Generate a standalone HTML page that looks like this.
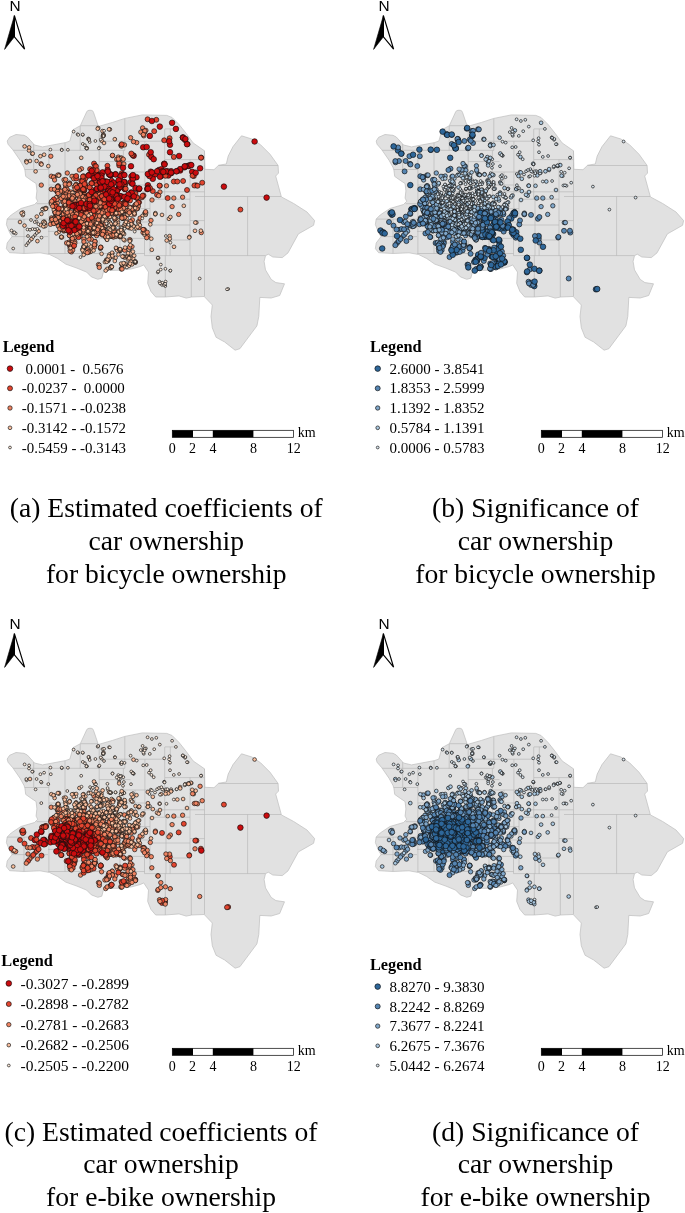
<!DOCTYPE html>
<html lang="en"><head><meta charset="utf-8"><title>Estimated coefficients and significance of car ownership</title>
<style>
html,body{margin:0;padding:0;background:#fff}
svg{display:block}
text{font-family:"Liberation Serif","Times New Roman",serif;fill:#000}
.lt{font-weight:bold}
.nn{font-family:"Liberation Sans",Arial,sans-serif}
.cap{font-size:27.6px;text-anchor:middle}
.pt circle,circle{stroke:#0c0c0c;stroke-width:.65px}
.r1{fill:#cb0b0e;r:2.8px}.b1{fill:#2e679a;r:2.8px}.r2{fill:#e2452f;r:2.5px}.b2{fill:#5585b2;r:2.5px}.r3{fill:#ee8462;r:2.2px}.b3{fill:#80a7ca;r:2.2px}.r4{fill:#f9bf9e;r:1.85px}.b4{fill:#a9c7df;r:1.85px}.r5{fill:#fdebdd;r:1.4px}.b5{fill:#dbe7f0;r:1.4px}
</style></head><body>
<svg width="685" height="1213" viewBox="0 0 685 1213">
<rect width="685" height="1213" fill="#fff"/>
<defs>
<clipPath id="clip"><path d="M86.6,112 87.6,110.7 89,110.3 91.2,110.3 92.6,110.8 93.5,112.3 98.3,126.5 112.5,122.4 124.8,118.4 142.3,114.9 166.8,115.4 172.1,117.5 179.1,124.5 186.1,133.3 193.1,142.9 204.5,150.8 204.9,169.3 214,169.7 218.7,165.2 226.3,164 228.2,156.1 233,146.6 241.5,135.8 251.9,139 260.5,144.7 270,154.2 278.1,165.5 278.5,173.1 275.7,176 281.4,196.9 293.7,203.5 307,212 314.6,220.6 313.6,225.3 298.4,233.9 288,252.9 282.3,257.6 272.8,257 268.3,254.2 265.5,255.7 264.1,261.4 265.5,269.9 271.2,279.4 275.9,282.6 284.5,283.8 279.7,295.5 271.2,298 259.8,297.4 258.8,316.4 256.9,325.9 239.9,348.7 235.1,350.2 224.7,342 216.1,337.3 212.3,327.8 211,316.4 212.3,305 204.2,296.5 191.8,297 186.2,298.1 179,295.9 165.3,297 155.7,297 150.9,291.4 147.7,283.4 148.5,272.1 143.7,264.9 140.4,266.5 131.5,268.9 120.3,270.2 107.4,270.5 103.4,272.1 101.8,278.2 97.8,279.3 91.4,276.9 86.6,272.1 76.9,268.1 65.7,264.1 57.7,258.5 49.6,254.5 40,252.8 24.1,253.5 9.6,252.7 6.4,248.7 7.2,243 12,236.6 9.6,232.6 6.4,224.6 7.2,219 11.2,215 20.9,208.5 34.5,204.5 37.7,201.3 36.1,198.1 36.9,190.9 36.1,183.6 31.3,180.4 25.7,176.4 24.9,170 24,167.4 20,160.2 12.8,149.8 8,144.2 7.2,141 9.6,137.3 16,134.5 24,135.3 27.3,137 34.5,145 42.5,146.9 65.8,142.5 69.9,141 73,129.7 80.3,125.7Z"/></clipPath>
<g id="base">
<path d="M86.6,112 87.6,110.7 89,110.3 91.2,110.3 92.6,110.8 93.5,112.3 98.3,126.5 112.5,122.4 124.8,118.4 142.3,114.9 166.8,115.4 172.1,117.5 179.1,124.5 186.1,133.3 193.1,142.9 204.5,150.8 204.9,169.3 214,169.7 218.7,165.2 226.3,164 228.2,156.1 233,146.6 241.5,135.8 251.9,139 260.5,144.7 270,154.2 278.1,165.5 278.5,173.1 275.7,176 281.4,196.9 293.7,203.5 307,212 314.6,220.6 313.6,225.3 298.4,233.9 288,252.9 282.3,257.6 272.8,257 268.3,254.2 265.5,255.7 264.1,261.4 265.5,269.9 271.2,279.4 275.9,282.6 284.5,283.8 279.7,295.5 271.2,298 259.8,297.4 258.8,316.4 256.9,325.9 239.9,348.7 235.1,350.2 224.7,342 216.1,337.3 212.3,327.8 211,316.4 212.3,305 204.2,296.5 191.8,297 186.2,298.1 179,295.9 165.3,297 155.7,297 150.9,291.4 147.7,283.4 148.5,272.1 143.7,264.9 140.4,266.5 131.5,268.9 120.3,270.2 107.4,270.5 103.4,272.1 101.8,278.2 97.8,279.3 91.4,276.9 86.6,272.1 76.9,268.1 65.7,264.1 57.7,258.5 49.6,254.5 40,252.8 24.1,253.5 9.6,252.7 6.4,248.7 7.2,243 12,236.6 9.6,232.6 6.4,224.6 7.2,219 11.2,215 20.9,208.5 34.5,204.5 37.7,201.3 36.1,198.1 36.9,190.9 36.1,183.6 31.3,180.4 25.7,176.4 24.9,170 24,167.4 20,160.2 12.8,149.8 8,144.2 7.2,141 9.6,137.3 16,134.5 24,135.3 27.3,137 34.5,145 42.5,146.9 65.8,142.5 69.9,141 73,129.7 80.3,125.7Z" fill="#e1e1e1" stroke="#bdbdbd" stroke-width="0.7" stroke-linejoin="round"/>
<path d="M12.8,150.3L125,150.3M23.5,169.5L48.9,169.5M36.6,203.7L65,203.7M65,180L99.2,180M99.2,161.6L130.5,161.6M99.2,141.2L165,141.2M165,128.9L177.3,128.9M165,159.6L204.5,159.6M204.5,165.5L278.1,165.5M195,196.5L281.4,196.5M135,191.8L204.5,191.8M190,220.6L204.5,220.6M144.5,255.6L265.5,255.6M48.2,253.5L144.5,253.5M4,219.1L48,219.1M10,236.6L48,236.6M48,231.4L100,231.4M100,238.4L150,238.4M65,191.8L99,191.8M99,208.6L150,208.6M150,199.2L190,199.2M150,225L190,225M166,240L190,240M123.4,172L166,172M123.4,185L144.9,185M80.3,125.7L99.2,125.7M48.9,185L65,185M65,215L99,215M120,222L150,222M65,243L100,243M33.7,143.9L33.7,169.5M48.9,150.3L48.9,253.5M65,142.5L65,253.5M80.2,125.7L80.2,150.3M99.2,125.7L99.2,253.5M124.8,118.4L124.8,150.3M123.4,150.3L123.4,208.6M144.9,141.2L144.9,208.6M164.7,128.9L164.7,199.2M170.3,128.9L170.3,141.2M190,159.6L190,255.6M204.5,150.8L204.5,296.5M247.6,196.5L247.6,255.6M165.3,255.6L165.3,297M170.1,240L170.1,255.6M191.3,255.6L191.3,297M144.5,238.4L144.5,255.6M150,199.2L150,253.5M120,208.6L120,253.5M82,180L82,231.4M24,219.1L24,253.5M166,199.2L166,255.6M135,172L135,191.8M110,208.6L110,238.4M82,231.4L82,253.5" fill="none" stroke="#b2b2b2" stroke-width="0.6" clip-path="url(#clip)"/>
</g>
<g id="north">
<text x="15.1" y="11.4" class="nn" font-size="15.4" text-anchor="middle">N</text>
<path d="M14.4,15.6 L4.6,49.4 L14.4,36.8Z" fill="#000" stroke="#000" stroke-width="0.6" stroke-linejoin="miter"/>
<path d="M14.4,15.6 L24.6,49.2 L14.4,36.8Z" fill="#fff" stroke="#000" stroke-width="1.2" stroke-linejoin="miter"/>
</g>
<g id="scale">
<rect x="172.3" y="430.3" width="121.3" height="7" fill="#fff" stroke="#000" stroke-width="0.7"/>
<rect x="172.3" y="430.3" width="20.7" height="7" fill="#000"/>
<rect x="212.8" y="430.3" width="40.6" height="7" fill="#000"/>
<g font-size="14" text-anchor="middle"><text x="172.3" y="452.8">0</text><text x="192.6" y="452.8">2</text><text x="213" y="452.8">4</text><text x="253.6" y="452.8">8</text><text x="293.8" y="452.8">12</text></g>
<text x="297.8" y="437.4" font-size="14">km</text>
</g>
</defs>
<g transform="translate(0 0)">
<use href="#north"/>
<use href="#base"/>
<g class="pt"><circle class=r3 r=2.2 cx=89.8 cy=212.6 /><circle class=r3 r=2.2 cx=58.8 cy=187.4 /><circle class=r3 r=2.2 cx=78.3 cy=213.8 /><circle class=r3 r=2.2 cx=69.5 cy=205.9 /><circle class=r3 r=2.2 cx=99.6 cy=206 /><circle class=r3 r=2.2 cx=103.7 cy=213.4 /><circle class=r3 r=2.2 cx=104 cy=228.2 /><circle class=r3 r=2.2 cx=50.5 cy=224.3 /><circle class=r3 r=2.2 cx=112.5 cy=155.7 /><circle class=r3 r=2.2 cx=96.6 cy=209.2 /><circle class=r3 r=2.2 cx=132 cy=246.6 /><circle class=r3 r=2.2 cx=54.1 cy=199.6 /><circle class=r3 r=2.2 cx=79.6 cy=215.8 /><circle class=r3 r=2.2 cx=96.6 cy=225.4 /><circle class=r3 r=2.2 cx=65.5 cy=207 /><circle class=r3 r=2.2 cx=101 cy=225.6 /><circle class=r3 r=2.2 cx=65.7 cy=186.3 /><circle class=r3 r=2.2 cx=101.1 cy=226.3 /><circle class=r3 r=2.2 cx=76.3 cy=189.5 /><circle class=r3 r=2.2 cx=97.6 cy=210.2 /><circle class=r3 r=2.2 cx=58.1 cy=186 /><circle class=r3 r=2.2 cx=144.6 cy=132.6 /><circle class=r3 r=2.2 cx=99.2 cy=225.4 /><circle class=r3 r=2.2 cx=81.1 cy=223.2 /><circle class=r3 r=2.2 cx=90.9 cy=217.3 /><circle class=r3 r=2.2 cx=65.9 cy=212.3 /><circle class=r3 r=2.2 cx=88.6 cy=216.2 /><circle class=r3 r=2.2 cx=83.5 cy=197.5 /><circle class=r3 r=2.2 cx=99.8 cy=220 /><circle class=r3 r=2.2 cx=93.9 cy=200.7 /><circle class=r3 r=2.2 cx=83.8 cy=197.9 /><circle class=r3 r=2.2 cx=94.9 cy=228.3 /><circle class=r3 r=2.2 cx=77.4 cy=227 /><circle class=r3 r=2.2 cx=78.7 cy=213.6 /><circle class=r3 r=2.2 cx=69.7 cy=183.1 /><circle class=r3 r=2.2 cx=84.7 cy=219.1 /><circle class=r3 r=2.2 cx=67.4 cy=208.3 /><circle class=r3 r=2.2 cx=118.4 cy=209.1 /><circle class=r3 r=2.2 cx=122.5 cy=233.4 /><circle class=r3 r=2.2 cx=70.6 cy=201.4 /><circle class=r3 r=2.2 cx=85.9 cy=219.3 /><circle class=r3 r=2.2 cx=71.8 cy=238.9 /><circle class=r3 r=2.2 cx=69.8 cy=192.7 /><circle class=r3 r=2.2 cx=69.2 cy=205.5 /><circle class=r3 r=2.2 cx=84.8 cy=218.7 /><circle class=r3 r=2.2 cx=95.2 cy=232.5 /><circle class=r3 r=2.2 cx=51.3 cy=176.2 /><circle class=r3 r=2.2 cx=106.4 cy=213.9 /><circle class=r3 r=2.2 cx=92.3 cy=209.5 /><circle class=r3 r=2.2 cx=71.9 cy=194.9 /><circle class=r3 r=2.2 cx=63.2 cy=217.6 /><circle class=r3 r=2.2 cx=93.6 cy=230.2 /><circle class=r3 r=2.2 cx=70.3 cy=197.1 /><circle class=r3 r=2.2 cx=112.3 cy=211.8 /><circle class=r3 r=2.2 cx=71.5 cy=215.3 /><circle class=r3 r=2.2 cx=73.5 cy=214.3 /><circle class=r3 r=2.2 cx=81.7 cy=218.7 /><circle class=r3 r=2.2 cx=55.7 cy=203.5 /><circle class=r3 r=2.2 cx=69.5 cy=245.4 /><circle class=r3 r=2.2 cx=98.9 cy=226.1 /><circle class=r3 r=2.2 cx=107.4 cy=215 /><circle class=r3 r=2.2 cx=68.7 cy=242.3 /><circle class=r3 r=2.2 cx=89.5 cy=235.5 /><circle class=r3 r=2.2 cx=92 cy=215.3 /><circle class=r3 r=2.2 cx=57.4 cy=203.1 /><circle class=r3 r=2.2 cx=63.2 cy=190.7 /><circle class=r3 r=2.2 cx=106.4 cy=214.1 /><circle class=r3 r=2.2 cx=69.1 cy=206.3 /><circle class=r3 r=2.2 cx=90.7 cy=227.6 /><circle class=r3 r=2.2 cx=90.1 cy=219.3 /><circle class=r3 r=2.2 cx=65.3 cy=189.3 /><circle class=r3 r=2.2 cx=64.2 cy=193.1 /><circle class=r3 r=2.2 cx=95.6 cy=208.1 /><circle class=r3 r=2.2 cx=91 cy=223 /><circle class=r3 r=2.2 cx=70.6 cy=213.2 /><circle class=r3 r=2.2 cx=116.6 cy=248.7 /><circle class=r3 r=2.2 cx=131 cy=213.5 /><circle class=r3 r=2.2 cx=84.6 cy=201.8 /><circle class=r3 r=2.2 cx=77.7 cy=213.5 /><circle class=r3 r=2.2 cx=111 cy=236.4 /><circle class=r3 r=2.2 cx=152 cy=200 /><circle class=r3 r=2.2 cx=113 cy=236.6 /><circle class=r3 r=2.2 cx=87.7 cy=198.5 /><circle class=r3 r=2.2 cx=97.8 cy=217.5 /><circle class=r3 r=2.2 cx=105.8 cy=236.5 /><circle class=r3 r=2.2 cx=131.4 cy=222.4 /><circle class=r3 r=2.2 cx=55.1 cy=207.6 /><circle class=r3 r=2.2 cx=92.4 cy=203.3 /><circle class=r3 r=2.2 cx=79.5 cy=193.8 /><circle class=r3 r=2.2 cx=79 cy=204.2 /><circle class=r3 r=2.2 cx=82.9 cy=222.9 /><circle class=r3 r=2.2 cx=81.4 cy=233.2 /><circle class=r3 r=2.2 cx=79.1 cy=208.2 /><circle class=r3 r=2.2 cx=56.9 cy=191.7 /><circle class=r3 r=2.2 cx=78.8 cy=214.8 /><circle class=r3 r=2.2 cx=89.7 cy=202.8 /><circle class=r3 r=2.2 cx=71.5 cy=193.3 /><circle class=r3 r=2.2 cx=60.1 cy=209.8 /><circle class=r3 r=2.2 cx=66.6 cy=206.6 /><circle class=r3 r=2.2 cx=86.1 cy=220 /><circle class=r3 r=2.2 cx=61.5 cy=227.4 /><circle class=r3 r=2.2 cx=87.6 cy=202.5 /><circle class=r3 r=2.2 cx=75.6 cy=211.4 /><circle class=r3 r=2.2 cx=84.3 cy=218.2 /><circle class=r3 r=2.2 cx=83.2 cy=198.4 /><circle class=r3 r=2.2 cx=119 cy=209.5 /><circle class=r3 r=2.2 cx=75.8 cy=211.8 /><circle class=r3 r=2.2 cx=96.9 cy=217.4 /><circle class=r3 r=2.2 cx=118.3 cy=157.1 /><circle class=r3 r=2.2 cx=63 cy=208.6 /><circle class=r3 r=2.2 cx=93.3 cy=210.7 /><circle class=r3 r=2.2 cx=67.7 cy=209.2 /><circle class=r3 r=2.2 cx=72.4 cy=237.7 /><circle class=r3 r=2.2 cx=129.8 cy=239.6 /><circle class=r3 r=2.2 cx=160 cy=192 /><circle class=r3 r=2.2 cx=82.2 cy=212 /><circle class=r3 r=2.2 cx=64.2 cy=192.7 /><circle class=r3 r=2.2 cx=61.3 cy=226.4 /><circle class=r3 r=2.2 cx=100.1 cy=233.2 /><circle class=r3 r=2.2 cx=62.1 cy=227.2 /><circle class=r3 r=2.2 cx=129.2 cy=212.6 /><circle class=r3 r=2.2 cx=50.8 cy=156.2 /><circle class=r3 r=2.2 cx=93.7 cy=202.7 /><circle class=r3 r=2.2 cx=84 cy=201.8 /><circle class=r3 r=2.2 cx=87.4 cy=198.9 /><circle class=r3 r=2.2 cx=129.7 cy=208.9 /><circle class=r3 r=2.2 cx=77.8 cy=201.2 /><circle class=r3 r=2.2 cx=121 cy=145.4 /><circle class=r3 r=2.2 cx=73.6 cy=246.5 /><circle class=r3 r=2.2 cx=64 cy=192.9 /><circle class=r3 r=2.2 cx=83.1 cy=189.9 /><circle class=r3 r=2.2 cx=56.8 cy=221.6 /><circle class=r3 r=2.2 cx=85.8 cy=245.6 /><circle class=r3 r=2.2 cx=65.7 cy=220.7 /><circle class=r3 r=2.2 cx=78.2 cy=234.2 /><circle class=r3 r=2.2 cx=121.3 cy=145.2 /><circle class=r3 r=2.2 cx=114.1 cy=228.7 /><circle class=r3 r=2.2 cx=65.5 cy=209.3 /><circle class=r3 r=2.2 cx=82.2 cy=210.6 /><circle class=r3 r=2.2 cx=96.3 cy=209.2 /><circle class=r3 r=2.2 cx=53.8 cy=218.8 /><circle class=r3 r=2.2 cx=143.8 cy=135.8 /><circle class=r3 r=2.2 cx=107.2 cy=216.9 /><circle class=r3 r=2.2 cx=71.9 cy=216.9 /><circle class=r3 r=2.2 cx=81.1 cy=204.1 /><circle class=r3 r=2.2 cx=65.7 cy=204.7 /><circle class=r3 r=2.2 cx=90.3 cy=216.9 /><circle class=r3 r=2.2 cx=111.6 cy=212.3 /><circle class=r3 r=2.2 cx=59.5 cy=212.5 /><circle class=r3 r=2.2 cx=127.7 cy=226.7 /><circle class=r3 r=2.2 cx=77.5 cy=234.2 /><circle class=r4 r=1.85 cx=44.3 cy=226.3 /><circle class=r4 r=1.85 cx=109.4 cy=217.6 /><circle class=r4 r=1.85 cx=158.1 cy=258 /><circle class=r4 r=1.85 cx=44.1 cy=154.7 /><circle class=r3 r=2.2 cx=62.5 cy=212.1 /><circle class=r4 r=1.85 cx=113.3 cy=236.8 /><circle class=r3 r=2.2 cx=68.2 cy=202.9 /><circle class=r3 r=2.2 cx=119.9 cy=161.1 /><circle class=r4 r=1.85 cx=85.2 cy=251.7 /><circle class=r3 r=2.2 cx=60.6 cy=225.7 /><circle class=r3 r=2.2 cx=77.9 cy=209.6 /><circle class=r2 r=2.5 cx=142 cy=197.3 /><circle class=r3 r=2.2 cx=130.6 cy=137.7 /><circle class=r3 r=2.2 cx=91.9 cy=209.1 /><circle class=r2 r=2.5 cx=157 cy=194.8 /><circle class=r2 r=2.5 cx=202.2 cy=182.7 /><circle class=r4 r=1.85 cx=130.9 cy=253.3 /><circle class=r3 r=2.2 cx=123.1 cy=218.4 /><circle class=r3 r=2.2 cx=82.6 cy=213.5 /><circle class=r3 r=2.2 cx=122 cy=264.6 /><circle class=r4 r=1.85 cx=94.6 cy=245.1 /><circle class=r4 r=1.85 cx=45.5 cy=209 /><circle class=r3 r=2.2 cx=96.6 cy=204.7 /><circle class=r3 r=2.2 cx=59.6 cy=210.1 /><circle class=r3 r=2.2 cx=103.3 cy=232.2 /><circle class=r3 r=2.2 cx=84.1 cy=218 /><circle class=r3 r=2.2 cx=89.8 cy=224.6 /><circle class=r4 r=1.85 cx=131.6 cy=212.8 /><circle class=r2 r=2.5 cx=77.3 cy=234.5 /><circle class=r3 r=2.2 cx=139 cy=227.6 /><circle class=r3 r=2.2 cx=114.1 cy=231.5 /><circle class=r3 r=2.2 cx=88.6 cy=231.4 /><circle class=r3 r=2.2 cx=72.1 cy=195.8 /><circle class=r3 r=2.2 cx=143 cy=232.5 /><circle class=r2 r=2.5 cx=97.3 cy=199.1 /><circle class=r3 r=2.2 cx=132.4 cy=219.9 /><circle class=r3 r=2.2 cx=103.7 cy=228.7 /><circle class=r2 r=2.5 cx=121.7 cy=173.2 /><circle class=r3 r=2.2 cx=104 cy=228.9 /><circle class=r4 r=1.85 cx=35.6 cy=171.4 /><circle class=r4 r=1.85 cx=122.2 cy=265 /><circle class=r3 r=2.2 cx=51.4 cy=202 /><circle class=r3 r=2.2 cx=69.6 cy=201.7 /><circle class=r3 r=2.2 cx=72.6 cy=213.9 /><circle class=r4 r=1.85 cx=162 cy=214.9 /><circle class=r2 r=2.5 cx=115.4 cy=207.8 /><circle class=r2 r=2.5 cx=123.3 cy=203.1 /><circle class=r3 r=2.2 cx=83.8 cy=239.1 /><circle class=r3 r=2.2 cx=98 cy=203.2 /><circle class=r3 r=2.2 cx=72.4 cy=216.2 /><circle class=r4 r=1.85 cx=119 cy=212.5 /><circle class=r2 r=2.5 cx=56.5 cy=222.1 /><circle class=r4 r=1.85 cx=121.8 cy=218 /><circle class=r3 r=2.2 cx=85.8 cy=208.6 /><circle class=r4 r=1.85 cx=95.5 cy=244.7 /><circle class=r3 r=2.2 cx=95.2 cy=217.7 /><circle class=r3 r=2.2 cx=101.3 cy=232.6 /><circle class=r3 r=2.2 cx=102.1 cy=215.5 /><circle class=r3 r=2.2 cx=85.4 cy=216.2 /><circle class=r3 r=2.2 cx=98.8 cy=203.8 /><circle class=r2 r=2.5 cx=104.1 cy=199 /><circle class=r3 r=2.2 cx=60.8 cy=226.5 /><circle class=r3 r=2.2 cx=67 cy=189.4 /><circle class=r4 r=1.85 cx=88.4 cy=139 /><circle class=r3 r=2.2 cx=64.7 cy=211.3 /><circle class=r4 r=1.85 cx=107 cy=239.7 /><circle class=r3 r=2.2 cx=55.9 cy=220 /><circle class=r4 r=1.85 cx=189.4 cy=236.9 /><circle class=r3 r=2.2 cx=63.7 cy=195.9 /><circle class=r3 r=2.2 cx=88.1 cy=229.1 /><circle class=r2 r=2.5 cx=121.7 cy=175.7 /><circle class=r4 r=1.85 cx=76 cy=211.7 /><circle class=r3 r=2.2 cx=117.7 cy=211.6 /><circle class=r3 r=2.2 cx=123.9 cy=164 /><circle class=r2 r=2.5 cx=104 cy=207.4 /><circle class=r4 r=1.85 cx=86.8 cy=148.2 /><circle class=r3 r=2.2 cx=96 cy=208.2 /><circle class=r3 r=2.2 cx=82.9 cy=198.8 /><circle class=r2 r=2.5 cx=98.9 cy=196.7 /><circle class=r3 r=2.2 cx=87.2 cy=217.9 /><circle class=r4 r=1.85 cx=136.6 cy=209.2 /><circle class=r3 r=2.2 cx=69 cy=201.8 /><circle class=r4 r=1.85 cx=129.7 cy=248.7 /><circle class=r3 r=2.2 cx=58.7 cy=190.9 /><circle class=r3 r=2.2 cx=99.9 cy=232 /><circle class=r3 r=2.2 cx=89.3 cy=199.1 /><circle class=r3 r=2.2 cx=133 cy=155 /><circle class=r3 r=2.2 cx=89.6 cy=204.1 /><circle class=r3 r=2.2 cx=64 cy=179.8 /><circle class=r3 r=2.2 cx=118 cy=208.9 /><circle class=r3 r=2.2 cx=98.3 cy=202.4 /><circle class=r3 r=2.2 cx=134.4 cy=214.3 /><circle class=r3 r=2.2 cx=57.3 cy=215.9 /><circle class=r4 r=1.85 cx=30 cy=161 /><circle class=r2 r=2.5 cx=173.8 cy=156.9 /><circle class=r3 r=2.2 cx=66.3 cy=204.5 /><circle class=r2 r=2.5 cx=106.8 cy=209.6 /><circle class=r4 r=1.85 cx=129.3 cy=228.1 /><circle class=r3 r=2.2 cx=88 cy=207.1 /><circle class=r4 r=1.85 cx=144.5 cy=213.1 /><circle class=r2 r=2.5 cx=125.1 cy=203.4 /><circle class=r4 r=1.85 cx=106.4 cy=236.7 /><circle class=r3 r=2.2 cx=66.7 cy=217.7 /><circle class=r4 r=1.85 cx=135.5 cy=262.4 /><circle class=r2 r=2.5 cx=90 cy=199.5 /><circle class=r4 r=1.85 cx=106.1 cy=223.6 /><circle class=r4 r=1.85 cx=130.5 cy=259.3 /><circle class=r4 r=1.85 cx=114.7 cy=220 /><circle class=r3 r=2.2 cx=89 cy=218.2 /><circle class=r3 r=2.2 cx=77.1 cy=230.5 /><circle class=r4 r=1.85 cx=100.9 cy=247.9 /><circle class=r2 r=2.5 cx=103.6 cy=199.7 /><circle class=r4 r=1.85 cx=31.5 cy=239 /><circle class=r2 r=2.5 cx=92.7 cy=212.7 /><circle class=r2 r=2.5 cx=108.8 cy=208.6 /><circle class=r3 r=2.2 cx=142.6 cy=127.9 /><circle class=r3 r=2.2 cx=73.5 cy=223.7 /><circle class=r4 r=1.85 cx=84.1 cy=247 /><circle class=r3 r=2.2 cx=89.6 cy=204 /><circle class=r3 r=2.2 cx=68.4 cy=211.8 /><circle class=r4 r=1.85 cx=117.2 cy=250.5 /><circle class=r3 r=2.2 cx=123.9 cy=256.9 /><circle class=r3 r=2.2 cx=96.2 cy=200.7 /><circle class=r3 r=2.2 cx=89.3 cy=224.6 /><circle class=r2 r=2.5 cx=139.3 cy=188.9 /><circle class=r3 r=2.2 cx=106.6 cy=259.9 /><circle class=r2 r=2.5 cx=196 cy=185.3 /><circle class=r4 r=1.85 cx=118.4 cy=254.5 /><circle class=r2 r=2.5 cx=136.1 cy=197.3 /><circle class=r3 r=2.2 cx=59.2 cy=212.8 /><circle class=r3 r=2.2 cx=73.8 cy=196.8 /><circle class=r2 r=2.5 cx=173.8 cy=181.5 /><circle class=r2 r=2.5 cx=96.1 cy=200.6 /><circle class=r2 r=2.5 cx=124.4 cy=188.8 /><circle class=r2 r=2.5 cx=83.4 cy=207.3 /><circle class=r4 r=1.85 cx=24.6 cy=146.4 /><circle class=r3 r=2.2 cx=80 cy=236.3 /><circle class=r4 r=1.85 cx=129.3 cy=212.8 /><circle class=r3 r=2.2 cx=85 cy=228.2 /><circle class=r4 r=1.85 cx=103.3 cy=134.9 /><circle class=r2 r=2.5 cx=94 cy=198.1 /><circle class=r3 r=2.2 cx=76.5 cy=184.8 /><circle class=r4 r=1.85 cx=115.7 cy=214.2 /><circle class=r2 r=2.5 cx=143.5 cy=195.5 /><circle class=r3 r=2.2 cx=124.5 cy=144.9 /><circle class=r2 r=2.5 cx=135.5 cy=193.9 /><circle class=r4 r=1.85 cx=113.4 cy=227.8 /><circle class=r3 r=2.2 cx=93.6 cy=206.8 /><circle class=r4 r=1.85 cx=151.8 cy=249.8 /><circle class=r4 r=1.85 cx=122.8 cy=232.4 /><circle class=r3 r=2.2 cx=68.7 cy=194.2 /><circle class=r2 r=2.5 cx=104.5 cy=199.7 /><circle class=r2 r=2.5 cx=107.4 cy=165.8 /><circle class=r3 r=2.2 cx=99 cy=203.8 /><circle class=r3 r=2.2 cx=57 cy=197.5 /><circle class=r2 r=2.5 cx=109.2 cy=187.4 /><circle class=r2 r=2.5 cx=83.4 cy=189.6 /><circle class=r3 r=2.2 cx=74.1 cy=216 /><circle class=r3 r=2.2 cx=138.5 cy=221.6 /><circle class=r4 r=1.85 cx=124.9 cy=265.8 /><circle class=r3 r=2.2 cx=63.7 cy=208.3 /><circle class=r3 r=2.2 cx=77.5 cy=211.5 /><circle class=r4 r=1.85 cx=105 cy=219.5 /><circle class=r4 r=1.85 cx=111.4 cy=256.8 /><circle class=r4 r=1.85 cx=168.9 cy=218.8 /><circle class=r3 r=2.2 cx=74 cy=235.6 /><circle class=r4 r=1.85 cx=126 cy=223 /><circle class=r4 r=1.85 cx=103.1 cy=221.5 /><circle class=r2 r=2.5 cx=96.7 cy=180.9 /><circle class=r2 r=2.5 cx=85.1 cy=186.9 /><circle class=r2 r=2.5 cx=99.1 cy=195.3 /><circle class=r3 r=2.2 cx=84.9 cy=233.3 /><circle class=r3 r=2.2 cx=85.2 cy=218.3 /><circle class=r4 r=1.85 cx=96.8 cy=228.3 /><circle class=r3 r=2.2 cx=100.9 cy=206.6 /><circle class=r2 r=2.5 cx=109 cy=209.2 /><circle class=r2 r=2.5 cx=96 cy=202.3 /><circle class=r3 r=2.2 cx=75.8 cy=189.8 /><circle class=r4 r=1.85 cx=93 cy=233.2 /><circle class=r3 r=2.2 cx=98.6 cy=233 /><circle class=r3 r=2.2 cx=70.8 cy=192 /><circle class=r2 r=2.5 cx=136.9 cy=198 /><circle class=r4 r=1.85 cx=107.9 cy=260.8 /><circle class=r3 r=2.2 cx=88 cy=198.3 /><circle class=r3 r=2.2 cx=119.4 cy=208.6 /><circle class=r4 r=1.85 cx=129.2 cy=213 /><circle class=r3 r=2.2 cx=121.3 cy=157.9 /><circle class=r2 r=2.5 cx=93 cy=201.5 /><circle class=r3 r=2.2 cx=55.5 cy=211.8 /><circle class=r3 r=2.2 cx=173.8 cy=198.1 /><circle class=r4 r=1.85 cx=110.3 cy=254.7 /><circle class=r3 r=2.2 cx=58.2 cy=207.9 /><circle class=r3 r=2.2 cx=86 cy=222.7 /><circle class=r4 r=1.85 cx=126.7 cy=256.3 /><circle class=r3 r=2.2 cx=83.8 cy=193.3 /><circle class=r4 r=1.85 cx=125 cy=257.4 /><circle class=r3 r=2.2 cx=80.6 cy=193.4 /><circle class=r4 r=1.85 cx=26.3 cy=161.1 /><circle class=r2 r=2.5 cx=99.2 cy=195.2 /><circle class=r3 r=2.2 cx=59.3 cy=218 /><circle class=r3 r=2.2 cx=56.3 cy=222.5 /><circle class=r2 r=2.5 cx=83.6 cy=176.2 /><circle class=r4 r=1.85 cx=105.3 cy=216.6 /><circle class=r3 r=2.2 cx=109 cy=209 /><circle class=r4 r=1.85 cx=132.5 cy=211.3 /><circle class=r2 r=2.5 cx=106.5 cy=207.6 /><circle class=r2 r=2.5 cx=90 cy=220.9 /><circle class=r3 r=2.2 cx=76.9 cy=211.6 /><circle class=r2 r=2.5 cx=77.8 cy=192.5 /><circle class=r3 r=2.2 cx=82.7 cy=214.2 /><circle class=r3 r=2.2 cx=136.7 cy=142.6 /><circle class=r3 r=2.2 cx=87.1 cy=214.2 /><circle class=r3 r=2.2 cx=69.2 cy=219.5 /><circle class=r4 r=1.85 cx=83.7 cy=252.4 /><circle class=r3 r=2.2 cx=67 cy=207.2 /><circle class=r4 r=1.85 cx=115.9 cy=213.6 /><circle class=r2 r=2.5 cx=80.3 cy=214.8 /><circle class=r2 r=2.5 cx=125.3 cy=204.3 /><circle class=r3 r=2.2 cx=72.1 cy=216.2 /><circle class=r3 r=2.2 cx=57.1 cy=199.4 /><circle class=r3 r=2.2 cx=67 cy=211.5 /><circle class=r3 r=2.2 cx=120.3 cy=250.2 /><circle class=r3 r=2.2 cx=82.1 cy=198 /><circle class=r3 r=2.2 cx=172.1 cy=206.6 /><circle class=r2 r=2.5 cx=84.2 cy=190.4 /><circle class=r3 r=2.2 cx=91.8 cy=217.1 /><circle class=r4 r=1.85 cx=115.6 cy=257.8 /><circle class=r4 r=1.85 cx=128.8 cy=212.7 /><circle class=r3 r=2.2 cx=98.5 cy=264.6 /><circle class=r3 r=2.2 cx=102.5 cy=212 /><circle class=r4 r=1.85 cx=45.2 cy=223.7 /><circle class=r4 r=1.85 cx=36.6 cy=161 /><circle class=r3 r=2.2 cx=67.5 cy=204.4 /><circle class=r3 r=2.2 cx=143.5 cy=131.6 /><circle class=r3 r=2.2 cx=67.1 cy=219.8 /><circle class=r4 r=1.85 cx=91.7 cy=248.4 /><circle class=r2 r=2.5 cx=90.5 cy=197.6 /><circle class=r3 r=2.2 cx=70.7 cy=218.9 /><circle class=r4 r=1.85 cx=56.8 cy=215.8 /><circle class=r2 r=2.5 cx=92.8 cy=194 /><circle class=r3 r=2.2 cx=87.2 cy=230.1 /><circle class=r2 r=2.5 cx=105.4 cy=206.7 /><circle class=r4 r=1.85 cx=56 cy=197.3 /><circle class=r4 r=1.85 cx=123.1 cy=256.6 /><circle class=r3 r=2.2 cx=92.2 cy=207.7 /><circle class=r3 r=2.2 cx=90.9 cy=197.1 /><circle class=r2 r=2.5 cx=83.4 cy=181.5 /><circle class=r3 r=2.2 cx=130.4 cy=221.6 /><circle class=r3 r=2.2 cx=92.6 cy=209.3 /><circle class=r3 r=2.2 cx=120.7 cy=207.1 /><circle class=r2 r=2.5 cx=90.6 cy=196 /><circle class=r4 r=1.85 cx=133.6 cy=225.8 /><circle class=r3 r=2.2 cx=95.7 cy=230.9 /><circle class=r3 r=2.2 cx=96.6 cy=235.7 /><circle class=r3 r=2.2 cx=103.7 cy=207.7 /><circle class=r3 r=2.2 cx=88.3 cy=224.3 /><circle class=r2 r=2.5 cx=105.2 cy=207 /><circle class=r2 r=2.5 cx=115.9 cy=206.4 /><circle class=r4 r=1.85 cx=56.4 cy=218.8 /><circle class=r2 r=2.5 cx=85.3 cy=185.2 /><circle class=r3 r=2.2 cx=62.7 cy=201.9 /><circle class=r3 r=2.2 cx=67 cy=189.3 /><circle class=r3 r=2.2 cx=103.2 cy=229.2 /><circle class=r2 r=2.5 cx=106.3 cy=181.3 /><circle class=r2 r=2.5 cx=97.9 cy=200.9 /><circle class=r3 r=2.2 cx=89.5 cy=213.7 /><circle class=r3 r=2.2 cx=97.9 cy=216.3 /><circle class=r3 r=2.2 cx=78.3 cy=216.5 /><circle class=r2 r=2.5 cx=95.3 cy=199.3 /><circle class=r4 r=1.85 cx=38.6 cy=231.2 /><circle class=r3 r=2.2 cx=122.3 cy=216.5 /><circle class=r4 r=1.85 cx=117.8 cy=224.5 /><circle class=r3 r=2.2 cx=69.6 cy=183.5 /><circle class=r3 r=2.2 cx=94 cy=216.4 /><circle class=r4 r=1.85 cx=138.6 cy=222.5 /><circle class=r2 r=2.5 cx=78.9 cy=234.2 /><circle class=r2 r=2.5 cx=94.2 cy=197 /><circle class=r2 r=2.5 cx=188.3 cy=165.5 /><circle class=r3 r=2.2 cx=88.9 cy=200.1 /><circle class=r3 r=2.2 cx=75.2 cy=229.1 /><circle class=r2 r=2.5 cx=113.8 cy=205.1 /><circle class=r2 r=2.5 cx=106 cy=208.6 /><circle class=r3 r=2.2 cx=72.5 cy=205.8 /><circle class=r4 r=1.85 cx=58.9 cy=232 /><circle class=r3 r=2.2 cx=71.4 cy=251.9 /><circle class=r4 r=1.85 cx=105.5 cy=236.8 /><circle class=r4 r=1.85 cx=119.1 cy=210.9 /><circle class=r3 r=2.2 cx=79.1 cy=187.6 /><circle class=r4 r=1.85 cx=111.7 cy=256.5 /><circle class=r3 r=2.2 cx=116.7 cy=159.4 /><circle class=r3 r=2.2 cx=54.2 cy=177 /><circle class=r3 r=2.2 cx=70.3 cy=247.1 /><circle class=r3 r=2.2 cx=61.3 cy=226.4 /><circle class=r3 r=2.2 cx=70.2 cy=216.7 /><circle class=r3 r=2.2 cx=81.2 cy=230.3 /><circle class=r3 r=2.2 cx=90 cy=221.7 /><circle class=r3 r=2.2 cx=182.6 cy=197.2 /><circle class=r4 r=1.85 cx=44.3 cy=221.6 /><circle class=r3 r=2.2 cx=66 cy=214.8 /><circle class=r2 r=2.5 cx=94 cy=163.5 /><circle class=r4 r=1.85 cx=99.3 cy=225.5 /><circle class=r3 r=2.2 cx=78.7 cy=196.3 /><circle class=r4 r=1.85 cx=107.2 cy=223.2 /><circle class=r4 r=1.85 cx=104.9 cy=262 /><circle class=r4 r=1.85 cx=129.5 cy=211.4 /><circle class=r3 r=2.2 cx=93.7 cy=225.9 /><circle class=r3 r=2.2 cx=92.5 cy=218.2 /><circle class=r3 r=2.2 cx=55.2 cy=204.6 /><circle class=r3 r=2.2 cx=201.3 cy=232.6 /><circle class=r2 r=2.5 cx=136.9 cy=205 /><circle class=r3 r=2.2 cx=90.9 cy=216.6 /><circle class=r3 r=2.2 cx=147.7 cy=236.1 /><circle class=r3 r=2.2 cx=84.9 cy=218 /><circle class=r3 r=2.2 cx=72.7 cy=250.1 /><circle class=r3 r=2.2 cx=54 cy=223.5 /><circle class=r3 r=2.2 cx=83.1 cy=225 /><circle class=r3 r=2.2 cx=85.8 cy=223.1 /><circle class=r4 r=1.85 cx=110.2 cy=267.7 /><circle class=r2 r=2.5 cx=112.6 cy=182.9 /><circle class=r3 r=2.2 cx=71.7 cy=195.4 /><circle class=r3 r=2.2 cx=76.7 cy=228.2 /><circle class=r3 r=2.2 cx=87.8 cy=216.5 /><circle class=r2 r=2.5 cx=159.8 cy=185.8 /><circle class=r3 r=2.2 cx=61 cy=220.8 /><circle class=r3 r=2.2 cx=108.2 cy=232.9 /><circle class=r3 r=2.2 cx=94.2 cy=203.8 /><circle class=r3 r=2.2 cx=53.5 cy=177.2 /><circle class=r3 r=2.2 cx=66.5 cy=209.4 /><circle class=r3 r=2.2 cx=61.9 cy=210.9 /><circle class=r3 r=2.2 cx=61 cy=191.2 /><circle class=r4 r=1.85 cx=133.9 cy=226.5 /><circle class=r3 r=2.2 cx=66 cy=216 /><circle class=r3 r=2.2 cx=65.4 cy=196.5 /><circle class=r3 r=2.2 cx=95.2 cy=224.4 /><circle class=r4 r=1.85 cx=116 cy=247.8 /><circle class=r3 r=2.2 cx=58.8 cy=210.7 /><circle class=r4 r=1.85 cx=110 cy=216.8 /><circle class=r3 r=2.2 cx=98.8 cy=223.9 /><circle class=r3 r=2.2 cx=96.2 cy=228.3 /><circle class=r4 r=1.85 cx=130.4 cy=257.1 /><circle class=r4 r=1.85 cx=85.2 cy=215.7 /><circle class=r2 r=2.5 cx=121.9 cy=184.8 /><circle class=r4 r=1.85 cx=69.7 cy=235.3 /><circle class=r3 r=2.2 cx=145.5 cy=212.6 /><circle class=r4 r=1.85 cx=127.3 cy=226.7 /><circle class=r3 r=2.2 cx=73.3 cy=198.1 /><circle class=r4 r=1.85 cx=132.1 cy=208.7 /><circle class=r3 r=2.2 cx=64.6 cy=218.4 /><circle class=r4 r=1.85 cx=128.7 cy=249.6 /><circle class=r3 r=2.2 cx=78.2 cy=233.8 /><circle class=r4 r=1.85 cx=102.9 cy=136.3 /><circle class=r3 r=2.2 cx=88.6 cy=231.1 /><circle class=r3 r=2.2 cx=68.5 cy=205 /><circle class=r3 r=2.2 cx=93.5 cy=216.2 /><circle class=r4 r=1.85 cx=123.3 cy=233.1 /><circle class=r3 r=2.2 cx=82.6 cy=185.6 /><circle class=r3 r=2.2 cx=96.4 cy=209 /><circle class=r4 r=1.85 cx=64.7 cy=181.7 /><circle class=r3 r=2.2 cx=121.5 cy=146.1 /><circle class=r3 r=2.2 cx=64.4 cy=218.8 /><circle class=r3 r=2.2 cx=82.9 cy=211.1 /><circle class=r3 r=2.2 cx=64.6 cy=201.6 /><circle class=r2 r=2.5 cx=142.5 cy=195.8 /><circle class=r3 r=2.2 cx=71.2 cy=198.8 /><circle class=r2 r=2.5 cx=129.5 cy=198.7 /><circle class=r3 r=2.2 cx=60.9 cy=210 /><circle class=r3 r=2.2 cx=83 cy=221 /><circle class=r4 r=1.85 cx=122.4 cy=256.5 /><circle class=r4 r=1.85 cx=90.7 cy=227.8 /><circle class=r3 r=2.2 cx=70.1 cy=251 /><circle class=r4 r=1.85 cx=110 cy=223.6 /><circle class=r3 r=2.2 cx=87.6 cy=207.4 /><circle class=r3 r=2.2 cx=94.6 cy=222.5 /><circle class=r3 r=2.2 cx=83.7 cy=226.7 /><circle class=r3 r=2.2 cx=103.4 cy=233 /><circle class=r4 r=1.85 cx=111.7 cy=266.8 /><circle class=r2 r=2.5 cx=88.7 cy=198.5 /><circle class=r3 r=2.2 cx=101.8 cy=216.5 /><circle class=r3 r=2.2 cx=58.2 cy=212.7 /><circle class=r3 r=2.2 cx=91.1 cy=223.3 /><circle class=r4 r=1.85 cx=55.7 cy=211.4 /><circle class=r3 r=2.2 cx=83.6 cy=212.4 /><circle class=r3 r=2.2 cx=81.3 cy=219.7 /><circle class=r3 r=2.2 cx=97.8 cy=214.3 /><circle class=r2 r=2.5 cx=100.1 cy=194 /><circle class=r4 r=1.85 cx=111 cy=267.7 /><circle class=r2 r=2.5 cx=95.5 cy=202.2 /><circle class=r3 r=2.2 cx=92.7 cy=217.3 /><circle class=r3 r=2.2 cx=78.5 cy=236 /><circle class=r3 r=2.2 cx=90.9 cy=217.7 /><circle class=r2 r=2.5 cx=73.3 cy=202.1 /><circle class=r3 r=2.2 cx=72.1 cy=215.1 /><circle class=r3 r=2.2 cx=96.8 cy=223.8 /><circle class=r2 r=2.5 cx=114.9 cy=206.8 /><circle class=r4 r=1.85 cx=86.3 cy=225.3 /><circle class=r2 r=2.5 cx=98 cy=200.2 /><circle class=r3 r=2.2 cx=83.8 cy=223.5 /><circle class=r3 r=2.2 cx=76 cy=184.4 /><circle class=r4 r=1.85 cx=83.7 cy=254.8 /><circle class=r3 r=2.2 cx=66.1 cy=196.5 /><circle class=r3 r=2.2 cx=121.4 cy=144.7 /><circle class=r5 r=1.4 cx=165.6 cy=281.6 /><circle class=r4 r=1.85 cx=102.5 cy=131.1 /><circle class=r4 r=1.85 cx=169.6 cy=236.1 /><circle class=r3 r=2.2 cx=71.6 cy=197.7 /><circle class=r3 r=2.2 cx=69.2 cy=200.7 /><circle class=r3 r=2.2 cx=77.2 cy=213.4 /><circle class=r3 r=2.2 cx=87.8 cy=197.7 /><circle class=r2 r=2.5 cx=105.4 cy=210.2 /><circle class=r4 r=1.85 cx=92.7 cy=233 /><circle class=r4 r=1.85 cx=77.7 cy=234.7 /><circle class=r4 r=1.85 cx=109.3 cy=254.6 /><circle class=r4 r=1.85 cx=99.4 cy=265 /><circle class=r4 r=1.85 cx=105.6 cy=236.8 /><circle class=r4 r=1.85 cx=101.6 cy=253.8 /><circle class=r3 r=2.2 cx=58.1 cy=212.5 /><circle class=r3 r=2.2 cx=86.4 cy=220.1 /><circle class=r3 r=2.2 cx=88.8 cy=215.9 /><circle class=r4 r=1.85 cx=144.5 cy=234.7 /><circle class=r4 r=1.85 cx=108.7 cy=222.4 /><circle class=r4 r=1.85 cx=106.5 cy=260.8 /><circle class=r3 r=2.2 cx=67.9 cy=208.6 /><circle class=r3 r=2.2 cx=84.4 cy=188.9 /><circle class=r3 r=2.2 cx=88.7 cy=210 /><circle class=r2 r=2.5 cx=87.3 cy=197.4 /><circle class=r3 r=2.2 cx=75.2 cy=208.6 /><circle class=r2 r=2.5 cx=105.7 cy=207.5 /><circle class=r3 r=2.2 cx=133.6 cy=155.7 /><circle class=r3 r=2.2 cx=82.1 cy=213.5 /><circle class=r4 r=1.85 cx=130.4 cy=240.5 /><circle class=r3 r=2.2 cx=82.8 cy=232.4 /><circle class=r3 r=2.2 cx=67.3 cy=173 /><circle class=r3 r=2.2 cx=89.4 cy=209.2 /><circle class=r3 r=2.2 cx=111.4 cy=234.3 /><circle class=r3 r=2.2 cx=87.3 cy=221.2 /><circle class=r4 r=1.85 cx=121 cy=268.5 /><circle class=r3 r=2.2 cx=56 cy=218 /><circle class=r3 r=2.2 cx=61.7 cy=225.1 /><circle class=r3 r=2.2 cx=41.3 cy=185.1 /><circle class=r3 r=2.2 cx=89.8 cy=221.4 /><circle class=r4 r=1.85 cx=97.7 cy=214.2 /><circle class=r3 r=2.2 cx=166.5 cy=185.8 /><circle class=r4 r=1.85 cx=83.4 cy=247.6 /><circle class=r5 r=1.4 cx=157.9 cy=257.8 /><circle class=r2 r=2.5 cx=88.4 cy=195.3 /><circle class=r2 r=2.5 cx=85.4 cy=178.4 /><circle class=r3 r=2.2 cx=119.1 cy=208.8 /><circle class=r3 r=2.2 cx=93.3 cy=206.9 /><circle class=r2 r=2.5 cx=100.8 cy=206.3 /><circle class=r4 r=1.85 cx=96 cy=232.1 /><circle class=r3 r=2.2 cx=70.6 cy=217.1 /><circle class=r2 r=2.5 cx=99.9 cy=196.9 /><circle class=r3 r=2.2 cx=64.8 cy=201.7 /><circle class=r3 r=2.2 cx=100.4 cy=248.2 /><circle class=r2 r=2.5 cx=96.7 cy=189.3 /><circle class=r3 r=2.2 cx=70.4 cy=227 /><circle class=r3 r=2.2 cx=123 cy=210.8 /><circle class=r3 r=2.2 cx=69.6 cy=196.7 /><circle class=r3 r=2.2 cx=118.5 cy=231.1 /><circle class=r3 r=2.2 cx=81.7 cy=209.7 /><circle class=r3 r=2.2 cx=151 cy=220.4 /><circle class=r4 r=1.85 cx=113.1 cy=227.7 /><circle class=r3 r=2.2 cx=94.9 cy=233.2 /><circle class=r2 r=2.5 cx=93.4 cy=192.7 /><circle class=r3 r=2.2 cx=51.5 cy=217.9 /><circle class=r3 r=2.2 cx=66.6 cy=243 /><circle class=r4 r=1.85 cx=90.6 cy=246.4 /><circle class=r3 r=2.2 cx=122.1 cy=217.9 /><circle class=r4 r=1.85 cx=100.5 cy=248.3 /><circle class=r3 r=2.2 cx=115.4 cy=213.4 /><circle class=r3 r=2.2 cx=78.2 cy=225.3 /><circle class=r3 r=2.2 cx=117.5 cy=208.1 /><circle class=r3 r=2.2 cx=73 cy=246.2 /><circle class=r3 r=2.2 cx=117.9 cy=211.1 /><circle class=r3 r=2.2 cx=67.2 cy=220.3 /><circle class=r3 r=2.2 cx=83.4 cy=227.8 /><circle class=r4 r=1.85 cx=22.9 cy=212.4 /><circle class=r3 r=2.2 cx=84.6 cy=220.8 /><circle class=r3 r=2.2 cx=62.4 cy=209.1 /><circle class=r3 r=2.2 cx=129.5 cy=247.3 /><circle class=r4 r=1.85 cx=67.9 cy=208.8 /><circle class=r2 r=2.5 cx=84.3 cy=190.1 /><circle class=r4 r=1.85 cx=24.5 cy=225.6 /><circle class=r4 r=1.85 cx=65.6 cy=208 /><circle class=r3 r=2.2 cx=85.3 cy=219.1 /><circle class=r3 r=2.2 cx=56.3 cy=220.4 /><circle class=r3 r=2.2 cx=66.8 cy=201.6 /><circle class=r4 r=1.85 cx=107.2 cy=268.9 /><circle class=r3 r=2.2 cx=125.3 cy=264.9 /><circle class=r2 r=2.5 cx=92.6 cy=209.2 /><circle class=r4 r=1.85 cx=72.4 cy=238.8 /><circle class=r3 r=2.2 cx=89.4 cy=233.3 /><circle class=r4 r=1.85 cx=92.2 cy=225.5 /><circle class=r5 r=1.4 cx=35 cy=235 /><circle class=r4 r=1.85 cx=126.9 cy=214.1 /><circle class=r3 r=2.2 cx=107.3 cy=236.1 /><circle class=r3 r=2.2 cx=62.1 cy=218.1 /><circle class=r3 r=2.2 cx=60.8 cy=226.8 /><circle class=r4 r=1.85 cx=101.8 cy=140.8 /><circle class=r3 r=2.2 cx=84.2 cy=215 /><circle class=r3 r=2.2 cx=72.8 cy=206.3 /><circle class=r4 r=1.85 cx=112.9 cy=228.5 /><circle class=r4 r=1.85 cx=57 cy=205.9 /><circle class=r3 r=2.2 cx=95.3 cy=218.3 /><circle class=r3 r=2.2 cx=133.5 cy=141.7 /><circle class=r3 r=2.2 cx=86.7 cy=209.8 /><circle class=r3 r=2.2 cx=68.2 cy=204.6 /><circle class=r3 r=2.2 cx=99.5 cy=228.1 /><circle class=r3 r=2.2 cx=73.2 cy=216.5 /><circle class=r3 r=2.2 cx=118.2 cy=207.6 /><circle class=r3 r=2.2 cx=71.6 cy=199.6 /><circle class=r4 r=1.85 cx=125.9 cy=222.9 /><circle class=r4 r=1.85 cx=29 cy=150.5 /><circle class=r3 r=2.2 cx=71.9 cy=201.4 /><circle class=r3 r=2.2 cx=61.4 cy=226.3 /><circle class=r3 r=2.2 cx=74.4 cy=237.8 /><circle class=r2 r=2.5 cx=102.4 cy=204.1 /><circle class=r2 r=2.5 cx=104.6 cy=207.5 /><circle class=r3 r=2.2 cx=51.2 cy=189.2 /><circle class=r3 r=2.2 cx=112.5 cy=155.3 /><circle class=r3 r=2.2 cx=70.1 cy=213.7 /><circle class=r3 r=2.2 cx=72.8 cy=215.6 /><circle class=r3 r=2.2 cx=76.8 cy=232.2 /><circle class=r3 r=2.2 cx=77.4 cy=232.2 /><circle class=r3 r=2.2 cx=83.1 cy=186.4 /><circle class=r3 r=2.2 cx=104.4 cy=211.1 /><circle class=r4 r=1.85 cx=129.7 cy=224.2 /><circle class=r2 r=2.5 cx=67 cy=219.9 /><circle class=r3 r=2.2 cx=107.2 cy=232.5 /><circle class=r3 r=2.2 cx=98.8 cy=227 /><circle class=r4 r=1.85 cx=109.9 cy=223.1 /><circle class=r4 r=1.85 cx=117.9 cy=222.2 /><circle class=r4 r=1.85 cx=108 cy=260.8 /><circle class=r3 r=2.2 cx=97.6 cy=233.6 /><circle class=r3 r=2.2 cx=99.2 cy=224.4 /><circle class=r2 r=2.5 cx=96.8 cy=188.8 /><circle class=r2 r=2.5 cx=117.9 cy=202.1 /><circle class=r3 r=2.2 cx=64.1 cy=193.6 /><circle class=r2 r=2.5 cx=108.4 cy=192.4 /><circle class=r3 r=2.2 cx=64.9 cy=208.2 /><circle class=r3 r=2.2 cx=84.7 cy=219.6 /><circle class=r3 r=2.2 cx=91 cy=223.3 /><circle class=r4 r=1.85 cx=169.8 cy=238.7 /><circle class=r4 r=1.85 cx=20 cy=222 /><circle class=r4 r=1.85 cx=69.8 cy=248.4 /><circle class=r3 r=2.2 cx=82.2 cy=196.6 /><circle class=r4 r=1.85 cx=137.8 cy=208.9 /><circle class=r4 r=1.85 cx=48.3 cy=166.1 /><circle class=r3 r=2.2 cx=102.4 cy=202.9 /><circle class=r3 r=2.2 cx=79.6 cy=196.5 /><circle class=r3 r=2.2 cx=69.4 cy=235.2 /><circle class=r3 r=2.2 cx=88.3 cy=199.7 /><circle class=r3 r=2.2 cx=69.2 cy=193.2 /><circle class=r2 r=2.5 cx=102.7 cy=198.9 /><circle class=r2 r=2.5 cx=96.5 cy=184.2 /><circle class=r3 r=2.2 cx=86.4 cy=213 /><circle class=r2 r=2.5 cx=84.6 cy=182.6 /><circle class=r2 r=2.5 cx=87 cy=197.8 /><circle class=r2 r=2.5 cx=119.2 cy=165.4 /><circle class=r3 r=2.2 cx=74.3 cy=186.7 /><circle class=r3 r=2.2 cx=86.5 cy=208 /><circle class=r4 r=1.85 cx=155.3 cy=214.3 /><circle class=r3 r=2.2 cx=72.2 cy=217.1 /><circle class=r4 r=1.85 cx=129.6 cy=214.2 /><circle class=r5 r=1.4 cx=13.5 cy=232.8 /><circle class=r3 r=2.2 cx=133.4 cy=207 /><circle class=r2 r=2.5 cx=136.9 cy=197.6 /><circle class=r3 r=2.2 cx=58.1 cy=186 /><circle class=r4 r=1.85 cx=125.9 cy=263.7 /><circle class=r1 r=2.8 cx=117.2 cy=196.6 /><circle class=r1 r=2.8 cx=115.9 cy=193.7 /><circle class=r3 r=2.2 cx=68.9 cy=216.8 /><circle class=r1 r=2.8 cx=84.6 cy=206.7 /><circle class=r3 r=2.2 cx=101.1 cy=225.1 /><circle class=r5 r=1.4 cx=228.2 cy=289 /><circle class=r3 r=2.2 cx=97.7 cy=231.2 /><circle class=r3 r=2.2 cx=69.7 cy=228.9 /><circle class=r3 r=2.2 cx=113.6 cy=237 /><circle class=r3 r=2.2 cx=72.2 cy=198.3 /><circle class=r1 r=2.8 cx=85.6 cy=203.7 /><circle class=r3 r=2.2 cx=56.2 cy=215.4 /><circle class=r3 r=2.2 cx=101.3 cy=213.4 /><circle class=r1 r=2.8 cx=71.6 cy=228.5 /><circle class=r4 r=1.85 cx=29.1 cy=147.4 /><circle class=r3 r=2.2 cx=102.3 cy=235 /><circle class=r2 r=2.5 cx=115 cy=194.7 /><circle class=r2 r=2.5 cx=95.1 cy=165.8 /><circle class=r3 r=2.2 cx=83.3 cy=198.2 /><circle class=r1 r=2.8 cx=74.9 cy=222.9 /><circle class=r3 r=2.2 cx=56.8 cy=222.4 /><circle class=r3 r=2.2 cx=65.2 cy=207.6 /><circle class=r2 r=2.5 cx=79.1 cy=192.4 /><circle class=r4 r=1.85 cx=125.2 cy=266.5 /><circle class=r2 r=2.5 cx=85.6 cy=186.6 /><circle class=r2 r=2.5 cx=85 cy=219.6 /><circle class=r2 r=2.5 cx=89.2 cy=205.2 /><circle class=r3 r=2.2 cx=56.2 cy=207.9 /><circle class=r2 r=2.5 cx=149 cy=154.7 /><circle class=r2 r=2.5 cx=90.1 cy=195.8 /><circle class=r3 r=2.2 cx=143.3 cy=229.7 /><circle class=r3 r=2.2 cx=69 cy=207.4 /><circle class=r3 r=2.2 cx=88.1 cy=235.2 /><circle class=r2 r=2.5 cx=96 cy=166.3 /><circle class=r3 r=2.2 cx=94.7 cy=219 /><circle class=r3 r=2.2 cx=73.6 cy=232.7 /><circle class=r2 r=2.5 cx=90.1 cy=169.1 /><circle class=r3 r=2.2 cx=82.4 cy=210.9 /><circle class=r3 r=2.2 cx=158.7 cy=195.7 /><circle class=r2 r=2.5 cx=67.5 cy=220.7 /><circle class=r3 r=2.2 cx=138.4 cy=206.2 /><circle class=r4 r=1.85 cx=83.9 cy=228.4 /><circle class=r3 r=2.2 cx=87.6 cy=249.9 /><circle class=r4 r=1.85 cx=110.8 cy=268 /><circle class=r1 r=2.8 cx=192.2 cy=171.8 /><circle class=r1 r=2.8 cx=113.2 cy=199.4 /><circle class=r3 r=2.2 cx=79.9 cy=193.5 /><circle class=r2 r=2.5 cx=182.7 cy=137.6 /><circle class=r1 r=2.8 cx=96.1 cy=173.4 /><circle class=r3 r=2.2 cx=93.3 cy=211.7 /><circle class=r2 r=2.5 cx=156.3 cy=119.8 /><circle class=r5 r=1.4 cx=82.8 cy=134.9 /><circle class=r4 r=1.85 cx=72.5 cy=224.1 /><circle class=r3 r=2.2 cx=63.7 cy=231 /><circle class=r4 r=1.85 cx=112.3 cy=253.3 /><circle class=r3 r=2.2 cx=62.1 cy=226.5 /><circle class=r3 r=2.2 cx=72.2 cy=216 /><circle class=r4 r=1.85 cx=54 cy=217.8 /><circle class=r3 r=2.2 cx=144.3 cy=229.7 /><circle class=r1 r=2.8 cx=103.5 cy=193.2 /><circle class=r3 r=2.2 cx=67.2 cy=209.8 /><circle class=r4 r=1.85 cx=64.2 cy=230.6 /><circle class=r4 r=1.85 cx=90.7 cy=251.9 /><circle class=r4 r=1.85 cx=117.5 cy=211.9 /><circle class=r1 r=2.8 cx=115.8 cy=195.7 /><circle class=r4 r=1.85 cx=22.8 cy=215.1 /><circle class=r4 r=1.85 cx=97.7 cy=214 /><circle class=r4 r=1.85 cx=124.9 cy=225.3 /><circle class=r3 r=2.2 cx=65.4 cy=230.2 /><circle class=r3 r=2.2 cx=95.1 cy=216 /><circle class=r3 r=2.2 cx=66.1 cy=213.8 /><circle class=r1 r=2.8 cx=69.4 cy=226.2 /><circle class=r4 r=1.85 cx=21.6 cy=213.1 /><circle class=r1 r=2.8 cx=71.4 cy=223.4 /><circle class=r4 r=1.85 cx=103.5 cy=134.7 /><circle class=r5 r=1.4 cx=41.1 cy=213.4 /><circle class=r4 r=1.85 cx=65.1 cy=208.8 /><circle class=r3 r=2.2 cx=64.5 cy=206.7 /><circle class=r3 r=2.2 cx=71.6 cy=215.7 /><circle class=r4 r=1.85 cx=116 cy=236.9 /><circle class=r4 r=1.85 cx=200.9 cy=230.7 /><circle class=r5 r=1.4 cx=27.5 cy=229.5 /><circle class=r3 r=2.2 cx=73.5 cy=202.6 /><circle class=r5 r=1.4 cx=32.5 cy=229 /><circle class=r5 r=1.4 cx=41.5 cy=237.6 /><circle class=r3 r=2.2 cx=62.2 cy=226.5 /><circle class=r3 r=2.2 cx=92.5 cy=219.6 /><circle class=r1 r=2.8 cx=62.6 cy=226.5 /><circle class=r2 r=2.5 cx=116 cy=203.4 /><circle class=r3 r=2.2 cx=83 cy=231.8 /><circle class=r3 r=2.2 cx=94 cy=229.4 /><circle class=r4 r=1.85 cx=113.9 cy=224.9 /><circle class=r3 r=2.2 cx=78.8 cy=217.3 /><circle class=r1 r=2.8 cx=75 cy=227.2 /><circle class=r2 r=2.5 cx=171 cy=173.5 /><circle class=r3 r=2.2 cx=83.7 cy=218.6 /><circle class=r2 r=2.5 cx=112.3 cy=213.2 /><circle class=r4 r=1.85 cx=121.2 cy=269.3 /><circle class=r2 r=2.5 cx=108.9 cy=205.8 /><circle class=r3 r=2.2 cx=64.8 cy=191.6 /><circle class=r1 r=2.8 cx=151.4 cy=156.9 /><circle class=r3 r=2.2 cx=76.4 cy=195.5 /><circle class=r2 r=2.5 cx=104.2 cy=206.8 /><circle class=r4 r=1.85 cx=135.4 cy=262.6 /><circle class=r3 r=2.2 cx=96.9 cy=225.5 /><circle class=r4 r=1.85 cx=124.5 cy=240.3 /><circle class=r3 r=2.2 cx=84.7 cy=207.5 /><circle class=r3 r=2.2 cx=124.6 cy=250.2 /><circle class=r3 r=2.2 cx=64.6 cy=198.6 /><circle class=r3 r=2.2 cx=72.1 cy=201.7 /><circle class=r3 r=2.2 cx=88.5 cy=252.2 /><circle class=r4 r=1.85 cx=64.9 cy=206.1 /><circle class=r4 r=1.85 cx=40.4 cy=156.2 /><circle class=r3 r=2.2 cx=66.5 cy=230.6 /><circle class=r3 r=2.2 cx=95.2 cy=222.3 /><circle class=r1 r=2.8 cx=108.7 cy=209 /><circle class=r4 r=1.85 cx=109.6 cy=228 /><circle class=r4 r=1.85 cx=61.8 cy=196 /><circle class=r3 r=2.2 cx=105.8 cy=216.1 /><circle class=r4 r=1.85 cx=133.1 cy=258.6 /><circle class=r2 r=2.5 cx=139.1 cy=202.3 /><circle class=r3 r=2.2 cx=64 cy=217.1 /><circle class=r1 r=2.8 cx=119.5 cy=185.3 /><circle class=r5 r=1.4 cx=50.4 cy=149.6 /><circle class=r3 r=2.2 cx=84.8 cy=216.8 /><circle class=r2 r=2.5 cx=115.3 cy=207.7 /><circle class=r3 r=2.2 cx=102.1 cy=233.2 /><circle class=r4 r=1.85 cx=103.6 cy=227.8 /><circle class=r5 r=1.4 cx=31 cy=220 /><circle class=r4 r=1.85 cx=73.6 cy=176.2 /><circle class=r4 r=1.85 cx=56.4 cy=233.4 /><circle class=r4 r=1.85 cx=36.8 cy=216.6 /><circle class=r2 r=2.5 cx=83.4 cy=217.7 /><circle class=r1 r=2.8 cx=63.6 cy=226.1 /><circle class=r3 r=2.2 cx=64 cy=207.5 /><circle class=r4 r=1.85 cx=110.9 cy=234.1 /><circle class=r4 r=1.85 cx=126.1 cy=211.3 /><circle class=r3 r=2.2 cx=73.2 cy=206.2 /><circle class=r3 r=2.2 cx=89.2 cy=221.7 /><circle class=r3 r=2.2 cx=84.6 cy=202.1 /><circle class=r3 r=2.2 cx=115.6 cy=209.3 /><circle class=r3 r=2.2 cx=68.7 cy=203.7 /><circle class=r4 r=1.85 cx=81.2 cy=157.8 /><circle class=r1 r=2.8 cx=85.3 cy=208.1 /><circle class=r3 r=2.2 cx=75.7 cy=185.2 /><circle class=r3 r=2.2 cx=75.7 cy=210.5 /><circle class=r2 r=2.5 cx=105.9 cy=210.4 /><circle class=r2 r=2.5 cx=121.5 cy=175.7 /><circle class=r1 r=2.8 cx=80.3 cy=203.5 /><circle class=r4 r=1.85 cx=129.2 cy=213.4 /><circle class=r3 r=2.2 cx=53.8 cy=223.5 /><circle class=r3 r=2.2 cx=85.7 cy=218 /><circle class=r1 r=2.8 cx=107.4 cy=188.4 /><circle class=r2 r=2.5 cx=101.8 cy=196 /><circle class=r4 r=1.85 cx=124 cy=225.3 /><circle class=r4 r=1.85 cx=115.8 cy=234 /><circle class=r2 r=2.5 cx=116.7 cy=191.1 /><circle class=r3 r=2.2 cx=99 cy=205.7 /><circle class=r2 r=2.5 cx=104.5 cy=198.7 /><circle class=r5 r=1.4 cx=227 cy=289.3 /><circle class=r3 r=2.2 cx=89.3 cy=197.4 /><circle class=r4 r=1.85 cx=84.8 cy=251.5 /><circle class=r3 r=2.2 cx=140.8 cy=132.1 /><circle class=r3 r=2.2 cx=88.2 cy=218.6 /><circle class=r3 r=2.2 cx=79.4 cy=213.9 /><circle class=r3 r=2.2 cx=80.3 cy=231.4 /><circle class=r3 r=2.2 cx=68.5 cy=202.3 /><circle class=r3 r=2.2 cx=76.2 cy=211 /><circle class=r1 r=2.8 cx=124.6 cy=185 /><circle class=r1 r=2.8 cx=71 cy=223.6 /><circle class=r2 r=2.5 cx=95.6 cy=180.5 /><circle class=r2 r=2.5 cx=71.9 cy=224.9 /><circle class=r2 r=2.5 cx=113 cy=184.2 /><circle class=r3 r=2.2 cx=73.3 cy=218.4 /><circle class=r5 r=1.4 cx=35 cy=229.3 /><circle class=r2 r=2.5 cx=67.7 cy=196.3 /><circle class=r1 r=2.8 cx=147.2 cy=189 /><circle class=r3 r=2.2 cx=82.4 cy=195.9 /><circle class=r3 r=2.2 cx=77.9 cy=234.4 /><circle class=r2 r=2.5 cx=91.6 cy=194.4 /><circle class=r2 r=2.5 cx=201.2 cy=157.6 /><circle class=r1 r=2.8 cx=101.6 cy=181.9 /><circle class=r3 r=2.2 cx=88.8 cy=231 /><circle class=r3 r=2.2 cx=66.3 cy=219 /><circle class=r5 r=1.4 cx=28 cy=243 /><circle class=r4 r=1.85 cx=117.5 cy=219.6 /><circle class=r3 r=2.2 cx=94.5 cy=228.5 /><circle class=r3 r=2.2 cx=51.2 cy=202.8 /><circle class=r3 r=2.2 cx=118.2 cy=211.4 /><circle class=r3 r=2.2 cx=76.9 cy=211.1 /><circle class=r5 r=1.4 cx=170.4 cy=242.6 /><circle class=r3 r=2.2 cx=72.8 cy=214.6 /><circle class=r3 r=2.2 cx=85.9 cy=219.8 /><circle class=r3 r=2.2 cx=66.4 cy=216.3 /><circle class=r1 r=2.8 cx=123 cy=167.8 /><circle class=r3 r=2.2 cx=103.2 cy=211.1 /><circle class=r3 r=2.2 cx=67.4 cy=211.3 /><circle class=r3 r=2.2 cx=88.6 cy=198.1 /><circle class=r3 r=2.2 cx=99.3 cy=267.4 /><circle class=r1 r=2.8 cx=64.3 cy=225.5 /><circle class=r3 r=2.2 cx=85.6 cy=219.3 /><circle class=r1 r=2.8 cx=118.8 cy=181.2 /><circle class=r2 r=2.5 cx=130 cy=200.5 /><circle class=r2 r=2.5 cx=126 cy=203.6 /><circle class=r3 r=2.2 cx=95.1 cy=241.5 /><circle class=r3 r=2.2 cx=99.4 cy=200.9 /><circle class=r4 r=1.85 cx=138.8 cy=224.3 /><circle class=r4 r=1.85 cx=142.4 cy=215.9 /><circle class=r3 r=2.2 cx=125 cy=210.4 /><circle class=r4 r=1.85 cx=37.4 cy=241.1 /><circle class=r1 r=2.8 cx=128.8 cy=194.9 /><circle class=r5 r=1.4 cx=165.9 cy=236 /><circle class=r3 r=2.2 cx=70.4 cy=198.8 /><circle class=r3 r=2.2 cx=98.4 cy=202.1 /><circle class=r3 r=2.2 cx=66.1 cy=191.2 /><circle class=r2 r=2.5 cx=89.3 cy=204.1 /><circle class=r3 r=2.2 cx=75.1 cy=189.1 /><circle class=r2 r=2.5 cx=117.6 cy=208.8 /><circle class=r3 r=2.2 cx=65.9 cy=207.6 /><circle class=r3 r=2.2 cx=62.9 cy=208.8 /><circle class=r1 r=2.8 cx=138.7 cy=188.8 /><circle class=r3 r=2.2 cx=58.4 cy=226.2 /><circle class=r3 r=2.2 cx=80.2 cy=193.9 /><circle class=r1 r=2.8 cx=166.3 cy=173.1 /><circle class=r3 r=2.2 cx=140.1 cy=218.1 /><circle class=r4 r=1.85 cx=46.2 cy=208 /><circle class=r3 r=2.2 cx=134.2 cy=212.7 /><circle class=r1 r=2.8 cx=133.6 cy=155.7 /><circle class=r1 r=2.8 cx=254.6 cy=141.5 /><circle class=r1 r=2.8 cx=110.7 cy=200.1 /><circle class=r3 r=2.2 cx=56.4 cy=221.8 /><circle class=r1 r=2.8 cx=108.1 cy=190.5 /><circle class=r3 r=2.2 cx=97 cy=227.8 /><circle class=r3 r=2.2 cx=61.2 cy=228.5 /><circle class=r3 r=2.2 cx=55.9 cy=216.1 /><circle class=r2 r=2.5 cx=92 cy=183.1 /><circle class=r2 r=2.5 cx=164.2 cy=140.3 /><circle class=r2 r=2.5 cx=169.6 cy=138.2 /><circle class=r3 r=2.2 cx=119.9 cy=249.6 /><circle class=r3 r=2.2 cx=64.1 cy=195.3 /><circle class=r2 r=2.5 cx=85.9 cy=219.5 /><circle class=r4 r=1.85 cx=128.3 cy=223.3 /><circle class=r3 r=2.2 cx=74.8 cy=241.6 /><circle class=r3 r=2.2 cx=98.7 cy=215.1 /><circle class=r4 r=1.85 cx=100.7 cy=247.5 /><circle class=r5 r=1.4 cx=43.5 cy=224 /><circle class=r3 r=2.2 cx=64.7 cy=208.5 /><circle class=r3 r=2.2 cx=95.9 cy=215 /><circle class=r3 r=2.2 cx=74.7 cy=214.8 /><circle class=r2 r=2.5 cx=109.6 cy=197.3 /><circle class=r3 r=2.2 cx=97.5 cy=207.7 /><circle class=r1 r=2.8 cx=73.7 cy=228.2 /><circle class=r3 r=2.2 cx=99 cy=210.9 /><circle class=r3 r=2.2 cx=69 cy=206.9 /><circle class=r4 r=1.85 cx=174 cy=246.8 /><circle class=r1 r=2.8 cx=110.2 cy=194 /><circle class=r1 r=2.8 cx=161.1 cy=176.1 /><circle class=r4 r=1.85 cx=134.4 cy=213.5 /><circle class=r3 r=2.2 cx=63.2 cy=214 /><circle class=r2 r=2.5 cx=70.2 cy=244.2 /><circle class=r3 r=2.2 cx=66.5 cy=209.5 /><circle class=r4 r=1.85 cx=51.8 cy=219.2 /><circle class=r3 r=2.2 cx=69.4 cy=235.6 /><circle class=r1 r=2.8 cx=123.3 cy=174.6 /><circle class=r1 r=2.8 cx=184.6 cy=167.3 /><circle class=r3 r=2.2 cx=57.4 cy=191.9 /><circle class=r3 r=2.2 cx=118.2 cy=214 /><circle class=r5 r=1.4 cx=100.8 cy=139.5 /><circle class=r1 r=2.8 cx=86 cy=205.6 /><circle class=r3 r=2.2 cx=59.2 cy=212.7 /><circle class=r4 r=1.85 cx=112.1 cy=252.7 /><circle class=r4 r=1.85 cx=72.5 cy=192.8 /><circle class=r1 r=2.8 cx=88.5 cy=207.7 /><circle class=r5 r=1.4 cx=88.8 cy=138.8 /><circle class=r1 r=2.8 cx=113.5 cy=190.3 /><circle class=r3 r=2.2 cx=88.8 cy=218.4 /><circle class=r3 r=2.2 cx=59 cy=175 /><circle class=r4 r=1.85 cx=128.9 cy=264.9 /><circle class=r1 r=2.8 cx=101.4 cy=183.3 /><circle class=r4 r=1.85 cx=103.2 cy=135.5 /><circle class=r3 r=2.2 cx=68.6 cy=205.1 /><circle class=r1 r=2.8 cx=72.9 cy=229.8 /><circle class=r2 r=2.5 cx=167.7 cy=198.1 /><circle class=r2 r=2.5 cx=125 cy=184.2 /><circle class=r1 r=2.8 cx=80.6 cy=206 /><circle class=r3 r=2.2 cx=84.9 cy=198 /><circle class=r2 r=2.5 cx=86.4 cy=208.4 /><circle class=r3 r=2.2 cx=41 cy=163.8 /><circle class=r3 r=2.2 cx=97.8 cy=213.2 /><circle class=r4 r=1.85 cx=120.2 cy=250.9 /><circle class=r3 r=2.2 cx=146.7 cy=237.7 /><circle class=r3 r=2.2 cx=54.6 cy=180 /><circle class=r1 r=2.8 cx=170 cy=152.2 /><circle class=r3 r=2.2 cx=83.7 cy=213.5 /><circle class=r2 r=2.5 cx=147.6 cy=119.3 /><circle class=r4 r=1.85 cx=64 cy=227 /><circle class=r4 r=1.85 cx=110.3 cy=227.2 /><circle class=r1 r=2.8 cx=109.9 cy=191.4 /><circle class=r5 r=1.4 cx=73.6 cy=131.6 /><circle class=r3 r=2.2 cx=117.4 cy=211.8 /><circle class=r3 r=2.2 cx=68.3 cy=203.9 /><circle class=r4 r=1.85 cx=144.5 cy=233 /><circle class=r3 r=2.2 cx=55.1 cy=212.2 /><circle class=r2 r=2.5 cx=80.1 cy=185.8 /><circle class=r1 r=2.8 cx=155 cy=174.5 /><circle class=r4 r=1.85 cx=61.1 cy=237 /><circle class=r4 r=1.85 cx=59.7 cy=212.5 /><circle class=r2 r=2.5 cx=187 cy=190 /><circle class=r3 r=2.2 cx=71.8 cy=198.5 /><circle class=r4 r=1.85 cx=130.2 cy=211.4 /><circle class=r1 r=2.8 cx=70.3 cy=227.9 /><circle class=r2 r=2.5 cx=177.3 cy=181.5 /><circle class=r3 r=2.2 cx=90.6 cy=223.1 /><circle class=r3 r=2.2 cx=128.7 cy=213 /><circle class=r1 r=2.8 cx=84.3 cy=207.8 /><circle class=r4 r=1.85 cx=116 cy=218.4 /><circle class=r3 r=2.2 cx=65.8 cy=209 /><circle class=r4 r=1.85 cx=105.1 cy=224.9 /><circle class=r4 r=1.85 cx=95.5 cy=224.6 /><circle class=r4 r=1.85 cx=75.5 cy=211.7 /><circle class=r5 r=1.4 cx=82.8 cy=143.9 /><circle class=r3 r=2.2 cx=82.4 cy=210.2 /><circle class=r3 r=2.2 cx=68.2 cy=206.9 /><circle class=r1 r=2.8 cx=200.1 cy=168.3 /><circle class=r5 r=1.4 cx=142.3 cy=218.4 /><circle class=r4 r=1.85 cx=110.1 cy=256.8 /><circle class=r4 r=1.85 cx=129.8 cy=212.2 /><circle class=r3 r=2.2 cx=67.1 cy=217.2 /><circle class=r3 r=2.2 cx=81.2 cy=219.8 /><circle class=r3 r=2.2 cx=80.1 cy=208.6 /><circle class=r3 r=2.2 cx=80 cy=203.6 /><circle class=r1 r=2.8 cx=120.9 cy=196.2 /><circle class=r3 r=2.2 cx=89.5 cy=224.3 /><circle class=r2 r=2.5 cx=103.4 cy=202.9 /><circle class=r2 r=2.5 cx=106.2 cy=200.9 /><circle class=r1 r=2.8 cx=266.6 cy=197.6 /><circle class=r3 r=2.2 cx=70.6 cy=201.1 /><circle class=r4 r=1.85 cx=94.6 cy=244.6 /><circle class=r1 r=2.8 cx=118.4 cy=188.7 /><circle class=r2 r=2.5 cx=89 cy=196 /><circle class=r5 r=1.4 cx=29.7 cy=241 /><circle class=r5 r=1.4 cx=160.8 cy=264.6 /><circle class=r3 r=2.2 cx=91.4 cy=239.4 /><circle class=r3 r=2.2 cx=83.2 cy=223.2 /><circle class=r3 r=2.2 cx=114.8 cy=218.8 /><circle class=r2 r=2.5 cx=91.6 cy=193 /><circle class=r1 r=2.8 cx=98.7 cy=176.8 /><circle class=r4 r=1.85 cx=127.4 cy=257.4 /><circle class=r2 r=2.5 cx=96.8 cy=170.3 /><circle class=r1 r=2.8 cx=109.5 cy=194 /><circle class=r3 r=2.2 cx=56.8 cy=215.9 /><circle class=r3 r=2.2 cx=107.1 cy=214.8 /><circle class=r5 r=1.4 cx=11.5 cy=230.5 /><circle class=r5 r=1.4 cx=127.3 cy=226.5 /><circle class=r2 r=2.5 cx=82.7 cy=211.7 /><circle class=r3 r=2.2 cx=75.9 cy=211.8 /><circle class=r3 r=2.2 cx=67.2 cy=208.3 /><circle class=r3 r=2.2 cx=79.4 cy=218.7 /><circle class=r3 r=2.2 cx=95.4 cy=226.1 /><circle class=r3 r=2.2 cx=90.2 cy=232.1 /><circle class=r3 r=2.2 cx=92 cy=209.7 /><circle class=r3 r=2.2 cx=84 cy=246.6 /><circle class=r3 r=2.2 cx=91.8 cy=207.3 /><circle class=r4 r=1.85 cx=155.4 cy=213.1 /><circle class=r1 r=2.8 cx=125 cy=189.1 /><circle class=r3 r=2.2 cx=82.1 cy=199.7 /><circle class=r3 r=2.2 cx=84.6 cy=218.7 /><circle class=r4 r=1.85 cx=127.5 cy=256.7 /><circle class=r3 r=2.2 cx=75.5 cy=212.1 /><circle class=r1 r=2.8 cx=119.2 cy=180.6 /><circle class=r1 r=2.8 cx=159 cy=170 /><circle class=r4 r=1.85 cx=106.5 cy=222.9 /><circle class=r2 r=2.5 cx=117.6 cy=207.5 /><circle class=r3 r=2.2 cx=85.2 cy=229.9 /><circle class=r3 r=2.2 cx=63.7 cy=202.5 /><circle class=r3 r=2.2 cx=90.9 cy=229.7 /><circle class=r1 r=2.8 cx=70.9 cy=226.5 /><circle class=r2 r=2.5 cx=84.8 cy=196.9 /><circle class=r1 r=2.8 cx=69.7 cy=228.3 /><circle class=r3 r=2.2 cx=88 cy=224.5 /><circle class=r3 r=2.2 cx=117.6 cy=211.7 /><circle class=r4 r=1.85 cx=118.4 cy=160.7 /><circle class=r1 r=2.8 cx=171.1 cy=171.2 /><circle class=r3 r=2.2 cx=91.4 cy=223.4 /><circle class=r2 r=2.5 cx=120 cy=208.3 /><circle class=r2 r=2.5 cx=124.3 cy=202.7 /><circle class=r3 r=2.2 cx=65.3 cy=212.1 /><circle class=r2 r=2.5 cx=95.6 cy=195.4 /><circle class=r1 r=2.8 cx=160 cy=176.7 /><circle class=r4 r=1.85 cx=41.5 cy=164.5 /><circle class=r3 r=2.2 cx=67.2 cy=213.9 /><circle class=r3 r=2.2 cx=100.3 cy=214.5 /><circle class=r5 r=1.4 cx=115.1 cy=139.4 /><circle class=r4 r=1.85 cx=105.8 cy=238 /><circle class=r4 r=1.85 cx=130.6 cy=261.3 /><circle class=r5 r=1.4 cx=125.1 cy=226.9 /><circle class=r3 r=2.2 cx=126.8 cy=210.8 /><circle class=r4 r=1.85 cx=119.3 cy=235.2 /><circle class=r3 r=2.2 cx=93.2 cy=233.6 /><circle class=r2 r=2.5 cx=125.7 cy=188.7 /><circle class=r4 r=1.85 cx=98.2 cy=128 /><circle class=r3 r=2.2 cx=65.6 cy=194.8 /><circle class=r3 r=2.2 cx=119.8 cy=236.7 /><circle class=r3 r=2.2 cx=57.5 cy=216.1 /><circle class=r1 r=2.8 cx=111.3 cy=201.3 /><circle class=r3 r=2.2 cx=109 cy=232.5 /><circle class=r1 r=2.8 cx=131.5 cy=176.4 /><circle class=r4 r=1.85 cx=40.6 cy=225 /><circle class=r3 r=2.2 cx=57.3 cy=215.7 /><circle class=r3 r=2.2 cx=72 cy=176.3 /><circle class=r2 r=2.5 cx=91.2 cy=183.3 /><circle class=r3 r=2.2 cx=135.2 cy=204.8 /><circle class=r4 r=1.85 cx=119.9 cy=236.9 /><circle class=r3 r=2.2 cx=89.9 cy=215.1 /><circle class=r1 r=2.8 cx=127.1 cy=199.1 /><circle class=r1 r=2.8 cx=73.9 cy=223.7 /><circle class=r3 r=2.2 cx=99 cy=211.1 /><circle class=r1 r=2.8 cx=119.9 cy=185.9 /><circle class=r4 r=1.85 cx=145.8 cy=214.8 /><circle class=r3 r=2.2 cx=73.4 cy=201.9 /><circle class=r3 r=2.2 cx=111.2 cy=212.6 /><circle class=r3 r=2.2 cx=89.6 cy=213.4 /><circle class=r2 r=2.5 cx=84.9 cy=197.8 /><circle class=r3 r=2.2 cx=67.5 cy=220.5 /><circle class=r4 r=1.85 cx=125.8 cy=226.2 /><circle class=r3 r=2.2 cx=72.1 cy=219.3 /><circle class=r3 r=2.2 cx=66.1 cy=207.9 /><circle class=r4 r=1.85 cx=128.9 cy=266 /><circle class=r4 r=1.85 cx=146.1 cy=213.2 /><circle class=r4 r=1.85 cx=102.9 cy=221.1 /><circle class=r4 r=1.85 cx=83.9 cy=246 /><circle class=r3 r=2.2 cx=107.2 cy=234.9 /><circle class=r3 r=2.2 cx=54.5 cy=189.4 /><circle class=r3 r=2.2 cx=95.9 cy=216 /><circle class=r5 r=1.4 cx=159.5 cy=281.7 /><circle class=r3 r=2.2 cx=55.3 cy=213.1 /><circle class=r4 r=1.85 cx=97.9 cy=222 /><circle class=r3 r=2.2 cx=122.9 cy=211.5 /><circle class=r4 r=1.85 cx=109.9 cy=129.4 /><circle class=r3 r=2.2 cx=69.8 cy=217.9 /><circle class=r2 r=2.5 cx=112.7 cy=207 /><circle class=r2 r=2.5 cx=240.4 cy=209.6 /><circle class=r1 r=2.8 cx=98.2 cy=200 /><circle class=r4 r=1.85 cx=128.8 cy=257.5 /><circle class=r3 r=2.2 cx=111.6 cy=213 /><circle class=r4 r=1.85 cx=51 cy=220.2 /><circle class=r2 r=2.5 cx=93.3 cy=215 /><circle class=r3 r=2.2 cx=136.9 cy=208.7 /><circle class=r1 r=2.8 cx=84.5 cy=203.9 /><circle class=r3 r=2.2 cx=84.9 cy=215.3 /><circle class=r1 r=2.8 cx=161.4 cy=169.2 /><circle class=r3 r=2.2 cx=81 cy=216.1 /><circle class=r3 r=2.2 cx=89.9 cy=223.7 /><circle class=r2 r=2.5 cx=76.8 cy=228 /><circle class=r3 r=2.2 cx=61.7 cy=209.5 /><circle class=r3 r=2.2 cx=88.7 cy=236.4 /><circle class=r4 r=1.85 cx=106.8 cy=224.5 /><circle class=r3 r=2.2 cx=131.8 cy=208.2 /><circle class=r1 r=2.8 cx=103.7 cy=196 /><circle class=r2 r=2.5 cx=90 cy=215 /><circle class=r3 r=2.2 cx=129.3 cy=207 /><circle class=r3 r=2.2 cx=103.6 cy=229.1 /><circle class=r3 r=2.2 cx=143.9 cy=230.1 /><circle class=r1 r=2.8 cx=107.4 cy=185.9 /><circle class=r4 r=1.85 cx=115.9 cy=213.6 /><circle class=r4 r=1.85 cx=135.2 cy=262.1 /><circle class=r4 r=1.85 cx=105 cy=226.3 /><circle class=r4 r=1.85 cx=130.3 cy=258.3 /><circle class=r3 r=2.2 cx=79.3 cy=196.2 /><circle class=r4 r=1.85 cx=110.1 cy=222.9 /><circle class=r3 r=2.2 cx=120.3 cy=236.5 /><circle class=r4 r=1.85 cx=109.8 cy=222.3 /><circle class=r3 r=2.2 cx=90.9 cy=222.6 /><circle class=r3 r=2.2 cx=83.7 cy=205.8 /><circle class=r4 r=1.85 cx=82.3 cy=249.4 /><circle class=r3 r=2.2 cx=132.9 cy=155.2 /><circle class=r3 r=2.2 cx=108.4 cy=259.8 /><circle class=r2 r=2.5 cx=78.5 cy=237.2 /><circle class=r1 r=2.8 cx=81 cy=203.8 /><circle class=r2 r=2.5 cx=81.7 cy=217.7 /><circle class=r3 r=2.2 cx=61.2 cy=198.4 /><circle class=r3 r=2.2 cx=100.4 cy=219.5 /><circle class=r4 r=1.85 cx=125.1 cy=223.6 /><circle class=r1 r=2.8 cx=120.2 cy=204.6 /><circle class=r3 r=2.2 cx=63.1 cy=218.6 /><circle class=r3 r=2.2 cx=84.5 cy=215.7 /><circle class=r3 r=2.2 cx=81.5 cy=168.7 /><circle class=r3 r=2.2 cx=120.7 cy=208.6 /><circle class=r3 r=2.2 cx=90.1 cy=214.8 /><circle class=r3 r=2.2 cx=64.9 cy=189.4 /><circle class=r3 r=2.2 cx=57.4 cy=215.1 /><circle class=r2 r=2.5 cx=119.1 cy=163.4 /><circle class=r3 r=2.2 cx=100 cy=199.4 /><circle class=r1 r=2.8 cx=101.4 cy=182.8 /><circle class=r3 r=2.2 cx=69.9 cy=215.2 /><circle class=r3 r=2.2 cx=74.5 cy=230.9 /><circle class=r1 r=2.8 cx=131.7 cy=183.2 /><circle class=r2 r=2.5 cx=81.3 cy=180.8 /><circle class=r3 r=2.2 cx=82.7 cy=213.4 /><circle class=r3 r=2.2 cx=96.3 cy=225.3 /><circle class=r4 r=1.85 cx=120 cy=250.5 /><circle class=r3 r=2.2 cx=90.3 cy=227.9 /><circle class=r4 r=1.85 cx=103.5 cy=135.9 /><circle class=r1 r=2.8 cx=99.7 cy=174.7 /><circle class=r2 r=2.5 cx=201 cy=157.7 /><circle class=r4 r=1.85 cx=43.3 cy=222 /><circle class=r3 r=2.2 cx=57.6 cy=186.6 /><circle class=r2 r=2.5 cx=104.2 cy=205.6 /><circle class=r3 r=2.2 cx=104.5 cy=213.2 /><circle class=r3 r=2.2 cx=72.1 cy=202.7 /><circle class=r4 r=1.85 cx=58.5 cy=213 /><circle class=r3 r=2.2 cx=89.8 cy=221.6 /><circle class=r4 r=1.85 cx=85.5 cy=215.6 /><circle class=r3 r=2.2 cx=99 cy=214.1 /><circle class=r1 r=2.8 cx=101.1 cy=182.3 /><circle class=r3 r=2.2 cx=93.2 cy=209.3 /><circle class=r4 r=1.85 cx=112.4 cy=257 /><circle class=r1 r=2.8 cx=152.8 cy=178.8 /><circle class=r1 r=2.8 cx=92.5 cy=176 /><circle class=r4 r=1.85 cx=120.2 cy=158.3 /><circle class=r3 r=2.2 cx=82.8 cy=196.7 /><circle class=r4 r=1.85 cx=122.2 cy=212.6 /><circle class=r2 r=2.5 cx=91.6 cy=183.4 /><circle class=r2 r=2.5 cx=187.6 cy=144.2 /><circle class=r4 r=1.85 cx=126.8 cy=214.7 /><circle class=r1 r=2.8 cx=111.6 cy=181 /><circle class=r4 r=1.85 cx=196.4 cy=222.6 /><circle class=r3 r=2.2 cx=81.5 cy=218.8 /><circle class=r2 r=2.5 cx=107 cy=206.8 /><circle class=r1 r=2.8 cx=120 cy=181 /><circle class=r2 r=2.5 cx=88.9 cy=195 /><circle class=r3 r=2.2 cx=98.4 cy=220.8 /><circle class=r3 r=2.2 cx=86.2 cy=219.6 /><circle class=r1 r=2.8 cx=159.8 cy=126.6 /><circle class=r2 r=2.5 cx=89.2 cy=216.1 /><circle class=r4 r=1.85 cx=51.1 cy=204.1 /><circle class=r3 r=2.2 cx=99.5 cy=211.6 /><circle class=r3 r=2.2 cx=79.4 cy=232 /><circle class=r3 r=2.2 cx=98.3 cy=219.8 /><circle class=r2 r=2.5 cx=82.9 cy=223.3 /><circle class=r4 r=1.85 cx=88.6 cy=244.4 /><circle class=r3 r=2.2 cx=116.3 cy=235.2 /><circle class=r3 r=2.2 cx=105.6 cy=216.7 /><circle class=r2 r=2.5 cx=88.3 cy=207.2 /><circle class=r3 r=2.2 cx=55.2 cy=212.1 /><circle class=r3 r=2.2 cx=88.6 cy=231 /><circle class=r3 r=2.2 cx=88.5 cy=251.9 /><circle class=r2 r=2.5 cx=104.2 cy=199.4 /><circle class=r2 r=2.5 cx=90.3 cy=199.6 /><circle class=r2 r=2.5 cx=96.9 cy=194.6 /><circle class=r3 r=2.2 cx=145.6 cy=211.8 /><circle class=r3 r=2.2 cx=92.6 cy=221.9 /><circle class=r1 r=2.8 cx=69.9 cy=229.4 /><circle class=r3 r=2.2 cx=63.3 cy=229.6 /><circle class=r3 r=2.2 cx=122.3 cy=216.9 /><circle class=r3 r=2.2 cx=99.4 cy=224.4 /><circle class=r3 r=2.2 cx=132.2 cy=209 /><circle class=r5 r=1.4 cx=160.7 cy=269.6 /><circle class=r1 r=2.8 cx=119.5 cy=187.4 /><circle class=r1 r=2.8 cx=102.6 cy=172.4 /><circle class=r2 r=2.5 cx=92.5 cy=190.8 /><circle class=r1 r=2.8 cx=110.9 cy=191.4 /><circle class=r3 r=2.2 cx=80.4 cy=214 /><circle class=r5 r=1.4 cx=126.9 cy=267.5 /><circle class=r3 r=2.2 cx=69.2 cy=195.8 /><circle class=r5 r=1.4 cx=170.2 cy=270.7 /><circle class=r3 r=2.2 cx=71.5 cy=224.5 /><circle class=r2 r=2.5 cx=81 cy=185.5 /><circle class=r3 r=2.2 cx=91 cy=215.7 /><circle class=r3 r=2.2 cx=89.5 cy=220.2 /><circle class=r3 r=2.2 cx=145.9 cy=130.4 /><circle class=r4 r=1.85 cx=131.3 cy=224.2 /><circle class=r3 r=2.2 cx=84.4 cy=222.1 /><circle class=r3 r=2.2 cx=57.8 cy=175.1 /><circle class=r3 r=2.2 cx=55.3 cy=211.5 /><circle class=r4 r=1.85 cx=155.3 cy=214 /><circle class=r3 r=2.2 cx=105.6 cy=236.7 /><circle class=r4 r=1.85 cx=151.3 cy=238.7 /><circle class=r3 r=2.2 cx=85.7 cy=198 /><circle class=r4 r=1.85 cx=83 cy=229.2 /><circle class=r3 r=2.2 cx=73.7 cy=178.8 /><circle class=r3 r=2.2 cx=118.3 cy=159 /><circle class=r3 r=2.2 cx=95 cy=208.3 /><circle class=r4 r=1.85 cx=127.5 cy=214.9 /><circle class=r1 r=2.8 cx=79.5 cy=208.9 /><circle class=r1 r=2.8 cx=119.8 cy=186 /><circle class=r4 r=1.85 cx=41.4 cy=213.9 /><circle class=r5 r=1.4 cx=121.3 cy=230.3 /><circle class=r2 r=2.5 cx=103.6 cy=203.2 /><circle class=r1 r=2.8 cx=72.9 cy=232.7 /><circle class=r2 r=2.5 cx=95.2 cy=198.7 /><circle class=r1 r=2.8 cx=115.6 cy=195.3 /><circle class=r1 r=2.8 cx=68.5 cy=226.1 /><circle class=r3 r=2.2 cx=65.2 cy=184.2 /><circle class=r2 r=2.5 cx=93.2 cy=192.4 /><circle class=r4 r=1.85 cx=71.9 cy=234.8 /><circle class=r5 r=1.4 cx=33.2 cy=237 /><circle class=r2 r=2.5 cx=123.7 cy=203.8 /><circle class=r2 r=2.5 cx=119.6 cy=203.3 /><circle class=r5 r=1.4 cx=61.7 cy=149.6 /><circle class=r4 r=1.85 cx=131 cy=215.1 /><circle class=r1 r=2.8 cx=104 cy=199.4 /><circle class=r2 r=2.5 cx=88.8 cy=174.8 /><circle class=r3 r=2.2 cx=61 cy=229.5 /><circle class=r3 r=2.2 cx=80.9 cy=218.2 /><circle class=r3 r=2.2 cx=113.4 cy=228.2 /><circle class=r4 r=1.85 cx=53.8 cy=209.9 /><circle class=r4 r=1.85 cx=100.9 cy=225.7 /><circle class=r4 r=1.85 cx=79.8 cy=209.7 /><circle class=r4 r=1.85 cx=124.1 cy=234.1 /><circle class=r1 r=2.8 cx=109.8 cy=191.6 /><circle class=r4 r=1.85 cx=170.4 cy=217 /><circle class=r3 r=2.2 cx=87.8 cy=217.3 /><circle class=r3 r=2.2 cx=103.5 cy=228.6 /><circle class=r4 r=1.85 cx=65.4 cy=204.9 /><circle class=r4 r=1.85 cx=114.8 cy=261 /><circle class=r4 r=1.85 cx=139.9 cy=225.2 /><circle class=r2 r=2.5 cx=131 cy=194.1 /><circle class=r1 r=2.8 cx=116.3 cy=200.9 /><circle class=r4 r=1.85 cx=32.2 cy=153.7 /><circle class=r1 r=2.8 cx=164.4 cy=164.1 /><circle class=r1 r=2.8 cx=111.8 cy=200.9 /><circle class=r4 r=1.85 cx=97 cy=223 /><circle class=r2 r=2.5 cx=132.4 cy=155 /><circle class=r2 r=2.5 cx=152.8 cy=191.1 /><circle class=r1 r=2.8 cx=120.9 cy=184.5 /><circle class=r5 r=1.4 cx=108.5 cy=223.3 /><circle class=r4 r=1.85 cx=70.6 cy=247.9 /><circle class=r3 r=2.2 cx=78.1 cy=218.6 /><circle class=r4 r=1.85 cx=102.8 cy=218.6 /><circle class=r3 r=2.2 cx=85.7 cy=221.5 /><circle class=r3 r=2.2 cx=88.8 cy=224.1 /><circle class=r3 r=2.2 cx=89.7 cy=217 /><circle class=r3 r=2.2 cx=98.6 cy=226.3 /><circle class=r1 r=2.8 cx=83.5 cy=203.8 /><circle class=r5 r=1.4 cx=89.7 cy=142 /><circle class=r3 r=2.2 cx=90.9 cy=224.1 /><circle class=r4 r=1.85 cx=93.3 cy=232.1 /><circle class=r4 r=1.85 cx=109 cy=228.7 /><circle class=r5 r=1.4 cx=89 cy=140 /><circle class=r1 r=2.8 cx=99.7 cy=181.8 /><circle class=r4 r=1.85 cx=134.2 cy=255.7 /><circle class=r3 r=2.2 cx=112.3 cy=236 /><circle class=r3 r=2.2 cx=85.4 cy=215.5 /><circle class=r3 r=2.2 cx=67.4 cy=209.8 /><circle class=r3 r=2.2 cx=106.8 cy=214.5 /><circle class=r2 r=2.5 cx=116.2 cy=202.8 /><circle class=r1 r=2.8 cx=120.2 cy=196.3 /><circle class=r3 r=2.2 cx=94.9 cy=241.4 /><circle class=r3 r=2.2 cx=128.9 cy=210.7 /><circle class=r2 r=2.5 cx=91.2 cy=189 /><circle class=r4 r=1.85 cx=183.8 cy=205.8 /><circle class=r3 r=2.2 cx=84.1 cy=218.9 /><circle class=r2 r=2.5 cx=194.4 cy=185.5 /><circle class=r3 r=2.2 cx=93.6 cy=228.1 /><circle class=r3 r=2.2 cx=52 cy=219.4 /><circle class=r2 r=2.5 cx=106 cy=207.5 /><circle class=r4 r=1.85 cx=132 cy=264.4 /><circle class=r3 r=2.2 cx=88.9 cy=215.8 /><circle class=r1 r=2.8 cx=110.9 cy=174.9 /><circle class=r1 r=2.8 cx=157.1 cy=171.2 /><circle class=r3 r=2.2 cx=62.1 cy=224.5 /><circle class=r3 r=2.2 cx=81.9 cy=210.3 /><circle class=r2 r=2.5 cx=84.9 cy=215.4 /><circle class=r3 r=2.2 cx=94.4 cy=232.7 /><circle class=r4 r=1.85 cx=126.7 cy=218.5 /><circle class=r4 r=1.85 cx=45.4 cy=225.9 /><circle class=r3 r=2.2 cx=58.7 cy=212.6 /><circle class=r3 r=2.2 cx=122 cy=269 /><circle class=r4 r=1.85 cx=72.7 cy=243.5 /><circle class=r5 r=1.4 cx=30 cy=229.8 /><circle class=r3 r=2.2 cx=83.6 cy=227 /><circle class=r1 r=2.8 cx=99.9 cy=188 /><circle class=r3 r=2.2 cx=63.3 cy=218.6 /><circle class=r3 r=2.2 cx=113 cy=235.3 /><circle class=r5 r=1.4 cx=28 cy=236 /><circle class=r2 r=2.5 cx=53.8 cy=199.4 /><circle class=r3 r=2.2 cx=59.2 cy=212.3 /><circle class=r3 r=2.2 cx=72 cy=206.7 /><circle class=r2 r=2.5 cx=109.2 cy=194.7 /><circle class=r3 r=2.2 cx=67 cy=220.4 /><circle class=r4 r=1.85 cx=111.3 cy=266.4 /><circle class=r1 r=2.8 cx=100.8 cy=182.3 /><circle class=r3 r=2.2 cx=72.3 cy=216.5 /><circle class=r2 r=2.5 cx=89.2 cy=218 /><circle class=r3 r=2.2 cx=144.8 cy=130.9 /><circle class=r3 r=2.2 cx=64.1 cy=210.1 /><circle class=r1 r=2.8 cx=172.1 cy=122.8 /><circle class=r2 r=2.5 cx=79.7 cy=186.4 /><circle class=r3 r=2.2 cx=61.6 cy=237.2 /><circle class=r3 r=2.2 cx=89.4 cy=217.6 /><circle class=r3 r=2.2 cx=70.5 cy=243.7 /><circle class=r4 r=1.85 cx=58.8 cy=175.6 /><circle class=r3 r=2.2 cx=64.6 cy=201.3 /><circle class=r4 r=1.85 cx=109.5 cy=258 /><circle class=r1 r=2.8 cx=70.2 cy=229.9 /><circle class=r2 r=2.5 cx=76.2 cy=178.5 /><circle class=r3 r=2.2 cx=79 cy=200 /><circle class=r2 r=2.5 cx=88.5 cy=198.2 /><circle class=r2 r=2.5 cx=80.4 cy=186.4 /><circle class=r2 r=2.5 cx=89.4 cy=210.8 /><circle class=r4 r=1.85 cx=123.7 cy=218.5 /><circle class=r3 r=2.2 cx=58.1 cy=217.4 /><circle class=r4 r=1.85 cx=195 cy=230.8 /><circle class=r3 r=2.2 cx=74.2 cy=200.6 /><circle class=r3 r=2.2 cx=78.1 cy=215.8 /><circle class=r2 r=2.5 cx=193.8 cy=176.1 /><circle class=r3 r=2.2 cx=92.4 cy=209.1 /><circle class=r3 r=2.2 cx=135.6 cy=204.7 /><circle class=r4 r=1.85 cx=107.6 cy=261.1 /><circle class=r1 r=2.8 cx=131 cy=166.2 /><circle class=r4 r=1.85 cx=42.8 cy=209 /><circle class=r2 r=2.5 cx=79.1 cy=208.3 /><circle class=r4 r=1.85 cx=85.8 cy=244.6 /><circle class=r2 r=2.5 cx=124.8 cy=203.7 /><circle class=r3 r=2.2 cx=91.6 cy=223 /><circle class=r3 r=2.2 cx=121.9 cy=217.3 /><circle class=r2 r=2.5 cx=108.8 cy=211.5 /><circle class=r3 r=2.2 cx=85.4 cy=211.6 /><circle class=r3 r=2.2 cx=89.2 cy=221.5 /><circle class=r3 r=2.2 cx=72.3 cy=243.5 /><circle class=r4 r=1.85 cx=106.7 cy=261.8 /><circle class=r1 r=2.8 cx=164.2 cy=163.7 /><circle class=r1 r=2.8 cx=90.4 cy=175 /><circle class=r3 r=2.2 cx=101.8 cy=212.8 /><circle class=r1 r=2.8 cx=74.4 cy=204.9 /><circle class=r3 r=2.2 cx=89.8 cy=214.7 /><circle class=r4 r=1.85 cx=82.5 cy=250.3 /><circle class=r3 r=2.2 cx=83.9 cy=224.6 /><circle class=r1 r=2.8 cx=110.6 cy=175 /><circle class=r2 r=2.5 cx=108.7 cy=208.1 /><circle class=r3 r=2.2 cx=72.1 cy=199.5 /><circle class=r3 r=2.2 cx=79.4 cy=193.2 /><circle class=r3 r=2.2 cx=80 cy=193.8 /><circle class=r3 r=2.2 cx=115.8 cy=213.5 /><circle class=r4 r=1.85 cx=121 cy=227.5 /><circle class=r3 r=2.2 cx=72.6 cy=214.6 /><circle class=r3 r=2.2 cx=143.3 cy=134.6 /><circle class=r3 r=2.2 cx=100 cy=206.3 /><circle class=r2 r=2.5 cx=100.7 cy=193.6 /><circle class=r3 r=2.2 cx=94.7 cy=211.5 /><circle class=r1 r=2.8 cx=82 cy=203.7 /><circle class=r2 r=2.5 cx=190.8 cy=164.8 /><circle class=r5 r=1.4 cx=36.8 cy=233 /><circle class=r4 r=1.85 cx=44.7 cy=222.8 /><circle class=r2 r=2.5 cx=105.6 cy=206.9 /><circle class=r3 r=2.2 cx=87.2 cy=252.7 /><circle class=r3 r=2.2 cx=119.7 cy=212.7 /><circle class=r3 r=2.2 cx=98.5 cy=203.9 /><circle class=r1 r=2.8 cx=120 cy=186.8 /><circle class=r1 r=2.8 cx=65.6 cy=226.4 /><circle class=r1 r=2.8 cx=147.9 cy=185.2 /><circle class=r1 r=2.8 cx=111.3 cy=201 /><circle class=r3 r=2.2 cx=122.6 cy=211.6 /><circle class=r4 r=1.85 cx=135.2 cy=208 /><circle class=r3 r=2.2 cx=123.7 cy=208.1 /><circle class=r3 r=2.2 cx=72 cy=198.9 /><circle class=r1 r=2.8 cx=101 cy=187.1 /><circle class=r3 r=2.2 cx=65.4 cy=211.2 /><circle class=r4 r=1.85 cx=73.5 cy=233.9 /><circle class=r3 r=2.2 cx=81.2 cy=221.5 /><circle class=r3 r=2.2 cx=80 cy=214.8 /><circle class=r3 r=2.2 cx=83.3 cy=182.9 /><circle class=r1 r=2.8 cx=109.5 cy=203.2 /><circle class=r2 r=2.5 cx=80.3 cy=185.6 /><circle class=r1 r=2.8 cx=143.2 cy=147.3 /><circle class=r3 r=2.2 cx=99.3 cy=194.5 /><circle class=r2 r=2.5 cx=138.3 cy=202.6 /><circle class=r3 r=2.2 cx=70.8 cy=212.1 /><circle class=r3 r=2.2 cx=59.8 cy=228.8 /><circle class=r3 r=2.2 cx=55.2 cy=212.5 /><circle class=r4 r=1.85 cx=92.7 cy=226.4 /><circle class=r4 r=1.85 cx=120.4 cy=250.2 /><circle class=r3 r=2.2 cx=105.4 cy=223.3 /><circle class=r4 r=1.85 cx=107.1 cy=239.8 /><circle class=r4 r=1.85 cx=110.5 cy=267.7 /><circle class=r4 r=1.85 cx=123.6 cy=239.6 /><circle class=r5 r=1.4 cx=86.4 cy=148.2 /><circle class=r3 r=2.2 cx=129.3 cy=212.7 /><circle class=r3 r=2.2 cx=83.7 cy=220.4 /><circle class=r3 r=2.2 cx=87.4 cy=215.4 /><circle class=r1 r=2.8 cx=101.5 cy=182.6 /><circle class=r3 r=2.2 cx=55.4 cy=219.5 /><circle class=r3 r=2.2 cx=65.3 cy=196.5 /><circle class=r3 r=2.2 cx=107.1 cy=210.6 /><circle class=r4 r=1.85 cx=113.9 cy=227.2 /><circle class=r3 r=2.2 cx=124.6 cy=217.4 /><circle class=r1 r=2.8 cx=85.8 cy=207.7 /><circle class=r3 r=2.2 cx=75.2 cy=214.3 /><circle class=r4 r=1.85 cx=86.4 cy=216.5 /><circle class=r4 r=1.85 cx=61.8 cy=227.3 /><circle class=r3 r=2.2 cx=143.1 cy=229.5 /><circle class=r4 r=1.85 cx=128.9 cy=226.1 /><circle class=r3 r=2.2 cx=71.6 cy=219.7 /><circle class=r3 r=2.2 cx=72.7 cy=240.7 /><circle class=r3 r=2.2 cx=123.3 cy=159.2 /><circle class=r4 r=1.85 cx=119.9 cy=250 /><circle class=r4 r=1.85 cx=126 cy=221.9 /><circle class=r1 r=2.8 cx=100.4 cy=187.9 /><circle class=r3 r=2.2 cx=67.2 cy=212.5 /><circle class=r3 r=2.2 cx=85.8 cy=208.2 /><circle class=r4 r=1.85 cx=103.9 cy=228.9 /><circle class=r4 r=1.85 cx=110 cy=217 /><circle class=r3 r=2.2 cx=80.5 cy=214.4 /><circle class=r3 r=2.2 cx=100.9 cy=225.8 /><circle class=r3 r=2.2 cx=63.2 cy=196.4 /><circle class=r3 r=2.2 cx=72.6 cy=214.8 /><circle class=r2 r=2.5 cx=96.5 cy=201.4 /><circle class=r1 r=2.8 cx=111.9 cy=191.9 /><circle class=r4 r=1.85 cx=122.9 cy=233.1 /><circle class=r2 r=2.5 cx=84.1 cy=189.6 /><circle class=r3 r=2.2 cx=88 cy=199.2 /><circle class=r3 r=2.2 cx=57.6 cy=191.3 /><circle class=r4 r=1.85 cx=43.6 cy=209.4 /><circle class=r3 r=2.2 cx=102.9 cy=229.1 /><circle class=r4 r=1.85 cx=110.7 cy=223.8 /><circle class=r4 r=1.85 cx=114.8 cy=139.2 /><circle class=r4 r=1.85 cx=122.1 cy=230.3 /><circle class=r3 r=2.2 cx=97.1 cy=208.1 /><circle class=r3 r=2.2 cx=88.9 cy=239.2 /><circle class=r4 r=1.85 cx=130.4 cy=245.1 /><circle class=r1 r=2.8 cx=168.3 cy=175.4 /><circle class=r4 r=1.85 cx=111.3 cy=266.5 /><circle class=r2 r=2.5 cx=116 cy=207.3 /><circle class=r3 r=2.2 cx=72.5 cy=195.7 /><circle class=r4 r=1.85 cx=112.3 cy=255.8 /><circle class=r3 r=2.2 cx=69.1 cy=184.4 /><circle class=r1 r=2.8 cx=88.5 cy=175.5 /><circle class=r3 r=2.2 cx=136.4 cy=203.8 /><circle class=r5 r=1.4 cx=126.9 cy=227.2 /><circle class=r1 r=2.8 cx=98.3 cy=175.8 /><circle class=r1 r=2.8 cx=175.9 cy=128.9 /><circle class=r4 r=1.85 cx=118.6 cy=231.9 /><circle class=r3 r=2.2 cx=85.6 cy=219.1 /><circle class=r5 r=1.4 cx=36.4 cy=221.5 /><circle class=r3 r=2.2 cx=82.4 cy=209.2 /><circle class=r4 r=1.85 cx=102.1 cy=228 /><circle class=r3 r=2.2 cx=93.1 cy=232.9 /><circle class=r2 r=2.5 cx=55.8 cy=206.6 /><circle class=r3 r=2.2 cx=100.2 cy=202.8 /><circle class=r4 r=1.85 cx=45.1 cy=208.1 /><circle class=r4 r=1.85 cx=43.3 cy=226.3 /><circle class=r3 r=2.2 cx=103.5 cy=231.4 /><circle class=r2 r=2.5 cx=165.5 cy=175.8 /><circle class=r1 r=2.8 cx=109.5 cy=191.5 /><circle class=r1 r=2.8 cx=97 cy=188.8 /><circle class=r3 r=2.2 cx=84.8 cy=207.1 /><circle class=r1 r=2.8 cx=82.3 cy=208.8 /><circle class=r3 r=2.2 cx=83.3 cy=200.5 /><circle class=r2 r=2.5 cx=118.9 cy=209.2 /><circle class=r3 r=2.2 cx=77.4 cy=234.8 /><circle class=r1 r=2.8 cx=112.4 cy=189.9 /><circle class=r2 r=2.5 cx=121.7 cy=144.3 /><circle class=r2 r=2.5 cx=63.5 cy=218.5 /><circle class=r4 r=1.85 cx=114 cy=227.9 /><circle class=r2 r=2.5 cx=68.6 cy=205.3 /><circle class=r4 r=1.85 cx=128.2 cy=259.4 /><circle class=r4 r=1.85 cx=121.2 cy=263.5 /><circle class=r5 r=1.4 cx=162 cy=284.9 /><circle class=r1 r=2.8 cx=131.1 cy=192.5 /><circle class=r3 r=2.2 cx=51.7 cy=201.2 /><circle class=r2 r=2.5 cx=98.8 cy=197.8 /><circle class=r3 r=2.2 cx=83.5 cy=229.9 /><circle class=r3 r=2.2 cx=120.7 cy=209.5 /><circle class=r4 r=1.85 cx=106.1 cy=221.6 /><circle class=r3 r=2.2 cx=61.7 cy=225 /><circle class=r3 r=2.2 cx=57.7 cy=186.8 /><circle class=r4 r=1.85 cx=68.8 cy=227.7 /><circle class=r1 r=2.8 cx=100.8 cy=177.6 /><circle class=r3 r=2.2 cx=79.2 cy=218.6 /><circle class=r2 r=2.5 cx=77 cy=187.5 /><circle class=r2 r=2.5 cx=81.1 cy=213.4 /><circle class=r2 r=2.5 cx=95.1 cy=195 /><circle class=r2 r=2.5 cx=103.2 cy=198.8 /><circle class=r3 r=2.2 cx=77.4 cy=194.5 /><circle class=r4 r=1.85 cx=128.1 cy=253.2 /><circle class=r3 r=2.2 cx=100.9 cy=247.2 /><circle class=r3 r=2.2 cx=68.9 cy=207.1 /><circle class=r3 r=2.2 cx=94.5 cy=228 /><circle class=r3 r=2.2 cx=52.6 cy=206.3 /><circle class=r2 r=2.5 cx=89.3 cy=203.5 /><circle class=r4 r=1.85 cx=97.7 cy=128.7 /><circle class=r3 r=2.2 cx=82.1 cy=210.1 /><circle class=r4 r=1.85 cx=131.5 cy=228.6 /><circle class=r1 r=2.8 cx=110 cy=174.9 /><circle class=r3 r=2.2 cx=102.5 cy=234.4 /><circle class=r4 r=1.85 cx=87 cy=223.5 /><circle class=r3 r=2.2 cx=86.8 cy=213.3 /><circle class=r3 r=2.2 cx=178.7 cy=214.4 /><circle class=r3 r=2.2 cx=81.3 cy=221.7 /><circle class=r3 r=2.2 cx=89.5 cy=216.6 /><circle class=r1 r=2.8 cx=188.8 cy=165.8 /><circle class=r3 r=2.2 cx=98.8 cy=227.3 /><circle class=r3 r=2.2 cx=147.2 cy=232.3 /><circle class=r3 r=2.2 cx=110 cy=236 /><circle class=r3 r=2.2 cx=97.5 cy=229.7 /><circle class=r3 r=2.2 cx=99.4 cy=216 /><circle class=r4 r=1.85 cx=129.8 cy=241.1 /><circle class=r2 r=2.5 cx=131.3 cy=153.5 /><circle class=r1 r=2.8 cx=68.3 cy=225.8 /><circle class=r4 r=1.85 cx=111.9 cy=266.8 /><circle class=r1 r=2.8 cx=149.5 cy=176 /><circle class=r1 r=2.8 cx=136.5 cy=177.2 /><circle class=r2 r=2.5 cx=83.2 cy=189.2 /><circle class=r3 r=2.2 cx=58.1 cy=213.1 /><circle class=r3 r=2.2 cx=74.8 cy=243.3 /><circle class=r3 r=2.2 cx=94.4 cy=247.1 /><circle class=r4 r=1.85 cx=114.4 cy=217.8 /><circle class=r3 r=2.2 cx=83.9 cy=241.7 /><circle class=r2 r=2.5 cx=112.8 cy=204.1 /><circle class=r1 r=2.8 cx=69.6 cy=230.7 /><circle class=r5 r=1.4 cx=165.4 cy=268.8 /><circle class=r3 r=2.2 cx=90.6 cy=224.1 /><circle class=r3 r=2.2 cx=79.4 cy=170 /><circle class=r2 r=2.5 cx=81 cy=215 /><circle class=r3 r=2.2 cx=61.5 cy=208.2 /><circle class=r3 r=2.2 cx=83.1 cy=218.5 /><circle class=r2 r=2.5 cx=96.2 cy=200.5 /><circle class=r2 r=2.5 cx=183.1 cy=181 /><circle class=r3 r=2.2 cx=67.7 cy=208.2 /><circle class=r3 r=2.2 cx=98.3 cy=211.5 /><circle class=r3 r=2.2 cx=72.4 cy=238.5 /><circle class=r3 r=2.2 cx=84.3 cy=216.8 /><circle class=r1 r=2.8 cx=131.7 cy=192.8 /><circle class=r2 r=2.5 cx=125.6 cy=204.2 /><circle class=r1 r=2.8 cx=69.1 cy=226.3 /><circle class=r3 r=2.2 cx=73.4 cy=196.6 /><circle class=r3 r=2.2 cx=94.4 cy=244.8 /><circle class=r1 r=2.8 cx=130.9 cy=182 /><circle class=r2 r=2.5 cx=69.9 cy=205.5 /><circle class=r3 r=2.2 cx=72.3 cy=198.2 /><circle class=r2 r=2.5 cx=101.6 cy=196 /><circle class=r1 r=2.8 cx=167.4 cy=171.2 /><circle class=r3 r=2.2 cx=76.8 cy=233.5 /><circle class=r2 r=2.5 cx=95.7 cy=195.5 /><circle class=r3 r=2.2 cx=58 cy=193.5 /><circle class=r2 r=2.5 cx=192.6 cy=175.7 /><circle class=r4 r=1.85 cx=121.4 cy=231.5 /><circle class=r3 r=2.2 cx=121.9 cy=218.1 /><circle class=r3 r=2.2 cx=93.7 cy=228 /><circle class=r3 r=2.2 cx=100.6 cy=247.3 /><circle class=r5 r=1.4 cx=157.8 cy=272.4 /><circle class=r3 r=2.2 cx=65.7 cy=179.6 /><circle class=r3 r=2.2 cx=94.7 cy=232.5 /><circle class=r1 r=2.8 cx=148.4 cy=187.7 /><circle class=r2 r=2.5 cx=101.9 cy=196.2 /><circle class=r2 r=2.5 cx=95.9 cy=209.7 /><circle class=r2 r=2.5 cx=88.5 cy=219.1 /><circle class=r3 r=2.2 cx=76.6 cy=214 /><circle class=r4 r=1.85 cx=136.3 cy=228.2 /><circle class=r3 r=2.2 cx=72.9 cy=217 /><circle class=r3 r=2.2 cx=75 cy=229.2 /><circle class=r2 r=2.5 cx=75 cy=216.7 /><circle class=r1 r=2.8 cx=84.2 cy=208.9 /><circle class=r3 r=2.2 cx=95.9 cy=206.3 /><circle class=r4 r=1.85 cx=61.9 cy=209 /><circle class=r2 r=2.5 cx=171.8 cy=173 /><circle class=r4 r=1.85 cx=32.7 cy=153.5 /><circle class=r1 r=2.8 cx=97.6 cy=177.3 /><circle class=r2 r=2.5 cx=73.8 cy=223.1 /><circle class=r1 r=2.8 cx=74.7 cy=223.4 /><circle class=r5 r=1.4 cx=106.5 cy=223.5 /><circle class=r4 r=1.85 cx=124.4 cy=263.9 /><circle class=r1 r=2.8 cx=132.9 cy=178.8 /><circle class=r5 r=1.4 cx=158.1 cy=271.5 /><circle class=r2 r=2.5 cx=95.4 cy=201.5 /><circle class=r4 r=1.85 cx=65.9 cy=221.2 /><circle class=r4 r=1.85 cx=130.1 cy=207.5 /><circle class=r4 r=1.85 cx=104 cy=143 /><circle class=r2 r=2.5 cx=119.3 cy=206.2 /><circle class=r2 r=2.5 cx=88.4 cy=197.2 /><circle class=r2 r=2.5 cx=83.1 cy=179.5 /><circle class=r2 r=2.5 cx=92.9 cy=169.8 /><circle class=r1 r=2.8 cx=122.3 cy=175.1 /><circle class=r1 r=2.8 cx=70.5 cy=223.6 /><circle class=r1 r=2.8 cx=77.4 cy=228.2 /><circle class=r5 r=1.4 cx=104.1 cy=130.8 /><circle class=r2 r=2.5 cx=82.3 cy=181.2 /><circle class=r4 r=1.85 cx=116.4 cy=234.5 /><circle class=r4 r=1.85 cx=94.1 cy=227.9 /><circle class=r5 r=1.4 cx=165.3 cy=286.1 /><circle class=r1 r=2.8 cx=180.2 cy=170.4 /><circle class=r4 r=1.85 cx=108.5 cy=237 /><circle class=r1 r=2.8 cx=73.6 cy=224.1 /><circle class=r4 r=1.85 cx=110.5 cy=229.7 /><circle class=r2 r=2.5 cx=93.3 cy=198.4 /><circle class=r1 r=2.8 cx=115.5 cy=174.2 /><circle class=r1 r=2.8 cx=182.9 cy=137.4 /><circle class=r1 r=2.8 cx=116.5 cy=192.1 /><circle class=r2 r=2.5 cx=107.8 cy=214.3 /><circle class=r1 r=2.8 cx=180.1 cy=169.1 /><circle class=r2 r=2.5 cx=93.6 cy=210.8 /><circle class=r2 r=2.5 cx=159.6 cy=185.6 /><circle class=r4 r=1.85 cx=195.3 cy=222.6 /><circle class=r1 r=2.8 cx=115.8 cy=194.2 /><circle class=r4 r=1.85 cx=116.2 cy=213.1 /><circle class=r2 r=2.5 cx=89.6 cy=187.4 /><circle class=r4 r=1.85 cx=112.9 cy=228.9 /><circle class=r4 r=1.85 cx=120.3 cy=236.1 /><circle class=r2 r=2.5 cx=197.5 cy=185.8 /><circle class=r4 r=1.85 cx=189.2 cy=237.5 /><circle class=r2 r=2.5 cx=74.1 cy=245.7 /><circle class=r4 r=1.85 cx=129.1 cy=258.2 /><circle class=r1 r=2.8 cx=132.5 cy=183.7 /><circle class=r4 r=1.85 cx=79.1 cy=218 /><circle class=r4 r=1.85 cx=115.9 cy=222.6 /><circle class=r2 r=2.5 cx=119.2 cy=205.2 /><circle class=r1 r=2.8 cx=223.9 cy=186.6 /><circle class=r2 r=2.5 cx=109.5 cy=209.2 /><circle class=r4 r=1.85 cx=150.3 cy=224.4 /><circle class=r4 r=1.85 cx=120.1 cy=249.1 /><circle class=r1 r=2.8 cx=73.5 cy=223.1 /><circle class=r4 r=1.85 cx=137.5 cy=226.9 /><circle class=r4 r=1.85 cx=135.6 cy=261.5 /><circle class=r2 r=2.5 cx=89.6 cy=198.9 /><circle class=r1 r=2.8 cx=79.4 cy=208.5 /><circle class=r4 r=1.85 cx=109 cy=129.3 /><circle class=r1 r=2.8 cx=116.9 cy=190.8 /><circle class=r4 r=1.85 cx=132.9 cy=251.6 /><circle class=r4 r=1.85 cx=125.1 cy=247.6 /><circle class=r4 r=1.85 cx=104.6 cy=216.4 /><circle class=r5 r=1.4 cx=199.7 cy=278.5 /><circle class=r4 r=1.85 cx=88 cy=231.2 /><circle class=r1 r=2.8 cx=86.5 cy=207.9 /><circle class=r4 r=1.85 cx=93.2 cy=232.7 /><circle class=r2 r=2.5 cx=91.6 cy=217.6 /><circle class=r5 r=1.4 cx=164.7 cy=284.3 /><circle class=r1 r=2.8 cx=135.5 cy=188.1 /><circle class=r4 r=1.85 cx=105.7 cy=270.6 /><circle class=r5 r=1.4 cx=99.4 cy=147.7 /><circle class=r1 r=2.8 cx=112.2 cy=205.2 /><circle class=r2 r=2.5 cx=58.7 cy=208.5 /><circle class=r4 r=1.85 cx=123.6 cy=263.1 /><circle class=r1 r=2.8 cx=66.1 cy=225.1 /><circle class=r1 r=2.8 cx=115.9 cy=196.4 /><circle class=r2 r=2.5 cx=82.9 cy=176.6 /><circle class=r1 r=2.8 cx=102.1 cy=183.4 /><circle class=r5 r=1.4 cx=124.7 cy=228.7 /><circle class=r4 r=1.85 cx=121.9 cy=211.9 /><circle class=r1 r=2.8 cx=176.7 cy=171.2 /><circle class=r1 r=2.8 cx=116.2 cy=195.5 /><circle class=r2 r=2.5 cx=68.8 cy=202.6 /><circle class=r4 r=1.85 cx=130.1 cy=263.7 /><circle class=r4 r=1.85 cx=66.2 cy=209.2 /><circle class=r4 r=1.85 cx=90.7 cy=214.1 /><circle class=r1 r=2.8 cx=75 cy=223.8 /><circle class=r2 r=2.5 cx=112.1 cy=210.3 /><circle class=r4 r=1.85 cx=87.1 cy=236.6 /><circle class=r1 r=2.8 cx=119.8 cy=182.9 /><circle class=r1 r=2.8 cx=97.5 cy=176.9 /><circle class=r2 r=2.5 cx=76.2 cy=176 /><circle class=r2 r=2.5 cx=84.5 cy=184.1 /><circle class=r4 r=1.85 cx=107.9 cy=236.9 /><circle class=r4 r=1.85 cx=83.9 cy=246.8 /><circle class=r4 r=1.85 cx=107.6 cy=259.6 /><circle class=r2 r=2.5 cx=88.9 cy=195 /><circle class=r4 r=1.85 cx=45.9 cy=208.8 /><circle class=r4 r=1.85 cx=68.3 cy=243.3 /><circle class=r4 r=1.85 cx=102.9 cy=219.5 /><circle class=r1 r=2.8 cx=109.4 cy=194.5 /><circle class=r2 r=2.5 cx=103.5 cy=180.4 /><circle class=r5 r=1.4 cx=23.5 cy=214.3 /><circle class=r2 r=2.5 cx=104.4 cy=199.3 /><circle class=r2 r=2.5 cx=102.3 cy=188 /><circle class=r4 r=1.85 cx=26.6 cy=162.3 /><circle class=r4 r=1.85 cx=88.6 cy=215.5 /><circle class=r5 r=1.4 cx=84.9 cy=145.2 /><circle class=r1 r=2.8 cx=73.8 cy=224.5 /><circle class=r1 r=2.8 cx=89.7 cy=204.5 /><circle class=r2 r=2.5 cx=77.4 cy=209.4 /><circle class=r4 r=1.85 cx=93.6 cy=250.5 /><circle class=r1 r=2.8 cx=69.2 cy=226.4 /><circle class=r4 r=1.85 cx=83.7 cy=227.5 /><circle class=r2 r=2.5 cx=154.2 cy=131.2 /><circle class=r5 r=1.4 cx=121.5 cy=227.8 /><circle class=r5 r=1.4 cx=15.7 cy=233.5 /><circle class=r1 r=2.8 cx=104 cy=182 /><circle class=r1 r=2.8 cx=81.6 cy=207.5 /><circle class=r4 r=1.85 cx=113 cy=227.7 /><circle class=r5 r=1.4 cx=164.2 cy=284.9 /><circle class=r1 r=2.8 cx=112.5 cy=198 /><circle class=r4 r=1.85 cx=61.4 cy=236.9 /><circle class=r2 r=2.5 cx=114.6 cy=203.8 /><circle class=r4 r=1.85 cx=127.7 cy=227 /><circle class=r4 r=1.85 cx=166.7 cy=240.5 /><circle class=r1 r=2.8 cx=113.5 cy=182.7 /><circle class=r1 r=2.8 cx=108.6 cy=191.9 /><circle class=r2 r=2.5 cx=150 cy=188.1 /><circle class=r4 r=1.85 cx=108.7 cy=256.3 /><circle class=r2 r=2.5 cx=89.7 cy=199.9 /><circle class=r1 r=2.8 cx=62.8 cy=225.8 /><circle class=r1 r=2.8 cx=109.1 cy=191.5 /><circle class=r2 r=2.5 cx=96.1 cy=201.2 /><circle class=r2 r=2.5 cx=84.3 cy=208.1 /><circle class=r1 r=2.8 cx=162.3 cy=171.3 /><circle class=r1 r=2.8 cx=89 cy=207.4 /><circle class=r4 r=1.85 cx=135 cy=261.4 /><circle class=r4 r=1.85 cx=121 cy=230 /><circle class=r4 r=1.85 cx=115.3 cy=223.6 /><circle class=r1 r=2.8 cx=101.5 cy=175.7 /><circle class=r1 r=2.8 cx=109.2 cy=187.6 /><circle class=r5 r=1.4 cx=42 cy=209.4 /><circle class=r5 r=1.4 cx=162.2 cy=282.7 /><circle class=r1 r=2.8 cx=75 cy=205 /><circle class=r1 r=2.8 cx=100.6 cy=188.4 /><circle class=r1 r=2.8 cx=67.1 cy=220.3 /><circle class=r1 r=2.8 cx=108.4 cy=184.1 /><circle class=r5 r=1.4 cx=77.6 cy=134.2 /><circle class=r1 r=2.8 cx=74.7 cy=223.9 /><circle class=r1 r=2.8 cx=74.3 cy=230.2 /><circle class=r5 r=1.4 cx=109.2 cy=225.1 /><circle class=r1 r=2.8 cx=113.3 cy=189.1 /><circle class=r1 r=2.8 cx=108.6 cy=190.9 /><circle class=r1 r=2.8 cx=106.4 cy=194.4 /><circle class=r5 r=1.4 cx=61.8 cy=150.1 /><circle class=r5 r=1.4 cx=160 cy=283.4 /><circle class=r1 r=2.8 cx=147.9 cy=188.8 /><circle class=r1 r=2.8 cx=133.9 cy=196.4 /><circle class=r1 r=2.8 cx=115.6 cy=174.5 /><circle class=r1 r=2.8 cx=110.1 cy=195.1 /><circle class=r5 r=1.4 cx=80.5 cy=257.1 /><circle class=r1 r=2.8 cx=87.4 cy=207.1 /><circle class=r5 r=1.4 cx=78.2 cy=134.9 /><circle class=r1 r=2.8 cx=111 cy=193.7 /><circle class=r1 r=2.8 cx=150.7 cy=152.2 /><circle class=r1 r=2.8 cx=100.8 cy=188.6 /><circle class=r1 r=2.8 cx=109.3 cy=204 /><circle class=r5 r=1.4 cx=67.9 cy=149.8 /><circle class=r1 r=2.8 cx=107.6 cy=170.1 /><circle class=r1 r=2.8 cx=120.6 cy=176.4 /><circle class=r1 r=2.8 cx=109.9 cy=192.1 /><circle class=r1 r=2.8 cx=79.3 cy=226.6 /><circle class=r1 r=2.8 cx=179.1 cy=156 /><circle class=r1 r=2.8 cx=176.4 cy=171.3 /><circle class=r1 r=2.8 cx=116.2 cy=194.9 /><circle class=r1 r=2.8 cx=150.8 cy=171.7 /><circle class=r1 r=2.8 cx=147.8 cy=174 /><circle class=r1 r=2.8 cx=91.7 cy=170.9 /><circle class=r5 r=1.4 cx=134.7 cy=231.6 /><circle class=r5 r=1.4 cx=44 cy=224.1 /><circle class=r1 r=2.8 cx=110.7 cy=174.5 /><circle class=r1 r=2.8 cx=99.2 cy=178.3 /><circle class=r1 r=2.8 cx=153.7 cy=159.2 /><circle class=r1 r=2.8 cx=124.4 cy=175.1 /><circle class=r1 r=2.8 cx=165.9 cy=171.3 /><circle class=r1 r=2.8 cx=195.7 cy=172.7 /><circle class=r1 r=2.8 cx=107.1 cy=181.8 /><circle class=r1 r=2.8 cx=151.8 cy=172.4 /><circle class=r1 r=2.8 cx=78.9 cy=204.7 /><circle class=r1 r=2.8 cx=124.7 cy=182.1 /><circle class=r1 r=2.8 cx=72.3 cy=221.8 /><circle class=r1 r=2.8 cx=73.7 cy=223.9 /><circle class=r5 r=1.4 cx=103.5 cy=136 /><circle class=r1 r=2.8 cx=171 cy=172.6 /><circle class=r1 r=2.8 cx=101.3 cy=177.7 /><circle class=r1 r=2.8 cx=68.3 cy=220.7 /><circle class=r5 r=1.4 cx=34.8 cy=222.1 /><circle class=r5 r=1.4 cx=38.4 cy=224.1 /><circle class=r1 r=2.8 cx=128.3 cy=194.6 /><circle class=r1 r=2.8 cx=101.1 cy=182.1 /><circle class=r1 r=2.8 cx=138.8 cy=189.1 /><circle class=r1 r=2.8 cx=188.7 cy=165.9 /><circle class=r5 r=1.4 cx=37.4 cy=228.9 /><circle class=r5 r=1.4 cx=128.4 cy=224.8 /><circle class=r1 r=2.8 cx=86.5 cy=203.9 /><circle class=r1 r=2.8 cx=118.8 cy=198 /><circle class=r1 r=2.8 cx=89.6 cy=204 /><circle class=r1 r=2.8 cx=79.3 cy=208 /><circle class=r5 r=1.4 cx=13.2 cy=248.5 /><circle class=r1 r=2.8 cx=115.3 cy=195.6 /><circle class=r1 r=2.8 cx=91.5 cy=192 /><circle class=r1 r=2.8 cx=94.4 cy=200.7 /><circle class=r1 r=2.8 cx=75 cy=221.4 /><circle class=r1 r=2.8 cx=109 cy=174.2 /><circle class=r1 r=2.8 cx=94 cy=178.1 /><circle class=r5 r=1.4 cx=14.3 cy=232.3 /><circle class=r1 r=2.8 cx=116.1 cy=195.7 /><circle class=r1 r=2.8 cx=170 cy=144.7 /><circle class=r1 r=2.8 cx=151.9 cy=121 /><circle class=r1 r=2.8 cx=124.4 cy=196.9 /><circle class=r5 r=1.4 cx=170.4 cy=270.6 /><circle class=r1 r=2.8 cx=104.4 cy=186.6 /><circle class=r1 r=2.8 cx=191.3 cy=165.1 /><circle class=r1 r=2.8 cx=89.7 cy=207.5 /><circle class=r1 r=2.8 cx=139.3 cy=188.5 /><circle class=r1 r=2.8 cx=97.5 cy=176.1 /><circle class=r5 r=1.4 cx=135.2 cy=261.8 /><circle class=r5 r=1.4 cx=82.7 cy=134.5 /><circle class=r5 r=1.4 cx=95.4 cy=141 /><circle class=r1 r=2.8 cx=81 cy=203 /><circle class=r1 r=2.8 cx=69.9 cy=231.7 /><circle class=r1 r=2.8 cx=146.7 cy=147 /><circle class=r1 r=2.8 cx=110.1 cy=174.4 /><circle class=r5 r=1.4 cx=165.1 cy=283.8 /><circle class=r1 r=2.8 cx=63.6 cy=223.1 /><circle class=r1 r=2.8 cx=185 cy=139.8 /><circle class=r5 r=1.4 cx=98.8 cy=148.3 /><circle class=r1 r=2.8 cx=74.1 cy=206.4 /><circle class=r1 r=2.8 cx=100.4 cy=182.3 /><circle class=r1 r=2.8 cx=132.9 cy=175.1 /><circle class=r1 r=2.8 cx=163.3 cy=171.9 /><circle class=r1 r=2.8 cx=164.5 cy=164.4 /><circle class=r5 r=1.4 cx=86.7 cy=148.4 /><circle class=r1 r=2.8 cx=187 cy=144.2 /><circle class=r5 r=1.4 cx=26.3 cy=245.2 /><circle class=r1 r=2.8 cx=183.1 cy=137.8 /><circle class=r1 r=2.8 cx=106.2 cy=194.5 /><circle class=r1 r=2.8 cx=127.5 cy=198.5 /><circle class=r1 r=2.8 cx=185.3 cy=166.3 /><circle class=r1 r=2.8 cx=111.9 cy=194.3 /><circle class=r1 r=2.8 cx=67.4 cy=220.2 /><circle class=r1 r=2.8 cx=75.7 cy=221.7 /><circle class=r1 r=2.8 cx=124.1 cy=182.1 /><circle class=r1 r=2.8 cx=185.4 cy=139 /><circle class=r1 r=2.8 cx=110.5 cy=191.6 /><circle class=r1 r=2.8 cx=111.1 cy=184.3 /><circle class=r1 r=2.8 cx=111.2 cy=200.8 /><circle class=r1 r=2.8 cx=120.2 cy=186.7 /><circle class=r1 r=2.8 cx=117.7 cy=198.7 /><circle class=r1 r=2.8 cx=90 cy=205.7 /><circle class=r1 r=2.8 cx=184.7 cy=166.4 /><circle class=r1 r=2.8 cx=107.8 cy=171.6 /><circle class=r1 r=2.8 cx=68.5 cy=230.3 /><circle class=r1 r=2.8 cx=100.8 cy=187.7 /><circle class=r1 r=2.8 cx=102.5 cy=181.3 /><circle class=r1 r=2.8 cx=121.4 cy=184.3 /><circle class=r1 r=2.8 cx=118.6 cy=180.3 /><circle class=r1 r=2.8 cx=119.5 cy=184.4 /><circle class=r1 r=2.8 cx=72.5 cy=206.3 /><circle class=r1 r=2.8 cx=110.5 cy=199 /><circle class=r1 r=2.8 cx=169.1 cy=141.3 /><circle class=r1 r=2.8 cx=109.1 cy=198.4 /><circle class=r1 r=2.8 cx=71.4 cy=225.7 /><circle class=r1 r=2.8 cx=149.8 cy=135.9 /><circle class=r1 r=2.8 cx=112.6 cy=192.4 /></g>
<use href="#scale"/>
</g>
<text x="2.7" y="352.3" class="lt" font-size="16.3">Legend</text><circle class="r1" r="2.8" cx="10" cy="368.6"/><text x="21.8" y="373.7" font-size="14.9" xml:space="preserve"> 0.0001 -  0.5676</text><circle class="r2" r="2.5" cx="10" cy="388.3"/><text x="21.8" y="393.4" font-size="14.9" xml:space="preserve">-0.0237 -  0.0000</text><circle class="r3" r="2.2" cx="10" cy="408"/><text x="21.8" y="413.1" font-size="14.9" xml:space="preserve">-0.1571 - -0.0238</text><circle class="r4" r="1.85" cx="10" cy="427.8"/><text x="21.8" y="432.9" font-size="14.9" xml:space="preserve">-0.3142 - -0.1572</text><circle class="r5" r="1.4" cx="10" cy="447.5"/><text x="21.8" y="452.6" font-size="14.9" xml:space="preserve">-0.5459 - -0.3143</text>
<text x="166.2" y="517.1" class="cap">(a) Estimated coefficients of</text><text x="166.2" y="550.3" class="cap">car ownership</text><text x="166.2" y="583.4" class="cap">for bicycle ownership</text>
<g transform="translate(369 0)">
<use href="#north"/>
<use href="#base"/>
<g class="pt"><circle class=b3 r=2.2 cx=115.3 cy=207.7 /><circle class=b3 r=2.2 cx=66.1 cy=225.1 /><circle class=b3 r=2.2 cx=84.1 cy=218 /><circle class=b3 r=2.2 cx=65.8 cy=209 /><circle class=b3 r=2.2 cx=81.3 cy=221.7 /><circle class=b3 r=2.2 cx=62.7 cy=201.9 /><circle class=b3 r=2.2 cx=65.7 cy=204.7 /><circle class=b3 r=2.2 cx=101.1 cy=225.1 /><circle class=b3 r=2.2 cx=77.4 cy=232.2 /><circle class=b3 r=2.2 cx=83.2 cy=223.2 /><circle class=b3 r=2.2 cx=100.9 cy=225.8 /><circle class=b3 r=2.2 cx=77.4 cy=234.8 /><circle class=b3 r=2.2 cx=69.1 cy=206.3 /><circle class=b3 r=2.2 cx=98.8 cy=227.3 /><circle class=b3 r=2.2 cx=172.1 cy=206.6 /><circle class=b3 r=2.2 cx=56.8 cy=215.9 /><circle class=b3 r=2.2 cx=57.5 cy=216.1 /><circle class=b3 r=2.2 cx=74.5 cy=230.9 /><circle class=b3 r=2.2 cx=125 cy=210.4 /><circle class=b3 r=2.2 cx=96.6 cy=235.7 /><circle class=b3 r=2.2 cx=64.7 cy=181.7 /><circle class=b3 r=2.2 cx=58 cy=193.5 /><circle class=b3 r=2.2 cx=75 cy=227.2 /><circle class=b3 r=2.2 cx=61.8 cy=196 /><circle class=b3 r=2.2 cx=69.2 cy=226.4 /><circle class=b3 r=2.2 cx=59.8 cy=228.8 /><circle class=b3 r=2.2 cx=71 cy=223.6 /><circle class=b3 r=2.2 cx=102.9 cy=219.5 /><circle class=b3 r=2.2 cx=66 cy=216 /><circle class=b3 r=2.2 cx=94.9 cy=228.3 /><circle class=b3 r=2.2 cx=85.8 cy=223.1 /><circle class=b3 r=2.2 cx=76.8 cy=232.2 /><circle class=b3 r=2.2 cx=106.4 cy=214.1 /><circle class=b3 r=2.2 cx=57 cy=205.9 /><circle class=b3 r=2.2 cx=94 cy=229.4 /><circle class=b3 r=2.2 cx=106.8 cy=214.5 /><circle class=b3 r=2.2 cx=93.7 cy=225.9 /><circle class=b3 r=2.2 cx=41.5 cy=237.6 /><circle class=b3 r=2.2 cx=118.4 cy=209.1 /><circle class=b3 r=2.2 cx=65.7 cy=220.7 /><circle class=b3 r=2.2 cx=64.1 cy=195.3 /><circle class=b3 r=2.2 cx=73.6 cy=232.7 /><circle class=b3 r=2.2 cx=77.9 cy=234.4 /><circle class=b3 r=2.2 cx=80.3 cy=231.4 /><circle class=b3 r=2.2 cx=69.7 cy=228.3 /><circle class=b3 r=2.2 cx=73.3 cy=218.4 /><circle class=b3 r=2.2 cx=69 cy=207.4 /><circle class=b3 r=2.2 cx=67 cy=219.9 /><circle class=b3 r=2.2 cx=67.9 cy=208.6 /><circle class=b3 r=2.2 cx=97.6 cy=233.6 /><circle class=b3 r=2.2 cx=83 cy=231.8 /><circle class=b3 r=2.2 cx=87.2 cy=230.1 /><circle class=b3 r=2.2 cx=82.7 cy=214.2 /><circle class=b3 r=2.2 cx=64.7 cy=208.5 /><circle class=b3 r=2.2 cx=103.6 cy=227.8 /><circle class=b3 r=2.2 cx=67 cy=211.5 /><circle class=b3 r=2.2 cx=102.9 cy=229.1 /><circle class=b3 r=2.2 cx=95.4 cy=201.5 /><circle class=b3 r=2.2 cx=55.2 cy=212.5 /><circle class=b3 r=2.2 cx=63.5 cy=218.5 /><circle class=b3 r=2.2 cx=114.8 cy=139.2 /><circle class=b4 r=1.85 cx=66 cy=214.8 /><circle class=b4 r=1.85 cx=96.6 cy=225.4 /><circle class=b3 r=2.2 cx=74.3 cy=230.2 /><circle class=b4 r=1.85 cx=81.2 cy=219.8 /><circle class=b4 r=1.85 cx=114.6 cy=203.8 /><circle class=b4 r=1.85 cx=104.2 cy=205.6 /><circle class=b3 r=2.2 cx=90.7 cy=227.6 /><circle class=b4 r=1.85 cx=68.5 cy=202.3 /><circle class=b3 r=2.2 cx=97.5 cy=229.7 /><circle class=b4 r=1.85 cx=64.6 cy=198.6 /><circle class=b3 r=2.2 cx=65.7 cy=186.3 /><circle class=b3 r=2.2 cx=110.1 cy=222.9 /><circle class=b4 r=1.85 cx=124.4 cy=175.1 /><circle class=b4 r=1.85 cx=64.7 cy=211.3 /><circle class=b2 r=2.5 cx=122.4 cy=256.5 /><circle class=b3 r=2.2 cx=118.9 cy=209.2 /><circle class=b2 r=2.5 cx=110.7 cy=223.8 /><circle class=b4 r=1.85 cx=88.8 cy=174.8 /><circle class=b2 r=2.5 cx=114.1 cy=228.7 /><circle class=b2 r=2.5 cx=117.9 cy=211.1 /><circle class=b4 r=1.85 cx=97.8 cy=217.5 /><circle class=b3 r=2.2 cx=78.2 cy=225.3 /><circle class=b3 r=2.2 cx=73.7 cy=228.2 /><circle class=b2 r=2.5 cx=126 cy=223 /><circle class=b3 r=2.2 cx=67.7 cy=209.2 /><circle class=b2 r=2.5 cx=61.7 cy=209.5 /><circle class=b3 r=2.2 cx=63.2 cy=214 /><circle class=b3 r=2.2 cx=116 cy=207.3 /><circle class=b2 r=2.5 cx=159.5 cy=281.7 /><circle class=b4 r=1.85 cx=83.6 cy=227 /><circle class=b2 r=2.5 cx=107.2 cy=268.9 /><circle class=b2 r=2.5 cx=35.6 cy=171.4 /><circle class=b2 r=2.5 cx=70.2 cy=244.2 /><circle class=b2 r=2.5 cx=51.2 cy=189.2 /><circle class=b4 r=1.85 cx=95.5 cy=224.6 /><circle class=b4 r=1.85 cx=80 cy=203.6 /><circle class=b3 r=2.2 cx=134.4 cy=213.5 /><circle class=b4 r=1.85 cx=98.3 cy=202.4 /><circle class=b2 r=2.5 cx=91.7 cy=248.4 /><circle class=b4 r=1.85 cx=109 cy=174.2 /><circle class=b3 r=2.2 cx=117.6 cy=208.8 /><circle class=b4 r=1.85 cx=101.8 cy=216.5 /><circle class=b2 r=2.5 cx=113.1 cy=227.7 /><circle class=b3 r=2.2 cx=107.1 cy=210.6 /><circle class=b2 r=2.5 cx=41.4 cy=213.9 /><circle class=b3 r=2.2 cx=88.1 cy=235.2 /><circle class=b2 r=2.5 cx=96 cy=166.3 /><circle class=b4 r=1.85 cx=130 cy=200.5 /><circle class=b4 r=1.85 cx=99.6 cy=206 /><circle class=b3 r=2.2 cx=95.2 cy=222.3 /><circle class=b2 r=2.5 cx=80.5 cy=257.1 /><circle class=b3 r=2.2 cx=68.3 cy=220.7 /><circle class=b3 r=2.2 cx=95.1 cy=165.8 /><circle class=b3 r=2.2 cx=64.9 cy=208.2 /><circle class=b2 r=2.5 cx=66.6 cy=243 /><circle class=b4 r=1.85 cx=105.2 cy=207 /><circle class=b2 r=2.5 cx=126.1 cy=211.3 /><circle class=b4 r=1.85 cx=130.1 cy=207.5 /><circle class=b4 r=1.85 cx=93.2 cy=209.3 /><circle class=b2 r=2.5 cx=110 cy=236 /><circle class=b4 r=1.85 cx=71.2 cy=198.8 /><circle class=b2 r=2.5 cx=109.4 cy=217.6 /><circle class=b4 r=1.85 cx=82.3 cy=181.2 /><circle class=b3 r=2.2 cx=101 cy=225.6 /><circle class=b3 r=2.2 cx=72.4 cy=238.5 /><circle class=b4 r=1.85 cx=98.7 cy=215.1 /><circle class=b3 r=2.2 cx=63.7 cy=231 /><circle class=b2 r=2.5 cx=115.3 cy=223.6 /><circle class=b4 r=1.85 cx=80.4 cy=214 /><circle class=b4 r=1.85 cx=108.6 cy=191.9 /><circle class=b2 r=2.5 cx=103.2 cy=135.5 /><circle class=b4 r=1.85 cx=89.9 cy=223.7 /><circle class=b4 r=1.85 cx=78.8 cy=214.8 /><circle class=b2 r=2.5 cx=26.6 cy=162.3 /><circle class=b4 r=1.85 cx=125.1 cy=203.4 /><circle class=b2 r=2.5 cx=168.9 cy=218.8 /><circle class=b4 r=1.85 cx=73.4 cy=201.9 /><circle class=b4 r=1.85 cx=159.6 cy=185.6 /><circle class=b4 r=1.85 cx=67.2 cy=213.9 /><circle class=b4 r=1.85 cx=72.3 cy=216.5 /><circle class=b4 r=1.85 cx=85 cy=228.2 /><circle class=b2 r=2.5 cx=72.7 cy=250.1 /><circle class=b3 r=2.2 cx=61.4 cy=226.3 /><circle class=b4 r=1.85 cx=106.5 cy=207.6 /><circle class=b2 r=2.5 cx=55.8 cy=206.6 /><circle class=b3 r=2.2 cx=105.8 cy=236.5 /><circle class=b3 r=2.2 cx=64.2 cy=193.1 /><circle class=b2 r=2.5 cx=115.6 cy=209.3 /><circle class=b2 r=2.5 cx=68.3 cy=243.3 /><circle class=b4 r=1.85 cx=72.5 cy=205.8 /><circle class=b4 r=1.85 cx=151.4 cy=156.9 /><circle class=b3 r=2.2 cx=79.2 cy=218.6 /><circle class=b4 r=1.85 cx=102.9 cy=221.1 /><circle class=b3 r=2.2 cx=69.4 cy=235.6 /><circle class=b4 r=1.85 cx=118.6 cy=180.3 /><circle class=b3 r=2.2 cx=58.7 cy=208.5 /><circle class=b4 r=1.85 cx=102.6 cy=172.4 /><circle class=b3 r=2.2 cx=89.8 cy=224.6 /><circle class=b2 r=2.5 cx=125.1 cy=226.9 /><circle class=b3 r=2.2 cx=70.7 cy=218.9 /><circle class=b3 r=2.2 cx=91 cy=215.7 /><circle class=b4 r=1.85 cx=87.8 cy=217.3 /><circle class=b3 r=2.2 cx=57.4 cy=203.1 /><circle class=b2 r=2.5 cx=58.1 cy=186 /><circle class=b2 r=2.5 cx=134.2 cy=255.7 /><circle class=b2 r=2.5 cx=113.4 cy=228.2 /><circle class=b2 r=2.5 cx=116 cy=247.8 /><circle class=b4 r=1.85 cx=96.1 cy=200.6 /><circle class=b3 r=2.2 cx=65.2 cy=207.6 /><circle class=b3 r=2.2 cx=69.6 cy=230.7 /><circle class=b2 r=2.5 cx=107.9 cy=260.8 /><circle class=b2 r=2.5 cx=59.2 cy=212.8 /><circle class=b3 r=2.2 cx=70.1 cy=213.7 /><circle class=b2 r=2.5 cx=111 cy=236.4 /><circle class=b4 r=1.85 cx=152.8 cy=191.1 /><circle class=b2 r=2.5 cx=119.9 cy=250 /><circle class=b3 r=2.2 cx=99.2 cy=225.4 /><circle class=b4 r=1.85 cx=94.6 cy=222.5 /><circle class=b4 r=1.85 cx=171 cy=172.6 /><circle class=b3 r=2.2 cx=62.2 cy=226.5 /><circle class=b3 r=2.2 cx=58.8 cy=210.7 /><circle class=b2 r=2.5 cx=75.2 cy=229.1 /><circle class=b2 r=2.5 cx=108.5 cy=237 /><circle class=b4 r=1.85 cx=85 cy=219.6 /><circle class=b4 r=1.85 cx=89.3 cy=199.1 /><circle class=b4 r=1.85 cx=93.2 cy=232.7 /><circle class=b4 r=1.85 cx=110.9 cy=191.4 /><circle class=b4 r=1.85 cx=89.2 cy=221.7 /><circle class=b4 r=1.85 cx=121.3 cy=145.2 /><circle class=b4 r=1.85 cx=92.7 cy=212.7 /><circle class=b2 r=2.5 cx=162 cy=284.9 /><circle class=b3 r=2.2 cx=110 cy=223.6 /><circle class=b3 r=2.2 cx=120.7 cy=209.5 /><circle class=b3 r=2.2 cx=129.5 cy=211.4 /><circle class=b2 r=2.5 cx=98.5 cy=264.6 /><circle class=b2 r=2.5 cx=74.8 cy=241.6 /><circle class=b3 r=2.2 cx=108.7 cy=209 /><circle class=b3 r=2.2 cx=68.9 cy=207.1 /><circle class=b3 r=2.2 cx=63 cy=208.6 /><circle class=b4 r=1.85 cx=107.2 cy=223.2 /><circle class=b3 r=2.2 cx=106.4 cy=213.9 /><circle class=b4 r=1.85 cx=86.5 cy=208 /><circle class=b3 r=2.2 cx=98.6 cy=233 /><circle class=b4 r=1.85 cx=79.3 cy=196.2 /><circle class=b2 r=2.5 cx=56.4 cy=218.8 /><circle class=b2 r=2.5 cx=55.2 cy=204.6 /><circle class=b2 r=2.5 cx=69.8 cy=248.4 /><circle class=b4 r=1.85 cx=188.7 cy=165.9 /><circle class=b2 r=2.5 cx=157.8 cy=272.4 /><circle class=b3 r=2.2 cx=98.6 cy=226.3 /><circle class=b4 r=1.85 cx=92.5 cy=218.2 /><circle class=b4 r=1.85 cx=95.3 cy=218.3 /><circle class=b2 r=2.5 cx=162.2 cy=282.7 /><circle class=b4 r=1.85 cx=147.9 cy=188.8 /><circle class=b3 r=2.2 cx=53.8 cy=209.9 /><circle class=b4 r=1.85 cx=99 cy=210.9 /><circle class=b3 r=2.2 cx=78.2 cy=233.8 /><circle class=b3 r=2.2 cx=85.9 cy=219.5 /><circle class=b2 r=2.5 cx=134.7 cy=231.6 /><circle class=b3 r=2.2 cx=88.6 cy=231.4 /><circle class=b2 r=2.5 cx=114.8 cy=261 /><circle class=b2 r=2.5 cx=113.4 cy=227.8 /><circle class=b3 r=2.2 cx=57.4 cy=215.1 /><circle class=b3 r=2.2 cx=78.5 cy=236 /><circle class=b4 r=1.85 cx=66.1 cy=196.5 /><circle class=b4 r=1.85 cx=89.2 cy=216.1 /><circle class=b3 r=2.2 cx=68.5 cy=226.1 /><circle class=b4 r=1.85 cx=89.2 cy=221.5 /><circle class=b2 r=2.5 cx=170.4 cy=217 /><circle class=b2 r=2.5 cx=22.8 cy=215.1 /><circle class=b3 r=2.2 cx=59.3 cy=218 /><circle class=b3 r=2.2 cx=93.1 cy=232.9 /><circle class=b2 r=2.5 cx=189.2 cy=237.5 /><circle class=b2 r=2.5 cx=50.5 cy=224.3 /><circle class=b2 r=2.5 cx=121.2 cy=263.5 /><circle class=b3 r=2.2 cx=65.5 cy=209.3 /><circle class=b4 r=1.85 cx=88.2 cy=218.6 /><circle class=b4 r=1.85 cx=85.2 cy=218.3 /><circle class=b3 r=2.2 cx=83.7 cy=226.7 /><circle class=b2 r=2.5 cx=107.6 cy=261.1 /><circle class=b3 r=2.2 cx=167.7 cy=198.1 /><circle class=b3 r=2.2 cx=55.1 cy=207.6 /><circle class=b4 r=1.85 cx=84.6 cy=220.8 /><circle class=b3 r=2.2 cx=51.5 cy=217.9 /><circle class=b4 r=1.85 cx=99.9 cy=232 /><circle class=b3 r=2.2 cx=129.2 cy=213 /><circle class=b4 r=1.85 cx=81.7 cy=217.7 /><circle class=b3 r=2.2 cx=96.3 cy=225.3 /><circle class=b2 r=2.5 cx=134.4 cy=214.3 /><circle class=b3 r=2.2 cx=103.3 cy=232.2 /><circle class=b4 r=1.85 cx=73.3 cy=202.1 /><circle class=b4 r=1.85 cx=84.3 cy=208.1 /><circle class=b3 r=2.2 cx=67.9 cy=208.8 /><circle class=b4 r=1.85 cx=124.3 cy=202.7 /><circle class=b3 r=2.2 cx=91.7 cy=170.9 /><circle class=b2 r=2.5 cx=40.4 cy=156.2 /><circle class=b2 r=2.5 cx=37.4 cy=241.1 /><circle class=b3 r=2.2 cx=69.2 cy=219.5 /><circle class=b2 r=2.5 cx=46.2 cy=208 /><circle class=b3 r=2.2 cx=67.4 cy=220.2 /><circle class=b2 r=2.5 cx=70.3 cy=247.1 /><circle class=b4 r=1.85 cx=76.9 cy=211.1 /><circle class=b2 r=2.5 cx=126.7 cy=218.5 /><circle class=b3 r=2.2 cx=107.4 cy=165.8 /><circle class=b4 r=1.85 cx=67 cy=189.3 /><circle class=b3 r=2.2 cx=68.5 cy=205 /><circle class=b3 r=2.2 cx=93.6 cy=230.2 /><circle class=b2 r=2.5 cx=59.6 cy=210.1 /><circle class=b3 r=2.2 cx=97.7 cy=231.2 /><circle class=b3 r=2.2 cx=101.3 cy=232.6 /><circle class=b4 r=1.85 cx=82.7 cy=213.4 /><circle class=b4 r=1.85 cx=108.8 cy=208.6 /><circle class=b2 r=2.5 cx=71.5 cy=224.5 /><circle class=b2 r=2.5 cx=111 cy=267.7 /><circle class=b4 r=1.85 cx=78.3 cy=216.5 /><circle class=b3 r=2.2 cx=103.6 cy=229.1 /><circle class=b3 r=2.2 cx=67.5 cy=220.7 /><circle class=b2 r=2.5 cx=78.5 cy=237.2 /><circle class=b4 r=1.85 cx=78.7 cy=213.6 /><circle class=b2 r=2.5 cx=117.6 cy=211.7 /><circle class=b3 r=2.2 cx=68.6 cy=205.3 /><circle class=b4 r=1.85 cx=71.6 cy=219.7 /><circle class=b3 r=2.2 cx=90.3 cy=227.9 /><circle class=b2 r=2.5 cx=112.3 cy=211.8 /><circle class=b4 r=1.85 cx=70.6 cy=201.1 /><circle class=b4 r=1.85 cx=172.1 cy=122.8 /><circle class=b2 r=2.5 cx=95.5 cy=244.7 /><circle class=b4 r=1.85 cx=110 cy=174.9 /><circle class=b4 r=1.85 cx=89.3 cy=224.6 /><circle class=b2 r=2.5 cx=61.3 cy=226.4 /><circle class=b3 r=2.2 cx=59.7 cy=212.5 /><circle class=b4 r=1.85 cx=86.7 cy=209.8 /><circle class=b3 r=2.2 cx=54.6 cy=180 /><circle class=b4 r=1.85 cx=69.9 cy=215.2 /><circle class=b4 r=1.85 cx=79.3 cy=208 /><circle class=b2 r=2.5 cx=126.8 cy=214.7 /><circle class=b4 r=1.85 cx=94.7 cy=219 /><circle class=b2 r=2.5 cx=70.1 cy=251 /><circle class=b4 r=1.85 cx=83.1 cy=186.4 /><circle class=b4 r=1.85 cx=85.1 cy=186.9 /><circle class=b4 r=1.85 cx=92.2 cy=207.7 /><circle class=b2 r=2.5 cx=124.9 cy=265.8 /><circle class=b3 r=2.2 cx=60.6 cy=225.7 /><circle class=b4 r=1.85 cx=81.6 cy=207.5 /><circle class=b4 r=1.85 cx=107.8 cy=171.6 /><circle class=b4 r=1.85 cx=81.9 cy=210.3 /><circle class=b4 r=1.85 cx=72 cy=206.7 /><circle class=b2 r=2.5 cx=55.9 cy=216.1 /><circle class=b3 r=2.2 cx=70.9 cy=226.5 /><circle class=b4 r=1.85 cx=83.5 cy=197.5 /><circle class=b4 r=1.85 cx=87.4 cy=207.1 /><circle class=b2 r=2.5 cx=36.8 cy=216.6 /><circle class=b3 r=2.2 cx=119.1 cy=210.9 /><circle class=b3 r=2.2 cx=70.3 cy=227.9 /><circle class=b4 r=1.85 cx=80.1 cy=208.6 /><circle class=b3 r=2.2 cx=67.1 cy=219.8 /><circle class=b2 r=2.5 cx=115.8 cy=234 /><circle class=b4 r=1.85 cx=74.2 cy=200.6 /><circle class=b3 r=2.2 cx=67.5 cy=220.5 /><circle class=b4 r=1.85 cx=64.2 cy=192.7 /><circle class=b4 r=1.85 cx=68.8 cy=202.6 /><circle class=b3 r=2.2 cx=66.5 cy=209.4 /><circle class=b3 r=2.2 cx=77.4 cy=227 /><circle class=b3 r=2.2 cx=62.1 cy=227.2 /><circle class=b3 r=2.2 cx=55.3 cy=211.5 /><circle class=b4 r=1.85 cx=121.7 cy=144.3 /><circle class=b4 r=1.85 cx=72.2 cy=198.3 /><circle class=b3 r=2.2 cx=82.9 cy=223.3 /><circle class=b3 r=2.2 cx=74 cy=235.6 /><circle class=b2 r=2.5 cx=108.7 cy=256.3 /><circle class=b3 r=2.2 cx=91.4 cy=239.4 /><circle class=b4 r=1.85 cx=107.4 cy=185.9 /><circle class=b4 r=1.85 cx=104 cy=207.4 /><circle class=b3 r=2.2 cx=70.4 cy=227 /><circle class=b2 r=2.5 cx=110.5 cy=267.7 /><circle class=b2 r=2.5 cx=30 cy=229.8 /><circle class=b3 r=2.2 cx=84.7 cy=219.6 /><circle class=b4 r=1.85 cx=69 cy=206.9 /><circle class=b3 r=2.2 cx=72.4 cy=238.8 /><circle class=b4 r=1.85 cx=68.2 cy=206.9 /><circle class=b2 r=2.5 cx=124.4 cy=263.9 /><circle class=b2 r=2.5 cx=111.3 cy=266.5 /><circle class=b3 r=2.2 cx=69.8 cy=217.9 /><circle class=b3 r=2.2 cx=81.2 cy=230.3 /><circle class=b3 r=2.2 cx=61.7 cy=225 /><circle class=b3 r=2.2 cx=96.8 cy=228.3 /><circle class=b4 r=1.85 cx=121.5 cy=175.7 /><circle class=b4 r=1.85 cx=75.5 cy=212.1 /><circle class=b2 r=2.5 cx=115.9 cy=213.6 /><circle class=b3 r=2.2 cx=121.2 cy=269.3 /><circle class=b3 r=2.2 cx=57.8 cy=175.1 /><circle class=b2 r=2.5 cx=107 cy=239.7 /><circle class=b2 r=2.5 cx=120 cy=250.5 /><circle class=b3 r=2.2 cx=61.4 cy=236.9 /><circle class=b2 r=2.5 cx=119.7 cy=212.7 /><circle class=b2 r=2.5 cx=82.8 cy=134.9 /><circle class=b4 r=1.85 cx=90.7 cy=214.1 /><circle class=b3 r=2.2 cx=72.6 cy=214.6 /><circle class=b4 r=1.85 cx=89.5 cy=220.2 /><circle class=b3 r=2.2 cx=33.2 cy=237 /><circle class=b4 r=1.85 cx=88 cy=224.5 /><circle class=b3 r=2.2 cx=106.1 cy=223.6 /><circle class=b2 r=2.5 cx=56.4 cy=233.4 /><circle class=b4 r=1.85 cx=115.1 cy=139.4 /><circle class=b3 r=2.2 cx=183.8 cy=205.8 /><circle class=b4 r=1.85 cx=108.6 cy=190.9 /><circle class=b2 r=2.5 cx=28 cy=243 /><circle class=b3 r=2.2 cx=44 cy=224.1 /><circle class=b4 r=1.85 cx=79.1 cy=218 /><circle class=b4 r=1.85 cx=76.2 cy=211 /><circle class=b3 r=2.2 cx=66.1 cy=207.9 /><circle class=b4 r=1.85 cx=93.7 cy=228 /><circle class=b4 r=1.85 cx=91.9 cy=209.1 /><circle class=b4 r=1.85 cx=113.8 cy=205.1 /><circle class=b4 r=1.85 cx=124.8 cy=203.7 /><circle class=b2 r=2.5 cx=73 cy=246.2 /><circle class=b3 r=2.2 cx=83 cy=229.2 /><circle class=b3 r=2.2 cx=63.6 cy=226.1 /><circle class=b4 r=1.85 cx=108.1 cy=190.5 /><circle class=b2 r=2.5 cx=110.3 cy=254.7 /><circle class=b3 r=2.2 cx=51.2 cy=202.8 /><circle class=b4 r=1.85 cx=83.3 cy=182.9 /><circle class=b4 r=1.85 cx=164.2 cy=163.7 /><circle class=b4 r=1.85 cx=69.7 cy=235.3 /><circle class=b4 r=1.85 cx=71.9 cy=201.4 /><circle class=b3 r=2.2 cx=62.9 cy=208.8 /><circle class=b3 r=2.2 cx=73.5 cy=223.1 /><circle class=b4 r=1.85 cx=71.9 cy=216.9 /><circle class=b3 r=2.2 cx=129.2 cy=212.6 /><circle class=b4 r=1.85 cx=84.2 cy=208.9 /><circle class=b3 r=2.2 cx=75 cy=223.8 /><circle class=b4 r=1.85 cx=87.1 cy=214.2 /><circle class=b3 r=2.2 cx=88.1 cy=229.1 /><circle class=b3 r=2.2 cx=64 cy=217.1 /><circle class=b2 r=2.5 cx=45.2 cy=223.7 /><circle class=b3 r=2.2 cx=195.3 cy=222.6 /><circle class=b4 r=1.85 cx=69.8 cy=192.7 /><circle class=b3 r=2.2 cx=98.9 cy=226.1 /><circle class=b2 r=2.5 cx=103.5 cy=136 /><circle class=b4 r=1.85 cx=81 cy=203.8 /><circle class=b2 r=2.5 cx=109 cy=129.3 /><circle class=b4 r=1.85 cx=94.2 cy=203.8 /><circle class=b3 r=2.2 cx=64.8 cy=191.6 /><circle class=b2 r=2.5 cx=132.4 cy=219.9 /><circle class=b4 r=1.85 cx=104.2 cy=206.8 /><circle class=b4 r=1.85 cx=84.9 cy=218 /><circle class=b4 r=1.85 cx=96.1 cy=201.2 /><circle class=b4 r=1.85 cx=88.5 cy=175.5 /><circle class=b4 r=1.85 cx=77.9 cy=209.6 /><circle class=b2 r=2.5 cx=170.4 cy=242.6 /><circle class=b3 r=2.2 cx=90.7 cy=227.8 /><circle class=b2 r=2.5 cx=88.8 cy=138.8 /><circle class=b2 r=2.5 cx=115.9 cy=213.6 /><circle class=b4 r=1.85 cx=103.2 cy=211.1 /><circle class=b2 r=2.5 cx=61.8 cy=227.3 /><circle class=b2 r=2.5 cx=107.3 cy=236.1 /><circle class=b2 r=2.5 cx=145.6 cy=211.8 /><circle class=b4 r=1.85 cx=72.9 cy=217 /><circle class=b2 r=2.5 cx=129.3 cy=212.7 /><circle class=b2 r=2.5 cx=102.3 cy=235 /><circle class=b4 r=1.85 cx=147.2 cy=189 /><circle class=b4 r=1.85 cx=97.8 cy=214.3 /><circle class=b4 r=1.85 cx=137.8 cy=208.9 /><circle class=b4 r=1.85 cx=89.7 cy=207.5 /><circle class=b3 r=2.2 cx=103.5 cy=228.6 /><circle class=b4 r=1.85 cx=86.8 cy=213.3 /><circle class=b5 r=1.4 cx=119.8 cy=186 /><circle class=b2 r=2.5 cx=82.8 cy=143.9 /><circle class=b3 r=2.2 cx=89.4 cy=233.3 /><circle class=b3 r=2.2 cx=57 cy=197.5 /><circle class=b4 r=1.85 cx=103.7 cy=207.7 /><circle class=b4 r=1.85 cx=90.1 cy=219.3 /><circle class=b2 r=2.5 cx=36.6 cy=161 /><circle class=b4 r=1.85 cx=84.3 cy=218.2 /><circle class=b3 r=2.2 cx=69.9 cy=231.7 /><circle class=b3 r=2.2 cx=88.6 cy=231.1 /><circle class=b3 r=2.2 cx=72.5 cy=224.1 /><circle class=b4 r=1.85 cx=69.2 cy=193.2 /><circle class=b3 r=2.2 cx=129.6 cy=214.2 /><circle class=b2 r=2.5 cx=93.6 cy=250.5 /><circle class=b4 r=1.85 cx=93.3 cy=211.7 /><circle class=b5 r=1.4 cx=72.1 cy=195.8 /><circle class=b4 r=1.85 cx=89.6 cy=204.1 /><circle class=b5 r=1.4 cx=103.2 cy=198.8 /><circle class=b3 r=2.2 cx=173.8 cy=198.1 /><circle class=b4 r=1.85 cx=88.5 cy=219.1 /><circle class=b2 r=2.5 cx=111.9 cy=266.8 /><circle class=b4 r=1.85 cx=89.5 cy=213.7 /><circle class=b2 r=2.5 cx=113.9 cy=227.2 /><circle class=b5 r=1.4 cx=90.3 cy=199.6 /><circle class=b5 r=1.4 cx=108.4 cy=184.1 /><circle class=b3 r=2.2 cx=105.6 cy=236.8 /><circle class=b3 r=2.2 cx=61.6 cy=237.2 /><circle class=b3 r=2.2 cx=72.7 cy=243.5 /><circle class=b5 r=1.4 cx=81.1 cy=204.1 /><circle class=b2 r=2.5 cx=74.8 cy=243.3 /><circle class=b5 r=1.4 cx=130.9 cy=182 /><circle class=b5 r=1.4 cx=115.9 cy=193.7 /><circle class=b5 r=1.4 cx=88.9 cy=200.1 /><circle class=b4 r=1.85 cx=88.8 cy=224.1 /><circle class=b5 r=1.4 cx=70.3 cy=197.1 /><circle class=b3 r=2.2 cx=108.5 cy=223.3 /><circle class=b4 r=1.85 cx=107.1 cy=181.8 /><circle class=b4 r=1.85 cx=116.1 cy=195.7 /><circle class=b5 r=1.4 cx=133.5 cy=141.7 /><circle class=b5 r=1.4 cx=94.2 cy=197 /><circle class=b3 r=2.2 cx=62.6 cy=226.5 /><circle class=b5 r=1.4 cx=96.6 cy=209.2 /><circle class=b2 r=2.5 cx=83.9 cy=246 /><circle class=b2 r=2.5 cx=56.5 cy=222.1 /><circle class=b3 r=2.2 cx=71.9 cy=234.8 /><circle class=b4 r=1.85 cx=99.2 cy=224.4 /><circle class=b4 r=1.85 cx=72.1 cy=215.1 /><circle class=b3 r=2.2 cx=128.7 cy=213 /><circle class=b5 r=1.4 cx=99.9 cy=188 /><circle class=b3 r=2.2 cx=51.4 cy=202 /><circle class=b4 r=1.85 cx=119.4 cy=208.6 /><circle class=b5 r=1.4 cx=179.1 cy=156 /><circle class=b3 r=2.2 cx=106.1 cy=221.6 /><circle class=b5 r=1.4 cx=95.3 cy=199.3 /><circle class=b4 r=1.85 cx=82.1 cy=199.7 /><circle class=b4 r=1.85 cx=115.3 cy=195.6 /><circle class=b2 r=2.5 cx=40.6 cy=225 /><circle class=b5 r=1.4 cx=89 cy=207.4 /><circle class=b2 r=2.5 cx=160 cy=283.4 /><circle class=b5 r=1.4 cx=98 cy=203.2 /><circle class=b3 r=2.2 cx=63.6 cy=223.1 /><circle class=b3 r=2.2 cx=57.6 cy=186.6 /><circle class=b2 r=2.5 cx=42 cy=209.4 /><circle class=b2 r=2.5 cx=119 cy=212.5 /><circle class=b3 r=2.2 cx=70.8 cy=212.1 /><circle class=b3 r=2.2 cx=132.5 cy=211.3 /><circle class=b5 r=1.4 cx=88.4 cy=197.2 /><circle class=b5 r=1.4 cx=120.9 cy=196.2 /><circle class=b3 r=2.2 cx=103.4 cy=233 /><circle class=b5 r=1.4 cx=89.4 cy=210.8 /><circle class=b4 r=1.85 cx=77.5 cy=211.5 /><circle class=b3 r=2.2 cx=155.4 cy=213.1 /><circle class=b2 r=2.5 cx=128.1 cy=253.2 /><circle class=b4 r=1.85 cx=85.7 cy=218 /><circle class=b3 r=2.2 cx=63.3 cy=229.6 /><circle class=b3 r=2.2 cx=58.1 cy=217.4 /><circle class=b5 r=1.4 cx=116.5 cy=192.1 /><circle class=b4 r=1.85 cx=120.7 cy=208.6 /><circle class=b2 r=2.5 cx=58.8 cy=187.4 /><circle class=b4 r=1.85 cx=106.8 cy=209.6 /><circle class=b3 r=2.2 cx=64.8 cy=201.7 /><circle class=b4 r=1.85 cx=72.6 cy=213.9 /><circle class=b5 r=1.4 cx=102.1 cy=183.4 /><circle class=b5 r=1.4 cx=95.6 cy=208.1 /><circle class=b4 r=1.85 cx=89.2 cy=218 /><circle class=b3 r=2.2 cx=109.5 cy=209.2 /><circle class=b4 r=1.85 cx=121.4 cy=144.7 /><circle class=b5 r=1.4 cx=149 cy=154.7 /><circle class=b4 r=1.85 cx=90.9 cy=197.1 /><circle class=b3 r=2.2 cx=73.5 cy=233.9 /><circle class=b4 r=1.85 cx=89.4 cy=209.2 /><circle class=b5 r=1.4 cx=88 cy=198.3 /><circle class=b3 r=2.2 cx=67 cy=220.4 /><circle class=b5 r=1.4 cx=140.8 cy=132.1 /><circle class=b2 r=2.5 cx=110.2 cy=267.7 /><circle class=b5 r=1.4 cx=176.7 cy=171.2 /><circle class=b2 r=2.5 cx=111.6 cy=212.3 /><circle class=b4 r=1.85 cx=91 cy=223 /><circle class=b4 r=1.85 cx=83.7 cy=220.4 /><circle class=b4 r=1.85 cx=97.9 cy=222 /><circle class=b4 r=1.85 cx=82.2 cy=210.6 /><circle class=b3 r=2.2 cx=123 cy=210.8 /><circle class=b4 r=1.85 cx=103.4 cy=202.9 /><circle class=b3 r=2.2 cx=72.2 cy=217.1 /><circle class=b3 r=2.2 cx=64.6 cy=201.3 /><circle class=b5 r=1.4 cx=144.8 cy=130.9 /><circle class=b4 r=1.85 cx=87.2 cy=217.9 /><circle class=b3 r=2.2 cx=72.7 cy=240.7 /><circle class=b3 r=2.2 cx=85.9 cy=219.3 /><circle class=b4 r=1.85 cx=68.2 cy=202.9 /><circle class=b5 r=1.4 cx=95.1 cy=216 /><circle class=b4 r=1.85 cx=89.9 cy=215.1 /><circle class=b4 r=1.85 cx=83.4 cy=207.3 /><circle class=b4 r=1.85 cx=123.7 cy=208.1 /><circle class=b4 r=1.85 cx=115.6 cy=195.3 /><circle class=b5 r=1.4 cx=121.7 cy=175.7 /><circle class=b2 r=2.5 cx=60.8 cy=226.5 /><circle class=b4 r=1.85 cx=102.3 cy=188 /><circle class=b2 r=2.5 cx=97.7 cy=128.7 /><circle class=b4 r=1.85 cx=76.6 cy=214 /><circle class=b3 r=2.2 cx=59.2 cy=212.7 /><circle class=b2 r=2.5 cx=112.3 cy=213.2 /><circle class=b4 r=1.85 cx=93.2 cy=233.6 /><circle class=b2 r=2.5 cx=201.3 cy=232.6 /><circle class=b3 r=2.2 cx=117.6 cy=207.5 /><circle class=b3 r=2.2 cx=66.5 cy=209.5 /><circle class=b3 r=2.2 cx=104 cy=228.9 /><circle class=b5 r=1.4 cx=101.8 cy=212.8 /><circle class=b3 r=2.2 cx=60.9 cy=210 /><circle class=b5 r=1.4 cx=139.3 cy=188.9 /><circle class=b2 r=2.5 cx=37.4 cy=228.9 /><circle class=b2 r=2.5 cx=32.5 cy=229 /><circle class=b4 r=1.85 cx=92.6 cy=209.2 /><circle class=b2 r=2.5 cx=155.3 cy=214.3 /><circle class=b5 r=1.4 cx=79 cy=200 /><circle class=b3 r=2.2 cx=101.1 cy=226.3 /><circle class=b5 r=1.4 cx=96.2 cy=200.5 /><circle class=b3 r=2.2 cx=109 cy=209.2 /><circle class=b5 r=1.4 cx=81 cy=203 /><circle class=b5 r=1.4 cx=94.7 cy=211.5 /><circle class=b4 r=1.85 cx=168.3 cy=175.4 /><circle class=b2 r=2.5 cx=110 cy=217 /><circle class=b4 r=1.85 cx=103.6 cy=203.2 /><circle class=b3 r=2.2 cx=99.4 cy=216 /><circle class=b2 r=2.5 cx=85.2 cy=251.7 /><circle class=b5 r=1.4 cx=192.2 cy=171.8 /><circle class=b3 r=2.2 cx=75 cy=229.2 /><circle class=b2 r=2.5 cx=112.3 cy=236 /><circle class=b3 r=2.2 cx=59.2 cy=212.3 /><circle class=b3 r=2.2 cx=109 cy=209 /><circle class=b4 r=1.85 cx=86.2 cy=219.6 /><circle class=b4 r=1.85 cx=139.1 cy=202.3 /><circle class=b2 r=2.5 cx=54.2 cy=177 /><circle class=b4 r=1.85 cx=77.8 cy=201.2 /><circle class=b3 r=2.2 cx=70.5 cy=223.6 /><circle class=b2 r=2.5 cx=160.7 cy=269.6 /><circle class=b3 r=2.2 cx=67.4 cy=208.3 /><circle class=b5 r=1.4 cx=148.4 cy=187.7 /><circle class=b3 r=2.2 cx=67 cy=207.2 /><circle class=b4 r=1.85 cx=70.4 cy=198.8 /><circle class=b3 r=2.2 cx=73.9 cy=223.7 /><circle class=b4 r=1.85 cx=88.6 cy=215.5 /><circle class=b2 r=2.5 cx=107.2 cy=216.9 /><circle class=b3 r=2.2 cx=72.8 cy=214.6 /><circle class=b3 r=2.2 cx=94 cy=163.5 /><circle class=b3 r=2.2 cx=104 cy=228.2 /><circle class=b2 r=2.5 cx=81.5 cy=168.7 /><circle class=b5 r=1.4 cx=116.2 cy=195.5 /><circle class=b4 r=1.85 cx=92 cy=215.3 /><circle class=b2 r=2.5 cx=85.8 cy=245.6 /><circle class=b2 r=2.5 cx=199.7 cy=278.5 /><circle class=b1 r=2.8 cx=122.5 cy=233.4 /><circle class=b2 r=2.5 cx=32.7 cy=153.5 /><circle class=b2 r=2.5 cx=83.9 cy=241.7 /><circle class=b2 r=2.5 cx=119.8 cy=236.7 /><circle class=b2 r=2.5 cx=84.1 cy=247 /><circle class=b3 r=2.2 cx=56.9 cy=191.7 /><circle class=b2 r=2.5 cx=64 cy=179.8 /><circle class=b2 r=2.5 cx=110.1 cy=256.8 /><circle class=b3 r=2.2 cx=77.7 cy=234.7 /><circle class=b2 r=2.5 cx=82.3 cy=249.4 /><circle class=b5 r=1.4 cx=93.2 cy=192.4 /><circle class=b3 r=2.2 cx=55.2 cy=212.1 /><circle class=b4 r=1.85 cx=99.5 cy=228.1 /><circle class=b3 r=2.2 cx=131 cy=215.1 /><circle class=b3 r=2.2 cx=88.9 cy=239.2 /><circle class=b4 r=1.85 cx=129.8 cy=212.2 /><circle class=b3 r=2.2 cx=71.4 cy=225.7 /><circle class=b3 r=2.2 cx=55.7 cy=203.5 /><circle class=b4 r=1.85 cx=64 cy=192.9 /><circle class=b3 r=2.2 cx=66.1 cy=213.8 /><circle class=b2 r=2.5 cx=41 cy=163.8 /><circle class=b3 r=2.2 cx=118 cy=208.9 /><circle class=b4 r=1.85 cx=95.2 cy=198.7 /><circle class=b4 r=1.85 cx=110.9 cy=174.9 /><circle class=b4 r=1.85 cx=65.3 cy=196.5 /><circle class=b4 r=1.85 cx=69.5 cy=205.9 /><circle class=b4 r=1.85 cx=116.2 cy=202.8 /><circle class=b2 r=2.5 cx=81.1 cy=223.2 /><circle class=b5 r=1.4 cx=95.5 cy=202.2 /><circle class=b5 r=1.4 cx=171.8 cy=173 /><circle class=b3 r=2.2 cx=72.8 cy=215.6 /><circle class=b5 r=1.4 cx=70.6 cy=201.4 /><circle class=b3 r=2.2 cx=65.7 cy=179.6 /><circle class=b5 r=1.4 cx=92.5 cy=190.8 /><circle class=b5 r=1.4 cx=83.2 cy=189.2 /><circle class=b1 r=2.8 cx=115.6 cy=257.8 /><circle class=b3 r=2.2 cx=61.5 cy=227.4 /><circle class=b4 r=1.85 cx=89.8 cy=221.4 /><circle class=b5 r=1.4 cx=83.8 cy=193.3 /><circle class=b4 r=1.85 cx=107 cy=206.8 /><circle class=b4 r=1.85 cx=87.6 cy=202.5 /><circle class=b5 r=1.4 cx=72.5 cy=195.7 /><circle class=b1 r=2.8 cx=136.3 cy=228.2 /><circle class=b4 r=1.85 cx=91.8 cy=217.1 /><circle class=b3 r=2.2 cx=61.2 cy=228.5 /><circle class=b3 r=2.2 cx=96.8 cy=170.3 /><circle class=b4 r=1.85 cx=85.3 cy=208.1 /><circle class=b5 r=1.4 cx=136.9 cy=198 /><circle class=b2 r=2.5 cx=84.8 cy=251.5 /><circle class=b4 r=1.85 cx=72.1 cy=202.7 /><circle class=b4 r=1.85 cx=92.7 cy=217.3 /><circle class=b3 r=2.2 cx=119 cy=209.5 /><circle class=b4 r=1.85 cx=89 cy=218.2 /><circle class=b5 r=1.4 cx=76.4 cy=195.5 /><circle class=b2 r=2.5 cx=109.5 cy=258 /><circle class=b5 r=1.4 cx=87.6 cy=207.4 /><circle class=b3 r=2.2 cx=96.9 cy=225.5 /><circle class=b5 r=1.4 cx=182.9 cy=137.4 /><circle class=b5 r=1.4 cx=80.4 cy=186.4 /><circle class=b3 r=2.2 cx=93.3 cy=232.1 /><circle class=b4 r=1.85 cx=94 cy=198.1 /><circle class=b4 r=1.85 cx=88.3 cy=207.2 /><circle class=b3 r=2.2 cx=65.4 cy=230.2 /><circle class=b4 r=1.85 cx=95 cy=208.3 /><circle class=b3 r=2.2 cx=78.2 cy=234.2 /><circle class=b5 r=1.4 cx=113.5 cy=190.3 /><circle class=b5 r=1.4 cx=180.2 cy=170.4 /><circle class=b4 r=1.85 cx=79.6 cy=215.8 /><circle class=b3 r=2.2 cx=95.7 cy=230.9 /><circle class=b4 r=1.85 cx=84.8 cy=216.8 /><circle class=b3 r=2.2 cx=72.1 cy=219.3 /><circle class=b3 r=2.2 cx=73.7 cy=223.9 /><circle class=b3 r=2.2 cx=61.9 cy=210.9 /><circle class=b4 r=1.85 cx=97.7 cy=214.2 /><circle class=b4 r=1.85 cx=85.6 cy=219.1 /><circle class=b3 r=2.2 cx=73.5 cy=214.3 /><circle class=b4 r=1.85 cx=79.5 cy=208.9 /><circle class=b2 r=2.5 cx=51.3 cy=176.2 /><circle class=b3 r=2.2 cx=65.3 cy=212.1 /><circle class=b3 r=2.2 cx=74.1 cy=216 /><circle class=b4 r=1.85 cx=115.9 cy=196.4 /><circle class=b3 r=2.2 cx=71.5 cy=215.3 /><circle class=b5 r=1.4 cx=89.6 cy=204 /><circle class=b2 r=2.5 cx=61.5 cy=208.2 /><circle class=b4 r=1.85 cx=145.9 cy=130.4 /><circle class=b3 r=2.2 cx=100.4 cy=219.5 /><circle class=b2 r=2.5 cx=102.5 cy=131.1 /><circle class=b3 r=2.2 cx=94.4 cy=232.7 /><circle class=b4 r=1.85 cx=104.1 cy=199 /><circle class=b4 r=1.85 cx=84.5 cy=215.7 /><circle class=b1 r=2.8 cx=11.5 cy=230.5 /><circle class=b4 r=1.85 cx=125.7 cy=188.7 /><circle class=b5 r=1.4 cx=115 cy=194.7 /><circle class=b1 r=2.8 cx=122.3 cy=216.5 /><circle class=b2 r=2.5 cx=109.9 cy=129.4 /><circle class=b3 r=2.2 cx=87.8 cy=216.5 /><circle class=b5 r=1.4 cx=95.9 cy=216 /><circle class=b4 r=1.85 cx=63.1 cy=218.6 /><circle class=b5 r=1.4 cx=91.6 cy=194.4 /><circle class=b5 r=1.4 cx=144.6 cy=132.6 /><circle class=b3 r=2.2 cx=73.2 cy=216.5 /><circle class=b4 r=1.85 cx=115.9 cy=206.4 /><circle class=b3 r=2.2 cx=68.4 cy=211.8 /><circle class=b3 r=2.2 cx=67.2 cy=212.5 /><circle class=b4 r=1.85 cx=84.8 cy=207.1 /><circle class=b1 r=2.8 cx=125.8 cy=226.2 /><circle class=b2 r=2.5 cx=125.3 cy=264.9 /><circle class=b4 r=1.85 cx=65.4 cy=196.5 /><circle class=b4 r=1.85 cx=70.6 cy=217.1 /><circle class=b4 r=1.85 cx=63.7 cy=195.9 /><circle class=b4 r=1.85 cx=98.4 cy=202.1 /><circle class=b3 r=2.2 cx=64.6 cy=218.4 /><circle class=b5 r=1.4 cx=135.5 cy=193.9 /><circle class=b5 r=1.4 cx=125 cy=184.2 /><circle class=b5 r=1.4 cx=101.3 cy=213.4 /><circle class=b4 r=1.85 cx=99.7 cy=174.7 /><circle class=b2 r=2.5 cx=135.2 cy=261.8 /><circle class=b3 r=2.2 cx=90.9 cy=229.7 /><circle class=b5 r=1.4 cx=110.5 cy=199 /><circle class=b2 r=2.5 cx=100.9 cy=247.9 /><circle class=b3 r=2.2 cx=52.6 cy=206.3 /><circle class=b3 r=2.2 cx=66.7 cy=217.7 /><circle class=b3 r=2.2 cx=100.9 cy=225.7 /><circle class=b2 r=2.5 cx=98.8 cy=148.3 /><circle class=b3 r=2.2 cx=90.6 cy=224.1 /><circle class=b5 r=1.4 cx=82.1 cy=210.1 /><circle class=b5 r=1.4 cx=135.2 cy=208 /><circle class=b3 r=2.2 cx=44.3 cy=221.6 /><circle class=b5 r=1.4 cx=84.1 cy=189.6 /><circle class=b3 r=2.2 cx=122.6 cy=211.6 /><circle class=b2 r=2.5 cx=112.4 cy=257 /><circle class=b3 r=2.2 cx=58.1 cy=186 /><circle class=b4 r=1.85 cx=84.7 cy=207.5 /><circle class=b5 r=1.4 cx=86.4 cy=208.4 /><circle class=b5 r=1.4 cx=89.6 cy=204 /><circle class=b4 r=1.85 cx=115.5 cy=174.2 /><circle class=b4 r=1.85 cx=176.4 cy=171.3 /><circle class=b5 r=1.4 cx=89.8 cy=212.6 /><circle class=b3 r=2.2 cx=84.9 cy=233.3 /><circle class=b2 r=2.5 cx=128.2 cy=259.4 /><circle class=b4 r=1.85 cx=88.6 cy=216.2 /><circle class=b4 r=1.85 cx=131.7 cy=183.2 /><circle class=b5 r=1.4 cx=165.5 cy=175.8 /><circle class=b3 r=2.2 cx=71.4 cy=223.4 /><circle class=b5 r=1.4 cx=146.7 cy=147 /><circle class=b3 r=2.2 cx=107.1 cy=239.8 /><circle class=b4 r=1.85 cx=121.5 cy=146.1 /><circle class=b4 r=1.85 cx=90.9 cy=217.3 /><circle class=b3 r=2.2 cx=94.9 cy=241.4 /><circle class=b4 r=1.85 cx=125.6 cy=204.2 /><circle class=b5 r=1.4 cx=113.3 cy=189.1 /><circle class=b3 r=2.2 cx=105.6 cy=216.7 /><circle class=b5 r=1.4 cx=107.4 cy=188.4 /><circle class=b5 r=1.4 cx=103.5 cy=193.2 /><circle class=b4 r=1.85 cx=90.9 cy=217.7 /><circle class=b2 r=2.5 cx=114.7 cy=220 /><circle class=b2 r=2.5 cx=126.9 cy=267.5 /><circle class=b3 r=2.2 cx=64.2 cy=230.6 /><circle class=b4 r=1.85 cx=83.7 cy=227.5 /><circle class=b3 r=2.2 cx=72.4 cy=237.7 /><circle class=b4 r=1.85 cx=75 cy=216.7 /><circle class=b3 r=2.2 cx=83.9 cy=224.6 /><circle class=b3 r=2.2 cx=38.6 cy=231.2 /><circle class=b2 r=2.5 cx=122 cy=264.6 /><circle class=b5 r=1.4 cx=116.7 cy=191.1 /><circle class=b1 r=2.8 cx=109.3 cy=254.6 /><circle class=b3 r=2.2 cx=65.6 cy=208 /><circle class=b5 r=1.4 cx=70.8 cy=192 /><circle class=b3 r=2.2 cx=57.4 cy=191.9 /><circle class=b5 r=1.4 cx=85.3 cy=185.2 /><circle class=b5 r=1.4 cx=99.2 cy=178.3 /><circle class=b5 r=1.4 cx=254.6 cy=141.5 /><circle class=b3 r=2.2 cx=66.6 cy=206.6 /><circle class=b3 r=2.2 cx=102.9 cy=136.3 /><circle class=b4 r=1.85 cx=67.1 cy=217.2 /><circle class=b4 r=1.85 cx=77.2 cy=213.4 /><circle class=b2 r=2.5 cx=127.3 cy=226.5 /><circle class=b5 r=1.4 cx=138.7 cy=188.8 /><circle class=b3 r=2.2 cx=55.1 cy=212.2 /><circle class=b2 r=2.5 cx=111.7 cy=266.8 /><circle class=b4 r=1.85 cx=124.4 cy=196.9 /><circle class=b3 r=2.2 cx=119.1 cy=208.8 /><circle class=b4 r=1.85 cx=65.6 cy=194.8 /><circle class=b1 r=2.8 cx=44.1 cy=154.7 /><circle class=b2 r=2.5 cx=169.8 cy=238.7 /><circle class=b1 r=2.8 cx=144.5 cy=234.7 /><circle class=b5 r=1.4 cx=82.2 cy=196.6 /><circle class=b4 r=1.85 cx=89.8 cy=214.7 /><circle class=b2 r=2.5 cx=111.3 cy=266.4 /><circle class=b2 r=2.5 cx=83.9 cy=246.8 /><circle class=b4 r=1.85 cx=85.7 cy=221.5 /><circle class=b1 r=2.8 cx=147.2 cy=232.3 /><circle class=b4 r=1.85 cx=74.4 cy=204.9 /><circle class=b2 r=2.5 cx=55.9 cy=220 /><circle class=b1 r=2.8 cx=116 cy=236.9 /><circle class=b1 r=2.8 cx=111.4 cy=256.8 /><circle class=b5 r=1.4 cx=112.8 cy=204.1 /><circle class=b3 r=2.2 cx=63.3 cy=218.6 /><circle class=b4 r=1.85 cx=152 cy=200 /><circle class=b4 r=1.85 cx=66.3 cy=204.5 /><circle class=b3 r=2.2 cx=68.6 cy=205.1 /><circle class=b1 r=2.8 cx=42.8 cy=209 /><circle class=b3 r=2.2 cx=61 cy=229.5 /><circle class=b4 r=1.85 cx=86.3 cy=225.3 /><circle class=b2 r=2.5 cx=58.4 cy=226.2 /><circle class=b1 r=2.8 cx=89 cy=140 /><circle class=b5 r=1.4 cx=84.6 cy=201.8 /><circle class=b3 r=2.2 cx=120.2 cy=204.6 /><circle class=b2 r=2.5 cx=51.1 cy=204.1 /><circle class=b3 r=2.2 cx=83.5 cy=229.9 /><circle class=b2 r=2.5 cx=114 cy=227.9 /><circle class=b1 r=2.8 cx=165.3 cy=286.1 /><circle class=b5 r=1.4 cx=123.3 cy=203.1 /><circle class=b3 r=2.2 cx=65.4 cy=204.9 /><circle class=b4 r=1.85 cx=110.1 cy=174.4 /><circle class=b5 r=1.4 cx=97.5 cy=176.9 /><circle class=b3 r=2.2 cx=155.3 cy=214 /><circle class=b3 r=2.2 cx=64 cy=207.5 /><circle class=b4 r=1.85 cx=64.1 cy=193.6 /><circle class=b3 r=2.2 cx=107.2 cy=232.5 /><circle class=b3 r=2.2 cx=95.4 cy=226.1 /><circle class=b2 r=2.5 cx=165.1 cy=283.8 /><circle class=b4 r=1.85 cx=104.6 cy=216.4 /><circle class=b4 r=1.85 cx=72.1 cy=201.7 /><circle class=b1 r=2.8 cx=169.6 cy=236.1 /><circle class=b4 r=1.85 cx=69.6 cy=183.5 /><circle class=b5 r=1.4 cx=200.1 cy=168.3 /><circle class=b2 r=2.5 cx=53.8 cy=218.8 /><circle class=b5 r=1.4 cx=112.5 cy=198 /><circle class=b4 r=1.85 cx=119.6 cy=203.3 /><circle class=b2 r=2.5 cx=117.8 cy=224.5 /><circle class=b1 r=2.8 cx=114.8 cy=218.8 /><circle class=b2 r=2.5 cx=122.2 cy=212.6 /><circle class=b3 r=2.2 cx=78.9 cy=234.2 /><circle class=b4 r=1.85 cx=73.2 cy=206.2 /><circle class=b3 r=2.2 cx=61.3 cy=226.4 /><circle class=b2 r=2.5 cx=109.2 cy=225.1 /><circle class=b2 r=2.5 cx=41.1 cy=213.4 /><circle class=b3 r=2.2 cx=100.1 cy=233.2 /><circle class=b5 r=1.4 cx=128.8 cy=194.9 /><circle class=b4 r=1.85 cx=79.1 cy=192.4 /><circle class=b5 r=1.4 cx=111.9 cy=194.3 /><circle class=b5 r=1.4 cx=124.1 cy=182.1 /><circle class=b2 r=2.5 cx=117.7 cy=211.6 /><circle class=b4 r=1.85 cx=92.6 cy=221.9 /><circle class=b4 r=1.85 cx=123.7 cy=203.8 /><circle class=b2 r=2.5 cx=130.6 cy=261.3 /><circle class=b2 r=2.5 cx=104.1 cy=130.8 /><circle class=b2 r=2.5 cx=100.6 cy=247.3 /><circle class=b4 r=1.85 cx=72.3 cy=221.8 /><circle class=b4 r=1.85 cx=86.4 cy=213 /><circle class=b4 r=1.85 cx=116.9 cy=190.8 /><circle class=b5 r=1.4 cx=106.4 cy=194.4 /><circle class=b5 r=1.4 cx=193.8 cy=176.1 /><circle class=b4 r=1.85 cx=67.4 cy=211.3 /><circle class=b3 r=2.2 cx=57.7 cy=186.8 /><circle class=b2 r=2.5 cx=87.2 cy=252.7 /><circle class=b3 r=2.2 cx=76.7 cy=228.2 /><circle class=b5 r=1.4 cx=100.8 cy=182.3 /><circle class=b2 r=2.5 cx=24.5 cy=225.6 /><circle class=b4 r=1.85 cx=86 cy=222.7 /><circle class=b4 r=1.85 cx=93.3 cy=215 /><circle class=b1 r=2.8 cx=129.5 cy=247.3 /><circle class=b2 r=2.5 cx=113 cy=236.6 /><circle class=b3 r=2.2 cx=58.8 cy=175.6 /><circle class=b3 r=2.2 cx=77.3 cy=234.5 /><circle class=b4 r=1.85 cx=77.4 cy=194.5 /><circle class=b2 r=2.5 cx=135.4 cy=262.6 /><circle class=b3 r=2.2 cx=61.7 cy=225.1 /><circle class=b5 r=1.4 cx=100.8 cy=187.7 /><circle class=b3 r=2.2 cx=65.9 cy=221.2 /><circle class=b5 r=1.4 cx=85.8 cy=208.2 /><circle class=b4 r=1.85 cx=90.9 cy=224.1 /><circle class=b1 r=2.8 cx=111.4 cy=234.3 /><circle class=b4 r=1.85 cx=82.9 cy=211.1 /><circle class=b1 r=2.8 cx=129.8 cy=241.1 /><circle class=b3 r=2.2 cx=56 cy=197.3 /><circle class=b3 r=2.2 cx=88.8 cy=231 /><circle class=b4 r=1.85 cx=69.6 cy=201.7 /><circle class=b5 r=1.4 cx=127.5 cy=198.5 /><circle class=b5 r=1.4 cx=133 cy=155 /><circle class=b2 r=2.5 cx=112.1 cy=210.3 /><circle class=b5 r=1.4 cx=118.4 cy=188.7 /><circle class=b4 r=1.85 cx=88.8 cy=215.9 /><circle class=b2 r=2.5 cx=76.8 cy=228 /><circle class=b5 r=1.4 cx=91.8 cy=207.3 /><circle class=b5 r=1.4 cx=138.4 cy=206.2 /><circle class=b3 r=2.2 cx=54.5 cy=189.4 /><circle class=b3 r=2.2 cx=92.9 cy=169.8 /><circle class=b5 r=1.4 cx=82.4 cy=195.9 /><circle class=b4 r=1.85 cx=69.2 cy=205.5 /><circle class=b5 r=1.4 cx=97.8 cy=213.2 /><circle class=b5 r=1.4 cx=123 cy=167.8 /><circle class=b2 r=2.5 cx=104.9 cy=262 /><circle class=b3 r=2.2 cx=178.7 cy=214.4 /><circle class=b3 r=2.2 cx=106.5 cy=223.5 /><circle class=b4 r=1.85 cx=143.5 cy=195.5 /><circle class=b3 r=2.2 cx=105.4 cy=223.3 /><circle class=b5 r=1.4 cx=190.8 cy=164.8 /><circle class=b5 r=1.4 cx=100 cy=206.3 /><circle class=b4 r=1.85 cx=113.2 cy=199.4 /><circle class=b4 r=1.85 cx=96.5 cy=201.4 /><circle class=b2 r=2.5 cx=122.9 cy=211.5 /><circle class=b4 r=1.85 cx=80.2 cy=193.9 /><circle class=b2 r=2.5 cx=129.7 cy=248.7 /><circle class=b4 r=1.85 cx=90.4 cy=175 /><circle class=b5 r=1.4 cx=128.3 cy=194.6 /><circle class=b2 r=2.5 cx=138.8 cy=224.3 /><circle class=b5 r=1.4 cx=96.6 cy=204.7 /><circle class=b2 r=2.5 cx=77.4 cy=228.2 /><circle class=b3 r=2.2 cx=75.9 cy=211.8 /><circle class=b3 r=2.2 cx=71.8 cy=238.9 /><circle class=b5 r=1.4 cx=98.3 cy=175.8 /><circle class=b5 r=1.4 cx=93.3 cy=210.7 /><circle class=b1 r=2.8 cx=170.4 cy=270.6 /><circle class=b5 r=1.4 cx=101.1 cy=182.3 /><circle class=b5 r=1.4 cx=84.5 cy=184.1 /><circle class=b5 r=1.4 cx=84.9 cy=197.8 /><circle class=b3 r=2.2 cx=56.2 cy=215.4 /><circle class=b4 r=1.85 cx=135.6 cy=204.7 /><circle class=b1 r=2.8 cx=13.2 cy=248.5 /><circle class=b2 r=2.5 cx=35 cy=235 /><circle class=b2 r=2.5 cx=61.1 cy=237 /><circle class=b4 r=1.85 cx=130.6 cy=137.7 /><circle class=b5 r=1.4 cx=164.2 cy=140.3 /><circle class=b4 r=1.85 cx=81.3 cy=180.8 /><circle class=b5 r=1.4 cx=156.3 cy=119.8 /><circle class=b4 r=1.85 cx=79.1 cy=208.2 /><circle class=b3 r=2.2 cx=45.4 cy=225.9 /><circle class=b5 r=1.4 cx=121.7 cy=173.2 /><circle class=b5 r=1.4 cx=169.1 cy=141.3 /><circle class=b3 r=2.2 cx=68.7 cy=242.3 /><circle class=b5 r=1.4 cx=187.6 cy=144.2 /><circle class=b4 r=1.85 cx=70.2 cy=216.7 /><circle class=b5 r=1.4 cx=123.3 cy=159.2 /><circle class=b5 r=1.4 cx=71.5 cy=193.3 /><circle class=b3 r=2.2 cx=61 cy=220.8 /><circle class=b2 r=2.5 cx=132.9 cy=251.6 /><circle class=b3 r=2.2 cx=43.3 cy=222 /><circle class=b3 r=2.2 cx=76.2 cy=176 /><circle class=b4 r=1.85 cx=79.5 cy=193.8 /><circle class=b4 r=1.85 cx=81.5 cy=218.8 /><circle class=b4 r=1.85 cx=171.1 cy=171.2 /><circle class=b2 r=2.5 cx=41.5 cy=164.5 /><circle class=b3 r=2.2 cx=57.3 cy=215.7 /><circle class=b4 r=1.85 cx=75.7 cy=210.5 /><circle class=b3 r=2.2 cx=58.7 cy=190.9 /><circle class=b4 r=1.85 cx=73.6 cy=176.2 /><circle class=b5 r=1.4 cx=79.4 cy=208.5 /><circle class=b4 r=1.85 cx=92.7 cy=233 /><circle class=b3 r=2.2 cx=120 cy=208.3 /><circle class=b4 r=1.85 cx=82.6 cy=185.6 /><circle class=b1 r=2.8 cx=127.5 cy=256.7 /><circle class=b1 r=2.8 cx=138.6 cy=222.5 /><circle class=b4 r=1.85 cx=158.7 cy=195.7 /><circle class=b4 r=1.85 cx=78.1 cy=218.6 /><circle class=b5 r=1.4 cx=124.4 cy=188.8 /><circle class=b2 r=2.5 cx=109.9 cy=223.1 /><circle class=b3 r=2.2 cx=75.2 cy=214.3 /><circle class=b5 r=1.4 cx=97.6 cy=210.2 /><circle class=b1 r=2.8 cx=50.4 cy=149.6 /><circle class=b3 r=2.2 cx=81.4 cy=233.2 /><circle class=b4 r=1.85 cx=83.7 cy=213.5 /><circle class=b1 r=2.8 cx=125.9 cy=263.7 /><circle class=b4 r=1.85 cx=94 cy=216.4 /><circle class=b2 r=2.5 cx=72.3 cy=243.5 /><circle class=b4 r=1.85 cx=88.5 cy=207.7 /><circle class=b4 r=1.85 cx=99.4 cy=224.4 /><circle class=b5 r=1.4 cx=120.9 cy=184.5 /><circle class=b4 r=1.85 cx=69.2 cy=195.8 /><circle class=b3 r=2.2 cx=103.2 cy=229.2 /><circle class=b5 r=1.4 cx=109.3 cy=204 /><circle class=b3 r=2.2 cx=64 cy=227 /><circle class=b4 r=1.85 cx=92 cy=209.7 /><circle class=b5 r=1.4 cx=111.2 cy=200.8 /><circle class=b4 r=1.85 cx=114.9 cy=206.8 /><circle class=b4 r=1.85 cx=136.4 cy=203.8 /><circle class=b4 r=1.85 cx=67.7 cy=196.3 /><circle class=b1 r=2.8 cx=127.7 cy=226.7 /><circle class=b4 r=1.85 cx=95.6 cy=195.4 /><circle class=b5 r=1.4 cx=202.2 cy=182.7 /><circle class=b5 r=1.4 cx=100.7 cy=193.6 /><circle class=b5 r=1.4 cx=98.2 cy=200 /><circle class=b5 r=1.4 cx=80.3 cy=214.8 /><circle class=b5 r=1.4 cx=163.3 cy=171.9 /><circle class=b3 r=2.2 cx=108.8 cy=211.5 /><circle class=b2 r=2.5 cx=120.3 cy=250.2 /><circle class=b2 r=2.5 cx=107.8 cy=214.3 /><circle class=b4 r=1.85 cx=112.5 cy=155.3 /><circle class=b1 r=2.8 cx=135.5 cy=262.4 /><circle class=b2 r=2.5 cx=100.8 cy=139.5 /><circle class=b2 r=2.5 cx=130.3 cy=258.3 /><circle class=b2 r=2.5 cx=48.3 cy=166.1 /><circle class=b3 r=2.2 cx=105 cy=226.3 /><circle class=b1 r=2.8 cx=130.4 cy=245.1 /><circle class=b4 r=1.85 cx=118.4 cy=160.7 /><circle class=b3 r=2.2 cx=63.7 cy=208.3 /><circle class=b5 r=1.4 cx=97.9 cy=200.9 /><circle class=b3 r=2.2 cx=88.7 cy=236.4 /><circle class=b3 r=2.2 cx=105.9 cy=210.4 /><circle class=b4 r=1.85 cx=84.3 cy=216.8 /><circle class=b4 r=1.85 cx=91.6 cy=223 /><circle class=b5 r=1.4 cx=99 cy=214.1 /><circle class=b3 r=2.2 cx=134.2 cy=212.7 /><circle class=b5 r=1.4 cx=93.6 cy=210.8 /><circle class=b4 r=1.85 cx=76.9 cy=211.6 /><circle class=b4 r=1.85 cx=79.1 cy=187.6 /><circle class=b5 r=1.4 cx=102.4 cy=202.9 /><circle class=b3 r=2.2 cx=82.9 cy=176.6 /><circle class=b5 r=1.4 cx=103.7 cy=213.4 /><circle class=b5 r=1.4 cx=71.9 cy=194.9 /><circle class=b4 r=1.85 cx=80 cy=193.8 /><circle class=b4 r=1.85 cx=82.4 cy=210.2 /><circle class=b4 r=1.85 cx=81 cy=215 /><circle class=b3 r=2.2 cx=107.6 cy=170.1 /><circle class=b3 r=2.2 cx=103.1 cy=221.5 /><circle class=b3 r=2.2 cx=65.2 cy=184.2 /><circle class=b5 r=1.4 cx=77.8 cy=192.5 /><circle class=b3 r=2.2 cx=56.8 cy=222.4 /><circle class=b2 r=2.5 cx=74.1 cy=245.7 /><circle class=b5 r=1.4 cx=175.9 cy=128.9 /><circle class=b3 r=2.2 cx=74.4 cy=237.8 /><circle class=b4 r=1.85 cx=82.4 cy=210.9 /><circle class=b5 r=1.4 cx=109.9 cy=191.4 /><circle class=b2 r=2.5 cx=43.3 cy=226.3 /><circle class=b2 r=2.5 cx=71.9 cy=224.9 /><circle class=b5 r=1.4 cx=101 cy=187.1 /><circle class=b4 r=1.85 cx=84.6 cy=182.6 /><circle class=b3 r=2.2 cx=63.2 cy=196.4 /><circle class=b2 r=2.5 cx=88.6 cy=244.4 /><circle class=b2 r=2.5 cx=34.8 cy=222.1 /><circle class=b5 r=1.4 cx=101.8 cy=196 /><circle class=b3 r=2.2 cx=68.9 cy=216.8 /><circle class=b3 r=2.2 cx=92.2 cy=225.5 /><circle class=b3 r=2.2 cx=62.1 cy=226.5 /><circle class=b1 r=2.8 cx=128.7 cy=249.6 /><circle class=b3 r=2.2 cx=131.6 cy=212.8 /><circle class=b2 r=2.5 cx=115.9 cy=222.6 /><circle class=b3 r=2.2 cx=66.3 cy=219 /><circle class=b5 r=1.4 cx=96.7 cy=189.3 /><circle class=b3 r=2.2 cx=117.5 cy=208.1 /><circle class=b4 r=1.85 cx=89.4 cy=217.6 /><circle class=b2 r=2.5 cx=100.9 cy=247.2 /><circle class=b4 r=1.85 cx=99.8 cy=220 /><circle class=b4 r=1.85 cx=85.4 cy=178.4 /><circle class=b2 r=2.5 cx=90.6 cy=246.4 /><circle class=b1 r=2.8 cx=86.4 cy=148.2 /><circle class=b5 r=1.4 cx=170 cy=152.2 /><circle class=b4 r=1.85 cx=119.1 cy=163.4 /><circle class=b2 r=2.5 cx=73.6 cy=246.5 /><circle class=b3 r=2.2 cx=106.8 cy=224.5 /><circle class=b4 r=1.85 cx=81.7 cy=218.7 /><circle class=b4 r=1.85 cx=90 cy=215 /><circle class=b3 r=2.2 cx=86.1 cy=220 /><circle class=b5 r=1.4 cx=223.9 cy=186.6 /><circle class=b4 r=1.85 cx=105.7 cy=207.5 /><circle class=b1 r=2.8 cx=130.4 cy=257.1 /><circle class=b3 r=2.2 cx=62.8 cy=225.8 /><circle class=b4 r=1.85 cx=66.8 cy=201.6 /><circle class=b3 r=2.2 cx=55.3 cy=213.1 /><circle class=b2 r=2.5 cx=127.5 cy=214.9 /><circle class=b4 r=1.85 cx=79.4 cy=193.2 /><circle class=b2 r=2.5 cx=56.3 cy=222.5 /><circle class=b5 r=1.4 cx=266.6 cy=197.6 /><circle class=b5 r=1.4 cx=197.5 cy=185.8 /><circle class=b1 r=2.8 cx=135.2 cy=262.1 /><circle class=b3 r=2.2 cx=75.7 cy=221.7 /><circle class=b3 r=2.2 cx=69.1 cy=226.3 /><circle class=b4 r=1.85 cx=95.1 cy=195 /><circle class=b1 r=2.8 cx=137.5 cy=226.9 /><circle class=b4 r=1.85 cx=68.3 cy=203.9 /><circle class=b1 r=2.8 cx=86.8 cy=148.2 /><circle class=b3 r=2.2 cx=110.3 cy=227.2 /><circle class=b2 r=2.5 cx=45.9 cy=208.8 /><circle class=b2 r=2.5 cx=88.5 cy=251.9 /><circle class=b3 r=2.2 cx=90.1 cy=169.1 /><circle class=b5 r=1.4 cx=119.5 cy=187.4 /><circle class=b5 r=1.4 cx=143.8 cy=135.8 /><circle class=b4 r=1.85 cx=93.6 cy=206.8 /><circle class=b2 r=2.5 cx=68.5 cy=230.3 /><circle class=b3 r=2.2 cx=79.4 cy=232 /><circle class=b4 r=1.85 cx=94.1 cy=227.9 /><circle class=b5 r=1.4 cx=82.9 cy=198.8 /><circle class=b4 r=1.85 cx=83.9 cy=228.4 /><circle class=b3 r=2.2 cx=98.8 cy=227 /><circle class=b5 r=1.4 cx=101.1 cy=182.1 /><circle class=b4 r=1.85 cx=83.1 cy=218.5 /><circle class=b1 r=2.8 cx=113.6 cy=237 /><circle class=b5 r=1.4 cx=185 cy=139.8 /><circle class=b2 r=2.5 cx=57.6 cy=191.3 /><circle class=b2 r=2.5 cx=120.1 cy=249.1 /><circle class=b5 r=1.4 cx=102.5 cy=181.3 /><circle class=b5 r=1.4 cx=109.2 cy=187.4 /><circle class=b1 r=2.8 cx=125.1 cy=223.6 /><circle class=b1 r=2.8 cx=158.1 cy=258 /><circle class=b2 r=2.5 cx=110.9 cy=234.1 /><circle class=b5 r=1.4 cx=99 cy=203.8 /><circle class=b2 r=2.5 cx=150.3 cy=224.4 /><circle class=b2 r=2.5 cx=56.2 cy=207.9 /><circle class=b4 r=1.85 cx=84.9 cy=215.3 /><circle class=b4 r=1.85 cx=112.5 cy=155.7 /><circle class=b2 r=2.5 cx=56.8 cy=221.6 /><circle class=b5 r=1.4 cx=113.5 cy=182.7 /><circle class=b3 r=2.2 cx=67.3 cy=173 /><circle class=b4 r=1.85 cx=105.8 cy=216.1 /><circle class=b4 r=1.85 cx=131.1 cy=192.5 /><circle class=b5 r=1.4 cx=194.4 cy=185.5 /><circle class=b3 r=2.2 cx=68.8 cy=227.7 /><circle class=b3 r=2.2 cx=67.1 cy=220.3 /><circle class=b4 r=1.85 cx=64.6 cy=201.6 /><circle class=b3 r=2.2 cx=196.4 cy=222.6 /><circle class=b5 r=1.4 cx=170 cy=144.7 /><circle class=b3 r=2.2 cx=61.2 cy=198.4 /><circle class=b4 r=1.85 cx=106 cy=208.6 /><circle class=b5 r=1.4 cx=68.7 cy=194.2 /><circle class=b3 r=2.2 cx=72 cy=176.3 /><circle class=b3 r=2.2 cx=90.9 cy=222.6 /><circle class=b2 r=2.5 cx=94.6 cy=244.6 /><circle class=b2 r=2.5 cx=83.4 cy=247.6 /><circle class=b5 r=1.4 cx=185.4 cy=139 /><circle class=b2 r=2.5 cx=162 cy=214.9 /><circle class=b2 r=2.5 cx=100.5 cy=248.3 /><circle class=b5 r=1.4 cx=147.8 cy=174 /><circle class=b4 r=1.85 cx=84.2 cy=190.4 /><circle class=b1 r=2.8 cx=128.4 cy=224.8 /><circle class=b5 r=1.4 cx=88.7 cy=210 /><circle class=b4 r=1.85 cx=116.3 cy=200.9 /><circle class=b4 r=1.85 cx=78.9 cy=204.7 /><circle class=b2 r=2.5 cx=124.7 cy=228.7 /><circle class=b3 r=2.2 cx=69.4 cy=235.2 /><circle class=b4 r=1.85 cx=79.1 cy=208.3 /><circle class=b5 r=1.4 cx=126 cy=203.6 /><circle class=b3 r=2.2 cx=102.8 cy=218.6 /><circle class=b4 r=1.85 cx=89.6 cy=187.4 /><circle class=b4 r=1.85 cx=112.7 cy=207 /><circle class=b4 r=1.85 cx=88.6 cy=231 /><circle class=b4 r=1.85 cx=100.6 cy=188.4 /><circle class=b5 r=1.4 cx=109.5 cy=203.2 /><circle class=b3 r=2.2 cx=88 cy=231.2 /><circle class=b4 r=1.85 cx=110.2 cy=194 /><circle class=b4 r=1.85 cx=83.2 cy=198.4 /><circle class=b3 r=2.2 cx=64.3 cy=225.5 /><circle class=b2 r=2.5 cx=100.7 cy=247.5 /><circle class=b3 r=2.2 cx=106.4 cy=236.7 /><circle class=b3 r=2.2 cx=71.6 cy=215.7 /><circle class=b4 r=1.85 cx=89.3 cy=203.5 /><circle class=b2 r=2.5 cx=112.9 cy=228.5 /><circle class=b5 r=1.4 cx=173.8 cy=156.9 /><circle class=b3 r=2.2 cx=56.4 cy=221.8 /><circle class=b5 r=1.4 cx=110.7 cy=174.5 /><circle class=b5 r=1.4 cx=150.8 cy=171.7 /><circle class=b2 r=2.5 cx=164.7 cy=284.3 /><circle class=b4 r=1.85 cx=82.4 cy=209.2 /><circle class=b1 r=2.8 cx=135.6 cy=261.5 /><circle class=b5 r=1.4 cx=90 cy=199.5 /><circle class=b4 r=1.85 cx=89.6 cy=213.4 /><circle class=b4 r=1.85 cx=73.7 cy=178.8 /><circle class=b3 r=2.2 cx=65.4 cy=211.2 /><circle class=b3 r=2.2 cx=71.6 cy=228.5 /><circle class=b4 r=1.85 cx=94.5 cy=228 /><circle class=b3 r=2.2 cx=130.2 cy=211.4 /><circle class=b3 r=2.2 cx=63.2 cy=217.6 /><circle class=b4 r=1.85 cx=136.9 cy=208.7 /><circle class=b2 r=2.5 cx=129.2 cy=213.4 /><circle class=b3 r=2.2 cx=94.7 cy=232.5 /><circle class=b1 r=2.8 cx=77.6 cy=134.2 /><circle class=b2 r=2.5 cx=125.1 cy=247.6 /><circle class=b2 r=2.5 cx=127.4 cy=257.4 /><circle class=b4 r=1.85 cx=79.8 cy=209.7 /><circle class=b1 r=2.8 cx=124.1 cy=234.1 /><circle class=b5 r=1.4 cx=120.2 cy=186.7 /><circle class=b4 r=1.85 cx=68.2 cy=204.6 /><circle class=b5 r=1.4 cx=89.3 cy=197.4 /><circle class=b3 r=2.2 cx=62.5 cy=212.1 /><circle class=b5 r=1.4 cx=104.6 cy=207.5 /><circle class=b2 r=2.5 cx=112.3 cy=255.8 /><circle class=b2 r=2.5 cx=107.9 cy=236.9 /><circle class=b1 r=2.8 cx=132 cy=246.6 /><circle class=b5 r=1.4 cx=90 cy=205.7 /><circle class=b5 r=1.4 cx=108.9 cy=205.8 /><circle class=b3 r=2.2 cx=58.5 cy=213 /><circle class=b2 r=2.5 cx=164.2 cy=284.9 /><circle class=b4 r=1.85 cx=73.8 cy=196.8 /><circle class=b3 r=2.2 cx=93 cy=233.2 /><circle class=b2 r=2.5 cx=55.7 cy=211.4 /><circle class=b3 r=2.2 cx=102.1 cy=233.2 /><circle class=b5 r=1.4 cx=96 cy=202.3 /><circle class=b2 r=2.5 cx=94.4 cy=247.1 /><circle class=b5 r=1.4 cx=79.6 cy=196.5 /><circle class=b4 r=1.85 cx=129.7 cy=208.9 /><circle class=b3 r=2.2 cx=67 cy=189.4 /><circle class=b4 r=1.85 cx=83.6 cy=212.4 /><circle class=b4 r=1.85 cx=77.4 cy=209.4 /><circle class=b3 r=2.2 cx=67.2 cy=208.3 /><circle class=b3 r=2.2 cx=65.9 cy=207.6 /><circle class=b1 r=2.8 cx=122.1 cy=217.9 /><circle class=b2 r=2.5 cx=74.7 cy=223.9 /><circle class=b4 r=1.85 cx=120.2 cy=158.3 /><circle class=b3 r=2.2 cx=102.5 cy=234.4 /><circle class=b4 r=1.85 cx=97.5 cy=176.1 /><circle class=b3 r=2.2 cx=84.6 cy=218.7 /><circle class=b4 r=1.85 cx=75.8 cy=211.8 /><circle class=b2 r=2.5 cx=50.8 cy=156.2 /><circle class=b5 r=1.4 cx=76.5 cy=184.8 /><circle class=b4 r=1.85 cx=136.6 cy=209.2 /><circle class=b4 r=1.85 cx=136.9 cy=205 /><circle class=b3 r=2.2 cx=59 cy=175 /><circle class=b3 r=2.2 cx=66.4 cy=216.3 /><circle class=b2 r=2.5 cx=88.5 cy=252.2 /><circle class=b4 r=1.85 cx=159.8 cy=185.8 /><circle class=b5 r=1.4 cx=110.7 cy=200.1 /><circle class=b4 r=1.85 cx=97.3 cy=199.1 /><circle class=b3 r=2.2 cx=64.1 cy=210.1 /><circle class=b4 r=1.85 cx=105.4 cy=206.7 /><circle class=b3 r=2.2 cx=84.9 cy=215.4 /><circle class=b2 r=2.5 cx=142.4 cy=215.9 /><circle class=b2 r=2.5 cx=103.5 cy=135.9 /><circle class=b1 r=2.8 cx=123.1 cy=256.6 /><circle class=b3 r=2.2 cx=62.4 cy=209.1 /><circle class=b3 r=2.2 cx=72.6 cy=214.8 /><circle class=b5 r=1.4 cx=102.7 cy=198.9 /><circle class=b5 r=1.4 cx=147.6 cy=119.3 /><circle class=b4 r=1.85 cx=79.4 cy=218.7 /><circle class=b3 r=2.2 cx=85.4 cy=216.2 /><circle class=b3 r=2.2 cx=103.9 cy=228.9 /><circle class=b4 r=1.85 cx=110.6 cy=175 /><circle class=b5 r=1.4 cx=96.4 cy=209 /><circle class=b4 r=1.85 cx=108.4 cy=192.4 /><circle class=b2 r=2.5 cx=65.6 cy=226.4 /><circle class=b3 r=2.2 cx=128.8 cy=212.7 /><circle class=b4 r=1.85 cx=87.1 cy=236.6 /><circle class=b4 r=1.85 cx=128.9 cy=210.7 /><circle class=b5 r=1.4 cx=86.5 cy=207.9 /><circle class=b2 r=2.5 cx=58.2 cy=207.9 /><circle class=b3 r=2.2 cx=66.1 cy=191.2 /><circle class=b5 r=1.4 cx=169.6 cy=138.2 /><circle class=b4 r=1.85 cx=90.9 cy=216.6 /><circle class=b5 r=1.4 cx=115.8 cy=195.7 /><circle class=b4 r=1.85 cx=91.6 cy=217.6 /><circle class=b2 r=2.5 cx=79.4 cy=170 /><circle class=b5 r=1.4 cx=95.6 cy=180.5 /><circle class=b5 r=1.4 cx=93.3 cy=206.9 /><circle class=b2 r=2.5 cx=94.4 cy=244.8 /><circle class=b4 r=1.85 cx=60.1 cy=209.8 /><circle class=b2 r=2.5 cx=73.8 cy=224.5 /><circle class=b5 r=1.4 cx=131.7 cy=192.8 /><circle class=b5 r=1.4 cx=93.4 cy=192.7 /><circle class=b2 r=2.5 cx=189.4 cy=236.9 /><circle class=b5 r=1.4 cx=75.6 cy=211.4 /><circle class=b3 r=2.2 cx=132.2 cy=209 /><circle class=b4 r=1.85 cx=75 cy=205 /><circle class=b5 r=1.4 cx=106 cy=207.5 /><circle class=b2 r=2.5 cx=112.3 cy=253.3 /><circle class=b4 r=1.85 cx=104.4 cy=211.1 /><circle class=b5 r=1.4 cx=164.5 cy=164.4 /><circle class=b2 r=2.5 cx=124.6 cy=217.4 /><circle class=b4 r=1.85 cx=84.2 cy=215 /><circle class=b5 r=1.4 cx=111.9 cy=191.9 /><circle class=b1 r=2.8 cx=123.3 cy=233.1 /><circle class=b2 r=2.5 cx=112.9 cy=228.9 /><circle class=b4 r=1.85 cx=83.4 cy=217.7 /><circle class=b1 r=2.8 cx=116.3 cy=235.2 /><circle class=b4 r=1.85 cx=90.6 cy=223.1 /><circle class=b4 r=1.85 cx=95.9 cy=209.7 /><circle class=b5 r=1.4 cx=100.3 cy=214.5 /><circle class=b1 r=2.8 cx=98.2 cy=128 /><circle class=b5 r=1.4 cx=111 cy=193.7 /><circle class=b4 r=1.85 cx=131 cy=194.1 /><circle class=b5 r=1.4 cx=99 cy=205.7 /><circle class=b4 r=1.85 cx=88.3 cy=224.3 /><circle class=b4 r=1.85 cx=87.4 cy=215.4 /><circle class=b5 r=1.4 cx=86 cy=205.6 /><circle class=b5 r=1.4 cx=101.3 cy=177.7 /><circle class=b3 r=2.2 cx=77.1 cy=230.5 /><circle class=b2 r=2.5 cx=74.9 cy=222.9 /><circle class=b2 r=2.5 cx=52 cy=219.4 /><circle class=b3 r=2.2 cx=70.6 cy=213.2 /><circle class=b3 r=2.2 cx=56 cy=218 /><circle class=b4 r=1.85 cx=83.4 cy=189.6 /><circle class=b3 r=2.2 cx=107.4 cy=215 /><circle class=b1 r=2.8 cx=111.2 cy=212.6 /><circle class=b4 r=1.85 cx=116 cy=203.4 /><circle class=b4 r=1.85 cx=132.1 cy=208.7 /><circle class=b5 r=1.4 cx=149.8 cy=135.9 /><circle class=b5 r=1.4 cx=109.1 cy=198.4 /><circle class=b3 r=2.2 cx=96 cy=232.1 /><circle class=b4 r=1.85 cx=81.3 cy=219.7 /><circle class=b1 r=2.8 cx=144.5 cy=213.1 /><circle class=b5 r=1.4 cx=73.5 cy=202.6 /><circle class=b4 r=1.85 cx=104.5 cy=213.2 /><circle class=b5 r=1.4 cx=89.3 cy=204.1 /><circle class=b3 r=2.2 cx=99.5 cy=211.6 /><circle class=b3 r=2.2 cx=77.5 cy=234.2 /><circle class=b2 r=2.5 cx=110.5 cy=229.7 /><circle class=b3 r=2.2 cx=107.2 cy=234.9 /><circle class=b3 r=2.2 cx=109.8 cy=222.3 /><circle class=b3 r=2.2 cx=108.7 cy=222.4 /><circle class=b1 r=2.8 cx=124.9 cy=225.3 /><circle class=b1 r=2.8 cx=83.7 cy=252.4 /><circle class=b2 r=2.5 cx=131 cy=213.5 /><circle class=b3 r=2.2 cx=90.2 cy=232.1 /><circle class=b3 r=2.2 cx=83.8 cy=239.1 /><circle class=b4 r=1.85 cx=86.4 cy=216.5 /><circle class=b4 r=1.85 cx=82.6 cy=213.5 /><circle class=b5 r=1.4 cx=183.1 cy=181 /><circle class=b3 r=2.2 cx=62.1 cy=224.5 /><circle class=b2 r=2.5 cx=112.1 cy=252.7 /><circle class=b4 r=1.85 cx=191.3 cy=165.1 /><circle class=b4 r=1.85 cx=87 cy=223.5 /><circle class=b3 r=2.2 cx=67.4 cy=209.8 /><circle class=b5 r=1.4 cx=69.2 cy=200.7 /><circle class=b1 r=2.8 cx=121 cy=230 /><circle class=b2 r=2.5 cx=90.7 cy=251.9 /><circle class=b1 r=2.8 cx=130.4 cy=221.6 /><circle class=b3 r=2.2 cx=44.3 cy=226.3 /><circle class=b2 r=2.5 cx=70.5 cy=243.7 /><circle class=b2 r=2.5 cx=114.4 cy=217.8 /><circle class=b4 r=1.85 cx=92 cy=183.1 /><circle class=b5 r=1.4 cx=89.2 cy=205.2 /><circle class=b5 r=1.4 cx=98.9 cy=196.7 /><circle class=b2 r=2.5 cx=53.8 cy=223.5 /><circle class=b3 r=2.2 cx=69.7 cy=228.9 /><circle class=b4 r=1.85 cx=98.5 cy=203.9 /><circle class=b4 r=1.85 cx=89.7 cy=217 /><circle class=b3 r=2.2 cx=60.8 cy=226.8 /><circle class=b1 r=2.8 cx=145.5 cy=212.6 /><circle class=b4 r=1.85 cx=72.5 cy=206.3 /><circle class=b4 r=1.85 cx=89.5 cy=235.5 /><circle class=b5 r=1.4 cx=85.7 cy=198 /><circle class=b3 r=2.2 cx=94.6 cy=245.1 /><circle class=b4 r=1.85 cx=119.5 cy=184.4 /><circle class=b4 r=1.85 cx=89.7 cy=199.9 /><circle class=b3 r=2.2 cx=126.8 cy=210.8 /><circle class=b4 r=1.85 cx=103.5 cy=231.4 /><circle class=b4 r=1.85 cx=79 cy=204.2 /><circle class=b3 r=2.2 cx=36.8 cy=233 /><circle class=b5 r=1.4 cx=80.3 cy=185.6 /><circle class=b2 r=2.5 cx=58.1 cy=212.5 /><circle class=b1 r=2.8 cx=23.5 cy=214.3 /><circle class=b4 r=1.85 cx=82.3 cy=208.8 /><circle class=b5 r=1.4 cx=188.8 cy=165.8 /><circle class=b4 r=1.85 cx=100.9 cy=206.6 /><circle class=b5 r=1.4 cx=161.4 cy=169.2 /><circle class=b5 r=1.4 cx=71.6 cy=199.6 /><circle class=b2 r=2.5 cx=115.7 cy=214.2 /><circle class=b5 r=1.4 cx=95.9 cy=206.3 /><circle class=b2 r=2.5 cx=117.4 cy=211.8 /><circle class=b3 r=2.2 cx=69.9 cy=229.4 /><circle class=b5 r=1.4 cx=82.7 cy=211.7 /><circle class=b2 r=2.5 cx=151 cy=220.4 /><circle class=b4 r=1.85 cx=89.8 cy=221.6 /><circle class=b4 r=1.85 cx=88.9 cy=195 /><circle class=b4 r=1.85 cx=81 cy=216.1 /><circle class=b2 r=2.5 cx=20 cy=222 /><circle class=b3 r=2.2 cx=105.1 cy=224.9 /><circle class=b3 r=2.2 cx=102.1 cy=228 /><circle class=b5 r=1.4 cx=92.8 cy=194 /><circle class=b3 r=2.2 cx=75 cy=221.4 /><circle class=b4 r=1.85 cx=88.8 cy=218.4 /><circle class=b4 r=1.85 cx=84.4 cy=222.1 /><circle class=b5 r=1.4 cx=125 cy=189.1 /><circle class=b1 r=2.8 cx=121.8 cy=218 /><circle class=b4 r=1.85 cx=78.3 cy=213.8 /><circle class=b4 r=1.85 cx=118.3 cy=157.1 /><circle class=b3 r=2.2 cx=108.7 cy=208.1 /><circle class=b3 r=2.2 cx=72.9 cy=232.7 /><circle class=b3 r=2.2 cx=105 cy=219.5 /><circle class=b1 r=2.8 cx=78.2 cy=134.9 /><circle class=b4 r=1.85 cx=84.3 cy=190.1 /><circle class=b1 r=2.8 cx=29 cy=150.5 /><circle class=b2 r=2.5 cx=79.3 cy=226.6 /><circle class=b3 r=2.2 cx=72.1 cy=216.2 /><circle class=b3 r=2.2 cx=36.4 cy=221.5 /><circle class=b1 r=2.8 cx=151.8 cy=249.8 /><circle class=b3 r=2.2 cx=67.2 cy=209.8 /><circle class=b5 r=1.4 cx=122.3 cy=175.1 /><circle class=b2 r=2.5 cx=129.3 cy=212.8 /><circle class=b5 r=1.4 cx=79.7 cy=186.4 /><circle class=b2 r=2.5 cx=53.5 cy=177.2 /><circle class=b2 r=2.5 cx=120.3 cy=236.5 /><circle class=b5 r=1.4 cx=112.2 cy=205.2 /><circle class=b4 r=1.85 cx=94.5 cy=228.5 /><circle class=b2 r=2.5 cx=105.5 cy=236.8 /><circle class=b3 r=2.2 cx=51.7 cy=201.2 /><circle class=b1 r=2.8 cx=142.3 cy=218.4 /><circle class=b2 r=2.5 cx=64.9 cy=206.1 /><circle class=b3 r=2.2 cx=61 cy=191.2 /><circle class=b5 r=1.4 cx=82.8 cy=196.7 /><circle class=b4 r=1.85 cx=69.1 cy=184.4 /><circle class=b5 r=1.4 cx=138.3 cy=202.6 /><circle class=b3 r=2.2 cx=65.5 cy=207 /><circle class=b3 r=2.2 cx=106.5 cy=222.9 /><circle class=b1 r=2.8 cx=114.1 cy=231.5 /><circle class=b5 r=1.4 cx=111.8 cy=200.9 /><circle class=b4 r=1.85 cx=68.7 cy=203.7 /><circle class=b3 r=2.2 cx=131.8 cy=208.2 /><circle class=b1 r=2.8 cx=143.9 cy=230.1 /><circle class=b5 r=1.4 cx=91.5 cy=192 /><circle class=b4 r=1.85 cx=93.5 cy=216.2 /><circle class=b2 r=2.5 cx=43.5 cy=224 /><circle class=b4 r=1.85 cx=89.7 cy=202.8 /><circle class=b4 r=1.85 cx=83.4 cy=227.8 /><circle class=b4 r=1.85 cx=118.8 cy=181.2 /><circle class=b4 r=1.85 cx=112.4 cy=189.9 /><circle class=b4 r=1.85 cx=84.8 cy=218.7 /><circle class=b3 r=2.2 cx=83 cy=221 /><circle class=b4 r=1.85 cx=98.3 cy=219.8 /><circle class=b3 r=2.2 cx=82.9 cy=222.9 /><circle class=b4 r=1.85 cx=105.6 cy=206.9 /><circle class=b5 r=1.4 cx=98.7 cy=176.8 /><circle class=b3 r=2.2 cx=95.2 cy=232.5 /><circle class=b4 r=1.85 cx=90 cy=221.7 /><circle class=b3 r=2.2 cx=73.6 cy=224.1 /><circle class=b5 r=1.4 cx=88 cy=207.1 /><circle class=b3 r=2.2 cx=55.4 cy=219.5 /><circle class=b4 r=1.85 cx=102.5 cy=212 /><circle class=b5 r=1.4 cx=92.4 cy=203.3 /><circle class=b3 r=2.2 cx=64.5 cy=206.7 /><circle class=b5 r=1.4 cx=143.2 cy=147.3 /><circle class=b1 r=2.8 cx=106.6 cy=259.9 /><circle class=b1 r=2.8 cx=130.4 cy=240.5 /><circle class=b5 r=1.4 cx=119.2 cy=180.6 /><circle class=b5 r=1.4 cx=92.3 cy=209.5 /><circle class=b4 r=1.85 cx=157 cy=194.8 /><circle class=b5 r=1.4 cx=93.3 cy=198.4 /><circle class=b2 r=2.5 cx=30 cy=161 /><circle class=b4 r=1.85 cx=81 cy=185.5 /><circle class=b3 r=2.2 cx=85.2 cy=229.9 /><circle class=b3 r=2.2 cx=63.7 cy=202.5 /><circle class=b2 r=2.5 cx=56.8 cy=215.8 /><circle class=b1 r=2.8 cx=135 cy=261.4 /><circle class=b4 r=1.85 cx=81.1 cy=213.4 /><circle class=b3 r=2.2 cx=118.2 cy=211.4 /><circle class=b4 r=1.85 cx=66.2 cy=209.2 /><circle class=b3 r=2.2 cx=76.8 cy=233.5 /><circle class=b5 r=1.4 cx=71.7 cy=195.4 /><circle class=b3 r=2.2 cx=65.9 cy=212.3 /><circle class=b3 r=2.2 cx=54 cy=217.8 /><circle class=b3 r=2.2 cx=94.9 cy=233.2 /><circle class=b4 r=1.85 cx=88.9 cy=215.8 /><circle class=b4 r=1.85 cx=84.7 cy=219.1 /><circle class=b2 r=2.5 cx=27.5 cy=229.5 /><circle class=b1 r=2.8 cx=113.3 cy=236.8 /><circle class=b3 r=2.2 cx=73.8 cy=223.1 /><circle class=b5 r=1.4 cx=101.4 cy=182.8 /><circle class=b3 r=2.2 cx=64.9 cy=189.4 /><circle class=b2 r=2.5 cx=63.2 cy=190.7 /><circle class=b3 r=2.2 cx=55.5 cy=211.8 /><circle class=b2 r=2.5 cx=29.7 cy=241 /><circle class=b3 r=2.2 cx=121.9 cy=211.9 /><circle class=b4 r=1.85 cx=80.9 cy=218.2 /><circle class=b5 r=1.4 cx=159.8 cy=126.6 /><circle class=b5 r=1.4 cx=93.7 cy=202.7 /><circle class=b4 r=1.85 cx=121 cy=145.4 /><circle class=b1 r=2.8 cx=131.5 cy=228.6 /><circle class=b1 r=2.8 cx=128.3 cy=223.3 /><circle class=b4 r=1.85 cx=105.3 cy=216.6 /><circle class=b5 r=1.4 cx=95.9 cy=215 /><circle class=b4 r=1.85 cx=79.9 cy=193.5 /><circle class=b3 r=2.2 cx=68.3 cy=225.8 /><circle class=b3 r=2.2 cx=72.2 cy=216 /><circle class=b5 r=1.4 cx=121.9 cy=184.8 /><circle class=b4 r=1.85 cx=85.2 cy=215.7 /><circle class=b3 r=2.2 cx=65.1 cy=208.8 /><circle class=b3 r=2.2 cx=69.4 cy=226.2 /><circle class=b1 r=2.8 cx=87.6 cy=249.9 /><circle class=b2 r=2.5 cx=72.9 cy=229.8 /><circle class=b3 r=2.2 cx=72.4 cy=216.2 /><circle class=b5 r=1.4 cx=95.7 cy=195.5 /><circle class=b4 r=1.85 cx=83.5 cy=203.8 /><circle class=b5 r=1.4 cx=75.7 cy=185.2 /><circle class=b4 r=1.85 cx=83.3 cy=198.2 /><circle class=b5 r=1.4 cx=115.8 cy=194.2 /><circle class=b3 r=2.2 cx=66.5 cy=230.6 /><circle class=b5 r=1.4 cx=87 cy=197.8 /><circle class=b4 r=1.85 cx=91.4 cy=223.4 /><circle class=b4 r=1.85 cx=84.1 cy=218.9 /><circle class=b4 r=1.85 cx=87.3 cy=221.2 /><circle class=b3 r=2.2 cx=82.8 cy=232.4 /><circle class=b4 r=1.85 cx=131.3 cy=153.5 /><circle class=b1 r=2.8 cx=86.7 cy=148.4 /><circle class=b3 r=2.2 cx=70.2 cy=229.9 /><circle class=b2 r=2.5 cx=57.1 cy=199.4 /><circle class=b5 r=1.4 cx=125.3 cy=204.3 /><circle class=b4 r=1.85 cx=110.1 cy=195.1 /><circle class=b3 r=2.2 cx=56.3 cy=220.4 /><circle class=b5 r=1.4 cx=162.3 cy=171.3 /><circle class=b4 r=1.85 cx=69.9 cy=205.5 /><circle class=b4 r=1.85 cx=85.6 cy=219.3 /><circle class=b1 r=2.8 cx=128.9 cy=226.1 /><circle class=b2 r=2.5 cx=200.9 cy=230.7 /><circle class=b5 r=1.4 cx=102.4 cy=204.1 /><circle class=b1 r=2.8 cx=133.9 cy=226.5 /><circle class=b5 r=1.4 cx=135.2 cy=204.8 /><circle class=b4 r=1.85 cx=92.5 cy=176 /><circle class=b4 r=1.85 cx=105.4 cy=210.2 /><circle class=b2 r=2.5 cx=99.4 cy=265 /><circle class=b1 r=2.8 cx=123.1 cy=218.4 /><circle class=b2 r=2.5 cx=165.9 cy=236 /><circle class=b3 r=2.2 cx=108.2 cy=232.9 /><circle class=b5 r=1.4 cx=87.8 cy=197.7 /><circle class=b2 r=2.5 cx=105.6 cy=236.7 /><circle class=b3 r=2.2 cx=67.2 cy=220.3 /><circle class=b4 r=1.85 cx=74.7 cy=214.8 /><circle class=b2 r=2.5 cx=35 cy=229.3 /><circle class=b4 r=1.85 cx=79.4 cy=213.9 /><circle class=b3 r=2.2 cx=118.2 cy=207.6 /><circle class=b3 r=2.2 cx=67.5 cy=204.4 /><circle class=b5 r=1.4 cx=101.9 cy=196.2 /><circle class=b1 r=2.8 cx=121.3 cy=230.3 /><circle class=b4 r=1.85 cx=117.2 cy=196.6 /><circle class=b4 r=1.85 cx=119.2 cy=205.2 /><circle class=b5 r=1.4 cx=101.5 cy=182.6 /><circle class=b2 r=2.5 cx=53.8 cy=199.4 /><circle class=b3 r=2.2 cx=103.7 cy=228.7 /><circle class=b5 r=1.4 cx=97.5 cy=207.7 /><circle class=b2 r=2.5 cx=104 cy=143 /><circle class=b5 r=1.4 cx=96.2 cy=200.7 /><circle class=b5 r=1.4 cx=90.6 cy=196 /><circle class=b2 r=2.5 cx=69.5 cy=245.4 /><circle class=b4 r=1.85 cx=89.5 cy=216.6 /><circle class=b3 r=2.2 cx=57.3 cy=215.9 /><circle class=b3 r=2.2 cx=81.2 cy=221.5 /><circle class=b1 r=2.8 cx=123.6 cy=239.6 /><circle class=b2 r=2.5 cx=99.4 cy=147.7 /><circle class=b5 r=1.4 cx=84.4 cy=188.9 /><circle class=b4 r=1.85 cx=124.5 cy=144.9 /><circle class=b5 r=1.4 cx=84.3 cy=207.8 /><circle class=b4 r=1.85 cx=152.8 cy=178.8 /><circle class=b2 r=2.5 cx=113 cy=227.7 /><circle class=b4 r=1.85 cx=90.3 cy=216.9 /><circle class=b5 r=1.4 cx=100.4 cy=182.3 /><circle class=b4 r=1.85 cx=119.2 cy=165.4 /><circle class=b4 r=1.85 cx=118.8 cy=198 /><circle class=b1 r=2.8 cx=125.2 cy=266.5 /><circle class=b5 r=1.4 cx=132.5 cy=183.7 /><circle class=b5 r=1.4 cx=133.6 cy=155.7 /><circle class=b4 r=1.85 cx=72.8 cy=206.3 /><circle class=b2 r=2.5 cx=54.1 cy=199.6 /><circle class=b4 r=1.85 cx=187 cy=190 /><circle class=b4 r=1.85 cx=90 cy=220.9 /><circle class=b4 r=1.85 cx=160 cy=192 /><circle class=b3 r=2.2 cx=109.6 cy=228 /><circle class=b2 r=2.5 cx=122 cy=269 /><circle class=b4 r=1.85 cx=180.1 cy=169.1 /><circle class=b5 r=1.4 cx=86.5 cy=203.9 /><circle class=b5 r=1.4 cx=143.5 cy=131.6 /><circle class=b4 r=1.85 cx=97 cy=223 /><circle class=b3 r=2.2 cx=83.6 cy=176.2 /><circle class=b2 r=2.5 cx=88.4 cy=139 /><circle class=b3 r=2.2 cx=96.2 cy=228.3 /><circle class=b3 r=2.2 cx=107.1 cy=214.8 /><circle class=b3 r=2.2 cx=58.7 cy=212.6 /><circle class=b3 r=2.2 cx=67.7 cy=208.2 /><circle class=b5 r=1.4 cx=103.5 cy=180.4 /><circle class=b4 r=1.85 cx=83.8 cy=223.5 /><circle class=b2 r=2.5 cx=118.4 cy=254.5 /><circle class=b3 r=2.2 cx=65.3 cy=189.3 /><circle class=b5 r=1.4 cx=100.8 cy=206.3 /><circle class=b4 r=1.85 cx=96.1 cy=173.4 /><circle class=b4 r=1.85 cx=74.1 cy=206.4 /><circle class=b4 r=1.85 cx=135.5 cy=188.1 /><circle class=b4 r=1.85 cx=76.2 cy=178.5 /><circle class=b5 r=1.4 cx=119.9 cy=185.9 /><circle class=b2 r=2.5 cx=51 cy=220.2 /><circle class=b4 r=1.85 cx=115.6 cy=174.5 /><circle class=b2 r=2.5 cx=101.6 cy=253.8 /><circle class=b5 r=1.4 cx=154.2 cy=131.2 /><circle class=b5 r=1.4 cx=99.1 cy=195.3 /><circle class=b5 r=1.4 cx=184.6 cy=167.3 /><circle class=b1 r=2.8 cx=108.4 cy=259.8 /><circle class=b5 r=1.4 cx=83.1 cy=179.5 /><circle class=b1 r=2.8 cx=160.8 cy=264.6 /><circle class=b4 r=1.85 cx=69.7 cy=183.1 /><circle class=b2 r=2.5 cx=126.9 cy=214.1 /><circle class=b2 r=2.5 cx=51.8 cy=219.2 /><circle class=b5 r=1.4 cx=92.6 cy=209.3 /><circle class=b5 r=1.4 cx=121.4 cy=184.3 /><circle class=b4 r=1.85 cx=123.3 cy=174.6 /><circle class=b2 r=2.5 cx=117.2 cy=250.5 /><circle class=b1 r=2.8 cx=89.7 cy=142 /><circle class=b5 r=1.4 cx=74.3 cy=186.7 /><circle class=b1 r=2.8 cx=145.8 cy=214.8 /><circle class=b2 r=2.5 cx=29.1 cy=147.4 /><circle class=b4 r=1.85 cx=93.6 cy=228.1 /><circle class=b5 r=1.4 cx=87.7 cy=198.5 /><circle class=b4 r=1.85 cx=81.7 cy=209.7 /><circle class=b2 r=2.5 cx=113.9 cy=224.9 /><circle class=b2 r=2.5 cx=146.7 cy=237.7 /><circle class=b4 r=1.85 cx=97.9 cy=216.3 /><circle class=b5 r=1.4 cx=82 cy=203.7 /><circle class=b2 r=2.5 cx=71.4 cy=251.9 /><circle class=b4 r=1.85 cx=112.6 cy=192.4 /><circle class=b5 r=1.4 cx=85.8 cy=208.6 /><circle class=b4 r=1.85 cx=80.5 cy=214.4 /><circle class=b5 r=1.4 cx=98.8 cy=197.8 /><circle class=b4 r=1.85 cx=85.5 cy=215.6 /><circle class=b4 r=1.85 cx=166.5 cy=185.8 /><circle class=b1 r=2.8 cx=129.1 cy=258.2 /><circle class=b5 r=1.4 cx=84.5 cy=203.9 /><circle class=b5 r=1.4 cx=85.8 cy=207.7 /><circle class=b2 r=2.5 cx=128.9 cy=264.9 /><circle class=b5 r=1.4 cx=82.1 cy=198 /><circle class=b2 r=2.5 cx=118.2 cy=214 /><circle class=b4 r=1.85 cx=98.8 cy=203.8 /><circle class=b4 r=1.85 cx=83.7 cy=205.8 /><circle class=b1 r=2.8 cx=108 cy=260.8 /><circle class=b1 r=2.8 cx=143.1 cy=229.5 /><circle class=b4 r=1.85 cx=93 cy=201.5 /><circle class=b1 r=2.8 cx=117.5 cy=219.6 /><circle class=b2 r=2.5 cx=80 cy=236.3 /><circle class=b2 r=2.5 cx=74.7 cy=223.4 /><circle class=b4 r=1.85 cx=142 cy=197.3 /><circle class=b5 r=1.4 cx=109.2 cy=187.6 /><circle class=b5 r=1.4 cx=147.9 cy=185.2 /><circle class=b5 r=1.4 cx=150.7 cy=152.2 /><circle class=b5 r=1.4 cx=112.6 cy=182.9 /><circle class=b5 r=1.4 cx=91.6 cy=183.4 /><circle class=b4 r=1.85 cx=95.2 cy=217.7 /><circle class=b2 r=2.5 cx=26.3 cy=161.1 /><circle class=b4 r=1.85 cx=120.7 cy=207.1 /><circle class=b5 r=1.4 cx=80.6 cy=206 /><circle class=b2 r=2.5 cx=100.4 cy=248.2 /><circle class=b5 r=1.4 cx=111.6 cy=181 /><circle class=b5 r=1.4 cx=123.9 cy=164 /><circle class=b5 r=1.4 cx=92.5 cy=219.6 /><circle class=b5 r=1.4 cx=93.9 cy=200.7 /><circle class=b4 r=1.85 cx=121.3 cy=157.9 /><circle class=b5 r=1.4 cx=133.6 cy=155.7 /><circle class=b1 r=2.8 cx=129.3 cy=228.1 /><circle class=b2 r=2.5 cx=38.4 cy=224.1 /><circle class=b4 r=1.85 cx=91.1 cy=223.3 /><circle class=b1 r=2.8 cx=147.7 cy=236.1 /><circle class=b4 r=1.85 cx=129.5 cy=198.7 /><circle class=b4 r=1.85 cx=85.3 cy=219.1 /><circle class=b4 r=1.85 cx=94 cy=178.1 /><circle class=b5 r=1.4 cx=167.4 cy=171.2 /><circle class=b1 r=2.8 cx=124 cy=225.3 /><circle class=b4 r=1.85 cx=71.8 cy=198.5 /><circle class=b4 r=1.85 cx=95.2 cy=224.4 /><circle class=b2 r=2.5 cx=70.6 cy=247.9 /><circle class=b4 r=1.85 cx=75.2 cy=208.6 /><circle class=b4 r=1.85 cx=76 cy=211.7 /><circle class=b5 r=1.4 cx=92.4 cy=209.1 /><circle class=b4 r=1.85 cx=136.1 cy=197.3 /><circle class=b4 r=1.85 cx=119.9 cy=161.1 /><circle class=b1 r=2.8 cx=83.7 cy=254.8 /><circle class=b5 r=1.4 cx=84.9 cy=198 /><circle class=b5 r=1.4 cx=88.7 cy=198.5 /><circle class=b4 r=1.85 cx=69 cy=201.8 /><circle class=b4 r=1.85 cx=101.6 cy=181.9 /><circle class=b4 r=1.85 cx=75.5 cy=211.7 /><circle class=b5 r=1.4 cx=96.9 cy=194.6 /><circle class=b1 r=2.8 cx=119.9 cy=249.6 /><circle class=b2 r=2.5 cx=128.8 cy=257.5 /><circle class=b4 r=1.85 cx=86.4 cy=220.1 /><circle class=b5 r=1.4 cx=118.3 cy=159 /><circle class=b1 r=2.8 cx=129.7 cy=224.2 /><circle class=b4 r=1.85 cx=120.6 cy=176.4 /><circle class=b2 r=2.5 cx=117.5 cy=211.9 /><circle class=b5 r=1.4 cx=133.9 cy=196.4 /><circle class=b2 r=2.5 cx=116.2 cy=213.1 /><circle class=b2 r=2.5 cx=59.5 cy=212.5 /><circle class=b2 r=2.5 cx=26.3 cy=245.2 /><circle class=b4 r=1.85 cx=85.9 cy=219.8 /><circle class=b4 r=1.85 cx=83.4 cy=181.5 /><circle class=b2 r=2.5 cx=120.4 cy=250.2 /><circle class=b4 r=1.85 cx=98.8 cy=223.9 /><circle class=b1 r=2.8 cx=118.5 cy=231.1 /><circle class=b5 r=1.4 cx=72.5 cy=192.8 /><circle class=b4 r=1.85 cx=91 cy=223.3 /><circle class=b1 r=2.8 cx=165.4 cy=268.8 /><circle class=b2 r=2.5 cx=31.5 cy=239 /><circle class=b2 r=2.5 cx=107.6 cy=259.6 /><circle class=b4 r=1.85 cx=127.1 cy=199.1 /><circle class=b4 r=1.85 cx=62.1 cy=218.1 /><circle class=b2 r=2.5 cx=95.1 cy=241.5 /><circle class=b4 r=1.85 cx=71.6 cy=197.7 /><circle class=b2 r=2.5 cx=109 cy=232.5 /><circle class=b1 r=2.8 cx=122.1 cy=230.3 /><circle class=b4 r=1.85 cx=83.1 cy=225 /><circle class=b5 r=1.4 cx=120 cy=181 /><circle class=b4 r=1.85 cx=92.7 cy=226.4 /><circle class=b2 r=2.5 cx=121.5 cy=227.8 /><circle class=b5 r=1.4 cx=88.9 cy=195 /><circle class=b5 r=1.4 cx=96.8 cy=188.8 /><circle class=b5 r=1.4 cx=89.7 cy=204.5 /><circle class=b2 r=2.5 cx=130.5 cy=259.3 /><circle class=b5 r=1.4 cx=90.5 cy=197.6 /><circle class=b2 r=2.5 cx=84 cy=246.6 /><circle class=b4 r=1.85 cx=99.3 cy=225.5 /><circle class=b2 r=2.5 cx=123.7 cy=218.5 /><circle class=b5 r=1.4 cx=76.3 cy=189.5 /><circle class=b4 r=1.85 cx=116.7 cy=159.4 /><circle class=b5 r=1.4 cx=80.3 cy=203.5 /><circle class=b2 r=2.5 cx=105.8 cy=238 /><circle class=b5 r=1.4 cx=101.6 cy=196 /><circle class=b2 r=2.5 cx=73.5 cy=223.7 /><circle class=b4 r=1.85 cx=85.4 cy=211.6 /><circle class=b5 r=1.4 cx=142.5 cy=195.8 /><circle class=b4 r=1.85 cx=77.7 cy=213.5 /><circle class=b5 r=1.4 cx=87.3 cy=197.4 /><circle class=b2 r=2.5 cx=61.9 cy=209 /><circle class=b4 r=1.85 cx=98.4 cy=220.8 /><circle class=b5 r=1.4 cx=96.9 cy=217.4 /><circle class=b2 r=2.5 cx=54 cy=223.5 /><circle class=b1 r=2.8 cx=99.3 cy=267.4 /><circle class=b2 r=2.5 cx=140.1 cy=218.1 /><circle class=b1 r=2.8 cx=138.5 cy=221.6 /><circle class=b1 r=2.8 cx=111.6 cy=213 /><circle class=b4 r=1.85 cx=192.6 cy=175.7 /><circle class=b4 r=1.85 cx=83.7 cy=218.6 /><circle class=b4 r=1.85 cx=80 cy=214.8 /><circle class=b4 r=1.85 cx=129.3 cy=207 /><circle class=b2 r=2.5 cx=121 cy=268.5 /><circle class=b5 r=1.4 cx=104.4 cy=186.6 /><circle class=b4 r=1.85 cx=151.8 cy=172.4 /><circle class=b5 r=1.4 cx=155 cy=174.5 /><circle class=b5 r=1.4 cx=131.5 cy=176.4 /><circle class=b2 r=2.5 cx=64.4 cy=218.8 /><circle class=b4 r=1.85 cx=115.4 cy=207.8 /><circle class=b1 r=2.8 cx=122.9 cy=233.1 /><circle class=b5 r=1.4 cx=124.7 cy=182.1 /><circle class=b2 r=2.5 cx=85.8 cy=244.6 /><circle class=b4 r=1.85 cx=97 cy=227.8 /><circle class=b4 r=1.85 cx=85.4 cy=215.5 /><circle class=b4 r=1.85 cx=97.7 cy=214 /><circle class=b5 r=1.4 cx=157.1 cy=171.2 /><circle class=b4 r=1.85 cx=182.6 cy=197.2 /><circle class=b4 r=1.85 cx=177.3 cy=181.5 /><circle class=b2 r=2.5 cx=103.3 cy=134.9 /><circle class=b4 r=1.85 cx=72.1 cy=199.5 /><circle class=b2 r=2.5 cx=123.6 cy=263.1 /><circle class=b2 r=2.5 cx=58.9 cy=232 /><circle class=b2 r=2.5 cx=115.4 cy=213.4 /><circle class=b2 r=2.5 cx=58.1 cy=213.1 /><circle class=b4 r=1.85 cx=119.8 cy=182.9 /><circle class=b1 r=2.8 cx=144.3 cy=229.7 /><circle class=b2 r=2.5 cx=115.8 cy=213.5 /><circle class=b4 r=1.85 cx=80.6 cy=193.4 /><circle class=b4 r=1.85 cx=149.5 cy=176 /><circle class=b2 r=2.5 cx=113 cy=235.3 /><circle class=b5 r=1.4 cx=151.9 cy=121 /><circle class=b5 r=1.4 cx=102.1 cy=215.5 /><circle class=b4 r=1.85 cx=119.3 cy=206.2 /><circle class=b4 r=1.85 cx=109.1 cy=191.5 /><circle class=b5 r=1.4 cx=82.1 cy=213.5 /><circle class=b5 r=1.4 cx=78.7 cy=196.3 /><circle class=b5 r=1.4 cx=96 cy=208.2 /><circle class=b4 r=1.85 cx=100.8 cy=177.6 /><circle class=b2 r=2.5 cx=101.8 cy=140.8 /><circle class=b4 r=1.85 cx=99 cy=211.1 /><circle class=b2 r=2.5 cx=109 cy=228.7 /><circle class=b5 r=1.4 cx=187 cy=144.2 /><circle class=b1 r=2.8 cx=130.1 cy=263.7 /><circle class=b2 r=2.5 cx=195 cy=230.8 /><circle class=b1 r=2.8 cx=131.3 cy=224.2 /><circle class=b2 r=2.5 cx=43.6 cy=209.4 /><circle class=b1 r=2.8 cx=143 cy=232.5 /><circle class=b2 r=2.5 cx=61.8 cy=150.1 /><circle class=b2 r=2.5 cx=110 cy=216.8 /><circle class=b5 r=1.4 cx=185.3 cy=166.3 /><circle class=b2 r=2.5 cx=95.4 cy=141 /><circle class=b1 r=2.8 cx=24.6 cy=146.4 /><circle class=b2 r=2.5 cx=133.6 cy=225.8 /><circle class=b1 r=2.8 cx=14.3 cy=232.3 /><circle class=b2 r=2.5 cx=121 cy=227.5 /><circle class=b5 r=1.4 cx=182.7 cy=137.6 /><circle class=b4 r=1.85 cx=98.3 cy=211.5 /><circle class=b4 r=1.85 cx=84.6 cy=206.7 /><circle class=b2 r=2.5 cx=58.2 cy=212.7 /><circle class=b5 r=1.4 cx=100.1 cy=194 /><circle class=b4 r=1.85 cx=78.8 cy=217.3 /><circle class=b5 r=1.4 cx=104 cy=182 /><circle class=b2 r=2.5 cx=118.6 cy=231.9 /><circle class=b4 r=1.85 cx=78.1 cy=215.8 /><circle class=b5 r=1.4 cx=109.6 cy=197.3 /><circle class=b5 r=1.4 cx=100 cy=199.4 /><circle class=b1 r=2.8 cx=13.5 cy=232.8 /><circle class=b2 r=2.5 cx=44.7 cy=222.8 /><circle class=b5 r=1.4 cx=99.4 cy=200.9 /><circle class=b5 r=1.4 cx=139.3 cy=188.5 /><circle class=b1 r=2.8 cx=122.2 cy=265 /><circle class=b5 r=1.4 cx=83.3 cy=200.5 /><circle class=b5 r=1.4 cx=89.5 cy=224.3 /><circle class=b1 r=2.8 cx=116.4 cy=234.5 /><circle class=b1 r=2.8 cx=125.9 cy=222.9 /><circle class=b5 r=1.4 cx=88.4 cy=195.3 /><circle class=b5 r=1.4 cx=173.8 cy=181.5 /><circle class=b5 r=1.4 cx=131 cy=166.2 /><circle class=b5 r=1.4 cx=153.7 cy=159.2 /><circle class=b1 r=2.8 cx=111.7 cy=256.5 /><circle class=b5 r=1.4 cx=99.9 cy=196.9 /><circle class=b5 r=1.4 cx=88.5 cy=198.2 /><circle class=b1 r=2.8 cx=73.6 cy=131.6 /><circle class=b5 r=1.4 cx=201.2 cy=157.6 /><circle class=b5 r=1.4 cx=100.8 cy=188.6 /><circle class=b5 r=1.4 cx=73.4 cy=196.6 /><circle class=b5 r=1.4 cx=240.4 cy=209.6 /><circle class=b5 r=1.4 cx=82.2 cy=212 /><circle class=b5 r=1.4 cx=96.3 cy=209.2 /><circle class=b1 r=2.8 cx=32.2 cy=153.7 /><circle class=b1 r=2.8 cx=124.6 cy=250.2 /><circle class=b5 r=1.4 cx=96.8 cy=223.8 /><circle class=b5 r=1.4 cx=88 cy=199.2 /><circle class=b5 r=1.4 cx=136.5 cy=177.2 /><circle class=b5 r=1.4 cx=106.3 cy=181.3 /><circle class=b5 r=1.4 cx=136.9 cy=197.6 /><circle class=b5 r=1.4 cx=96.5 cy=184.2 /><circle class=b5 r=1.4 cx=83.1 cy=189.9 /><circle class=b1 r=2.8 cx=131.4 cy=222.4 /><circle class=b5 r=1.4 cx=106.2 cy=194.5 /><circle class=b5 r=1.4 cx=99.3 cy=194.5 /><circle class=b5 r=1.4 cx=104.5 cy=198.7 /><circle class=b1 r=2.8 cx=128.9 cy=266 /><circle class=b1 r=2.8 cx=130.9 cy=253.3 /><circle class=b5 r=1.4 cx=142.6 cy=127.9 /><circle class=b5 r=1.4 cx=132.9 cy=178.8 /><circle class=b5 r=1.4 cx=97 cy=188.8 /><circle class=b1 r=2.8 cx=121.4 cy=231.5 /><circle class=b5 r=1.4 cx=138.8 cy=189.1 /><circle class=b1 r=2.8 cx=110.8 cy=268 /><circle class=b5 r=1.4 cx=132.9 cy=175.1 /><circle class=b5 r=1.4 cx=94.4 cy=200.7 /><circle class=b5 r=1.4 cx=101.5 cy=175.7 /><circle class=b5 r=1.4 cx=97.6 cy=177.3 /><circle class=b5 r=1.4 cx=104.2 cy=199.4 /><circle class=b5 r=1.4 cx=100.4 cy=187.9 /><circle class=b5 r=1.4 cx=109.4 cy=194.5 /><circle class=b5 r=1.4 cx=85.6 cy=203.7 /><circle class=b5 r=1.4 cx=132.9 cy=155.2 /><circle class=b5 r=1.4 cx=84.6 cy=202.1 /><circle class=b5 r=1.4 cx=119.5 cy=185.3 /><circle class=b5 r=1.4 cx=160 cy=176.7 /><circle class=b5 r=1.4 cx=164.4 cy=164.1 /><circle class=b5 r=1.4 cx=99.7 cy=181.8 /><circle class=b1 r=2.8 cx=125 cy=257.4 /><circle class=b1 r=2.8 cx=82.5 cy=250.3 /><circle class=b5 r=1.4 cx=85.6 cy=186.6 /><circle class=b5 r=1.4 cx=75.1 cy=189.1 /><circle class=b5 r=1.4 cx=109.9 cy=192.1 /><circle class=b5 r=1.4 cx=165.9 cy=171.3 /><circle class=b5 r=1.4 cx=166.3 cy=173.1 /><circle class=b1 r=2.8 cx=31 cy=220 /><circle class=b1 r=2.8 cx=127.7 cy=227 /><circle class=b5 r=1.4 cx=195.7 cy=172.7 /><circle class=b5 r=1.4 cx=103.7 cy=196 /><circle class=b1 r=2.8 cx=116.6 cy=248.7 /><circle class=b5 r=1.4 cx=84 cy=201.8 /><circle class=b1 r=2.8 cx=21.6 cy=213.1 /><circle class=b1 r=2.8 cx=119.9 cy=236.9 /><circle class=b5 r=1.4 cx=91.6 cy=193 /><circle class=b5 r=1.4 cx=91.2 cy=189 /><circle class=b5 r=1.4 cx=80.1 cy=185.8 /><circle class=b5 r=1.4 cx=87.4 cy=198.9 /><circle class=b1 r=2.8 cx=170.2 cy=270.7 /><circle class=b1 r=2.8 cx=144.5 cy=233 /><circle class=b5 r=1.4 cx=84.8 cy=196.9 /><circle class=b5 r=1.4 cx=104 cy=199.4 /><circle class=b1 r=2.8 cx=119.3 cy=235.2 /><circle class=b5 r=1.4 cx=97.1 cy=208.1 /><circle class=b1 r=2.8 cx=15.7 cy=233.5 /><circle class=b5 r=1.4 cx=184.7 cy=166.4 /><circle class=b5 r=1.4 cx=117.7 cy=198.7 /><circle class=b5 r=1.4 cx=76 cy=184.4 /><circle class=b5 r=1.4 cx=104.5 cy=199.7 /><circle class=b5 r=1.4 cx=72 cy=198.9 /><circle class=b5 r=1.4 cx=91.2 cy=183.3 /><circle class=b5 r=1.4 cx=106.2 cy=200.9 /><circle class=b5 r=1.4 cx=196 cy=185.3 /><circle class=b5 r=1.4 cx=109.2 cy=194.7 /><circle class=b5 r=1.4 cx=90.1 cy=214.8 /><circle class=b5 r=1.4 cx=100.2 cy=202.8 /><circle class=b5 r=1.4 cx=132.4 cy=155 /><circle class=b5 r=1.4 cx=120 cy=186.8 /><circle class=b5 r=1.4 cx=88.6 cy=198.1 /><circle class=b5 r=1.4 cx=110.5 cy=191.6 /><circle class=b1 r=2.8 cx=84.9 cy=145.2 /><circle class=b5 r=1.4 cx=89.6 cy=198.9 /><circle class=b1 r=2.8 cx=158.1 cy=271.5 /><circle class=b5 r=1.4 cx=171 cy=173.5 /><circle class=b5 r=1.4 cx=143.3 cy=134.6 /><circle class=b5 r=1.4 cx=69.6 cy=196.7 /><circle class=b1 r=2.8 cx=117.9 cy=222.2 /><circle class=b1 r=2.8 cx=122.8 cy=232.4 /><circle class=b5 r=1.4 cx=72.3 cy=198.2 /><circle class=b5 r=1.4 cx=117.9 cy=202.1 /><circle class=b5 r=1.4 cx=113 cy=184.2 /><circle class=b5 r=1.4 cx=111.1 cy=184.3 /><circle class=b1 r=2.8 cx=139.9 cy=225.2 /><circle class=b5 r=1.4 cx=188.3 cy=165.5 /><circle class=b5 r=1.4 cx=101.4 cy=183.3 /><circle class=b5 r=1.4 cx=109.5 cy=191.5 /><circle class=b1 r=2.8 cx=132 cy=264.4 /><circle class=b5 r=1.4 cx=111.3 cy=201 /><circle class=b5 r=1.4 cx=109.5 cy=194 /><circle class=b5 r=1.4 cx=96.7 cy=180.9 /><circle class=b1 r=2.8 cx=121.9 cy=217.3 /><circle class=b1 r=2.8 cx=139 cy=227.6 /><circle class=b1 r=2.8 cx=143.3 cy=229.7 /><circle class=b1 r=2.8 cx=120.3 cy=236.1 /><circle class=b5 r=1.4 cx=89 cy=196 /><circle class=b5 r=1.4 cx=83.8 cy=197.9 /><circle class=b1 r=2.8 cx=82.7 cy=134.5 /><circle class=b5 r=1.4 cx=90.1 cy=195.8 /><circle class=b5 r=1.4 cx=183.1 cy=137.8 /><circle class=b1 r=2.8 cx=123.9 cy=256.9 /><circle class=b5 r=1.4 cx=99.2 cy=195.2 /><circle class=b1 r=2.8 cx=22.9 cy=212.4 /><circle class=b1 r=2.8 cx=122.3 cy=216.9 /><circle class=b5 r=1.4 cx=75.8 cy=189.8 /><circle class=b1 r=2.8 cx=166.7 cy=240.5 /><circle class=b5 r=1.4 cx=159 cy=170 /><circle class=b5 r=1.4 cx=111.3 cy=201.3 /><circle class=b5 r=1.4 cx=103.6 cy=199.7 /><circle class=b1 r=2.8 cx=126.9 cy=227.2 /><circle class=b5 r=1.4 cx=133.4 cy=207 /><circle class=b1 r=2.8 cx=120.2 cy=250.9 /><circle class=b1 r=2.8 cx=67.9 cy=149.8 /><circle class=b5 r=1.4 cx=124.6 cy=185 /><circle class=b5 r=1.4 cx=109.8 cy=191.6 /><circle class=b1 r=2.8 cx=126 cy=221.9 /><circle class=b1 r=2.8 cx=146.1 cy=213.2 /><circle class=b1 r=2.8 cx=28 cy=236 /><circle class=b5 r=1.4 cx=98 cy=200.2 /><circle class=b1 r=2.8 cx=116 cy=218.4 /><circle class=b5 r=1.4 cx=136.7 cy=142.6 /><circle class=b1 r=2.8 cx=103.5 cy=134.7 /><circle class=b5 r=1.4 cx=150 cy=188.1 /><circle class=b5 r=1.4 cx=116.2 cy=194.9 /><circle class=b5 r=1.4 cx=161.1 cy=176.1 /><circle class=b5 r=1.4 cx=120.2 cy=196.3 /><circle class=b5 r=1.4 cx=88.3 cy=199.7 /><circle class=b5 r=1.4 cx=201 cy=157.7 /><circle class=b5 r=1.4 cx=77 cy=187.5 /><circle class=b1 r=2.8 cx=165.6 cy=281.6 /><circle class=b5 r=1.4 cx=73.3 cy=198.1 /><circle class=b5 r=1.4 cx=104.4 cy=199.3 /><circle class=b1 r=2.8 cx=174 cy=246.8 /><circle class=b1 r=2.8 cx=105.7 cy=270.6 /><circle class=b1 r=2.8 cx=121.9 cy=218.1 /><circle class=b1 r=2.8 cx=81.2 cy=157.8 /><circle class=b1 r=2.8 cx=106.5 cy=260.8 /><circle class=b1 r=2.8 cx=227 cy=289.3 /><circle class=b1 r=2.8 cx=45.1 cy=208.1 /><circle class=b1 r=2.8 cx=129.8 cy=239.6 /><circle class=b1 r=2.8 cx=124.5 cy=240.3 /><circle class=b1 r=2.8 cx=41.3 cy=185.1 /><circle class=b1 r=2.8 cx=127.3 cy=226.7 /><circle class=b1 r=2.8 cx=61.7 cy=149.6 /><circle class=b1 r=2.8 cx=157.9 cy=257.8 /><circle class=b1 r=2.8 cx=106.7 cy=261.8 /><circle class=b1 r=2.8 cx=126.7 cy=256.3 /><circle class=b1 r=2.8 cx=228.2 cy=289 /><circle class=b1 r=2.8 cx=133.1 cy=258.6 /><circle class=b1 r=2.8 cx=151.3 cy=238.7 /><circle class=b1 r=2.8 cx=45.5 cy=209 /></g>
<use href="#scale"/>
</g>
<text x="370" y="352.3" class="lt" font-size="16.3">Legend</text><circle class="b1" r="2.8" cx="377.7" cy="368.6"/><text x="389.6" y="373.7" font-size="15" xml:space="preserve">2.6000 - 3.8541</text><circle class="b2" r="2.5" cx="377.7" cy="388.3"/><text x="389.6" y="393.4" font-size="15" xml:space="preserve">1.8353 - 2.5999</text><circle class="b3" r="2.2" cx="377.7" cy="408"/><text x="389.6" y="413.1" font-size="15" xml:space="preserve">1.1392 - 1.8352</text><circle class="b4" r="1.85" cx="377.7" cy="427.8"/><text x="389.6" y="432.9" font-size="15" xml:space="preserve">0.5784 - 1.1391</text><circle class="b5" r="1.4" cx="377.7" cy="447.5"/><text x="389.6" y="452.6" font-size="15" xml:space="preserve">0.0006 - 0.5783</text>
<text x="535.5" y="517.1" class="cap">(b) Significance of</text><text x="535.5" y="550.3" class="cap">car ownership</text><text x="535.5" y="583.4" class="cap">for bicycle ownership</text>
<g transform="translate(0 618)">
<use href="#north"/>
<use href="#base"/>
<g class="pt"><circle class=r3 r=2.2 cx=128.9 cy=264.9 /><circle class=r3 r=2.2 cx=199.7 cy=278.5 /><circle class=r3 r=2.2 cx=73.4 cy=196.6 /><circle class=r3 r=2.2 cx=21.6 cy=213.1 /><circle class=r3 r=2.2 cx=110.5 cy=191.6 /><circle class=r3 r=2.2 cx=70.1 cy=251 /><circle class=r3 r=2.2 cx=31.5 cy=239 /><circle class=r3 r=2.2 cx=96.2 cy=200.7 /><circle class=r3 r=2.2 cx=121.3 cy=230.3 /><circle class=r3 r=2.2 cx=129.1 cy=258.2 /><circle class=r3 r=2.2 cx=115.6 cy=257.8 /><circle class=r3 r=2.2 cx=82.9 cy=198.8 /><circle class=r3 r=2.2 cx=87.8 cy=197.7 /><circle class=r3 r=2.2 cx=118.9 cy=209.2 /><circle class=r3 r=2.2 cx=109 cy=209 /><circle class=r3 r=2.2 cx=99.8 cy=220 /><circle class=r3 r=2.2 cx=88.6 cy=198.1 /><circle class=r3 r=2.2 cx=128.9 cy=266 /><circle class=r3 r=2.2 cx=127.3 cy=226.7 /><circle class=r3 r=2.2 cx=88 cy=198.3 /><circle class=r3 r=2.2 cx=138.5 cy=221.6 /><circle class=r3 r=2.2 cx=115.8 cy=234 /><circle class=r3 r=2.2 cx=105.9 cy=210.4 /><circle class=r3 r=2.2 cx=114.9 cy=206.8 /><circle class=r3 r=2.2 cx=84.3 cy=190.1 /><circle class=r3 r=2.2 cx=112.3 cy=236 /><circle class=r3 r=2.2 cx=51.4 cy=202 /><circle class=r3 r=2.2 cx=89.6 cy=204.1 /><circle class=r3 r=2.2 cx=135.2 cy=208 /><circle class=r3 r=2.2 cx=194.4 cy=185.5 /><circle class=r3 r=2.2 cx=84.6 cy=206.7 /><circle class=r3 r=2.2 cx=105.6 cy=216.7 /><circle class=r3 r=2.2 cx=73.5 cy=202.6 /><circle class=r3 r=2.2 cx=127.7 cy=226.7 /><circle class=r3 r=2.2 cx=87.3 cy=197.4 /><circle class=r3 r=2.2 cx=125.3 cy=264.9 /><circle class=r3 r=2.2 cx=52.6 cy=206.3 /><circle class=r3 r=2.2 cx=97.6 cy=210.2 /><circle class=r3 r=2.2 cx=117.5 cy=219.6 /><circle class=r3 r=2.2 cx=91.8 cy=207.3 /><circle class=r3 r=2.2 cx=74.2 cy=200.6 /><circle class=r3 r=2.2 cx=99 cy=211.1 /><circle class=r3 r=2.2 cx=106.4 cy=213.9 /><circle class=r3 r=2.2 cx=110.1 cy=256.8 /><circle class=r3 r=2.2 cx=93.3 cy=210.7 /><circle class=r3 r=2.2 cx=93.1 cy=232.9 /><circle class=r3 r=2.2 cx=150.3 cy=224.4 /><circle class=r3 r=2.2 cx=137.8 cy=208.9 /><circle class=r3 r=2.2 cx=98 cy=203.2 /><circle class=r3 r=2.2 cx=90.9 cy=197.1 /><circle class=r3 r=2.2 cx=95.4 cy=201.5 /><circle class=r3 r=2.2 cx=157.9 cy=257.8 /><circle class=r3 r=2.2 cx=110.1 cy=222.9 /><circle class=r3 r=2.2 cx=128.7 cy=249.6 /><circle class=r3 r=2.2 cx=79.5 cy=193.8 /><circle class=r3 r=2.2 cx=117.2 cy=250.5 /><circle class=r3 r=2.2 cx=109.6 cy=228 /><circle class=r3 r=2.2 cx=94 cy=178.1 /><circle class=r3 r=2.2 cx=88.7 cy=210 /><circle class=r3 r=2.2 cx=64.6 cy=198.6 /><circle class=r3 r=2.2 cx=100 cy=199.4 /><circle class=r3 r=2.2 cx=121.2 cy=263.5 /><circle class=r3 r=2.2 cx=123.9 cy=256.9 /><circle class=r3 r=2.2 cx=130.1 cy=263.7 /><circle class=r3 r=2.2 cx=107.6 cy=261.1 /><circle class=r3 r=2.2 cx=127.5 cy=256.7 /><circle class=r3 r=2.2 cx=107.8 cy=214.3 /><circle class=r3 r=2.2 cx=114.6 cy=203.8 /><circle class=r3 r=2.2 cx=87.2 cy=252.7 /><circle class=r3 r=2.2 cx=197.5 cy=185.8 /><circle class=r3 r=2.2 cx=113 cy=236.6 /><circle class=r3 r=2.2 cx=110 cy=236 /><circle class=r3 r=2.2 cx=111.6 cy=212.3 /><circle class=r3 r=2.2 cx=133.6 cy=225.8 /><circle class=r3 r=2.2 cx=110.9 cy=234.1 /><circle class=r3 r=2.2 cx=57.1 cy=199.4 /><circle class=r3 r=2.2 cx=135.2 cy=262.1 /><circle class=r3 r=2.2 cx=122.4 cy=256.5 /><circle class=r3 r=2.2 cx=93.6 cy=206.8 /><circle class=r3 r=2.2 cx=79 cy=204.2 /><circle class=r3 r=2.2 cx=78.7 cy=196.3 /><circle class=r3 r=2.2 cx=165.4 cy=268.8 /><circle class=r3 r=2.2 cx=132 cy=246.6 /><circle class=r3 r=2.2 cx=113.3 cy=236.8 /><circle class=r3 r=2.2 cx=107.6 cy=259.6 /><circle class=r3 r=2.2 cx=68.8 cy=202.6 /><circle class=r4 r=1.85 cx=58.8 cy=175.6 /><circle class=r3 r=2.2 cx=105.5 cy=236.8 /><circle class=r4 r=1.85 cx=103.7 cy=196 /><circle class=r4 r=1.85 cx=96.7 cy=189.3 /><circle class=r3 r=2.2 cx=112.9 cy=228.5 /><circle class=r3 r=2.2 cx=72.1 cy=195.8 /><circle class=r2 r=2.5 cx=79.1 cy=208.3 /><circle class=r3 r=2.2 cx=120 cy=250.5 /><circle class=r2 r=2.5 cx=68.4 cy=211.8 /><circle class=r2 r=2.5 cx=80 cy=214.8 /><circle class=r3 r=2.2 cx=96 cy=208.2 /><circle class=r3 r=2.2 cx=98 cy=200.2 /><circle class=r3 r=2.2 cx=111.3 cy=266.5 /><circle class=r4 r=1.85 cx=93.9 cy=200.7 /><circle class=r4 r=1.85 cx=112.1 cy=252.7 /><circle class=r3 r=2.2 cx=115.8 cy=213.5 /><circle class=r3 r=2.2 cx=102.1 cy=228 /><circle class=r4 r=1.85 cx=138.4 cy=206.2 /><circle class=r4 r=1.85 cx=109 cy=209.2 /><circle class=r3 r=2.2 cx=81.1 cy=204.1 /><circle class=r4 r=1.85 cx=101.6 cy=181.9 /><circle class=r2 r=2.5 cx=228.2 cy=289 /><circle class=r4 r=1.85 cx=142 cy=197.3 /><circle class=r3 r=2.2 cx=80.5 cy=257.1 /><circle class=r3 r=2.2 cx=89 cy=207.4 /><circle class=r2 r=2.5 cx=68.9 cy=207.1 /><circle class=r3 r=2.2 cx=95.5 cy=244.7 /><circle class=r3 r=2.2 cx=71.6 cy=197.7 /><circle class=r2 r=2.5 cx=85.6 cy=203.7 /><circle class=r3 r=2.2 cx=106.5 cy=223.5 /><circle class=r3 r=2.2 cx=88.5 cy=198.2 /><circle class=r4 r=1.85 cx=82.6 cy=185.6 /><circle class=r4 r=1.85 cx=142.3 cy=218.4 /><circle class=r3 r=2.2 cx=113.4 cy=228.2 /><circle class=r3 r=2.2 cx=125.9 cy=263.7 /><circle class=r3 r=2.2 cx=111.4 cy=234.3 /><circle class=r2 r=2.5 cx=76.9 cy=211.6 /><circle class=r3 r=2.2 cx=72.1 cy=199.5 /><circle class=r3 r=2.2 cx=58 cy=193.5 /><circle class=r2 r=2.5 cx=72.4 cy=238.5 /><circle class=r3 r=2.2 cx=105.8 cy=216.1 /><circle class=r4 r=1.85 cx=122.1 cy=217.9 /><circle class=r4 r=1.85 cx=129.2 cy=213 /><circle class=r3 r=2.2 cx=100 cy=206.3 /><circle class=r4 r=1.85 cx=79.4 cy=170 /><circle class=r3 r=2.2 cx=99.9 cy=188 /><circle class=r2 r=2.5 cx=88.9 cy=239.2 /><circle class=r3 r=2.2 cx=98.5 cy=264.6 /><circle class=r3 r=2.2 cx=123.1 cy=256.6 /><circle class=r2 r=2.5 cx=93.6 cy=228.1 /><circle class=r3 r=2.2 cx=95.5 cy=202.2 /><circle class=r3 r=2.2 cx=114.1 cy=231.5 /><circle class=r2 r=2.5 cx=90.7 cy=214.1 /><circle class=r3 r=2.2 cx=119.9 cy=249.6 /><circle class=r3 r=2.2 cx=99.6 cy=206 /><circle class=r2 r=2.5 cx=91.6 cy=223 /><circle class=r2 r=2.5 cx=75.6 cy=211.4 /><circle class=r3 r=2.2 cx=94.4 cy=247.1 /><circle class=r4 r=1.85 cx=143.5 cy=195.5 /><circle class=r4 r=1.85 cx=191.3 cy=165.1 /><circle class=r2 r=2.5 cx=93.2 cy=232.7 /><circle class=r3 r=2.2 cx=124.4 cy=196.9 /><circle class=r2 r=2.5 cx=67.4 cy=208.3 /><circle class=r3 r=2.2 cx=76.3 cy=189.5 /><circle class=r3 r=2.2 cx=160.8 cy=264.6 /><circle class=r3 r=2.2 cx=124.6 cy=250.2 /><circle class=r3 r=2.2 cx=108.5 cy=223.3 /><circle class=r3 r=2.2 cx=111.4 cy=256.8 /><circle class=r3 r=2.2 cx=120.2 cy=250.9 /><circle class=r3 r=2.2 cx=144.5 cy=233 /><circle class=r2 r=2.5 cx=72.3 cy=243.5 /><circle class=r2 r=2.5 cx=79.8 cy=209.7 /><circle class=r2 r=2.5 cx=82.1 cy=210.1 /><circle class=r3 r=2.2 cx=96.1 cy=201.2 /><circle class=r3 r=2.2 cx=84.2 cy=190.4 /><circle class=r3 r=2.2 cx=89.7 cy=199.9 /><circle class=r4 r=1.85 cx=125.3 cy=204.3 /><circle class=r3 r=2.2 cx=118.2 cy=211.4 /><circle class=r2 r=2.5 cx=93.6 cy=250.5 /><circle class=r2 r=2.5 cx=64.9 cy=208.2 /><circle class=r2 r=2.5 cx=75.8 cy=211.8 /><circle class=r2 r=2.5 cx=62.9 cy=208.8 /><circle class=r3 r=2.2 cx=135.2 cy=261.8 /><circle class=r3 r=2.2 cx=93.3 cy=198.4 /><circle class=r4 r=1.85 cx=107 cy=206.8 /><circle class=r3 r=2.2 cx=71.9 cy=201.4 /><circle class=r4 r=1.85 cx=57.6 cy=186.6 /><circle class=r4 r=1.85 cx=133.9 cy=226.5 /><circle class=r3 r=2.2 cx=113.9 cy=227.2 /><circle class=r2 r=2.5 cx=183.8 cy=205.8 /><circle class=r4 r=1.85 cx=100.8 cy=187.7 /><circle class=r2 r=2.5 cx=76 cy=211.7 /><circle class=r4 r=1.85 cx=161.1 cy=176.1 /><circle class=r4 r=1.85 cx=125.1 cy=203.4 /><circle class=r2 r=2.5 cx=51.2 cy=202.8 /><circle class=r3 r=2.2 cx=126.7 cy=256.3 /><circle class=r3 r=2.2 cx=90 cy=205.7 /><circle class=r3 r=2.2 cx=93.4 cy=192.7 /><circle class=r3 r=2.2 cx=133.1 cy=258.6 /><circle class=r3 r=2.2 cx=89.7 cy=204.5 /><circle class=r3 r=2.2 cx=125.2 cy=266.5 /><circle class=r3 r=2.2 cx=109 cy=232.5 /><circle class=r4 r=1.85 cx=56.9 cy=191.7 /><circle class=r2 r=2.5 cx=86 cy=222.7 /><circle class=r2 r=2.5 cx=89.2 cy=216.1 /><circle class=r2 r=2.5 cx=97.7 cy=214 /><circle class=r3 r=2.2 cx=111.2 cy=212.6 /><circle class=r2 r=2.5 cx=96 cy=232.1 /><circle class=r3 r=2.2 cx=108.5 cy=237 /><circle class=r3 r=2.2 cx=132.1 cy=208.7 /><circle class=r2 r=2.5 cx=81.9 cy=210.3 /><circle class=r3 r=2.2 cx=129.8 cy=239.6 /><circle class=r2 r=2.5 cx=32.5 cy=229 /><circle class=r2 r=2.5 cx=88 cy=207.1 /><circle class=r2 r=2.5 cx=70.1 cy=213.7 /><circle class=r2 r=2.5 cx=66.6 cy=243 /><circle class=r4 r=1.85 cx=64 cy=179.8 /><circle class=r2 r=2.5 cx=118.4 cy=254.5 /><circle class=r2 r=2.5 cx=66.5 cy=209.4 /><circle class=r3 r=2.2 cx=200.1 cy=168.3 /><circle class=r2 r=2.5 cx=69.7 cy=235.3 /><circle class=r2 r=2.5 cx=93.3 cy=232.1 /><circle class=r4 r=1.85 cx=58.8 cy=187.4 /><circle class=r3 r=2.2 cx=122.3 cy=216.9 /><circle class=r3 r=2.2 cx=82.2 cy=196.6 /><circle class=r3 r=2.2 cx=88 cy=199.2 /><circle class=r4 r=1.85 cx=57.4 cy=191.9 /><circle class=r3 r=2.2 cx=100.6 cy=247.3 /><circle class=r3 r=2.2 cx=90.3 cy=199.6 /><circle class=r4 r=1.85 cx=123.7 cy=218.5 /><circle class=r4 r=1.85 cx=129.7 cy=208.9 /><circle class=r3 r=2.2 cx=62.7 cy=201.9 /><circle class=r4 r=1.85 cx=115.3 cy=223.6 /><circle class=r3 r=2.2 cx=86.5 cy=203.9 /><circle class=r4 r=1.85 cx=148.4 cy=187.7 /><circle class=r4 r=1.85 cx=84.4 cy=188.9 /><circle class=r4 r=1.85 cx=110.7 cy=174.5 /><circle class=r2 r=2.5 cx=96.3 cy=225.3 /><circle class=r3 r=2.2 cx=126 cy=223 /><circle class=r3 r=2.2 cx=124.7 cy=228.7 /><circle class=r4 r=1.85 cx=147.9 cy=185.2 /><circle class=r4 r=1.85 cx=125 cy=184.2 /><circle class=r3 r=2.2 cx=127.3 cy=226.5 /><circle class=r2 r=2.5 cx=102.1 cy=215.5 /><circle class=r3 r=2.2 cx=110.5 cy=229.7 /><circle class=r3 r=2.2 cx=129.8 cy=241.1 /><circle class=r4 r=1.85 cx=64.9 cy=189.4 /><circle class=r3 r=2.2 cx=170.4 cy=217 /><circle class=r2 r=2.5 cx=77.7 cy=234.7 /><circle class=r3 r=2.2 cx=109.9 cy=223.1 /><circle class=r3 r=2.2 cx=94.9 cy=233.2 /><circle class=r2 r=2.5 cx=103.1 cy=221.5 /><circle class=r2 r=2.5 cx=100.4 cy=219.5 /><circle class=r4 r=1.85 cx=103.2 cy=198.8 /><circle class=r4 r=1.85 cx=101.5 cy=182.6 /><circle class=r4 r=1.85 cx=120.7 cy=209.5 /><circle class=r4 r=1.85 cx=85.4 cy=178.4 /><circle class=r4 r=1.85 cx=120.9 cy=184.5 /><circle class=r4 r=1.85 cx=65.2 cy=184.2 /><circle class=r4 r=1.85 cx=146.1 cy=213.2 /><circle class=r4 r=1.85 cx=101.5 cy=175.7 /><circle class=r2 r=2.5 cx=68.2 cy=204.6 /><circle class=r3 r=2.2 cx=128.2 cy=259.4 /><circle class=r4 r=1.85 cx=120.9 cy=196.2 /><circle class=r2 r=2.5 cx=68.5 cy=230.3 /><circle class=r3 r=2.2 cx=68.2 cy=202.9 /><circle class=r4 r=1.85 cx=119.5 cy=187.4 /><circle class=r2 r=2.5 cx=108.7 cy=256.3 /><circle class=r2 r=2.5 cx=69.6 cy=230.7 /><circle class=r2 r=2.5 cx=72.6 cy=213.9 /><circle class=r2 r=2.5 cx=93.3 cy=211.7 /><circle class=r3 r=2.2 cx=125.8 cy=226.2 /><circle class=r3 r=2.2 cx=83.9 cy=246 /><circle class=r4 r=1.85 cx=84.6 cy=182.6 /><circle class=r2 r=2.5 cx=70.8 cy=212.1 /><circle class=r3 r=2.2 cx=79.3 cy=208 /><circle class=r3 r=2.2 cx=97.9 cy=222 /><circle class=r4 r=1.85 cx=112.7 cy=207 /><circle class=r3 r=2.2 cx=107.1 cy=214.8 /><circle class=r3 r=2.2 cx=94.4 cy=200.7 /><circle class=r4 r=1.85 cx=151 cy=220.4 /><circle class=r2 r=2.5 cx=81 cy=203.8 /><circle class=r3 r=2.2 cx=124.9 cy=265.8 /><circle class=r3 r=2.2 cx=107.2 cy=216.9 /><circle class=r3 r=2.2 cx=108.2 cy=232.9 /><circle class=r4 r=1.85 cx=117.6 cy=211.7 /><circle class=r3 r=2.2 cx=64.1 cy=193.6 /><circle class=r3 r=2.2 cx=130.4 cy=245.1 /><circle class=r2 r=2.5 cx=69 cy=206.9 /><circle class=r3 r=2.2 cx=84.9 cy=197.8 /><circle class=r3 r=2.2 cx=131.6 cy=212.8 /><circle class=r3 r=2.2 cx=83.8 cy=193.3 /><circle class=r2 r=2.5 cx=64.3 cy=225.5 /><circle class=r3 r=2.2 cx=112.9 cy=228.9 /><circle class=r2 r=2.5 cx=94.4 cy=244.8 /><circle class=r3 r=2.2 cx=65.4 cy=196.5 /><circle class=r3 r=2.2 cx=95.7 cy=230.9 /><circle class=r4 r=1.85 cx=123.3 cy=203.1 /><circle class=r4 r=1.85 cx=135.6 cy=204.7 /><circle class=r3 r=2.2 cx=64.6 cy=201.6 /><circle class=r2 r=2.5 cx=162 cy=214.9 /><circle class=r2 r=2.5 cx=107.2 cy=234.9 /><circle class=r2 r=2.5 cx=97.5 cy=229.7 /><circle class=r4 r=1.85 cx=101.4 cy=183.3 /><circle class=r3 r=2.2 cx=35 cy=235 /><circle class=r3 r=2.2 cx=195 cy=230.8 /><circle class=r3 r=2.2 cx=130.6 cy=261.3 /><circle class=r3 r=2.2 cx=109.8 cy=222.3 /><circle class=r3 r=2.2 cx=119.8 cy=236.7 /><circle class=r2 r=2.5 cx=84.8 cy=207.1 /><circle class=r3 r=2.2 cx=106.6 cy=259.9 /><circle class=r3 r=2.2 cx=111.6 cy=213 /><circle class=r4 r=1.85 cx=136.5 cy=177.2 /><circle class=r4 r=1.85 cx=89.6 cy=187.4 /><circle class=r4 r=1.85 cx=129.5 cy=198.7 /><circle class=r2 r=2.5 cx=80.4 cy=214 /><circle class=r3 r=2.2 cx=118.6 cy=231.9 /><circle class=r4 r=1.85 cx=170.4 cy=270.6 /><circle class=r3 r=2.2 cx=103.5 cy=228.6 /><circle class=r2 r=2.5 cx=69.5 cy=205.9 /><circle class=r4 r=1.85 cx=105.7 cy=207.5 /><circle class=r2 r=2.5 cx=78.1 cy=215.8 /><circle class=r3 r=2.2 cx=87.4 cy=198.9 /><circle class=r4 r=1.85 cx=123.3 cy=174.6 /><circle class=r3 r=2.2 cx=85.3 cy=185.2 /><circle class=r4 r=1.85 cx=100.9 cy=206.6 /><circle class=r2 r=2.5 cx=111 cy=267.7 /><circle class=r2 r=2.5 cx=70.6 cy=247.9 /><circle class=r3 r=2.2 cx=27.5 cy=229.5 /><circle class=r3 r=2.2 cx=109.4 cy=217.6 /><circle class=r3 r=2.2 cx=102.9 cy=219.5 /><circle class=r3 r=2.2 cx=89.7 cy=207.5 /><circle class=r3 r=2.2 cx=147.7 cy=236.1 /><circle class=r2 r=2.5 cx=86.2 cy=219.6 /><circle class=r3 r=2.2 cx=105.8 cy=236.5 /><circle class=r3 r=2.2 cx=157.8 cy=272.4 /><circle class=r4 r=1.85 cx=83.1 cy=186.4 /><circle class=r3 r=2.2 cx=110.3 cy=254.7 /><circle class=r2 r=2.5 cx=44.3 cy=221.6 /><circle class=r4 r=1.85 cx=83.6 cy=176.2 /><circle class=r3 r=2.2 cx=104.2 cy=206.8 /><circle class=r4 r=1.85 cx=128.9 cy=210.7 /><circle class=r3 r=2.2 cx=96.6 cy=209.2 /><circle class=r2 r=2.5 cx=38.4 cy=224.1 /><circle class=r2 r=2.5 cx=70.3 cy=247.1 /><circle class=r3 r=2.2 cx=103.2 cy=211.1 /><circle class=r3 r=2.2 cx=108.7 cy=222.4 /><circle class=r2 r=2.5 cx=94.7 cy=219 /><circle class=r2 r=2.5 cx=96.4 cy=209 /><circle class=r3 r=2.2 cx=85.2 cy=251.7 /><circle class=r2 r=2.5 cx=95.3 cy=218.3 /><circle class=r4 r=1.85 cx=125 cy=189.1 /><circle class=r3 r=2.2 cx=70.3 cy=197.1 /><circle class=r4 r=1.85 cx=111.9 cy=191.9 /><circle class=r4 r=1.85 cx=109.2 cy=187.6 /><circle class=r4 r=1.85 cx=109 cy=174.2 /><circle class=r4 r=1.85 cx=180.1 cy=169.1 /><circle class=r2 r=2.5 cx=23.5 cy=214.3 /><circle class=r3 r=2.2 cx=94.2 cy=203.8 /><circle class=r3 r=2.2 cx=112.1 cy=210.3 /><circle class=r3 r=2.2 cx=126 cy=221.9 /><circle class=r4 r=1.85 cx=104.5 cy=198.7 /><circle class=r4 r=1.85 cx=138.8 cy=224.3 /><circle class=r4 r=1.85 cx=193.8 cy=176.1 /><circle class=r3 r=2.2 cx=93.3 cy=206.9 /><circle class=r3 r=2.2 cx=108.7 cy=209 /><circle class=r3 r=2.2 cx=98.8 cy=197.8 /><circle class=r3 r=2.2 cx=129.3 cy=228.1 /><circle class=r2 r=2.5 cx=83 cy=229.2 /><circle class=r2 r=2.5 cx=178.7 cy=214.4 /><circle class=r3 r=2.2 cx=134.7 cy=231.6 /><circle class=r4 r=1.85 cx=99.2 cy=178.3 /><circle class=r2 r=2.5 cx=81.7 cy=209.7 /><circle class=r3 r=2.2 cx=136.3 cy=228.2 /><circle class=r3 r=2.2 cx=98.4 cy=202.1 /><circle class=r3 r=2.2 cx=110 cy=217 /><circle class=r4 r=1.85 cx=98.8 cy=203.8 /><circle class=r2 r=2.5 cx=42.8 cy=209 /><circle class=r2 r=2.5 cx=83.7 cy=226.7 /><circle class=r3 r=2.2 cx=108.4 cy=259.8 /><circle class=r2 r=2.5 cx=88.7 cy=236.4 /><circle class=r4 r=1.85 cx=115.9 cy=193.7 /><circle class=r4 r=1.85 cx=139.9 cy=225.2 /><circle class=r2 r=2.5 cx=165.1 cy=283.8 /><circle class=r3 r=2.2 cx=95.6 cy=208.1 /><circle class=r4 r=1.85 cx=101.8 cy=196 /><circle class=r3 r=2.2 cx=89.3 cy=199.1 /><circle class=r2 r=2.5 cx=83.7 cy=254.8 /><circle class=r4 r=1.85 cx=57.6 cy=191.3 /><circle class=r3 r=2.2 cx=13.5 cy=232.8 /><circle class=r2 r=2.5 cx=73 cy=246.2 /><circle class=r3 r=2.2 cx=140.1 cy=218.1 /><circle class=r4 r=1.85 cx=159.6 cy=185.6 /><circle class=r4 r=1.85 cx=124.6 cy=185 /><circle class=r2 r=2.5 cx=74.8 cy=243.3 /><circle class=r3 r=2.2 cx=94 cy=229.4 /><circle class=r4 r=1.85 cx=113.5 cy=190.3 /><circle class=r4 r=1.85 cx=109.5 cy=191.5 /><circle class=r2 r=2.5 cx=95.1 cy=216 /><circle class=r2 r=2.5 cx=59.2 cy=212.7 /><circle class=r2 r=2.5 cx=75.7 cy=221.7 /><circle class=r4 r=1.85 cx=195.7 cy=172.7 /><circle class=r2 r=2.5 cx=82.7 cy=214.2 /><circle class=r3 r=2.2 cx=95.9 cy=209.7 /><circle class=r3 r=2.2 cx=99 cy=210.9 /><circle class=r4 r=1.85 cx=65.7 cy=186.3 /><circle class=r3 r=2.2 cx=101.3 cy=213.4 /><circle class=r3 r=2.2 cx=189.4 cy=236.9 /><circle class=r2 r=2.5 cx=76.2 cy=211 /><circle class=r4 r=1.85 cx=108.6 cy=191.9 /><circle class=r2 r=2.5 cx=84.6 cy=220.8 /><circle class=r4 r=1.85 cx=84.8 cy=196.9 /><circle class=r4 r=1.85 cx=89 cy=196 /><circle class=r3 r=2.2 cx=182.6 cy=197.2 /><circle class=r2 r=2.5 cx=103.4 cy=233 /><circle class=r3 r=2.2 cx=64.9 cy=206.1 /><circle class=r2 r=2.5 cx=85.2 cy=229.9 /><circle class=r2 r=2.5 cx=69.9 cy=205.5 /><circle class=r3 r=2.2 cx=124 cy=225.3 /><circle class=r2 r=2.5 cx=68.7 cy=203.7 /><circle class=r3 r=2.2 cx=117.8 cy=224.5 /><circle class=r2 r=2.5 cx=77.7 cy=213.5 /><circle class=r3 r=2.2 cx=79.3 cy=196.2 /><circle class=r4 r=1.85 cx=102.5 cy=181.3 /><circle class=r4 r=1.85 cx=130.1 cy=207.5 /><circle class=r3 r=2.2 cx=144.3 cy=229.7 /><circle class=r4 r=1.85 cx=76 cy=184.4 /><circle class=r2 r=2.5 cx=85.4 cy=215.5 /><circle class=r3 r=2.2 cx=111 cy=236.4 /><circle class=r2 r=2.5 cx=93.7 cy=202.7 /><circle class=r4 r=1.85 cx=116.2 cy=202.8 /><circle class=r2 r=2.5 cx=45.9 cy=208.8 /><circle class=r4 r=1.85 cx=190.8 cy=164.8 /><circle class=r3 r=2.2 cx=121 cy=230 /><circle class=r4 r=1.85 cx=95.1 cy=165.8 /><circle class=r3 r=2.2 cx=66.3 cy=204.5 /><circle class=r2 r=2.5 cx=68.5 cy=226.1 /><circle class=r4 r=1.85 cx=118.8 cy=181.2 /><circle class=r4 r=1.85 cx=83.1 cy=189.9 /><circle class=r4 r=1.85 cx=129.3 cy=212.7 /><circle class=r4 r=1.85 cx=115.4 cy=207.8 /><circle class=r3 r=2.2 cx=82.4 cy=195.9 /><circle class=r4 r=1.85 cx=103.5 cy=193.2 /><circle class=r3 r=2.2 cx=116 cy=236.9 /><circle class=r3 r=2.2 cx=108.7 cy=208.1 /><circle class=r3 r=2.2 cx=97.8 cy=213.2 /><circle class=r2 r=2.5 cx=196.4 cy=222.6 /><circle class=r3 r=2.2 cx=132.2 cy=209 /><circle class=r3 r=2.2 cx=130.4 cy=221.6 /><circle class=r3 r=2.2 cx=202.2 cy=182.7 /><circle class=r3 r=2.2 cx=107.1 cy=210.6 /><circle class=r3 r=2.2 cx=121.9 cy=217.3 /><circle class=r3 r=2.2 cx=118.2 cy=214 /><circle class=r2 r=2.5 cx=107.9 cy=260.8 /><circle class=r3 r=2.2 cx=127.5 cy=214.9 /><circle class=r2 r=2.5 cx=55.9 cy=216.1 /><circle class=r2 r=2.5 cx=92.5 cy=218.2 /><circle class=r4 r=1.85 cx=117.7 cy=211.6 /><circle class=r3 r=2.2 cx=80 cy=193.8 /><circle class=r2 r=2.5 cx=169.8 cy=238.7 /><circle class=r5 r=1.4 cx=143.5 cy=131.6 /><circle class=r5 r=1.4 cx=149 cy=154.7 /><circle class=r4 r=1.85 cx=103.5 cy=134.7 /><circle class=r4 r=1.85 cx=101.4 cy=182.8 /><circle class=r2 r=2.5 cx=69.1 cy=206.3 /><circle class=r4 r=1.85 cx=133.9 cy=196.4 /><circle class=r5 r=1.4 cx=35.6 cy=171.4 /><circle class=r3 r=2.2 cx=120.1 cy=249.1 /><circle class=r2 r=2.5 cx=75 cy=216.7 /><circle class=r5 r=1.4 cx=79.7 cy=186.4 /><circle class=r3 r=2.2 cx=83.3 cy=198.2 /><circle class=r5 r=1.4 cx=151.4 cy=156.9 /><circle class=r4 r=1.85 cx=63.7 cy=195.9 /><circle class=r4 r=1.85 cx=80.3 cy=185.6 /><circle class=r4 r=1.85 cx=106.2 cy=200.9 /><circle class=r3 r=2.2 cx=117.5 cy=208.1 /><circle class=r3 r=2.2 cx=83.2 cy=198.4 /><circle class=r2 r=2.5 cx=67.9 cy=208.8 /><circle class=r2 r=2.5 cx=89.5 cy=216.6 /><circle class=r2 r=2.5 cx=84.9 cy=233.3 /><circle class=r5 r=1.4 cx=139.3 cy=188.9 /><circle class=r3 r=2.2 cx=58.7 cy=190.9 /><circle class=r3 r=2.2 cx=15.7 cy=233.5 /><circle class=r4 r=1.85 cx=130 cy=200.5 /><circle class=r3 r=2.2 cx=146.7 cy=237.7 /><circle class=r5 r=1.4 cx=154.2 cy=131.2 /><circle class=r4 r=1.85 cx=94 cy=163.5 /><circle class=r2 r=2.5 cx=103.2 cy=229.2 /><circle class=r3 r=2.2 cx=107 cy=239.7 /><circle class=r2 r=2.5 cx=81.1 cy=213.4 /><circle class=r3 r=2.2 cx=98.3 cy=202.4 /><circle class=r5 r=1.4 cx=185 cy=139.8 /><circle class=r2 r=2.5 cx=162 cy=284.9 /><circle class=r3 r=2.2 cx=99.4 cy=216 /><circle class=r5 r=1.4 cx=119.1 cy=163.4 /><circle class=r3 r=2.2 cx=114.8 cy=261 /><circle class=r3 r=2.2 cx=88.9 cy=200.1 /><circle class=r2 r=2.5 cx=90.3 cy=216.9 /><circle class=r4 r=1.85 cx=116.2 cy=195.5 /><circle class=r4 r=1.85 cx=109.8 cy=191.6 /><circle class=r4 r=1.85 cx=69.2 cy=193.2 /><circle class=r3 r=2.2 cx=79.1 cy=192.4 /><circle class=r2 r=2.5 cx=83.7 cy=213.5 /><circle class=r3 r=2.2 cx=158.1 cy=258 /><circle class=r3 r=2.2 cx=124.4 cy=263.9 /><circle class=r4 r=1.85 cx=59 cy=175 /><circle class=r4 r=1.85 cx=117.7 cy=198.7 /><circle class=r2 r=2.5 cx=200.9 cy=230.7 /><circle class=r4 r=1.85 cx=133.4 cy=207 /><circle class=r2 r=2.5 cx=95.9 cy=216 /><circle class=r4 r=1.85 cx=113.5 cy=182.7 /><circle class=r3 r=2.2 cx=106.4 cy=214.1 /><circle class=r3 r=2.2 cx=101.8 cy=212.8 /><circle class=r2 r=2.5 cx=69.4 cy=235.2 /><circle class=r2 r=2.5 cx=73.4 cy=201.9 /><circle class=r4 r=1.85 cx=128.8 cy=212.7 /><circle class=r3 r=2.2 cx=93 cy=201.5 /><circle class=r4 r=1.85 cx=98.2 cy=200 /><circle class=r3 r=2.2 cx=85.8 cy=245.6 /><circle class=r4 r=1.85 cx=157 cy=194.8 /><circle class=r3 r=2.2 cx=122.9 cy=233.1 /><circle class=r4 r=1.85 cx=100.8 cy=177.6 /><circle class=r3 r=2.2 cx=121.2 cy=269.3 /><circle class=r3 r=2.2 cx=113.4 cy=227.8 /><circle class=r2 r=2.5 cx=82.2 cy=212 /><circle class=r4 r=1.85 cx=111.8 cy=200.9 /><circle class=r4 r=1.85 cx=136.4 cy=203.8 /><circle class=r3 r=2.2 cx=143.3 cy=229.7 /><circle class=r3 r=2.2 cx=116 cy=207.3 /><circle class=r3 r=2.2 cx=110.3 cy=227.2 /><circle class=r3 r=2.2 cx=83.4 cy=207.3 /><circle class=r4 r=1.85 cx=130.9 cy=182 /><circle class=r3 r=2.2 cx=98.8 cy=227 /><circle class=r2 r=2.5 cx=63.1 cy=218.6 /><circle class=r3 r=2.2 cx=104.5 cy=213.2 /><circle class=r4 r=1.85 cx=119.1 cy=208.8 /><circle class=r2 r=2.5 cx=94.6 cy=244.6 /><circle class=r2 r=2.5 cx=94.5 cy=228 /><circle class=r4 r=1.85 cx=123 cy=210.8 /><circle class=r2 r=2.5 cx=98.8 cy=223.9 /><circle class=r3 r=2.2 cx=107.3 cy=236.1 /><circle class=r4 r=1.85 cx=97.5 cy=207.7 /><circle class=r4 r=1.85 cx=110.9 cy=191.4 /><circle class=r2 r=2.5 cx=44 cy=224.1 /><circle class=r2 r=2.5 cx=33.2 cy=237 /><circle class=r3 r=2.2 cx=105 cy=226.3 /><circle class=r2 r=2.5 cx=63.7 cy=208.3 /><circle class=r4 r=1.85 cx=64.8 cy=191.6 /><circle class=r4 r=1.85 cx=134.4 cy=214.3 /><circle class=r3 r=2.2 cx=84.8 cy=251.5 /><circle class=r3 r=2.2 cx=53.8 cy=199.4 /><circle class=r2 r=2.5 cx=90.9 cy=217.7 /><circle class=r3 r=2.2 cx=99.3 cy=267.4 /><circle class=r5 r=1.4 cx=48.3 cy=166.1 /><circle class=r2 r=2.5 cx=89.5 cy=235.5 /><circle class=r3 r=2.2 cx=173.8 cy=198.1 /><circle class=r2 r=2.5 cx=99.3 cy=225.5 /><circle class=r3 r=2.2 cx=122.2 cy=212.6 /><circle class=r2 r=2.5 cx=83.8 cy=239.1 /><circle class=r5 r=1.4 cx=170 cy=144.7 /><circle class=r4 r=1.85 cx=66.1 cy=191.2 /><circle class=r4 r=1.85 cx=135.5 cy=188.1 /><circle class=r3 r=2.2 cx=61.6 cy=237.2 /><circle class=r4 r=1.85 cx=119.7 cy=212.7 /><circle class=r3 r=2.2 cx=115.4 cy=213.4 /><circle class=r2 r=2.5 cx=89.3 cy=203.5 /><circle class=r3 r=2.2 cx=119.4 cy=208.6 /><circle class=r3 r=2.2 cx=130.4 cy=240.5 /><circle class=r3 r=2.2 cx=95 cy=208.3 /><circle class=r2 r=2.5 cx=84 cy=201.8 /><circle class=r5 r=1.4 cx=98.8 cy=148.3 /><circle class=r2 r=2.5 cx=93.6 cy=210.8 /><circle class=r3 r=2.2 cx=131.4 cy=222.4 /><circle class=r4 r=1.85 cx=91.6 cy=193 /><circle class=r4 r=1.85 cx=119.2 cy=165.4 /><circle class=r3 r=2.2 cx=103.9 cy=228.9 /><circle class=r3 r=2.2 cx=164.7 cy=284.3 /><circle class=r3 r=2.2 cx=84.3 cy=207.8 /><circle class=r5 r=1.4 cx=118.3 cy=157.1 /><circle class=r3 r=2.2 cx=96.5 cy=201.4 /><circle class=r3 r=2.2 cx=135.5 cy=262.4 /><circle class=r3 r=2.2 cx=67.7 cy=196.3 /><circle class=r4 r=1.85 cx=92 cy=183.1 /><circle class=r3 r=2.2 cx=169.6 cy=236.1 /><circle class=r2 r=2.5 cx=101 cy=225.6 /><circle class=r4 r=1.85 cx=92.5 cy=190.8 /><circle class=r3 r=2.2 cx=86 cy=205.6 /><circle class=r2 r=2.5 cx=57.4 cy=203.1 /><circle class=r5 r=1.4 cx=173.8 cy=181.5 /><circle class=r2 r=2.5 cx=11.5 cy=230.5 /><circle class=r4 r=1.85 cx=185.3 cy=166.3 /><circle class=r4 r=1.85 cx=144.5 cy=213.1 /><circle class=r5 r=1.4 cx=114.8 cy=139.2 /><circle class=r2 r=2.5 cx=83.7 cy=205.8 /><circle class=r1 r=2.8 cx=58.7 cy=212.6 /><circle class=r4 r=1.85 cx=120 cy=181 /><circle class=r2 r=2.5 cx=89.7 cy=217 /><circle class=r5 r=1.4 cx=102.5 cy=131.1 /><circle class=r4 r=1.85 cx=14.3 cy=232.3 /><circle class=r1 r=2.8 cx=84.1 cy=218 /><circle class=r3 r=2.2 cx=121 cy=268.5 /><circle class=r4 r=1.85 cx=136.1 cy=197.3 /><circle class=r3 r=2.2 cx=117.6 cy=207.5 /><circle class=r4 r=1.85 cx=128.3 cy=194.6 /><circle class=r5 r=1.4 cx=123.9 cy=164 /><circle class=r4 r=1.85 cx=134.2 cy=212.7 /><circle class=r1 r=2.8 cx=64 cy=217.1 /><circle class=r5 r=1.4 cx=26.6 cy=162.3 /><circle class=r3 r=2.2 cx=170.4 cy=242.6 /><circle class=r3 r=2.2 cx=106 cy=207.5 /><circle class=r1 r=2.8 cx=72.2 cy=216 /><circle class=r2 r=2.5 cx=82.7 cy=211.7 /><circle class=r2 r=2.5 cx=96.6 cy=225.4 /><circle class=r2 r=2.5 cx=64.5 cy=206.7 /><circle class=r3 r=2.2 cx=92.2 cy=207.7 /><circle class=r3 r=2.2 cx=136.6 cy=209.2 /><circle class=r5 r=1.4 cx=160 cy=176.7 /><circle class=r3 r=2.2 cx=69.2 cy=195.8 /><circle class=r1 r=2.8 cx=67.7 cy=208.2 /><circle class=r2 r=2.5 cx=65.7 cy=204.7 /><circle class=r2 r=2.5 cx=82.4 cy=209.2 /><circle class=r2 r=2.5 cx=60.8 cy=226.8 /><circle class=r4 r=1.85 cx=83.4 cy=181.5 /><circle class=r1 r=2.8 cx=69.2 cy=219.5 /><circle class=r3 r=2.2 cx=110.2 cy=267.7 /><circle class=r3 r=2.2 cx=61 cy=191.2 /><circle class=r1 r=2.8 cx=44.7 cy=222.8 /><circle class=r2 r=2.5 cx=107.9 cy=236.9 /><circle class=r1 r=2.8 cx=85.9 cy=219.3 /><circle class=r1 r=2.8 cx=74.5 cy=230.9 /><circle class=r3 r=2.2 cx=85.8 cy=207.7 /><circle class=r2 r=2.5 cx=88.6 cy=231.4 /><circle class=r2 r=2.5 cx=69 cy=207.4 /><circle class=r5 r=1.4 cx=100.6 cy=188.4 /><circle class=r2 r=2.5 cx=55.2 cy=204.6 /><circle class=r4 r=1.85 cx=88.4 cy=197.2 /><circle class=r4 r=1.85 cx=108.4 cy=184.1 /><circle class=r4 r=1.85 cx=131.5 cy=228.6 /><circle class=r1 r=2.8 cx=68.8 cy=227.7 /><circle class=r3 r=2.2 cx=164.2 cy=284.9 /><circle class=r1 r=2.8 cx=88 cy=224.5 /><circle class=r3 r=2.2 cx=37.4 cy=241.1 /><circle class=r4 r=1.85 cx=109.2 cy=187.4 /><circle class=r5 r=1.4 cx=103.5 cy=135.9 /><circle class=r4 r=1.85 cx=177.3 cy=181.5 /><circle class=r2 r=2.5 cx=97.7 cy=231.2 /><circle class=r3 r=2.2 cx=94.2 cy=197 /><circle class=r1 r=2.8 cx=66.4 cy=216.3 /><circle class=r1 r=2.8 cx=85.4 cy=216.2 /><circle class=r5 r=1.4 cx=107.8 cy=171.6 /><circle class=r4 r=1.85 cx=69.1 cy=184.4 /><circle class=r2 r=2.5 cx=78.5 cy=237.2 /><circle class=r5 r=1.4 cx=119.8 cy=182.9 /><circle class=r3 r=2.2 cx=151.3 cy=238.7 /><circle class=r2 r=2.5 cx=174 cy=246.8 /><circle class=r3 r=2.2 cx=70.4 cy=198.8 /><circle class=r4 r=1.85 cx=188.8 cy=165.8 /><circle class=r3 r=2.2 cx=82.3 cy=208.8 /><circle class=r4 r=1.85 cx=147.8 cy=174 /><circle class=r4 r=1.85 cx=118 cy=208.9 /><circle class=r3 r=2.2 cx=90.7 cy=251.9 /><circle class=r2 r=2.5 cx=88.3 cy=207.2 /><circle class=r4 r=1.85 cx=115.7 cy=214.2 /><circle class=r1 r=2.8 cx=85.9 cy=219.8 /><circle class=r1 r=2.8 cx=61.3 cy=226.4 /><circle class=r5 r=1.4 cx=102.1 cy=183.4 /><circle class=r1 r=2.8 cx=84.1 cy=218.9 /><circle class=r3 r=2.2 cx=73.2 cy=206.2 /><circle class=r1 r=2.8 cx=83.7 cy=227.5 /><circle class=r2 r=2.5 cx=72.7 cy=243.5 /><circle class=r4 r=1.85 cx=105.4 cy=206.7 /><circle class=r2 r=2.5 cx=66.5 cy=230.6 /><circle class=r2 r=2.5 cx=74.1 cy=245.7 /><circle class=r3 r=2.2 cx=132.4 cy=219.9 /><circle class=r4 r=1.85 cx=126.1 cy=211.3 /><circle class=r1 r=2.8 cx=72.6 cy=214.8 /><circle class=r2 r=2.5 cx=82.3 cy=249.4 /><circle class=r2 r=2.5 cx=98.7 cy=215.1 /><circle class=r4 r=1.85 cx=136.9 cy=205 /><circle class=r4 r=1.85 cx=51.3 cy=176.2 /><circle class=r4 r=1.85 cx=101.3 cy=177.7 /><circle class=r3 r=2.2 cx=119.9 cy=250 /><circle class=r2 r=2.5 cx=70.5 cy=243.7 /><circle class=r3 r=2.2 cx=55.8 cy=206.6 /><circle class=r4 r=1.85 cx=79.9 cy=193.5 /><circle class=r4 r=1.85 cx=120.2 cy=196.3 /><circle class=r3 r=2.2 cx=103.4 cy=202.9 /><circle class=r3 r=2.2 cx=103.7 cy=213.4 /><circle class=r1 r=2.8 cx=87.2 cy=230.1 /><circle class=r4 r=1.85 cx=101 cy=187.1 /><circle class=r2 r=2.5 cx=92.3 cy=209.5 /><circle class=r4 r=1.85 cx=145.5 cy=212.6 /><circle class=r3 r=2.2 cx=165.6 cy=281.6 /><circle class=r2 r=2.5 cx=36.8 cy=233 /><circle class=r2 r=2.5 cx=81 cy=215 /><circle class=r3 r=2.2 cx=108.8 cy=208.6 /><circle class=r4 r=1.85 cx=77 cy=187.5 /><circle class=r4 r=1.85 cx=122.8 cy=232.4 /><circle class=r4 r=1.85 cx=119.8 cy=186 /><circle class=r5 r=1.4 cx=173.8 cy=156.9 /><circle class=r1 r=2.8 cx=71.4 cy=223.4 /><circle class=r4 r=1.85 cx=104.4 cy=186.6 /><circle class=r1 r=2.8 cx=57.3 cy=215.9 /><circle class=r2 r=2.5 cx=61.7 cy=209.5 /><circle class=r5 r=1.4 cx=115.1 cy=139.4 /><circle class=r3 r=2.2 cx=92.4 cy=209.1 /><circle class=r4 r=1.85 cx=122.3 cy=216.5 /><circle class=r5 r=1.4 cx=124.4 cy=175.1 /><circle class=r2 r=2.5 cx=55.1 cy=207.6 /><circle class=r4 r=1.85 cx=116.5 cy=192.1 /><circle class=r5 r=1.4 cx=84.9 cy=145.2 /><circle class=r3 r=2.2 cx=88.9 cy=195 /><circle class=r1 r=2.8 cx=56.8 cy=222.4 /><circle class=r3 r=2.2 cx=106.8 cy=209.6 /><circle class=r4 r=1.85 cx=109.2 cy=225.1 /><circle class=r3 r=2.2 cx=89.6 cy=204 /><circle class=r3 r=2.2 cx=128.8 cy=257.5 /><circle class=r4 r=1.85 cx=101.1 cy=182.3 /><circle class=r2 r=2.5 cx=73.6 cy=246.5 /><circle class=r1 r=2.8 cx=90 cy=215 /><circle class=r1 r=2.8 cx=86.4 cy=220.1 /><circle class=r3 r=2.2 cx=110.1 cy=195.1 /><circle class=r2 r=2.5 cx=99.2 cy=224.4 /><circle class=r4 r=1.85 cx=99.9 cy=196.9 /><circle class=r5 r=1.4 cx=121.3 cy=145.2 /><circle class=r5 r=1.4 cx=97.5 cy=176.1 /><circle class=r5 r=1.4 cx=185.4 cy=139 /><circle class=r1 r=2.8 cx=56 cy=218 /><circle class=r3 r=2.2 cx=29.7 cy=241 /><circle class=r4 r=1.85 cx=119.6 cy=203.3 /><circle class=r3 r=2.2 cx=71.6 cy=199.6 /><circle class=r2 r=2.5 cx=61.8 cy=227.3 /><circle class=r4 r=1.85 cx=115.3 cy=195.6 /><circle class=r2 r=2.5 cx=65.5 cy=207 /><circle class=r1 r=2.8 cx=69.8 cy=217.9 /><circle class=r4 r=1.85 cx=118.8 cy=198 /><circle class=r3 r=2.2 cx=82.5 cy=250.3 /><circle class=r3 r=2.2 cx=134.2 cy=255.7 /><circle class=r4 r=1.85 cx=120 cy=208.3 /><circle class=r3 r=2.2 cx=125.1 cy=226.9 /><circle class=r3 r=2.2 cx=99.5 cy=211.6 /><circle class=r3 r=2.2 cx=90 cy=199.5 /><circle class=r3 r=2.2 cx=121.4 cy=231.5 /><circle class=r1 r=2.8 cx=70.9 cy=226.5 /><circle class=r3 r=2.2 cx=103.6 cy=229.1 /><circle class=r4 r=1.85 cx=127.4 cy=257.4 /><circle class=r3 r=2.2 cx=104.2 cy=205.6 /><circle class=r1 r=2.8 cx=88.6 cy=215.5 /><circle class=r5 r=1.4 cx=107.6 cy=170.1 /><circle class=r3 r=2.2 cx=124.5 cy=240.3 /><circle class=r3 r=2.2 cx=92.6 cy=209.2 /><circle class=r2 r=2.5 cx=72.6 cy=214.6 /><circle class=r1 r=2.8 cx=74.3 cy=230.2 /><circle class=r2 r=2.5 cx=104 cy=228.2 /><circle class=r4 r=1.85 cx=100.4 cy=182.3 /><circle class=r3 r=2.2 cx=109 cy=228.7 /><circle class=r3 r=2.2 cx=85.7 cy=198 /><circle class=r2 r=2.5 cx=65.6 cy=208 /><circle class=r4 r=1.85 cx=121.5 cy=175.7 /><circle class=r3 r=2.2 cx=102.8 cy=218.6 /><circle class=r5 r=1.4 cx=89 cy=140 /><circle class=r3 r=2.2 cx=100.1 cy=233.2 /><circle class=r3 r=2.2 cx=192.6 cy=175.7 /><circle class=r4 r=1.85 cx=111.9 cy=194.3 /><circle class=r4 r=1.85 cx=142.5 cy=195.8 /><circle class=r2 r=2.5 cx=58.9 cy=232 /><circle class=r3 r=2.2 cx=115.6 cy=209.3 /><circle class=r2 r=2.5 cx=73.7 cy=228.2 /><circle class=r3 r=2.2 cx=84.6 cy=202.1 /><circle class=r5 r=1.4 cx=102.9 cy=136.3 /><circle class=r3 r=2.2 cx=28 cy=236 /><circle class=r4 r=1.85 cx=100.8 cy=182.3 /><circle class=r1 r=2.8 cx=74.7 cy=223.4 /><circle class=r4 r=1.85 cx=119.2 cy=205.2 /><circle class=r4 r=1.85 cx=118.4 cy=209.1 /><circle class=r5 r=1.4 cx=121.4 cy=144.7 /><circle class=r2 r=2.5 cx=87.4 cy=207.1 /><circle class=r3 r=2.2 cx=105.6 cy=236.8 /><circle class=r1 r=2.8 cx=67.5 cy=220.7 /><circle class=r4 r=1.85 cx=124.6 cy=217.4 /><circle class=r4 r=1.85 cx=82.9 cy=176.6 /><circle class=r2 r=2.5 cx=88.5 cy=219.1 /><circle class=r2 r=2.5 cx=55.3 cy=211.5 /><circle class=r3 r=2.2 cx=105.3 cy=216.6 /><circle class=r4 r=1.85 cx=96.1 cy=200.6 /><circle class=r3 r=2.2 cx=129.7 cy=248.7 /><circle class=r4 r=1.85 cx=109.2 cy=194.7 /><circle class=r2 r=2.5 cx=86.5 cy=208 /><circle class=r2 r=2.5 cx=90.9 cy=216.6 /><circle class=r5 r=1.4 cx=159.8 cy=126.6 /><circle class=r1 r=2.8 cx=75.2 cy=214.3 /><circle class=r4 r=1.85 cx=109.5 cy=194 /><circle class=r2 r=2.5 cx=75.5 cy=211.7 /><circle class=r3 r=2.2 cx=126.8 cy=214.7 /><circle class=r2 r=2.5 cx=96.9 cy=225.5 /><circle class=r2 r=2.5 cx=77.9 cy=209.6 /><circle class=r3 r=2.2 cx=158.1 cy=271.5 /><circle class=r3 r=2.2 cx=113.9 cy=224.9 /><circle class=r2 r=2.5 cx=95.9 cy=215 /><circle class=r1 r=2.8 cx=68.3 cy=225.8 /><circle class=r4 r=1.85 cx=119.5 cy=184.4 /><circle class=r4 r=1.85 cx=83.1 cy=179.5 /><circle class=r2 r=2.5 cx=80.3 cy=203.5 /><circle class=r3 r=2.2 cx=123.6 cy=239.6 /><circle class=r3 r=2.2 cx=126.9 cy=267.5 /><circle class=r2 r=2.5 cx=55.2 cy=212.5 /><circle class=r4 r=1.85 cx=123.7 cy=208.1 /><circle class=r5 r=1.4 cx=145.9 cy=130.4 /><circle class=r1 r=2.8 cx=78.9 cy=234.2 /><circle class=r1 r=2.8 cx=63.6 cy=223.1 /><circle class=r3 r=2.2 cx=120.3 cy=250.2 /><circle class=r2 r=2.5 cx=84.9 cy=218 /><circle class=r3 r=2.2 cx=172.1 cy=206.6 /><circle class=r1 r=2.8 cx=83.7 cy=218.6 /><circle class=r2 r=2.5 cx=65.5 cy=209.3 /><circle class=r4 r=1.85 cx=102.4 cy=202.9 /><circle class=r2 r=2.5 cx=75.9 cy=211.8 /><circle class=r1 r=2.8 cx=74.9 cy=222.9 /><circle class=r3 r=2.2 cx=143.1 cy=229.5 /><circle class=r2 r=2.5 cx=56.8 cy=215.8 /><circle class=r2 r=2.5 cx=100.9 cy=247.9 /><circle class=r1 r=2.8 cx=65.7 cy=220.7 /><circle class=r3 r=2.2 cx=84 cy=246.6 /><circle class=r3 r=2.2 cx=106.5 cy=260.8 /><circle class=r5 r=1.4 cx=103.3 cy=134.9 /><circle class=r3 r=2.2 cx=119.1 cy=210.9 /><circle class=r2 r=2.5 cx=104 cy=228.9 /><circle class=r3 r=2.2 cx=130.3 cy=258.3 /><circle class=r2 r=2.5 cx=89.4 cy=233.3 /><circle class=r1 r=2.8 cx=73.6 cy=232.7 /><circle class=r3 r=2.2 cx=110.5 cy=199 /><circle class=r2 r=2.5 cx=83.7 cy=252.4 /><circle class=r5 r=1.4 cx=118.3 cy=159 /><circle class=r4 r=1.85 cx=125.7 cy=188.7 /><circle class=r4 r=1.85 cx=115.9 cy=196.4 /><circle class=r2 r=2.5 cx=73.5 cy=214.3 /><circle class=r1 r=2.8 cx=52 cy=219.4 /><circle class=r1 r=2.8 cx=62.1 cy=218.1 /><circle class=r2 r=2.5 cx=102.1 cy=233.2 /><circle class=r4 r=1.85 cx=131 cy=213.5 /><circle class=r2 r=2.5 cx=62.1 cy=226.5 /><circle class=r4 r=1.85 cx=126.9 cy=214.1 /><circle class=r4 r=1.85 cx=103.6 cy=199.7 /><circle class=r5 r=1.4 cx=166.5 cy=185.8 /><circle class=r4 r=1.85 cx=109.5 cy=203.2 /><circle class=r3 r=2.2 cx=114.1 cy=228.7 /><circle class=r4 r=1.85 cx=131.1 cy=192.5 /><circle class=r4 r=1.85 cx=109.6 cy=197.3 /><circle class=r1 r=2.8 cx=84.9 cy=215.3 /><circle class=r5 r=1.4 cx=78.2 cy=134.9 /><circle class=r2 r=2.5 cx=88.5 cy=251.9 /><circle class=r3 r=2.2 cx=106.8 cy=224.5 /><circle class=r4 r=1.85 cx=188.3 cy=165.5 /><circle class=r1 r=2.8 cx=56.2 cy=215.4 /><circle class=r2 r=2.5 cx=94.5 cy=228.5 /><circle class=r2 r=2.5 cx=77.2 cy=213.4 /><circle class=r1 r=2.8 cx=64.7 cy=211.3 /><circle class=r4 r=1.85 cx=105.4 cy=210.2 /><circle class=r2 r=2.5 cx=76.9 cy=211.1 /><circle class=r3 r=2.2 cx=97.9 cy=200.9 /><circle class=r3 r=2.2 cx=106.8 cy=214.5 /><circle class=r1 r=2.8 cx=71.9 cy=216.9 /><circle class=r4 r=1.85 cx=132.5 cy=183.7 /><circle class=r2 r=2.5 cx=72.7 cy=250.1 /><circle class=r2 r=2.5 cx=65.4 cy=230.2 /><circle class=r2 r=2.5 cx=42 cy=209.4 /><circle class=r4 r=1.85 cx=120.7 cy=208.6 /><circle class=r3 r=2.2 cx=155.4 cy=213.1 /><circle class=r3 r=2.2 cx=64.8 cy=201.7 /><circle class=r2 r=2.5 cx=91.9 cy=209.1 /><circle class=r3 r=2.2 cx=119 cy=212.5 /><circle class=r5 r=1.4 cx=109.1 cy=191.5 /><circle class=r4 r=1.85 cx=138.6 cy=222.5 /><circle class=r3 r=2.2 cx=73.3 cy=202.1 /><circle class=r2 r=2.5 cx=72.5 cy=206.3 /><circle class=r3 r=2.2 cx=105 cy=219.5 /><circle class=r3 r=2.2 cx=83.4 cy=189.6 /><circle class=r3 r=2.2 cx=132.9 cy=251.6 /><circle class=r3 r=2.2 cx=128.1 cy=253.2 /><circle class=r4 r=1.85 cx=128.4 cy=224.8 /><circle class=r1 r=2.8 cx=72.9 cy=232.7 /><circle class=r2 r=2.5 cx=59.6 cy=210.1 /><circle class=r3 r=2.2 cx=131 cy=215.1 /><circle class=r2 r=2.5 cx=89.6 cy=204 /><circle class=r1 r=2.8 cx=71.4 cy=225.7 /><circle class=r4 r=1.85 cx=136.9 cy=208.7 /><circle class=r2 r=2.5 cx=82.2 cy=210.6 /><circle class=r3 r=2.2 cx=129.5 cy=247.3 /><circle class=r5 r=1.4 cx=29.1 cy=147.4 /><circle class=r3 r=2.2 cx=83.8 cy=197.9 /><circle class=r3 r=2.2 cx=96.2 cy=200.5 /><circle class=r3 r=2.2 cx=115.9 cy=206.4 /><circle class=r1 r=2.8 cx=91.8 cy=217.1 /><circle class=r4 r=1.85 cx=135.5 cy=193.9 /><circle class=r2 r=2.5 cx=58.2 cy=207.9 /><circle class=r3 r=2.2 cx=115.9 cy=213.6 /><circle class=r2 r=2.5 cx=72.1 cy=216.2 /><circle class=r4 r=1.85 cx=122.9 cy=211.5 /><circle class=r3 r=2.2 cx=109.5 cy=209.2 /><circle class=r2 r=2.5 cx=76.6 cy=214 /><circle class=r3 r=2.2 cx=64.6 cy=201.3 /><circle class=r3 r=2.2 cx=114.7 cy=220 /><circle class=r3 r=2.2 cx=73.3 cy=198.1 /><circle class=r4 r=1.85 cx=192.2 cy=171.8 /><circle class=r3 r=2.2 cx=111.3 cy=266.4 /><circle class=r3 r=2.2 cx=86.5 cy=207.9 /><circle class=r2 r=2.5 cx=79.4 cy=208.5 /><circle class=r4 r=1.85 cx=171 cy=172.6 /><circle class=r2 r=2.5 cx=93.6 cy=230.2 /><circle class=r1 r=2.8 cx=65.1 cy=208.8 /><circle class=r2 r=2.5 cx=85.8 cy=208.6 /><circle class=r4 r=1.85 cx=72.5 cy=192.8 /><circle class=r4 r=1.85 cx=95.6 cy=180.5 /><circle class=r4 r=1.85 cx=117.9 cy=202.1 /><circle class=r3 r=2.2 cx=79 cy=200 /><circle class=r4 r=1.85 cx=103.6 cy=203.2 /><circle class=r5 r=1.4 cx=86.8 cy=148.2 /><circle class=r4 r=1.85 cx=120.2 cy=186.7 /><circle class=r2 r=2.5 cx=101.8 cy=216.5 /><circle class=r3 r=2.2 cx=135.6 cy=261.5 /><circle class=r2 r=2.5 cx=88.3 cy=199.7 /><circle class=r1 r=2.8 cx=67.4 cy=211.3 /><circle class=r3 r=2.2 cx=90.1 cy=195.8 /><circle class=r3 r=2.2 cx=147.2 cy=232.3 /><circle class=r5 r=1.4 cx=140.8 cy=132.1 /><circle class=r3 r=2.2 cx=139 cy=227.6 /><circle class=r2 r=2.5 cx=93.3 cy=215 /><circle class=r2 r=2.5 cx=41.5 cy=237.6 /><circle class=r1 r=2.8 cx=67.5 cy=220.5 /><circle class=r1 r=2.8 cx=53.8 cy=218.8 /><circle class=r1 r=2.8 cx=62.5 cy=212.1 /><circle class=r2 r=2.5 cx=68.7 cy=242.3 /><circle class=r2 r=2.5 cx=83.9 cy=241.7 /><circle class=r5 r=1.4 cx=91.6 cy=183.4 /><circle class=r4 r=1.85 cx=121.7 cy=175.7 /><circle class=r2 r=2.5 cx=63.7 cy=231 /><circle class=r2 r=2.5 cx=93.7 cy=225.9 /><circle class=r2 r=2.5 cx=78.3 cy=213.8 /><circle class=r3 r=2.2 cx=84.1 cy=247 /><circle class=r5 r=1.4 cx=104 cy=143 /><circle class=r3 r=2.2 cx=82.1 cy=199.7 /><circle class=r4 r=1.85 cx=85.1 cy=186.9 /><circle class=r3 r=2.2 cx=92.7 cy=233 /><circle class=r2 r=2.5 cx=24.5 cy=225.6 /><circle class=r3 r=2.2 cx=97.1 cy=208.1 /><circle class=r4 r=1.85 cx=101.1 cy=182.1 /><circle class=r2 r=2.5 cx=67.2 cy=209.8 /><circle class=r2 r=2.5 cx=72.7 cy=240.7 /><circle class=r2 r=2.5 cx=72 cy=206.7 /><circle class=r2 r=2.5 cx=89.4 cy=209.2 /><circle class=r3 r=2.2 cx=82.1 cy=198 /><circle class=r3 r=2.2 cx=122.2 cy=265 /><circle class=r2 r=2.5 cx=74.4 cy=237.8 /><circle class=r2 r=2.5 cx=45.1 cy=208.1 /><circle class=r2 r=2.5 cx=101.1 cy=226.3 /><circle class=r4 r=1.85 cx=80.2 cy=193.9 /><circle class=r5 r=1.4 cx=124.5 cy=144.9 /><circle class=r2 r=2.5 cx=83.5 cy=203.8 /><circle class=r3 r=2.2 cx=57 cy=205.9 /><circle class=r4 r=1.85 cx=72.2 cy=198.3 /><circle class=r1 r=2.8 cx=91 cy=223.3 /><circle class=r4 r=1.85 cx=128.7 cy=213 /><circle class=r1 r=2.8 cx=54 cy=217.8 /><circle class=r3 r=2.2 cx=100.9 cy=247.2 /><circle class=r1 r=2.8 cx=87 cy=223.5 /><circle class=r4 r=1.85 cx=120.7 cy=207.1 /><circle class=r3 r=2.2 cx=107.4 cy=215 /><circle class=r3 r=2.2 cx=98.8 cy=227.3 /><circle class=r4 r=1.85 cx=92.8 cy=194 /><circle class=r1 r=2.8 cx=79.2 cy=218.6 /><circle class=r1 r=2.8 cx=69.7 cy=228.9 /><circle class=r5 r=1.4 cx=124.1 cy=182.1 /><circle class=r4 r=1.85 cx=106.4 cy=194.4 /><circle class=r4 r=1.85 cx=145.8 cy=214.8 /><circle class=r4 r=1.85 cx=96.9 cy=194.6 /><circle class=r2 r=2.5 cx=84.8 cy=218.7 /><circle class=r1 r=2.8 cx=84.2 cy=215 /><circle class=r1 r=2.8 cx=65.6 cy=226.4 /><circle class=r4 r=1.85 cx=111.1 cy=184.3 /><circle class=r1 r=2.8 cx=87.1 cy=214.2 /><circle class=r4 r=1.85 cx=138.8 cy=189.1 /><circle class=r3 r=2.2 cx=67.5 cy=204.4 /><circle class=r2 r=2.5 cx=89.9 cy=215.1 /><circle class=r2 r=2.5 cx=90.6 cy=246.4 /><circle class=r3 r=2.2 cx=101.6 cy=196 /><circle class=r4 r=1.85 cx=90.6 cy=196 /><circle class=r3 r=2.2 cx=85.8 cy=244.6 /><circle class=r5 r=1.4 cx=169.6 cy=138.2 /><circle class=r3 r=2.2 cx=72 cy=198.9 /><circle class=r3 r=2.2 cx=55.7 cy=203.5 /><circle class=r5 r=1.4 cx=122.3 cy=175.1 /><circle class=r5 r=1.4 cx=182.7 cy=137.6 /><circle class=r4 r=1.85 cx=113.3 cy=189.1 /><circle class=r1 r=2.8 cx=201.3 cy=232.6 /><circle class=r3 r=2.2 cx=114.4 cy=217.8 /><circle class=r2 r=2.5 cx=70.2 cy=244.2 /><circle class=r3 r=2.2 cx=125.1 cy=223.6 /><circle class=r3 r=2.2 cx=143.9 cy=230.1 /><circle class=r4 r=1.85 cx=88.8 cy=174.8 /><circle class=r5 r=1.4 cx=171.1 cy=171.2 /><circle class=r4 r=1.85 cx=81 cy=185.5 /><circle class=r4 r=1.85 cx=97.5 cy=176.9 /><circle class=r2 r=2.5 cx=69.2 cy=200.7 /><circle class=r2 r=2.5 cx=88.8 cy=218.4 /><circle class=r5 r=1.4 cx=133.6 cy=155.7 /><circle class=r1 r=2.8 cx=85.6 cy=219.3 /><circle class=r3 r=2.2 cx=112.3 cy=255.8 /><circle class=r4 r=1.85 cx=91.2 cy=189 /><circle class=r2 r=2.5 cx=87.6 cy=202.5 /><circle class=r3 r=2.2 cx=105.2 cy=207 /><circle class=r4 r=1.85 cx=102.3 cy=188 /><circle class=r1 r=2.8 cx=60.1 cy=209.8 /><circle class=r1 r=2.8 cx=83.2 cy=223.2 /><circle class=r2 r=2.5 cx=98.4 cy=220.8 /><circle class=r4 r=1.85 cx=152 cy=200 /><circle class=r2 r=2.5 cx=125.1 cy=247.6 /><circle class=r3 r=2.2 cx=102.9 cy=229.1 /><circle class=r3 r=2.2 cx=124.9 cy=225.3 /><circle class=r3 r=2.2 cx=117.4 cy=211.8 /><circle class=r5 r=1.4 cx=40.4 cy=156.2 /><circle class=r3 r=2.2 cx=160.7 cy=269.6 /><circle class=r3 r=2.2 cx=95.2 cy=198.7 /><circle class=r4 r=1.85 cx=145.6 cy=211.8 /><circle class=r5 r=1.4 cx=104.1 cy=130.8 /><circle class=r5 r=1.4 cx=124.3 cy=202.7 /><circle class=r2 r=2.5 cx=80 cy=236.3 /><circle class=r1 r=2.8 cx=64 cy=227 /><circle class=r5 r=1.4 cx=132.4 cy=155 /><circle class=r4 r=1.85 cx=83.3 cy=182.9 /><circle class=r1 r=2.8 cx=83.4 cy=217.7 /><circle class=r3 r=2.2 cx=94.6 cy=245.1 /><circle class=r3 r=2.2 cx=130.4 cy=257.1 /><circle class=r1 r=2.8 cx=58.1 cy=213.1 /><circle class=r1 r=2.8 cx=85.9 cy=219.5 /><circle class=r4 r=1.85 cx=101.9 cy=196.2 /><circle class=r3 r=2.2 cx=61.8 cy=196 /><circle class=r4 r=1.85 cx=131.8 cy=208.2 /><circle class=r4 r=1.85 cx=64.1 cy=195.3 /><circle class=r3 r=2.2 cx=65.3 cy=196.5 /><circle class=r5 r=1.4 cx=143.2 cy=147.3 /><circle class=r4 r=1.85 cx=100.8 cy=188.6 /><circle class=r2 r=2.5 cx=103.5 cy=231.4 /><circle class=r2 r=2.5 cx=28 cy=243 /><circle class=r4 r=1.85 cx=116 cy=218.4 /><circle class=r4 r=1.85 cx=111.6 cy=181 /><circle class=r3 r=2.2 cx=165.3 cy=286.1 /><circle class=r3 r=2.2 cx=100.5 cy=248.3 /><circle class=r2 r=2.5 cx=189.2 cy=237.5 /><circle class=r1 r=2.8 cx=86.8 cy=213.3 /><circle class=r4 r=1.85 cx=96.1 cy=173.4 /><circle class=r1 r=2.8 cx=84.4 cy=222.1 /><circle class=r3 r=2.2 cx=112.3 cy=253.3 /><circle class=r4 r=1.85 cx=102.5 cy=212 /><circle class=r2 r=2.5 cx=93.2 cy=233.6 /><circle class=r3 r=2.2 cx=66.1 cy=196.5 /><circle class=r5 r=1.4 cx=80.1 cy=185.8 /><circle class=r2 r=2.5 cx=86.7 cy=209.8 /><circle class=r3 r=2.2 cx=51.2 cy=189.2 /><circle class=r5 r=1.4 cx=97.7 cy=128.7 /><circle class=r4 r=1.85 cx=123.1 cy=218.4 /><circle class=r2 r=2.5 cx=69.5 cy=245.4 /><circle class=r4 r=1.85 cx=108.4 cy=192.4 /><circle class=r4 r=1.85 cx=109.4 cy=194.5 /><circle class=r3 r=2.2 cx=111.7 cy=256.5 /><circle class=r4 r=1.85 cx=96.8 cy=188.8 /><circle class=r4 r=1.85 cx=104.5 cy=199.7 /><circle class=r4 r=1.85 cx=119.2 cy=180.6 /><circle class=r3 r=2.2 cx=105.7 cy=270.6 /><circle class=r4 r=1.85 cx=75.8 cy=189.8 /><circle class=r4 r=1.85 cx=155.3 cy=214.3 /><circle class=r4 r=1.85 cx=121.9 cy=184.8 /><circle class=r1 r=2.8 cx=77.1 cy=230.5 /><circle class=r1 r=2.8 cx=76.8 cy=233.5 /><circle class=r3 r=2.2 cx=110 cy=216.8 /><circle class=r4 r=1.85 cx=57.7 cy=186.8 /><circle class=r2 r=2.5 cx=68.5 cy=205 /><circle class=r4 r=1.85 cx=54.5 cy=189.4 /><circle class=r3 r=2.2 cx=101.6 cy=253.8 /><circle class=r1 r=2.8 cx=71.6 cy=219.7 /><circle class=r2 r=2.5 cx=77.5 cy=211.5 /><circle class=r5 r=1.4 cx=171.8 cy=173 /><circle class=r5 r=1.4 cx=99.7 cy=174.7 /><circle class=r4 r=1.85 cx=166.3 cy=173.1 /><circle class=r2 r=2.5 cx=66.8 cy=201.6 /><circle class=r2 r=2.5 cx=86.4 cy=208.4 /><circle class=r5 r=1.4 cx=184.6 cy=167.3 /><circle class=r1 r=2.8 cx=81.2 cy=219.8 /><circle class=r2 r=2.5 cx=74.4 cy=204.9 /><circle class=r2 r=2.5 cx=61.7 cy=225.1 /><circle class=r1 r=2.8 cx=79.6 cy=215.8 /><circle class=r2 r=2.5 cx=63.2 cy=214 /><circle class=r4 r=1.85 cx=142.4 cy=215.9 /><circle class=r3 r=2.2 cx=170.2 cy=270.7 /><circle class=r1 r=2.8 cx=61.7 cy=225 /><circle class=r4 r=1.85 cx=118.4 cy=188.7 /><circle class=r4 r=1.85 cx=64.2 cy=192.7 /><circle class=r4 r=1.85 cx=97 cy=188.8 /><circle class=r1 r=2.8 cx=77.9 cy=234.4 /><circle class=r1 r=2.8 cx=92.7 cy=212.7 /><circle class=r2 r=2.5 cx=83.9 cy=246.8 /><circle class=r5 r=1.4 cx=112.5 cy=155.3 /><circle class=r3 r=2.2 cx=94 cy=216.4 /><circle class=r2 r=2.5 cx=77.4 cy=228.2 /><circle class=r5 r=1.4 cx=165.9 cy=171.3 /><circle class=r4 r=1.85 cx=99 cy=205.7 /><circle class=r1 r=2.8 cx=88.8 cy=215.9 /><circle class=r3 r=2.2 cx=107.1 cy=239.8 /><circle class=r4 r=1.85 cx=64.2 cy=193.1 /><circle class=r4 r=1.85 cx=96.7 cy=180.9 /><circle class=r1 r=2.8 cx=73.8 cy=223.1 /><circle class=r5 r=1.4 cx=26.3 cy=161.1 /><circle class=r3 r=2.2 cx=92.4 cy=203.3 /><circle class=r3 r=2.2 cx=84.9 cy=198 /><circle class=r3 r=2.2 cx=71.2 cy=198.8 /><circle class=r2 r=2.5 cx=72.4 cy=238.8 /><circle class=r4 r=1.85 cx=129.3 cy=212.8 /><circle class=r3 r=2.2 cx=94.9 cy=241.4 /><circle class=r5 r=1.4 cx=131.3 cy=153.5 /><circle class=r5 r=1.4 cx=32.7 cy=153.5 /><circle class=r4 r=1.85 cx=71.5 cy=193.3 /><circle class=r4 r=1.85 cx=128.8 cy=194.9 /><circle class=r1 r=2.8 cx=60.8 cy=226.5 /><circle class=r4 r=1.85 cx=69.7 cy=183.1 /><circle class=r3 r=2.2 cx=97.6 cy=233.6 /><circle class=r3 r=2.2 cx=80.6 cy=206 /><circle class=r3 r=2.2 cx=98.6 cy=233 /><circle class=r3 r=2.2 cx=143 cy=232.5 /><circle class=r5 r=1.4 cx=133.6 cy=155.7 /><circle class=r1 r=2.8 cx=82.6 cy=213.5 /><circle class=r2 r=2.5 cx=22.8 cy=215.1 /><circle class=r1 r=2.8 cx=56.4 cy=233.4 /><circle class=r5 r=1.4 cx=123.3 cy=159.2 /><circle class=r4 r=1.85 cx=121 cy=227.5 /><circle class=r4 r=1.85 cx=121.9 cy=211.9 /><circle class=r3 r=2.2 cx=84.7 cy=207.5 /><circle class=r4 r=1.85 cx=109.9 cy=192.1 /><circle class=r3 r=2.2 cx=110.5 cy=267.7 /><circle class=r1 r=2.8 cx=83 cy=231.8 /><circle class=r3 r=2.2 cx=94.9 cy=228.3 /><circle class=r2 r=2.5 cx=68.3 cy=203.9 /><circle class=r2 r=2.5 cx=83.4 cy=247.6 /><circle class=r3 r=2.2 cx=89.2 cy=205.2 /><circle class=r3 r=2.2 cx=126.9 cy=227.2 /><circle class=r3 r=2.2 cx=115.6 cy=195.3 /><circle class=r4 r=1.85 cx=122.1 cy=230.3 /><circle class=r4 r=1.85 cx=88.7 cy=198.5 /><circle class=r2 r=2.5 cx=60.9 cy=210 /><circle class=r3 r=2.2 cx=63.7 cy=202.5 /><circle class=r3 r=2.2 cx=122.5 cy=233.4 /><circle class=r3 r=2.2 cx=103.7 cy=228.7 /><circle class=r4 r=1.85 cx=158.7 cy=195.7 /><circle class=r5 r=1.4 cx=109 cy=129.3 /><circle class=r2 r=2.5 cx=81 cy=203 /><circle class=r3 r=2.2 cx=84.5 cy=203.9 /><circle class=r4 r=1.85 cx=98.9 cy=196.7 /><circle class=r1 r=2.8 cx=69.2 cy=226.4 /><circle class=r2 r=2.5 cx=97 cy=223 /><circle class=r1 r=2.8 cx=83.8 cy=223.5 /><circle class=r1 r=2.8 cx=56.8 cy=215.9 /><circle class=r3 r=2.2 cx=112.3 cy=211.8 /><circle class=r1 r=2.8 cx=63 cy=208.6 /><circle class=r4 r=1.85 cx=139.1 cy=202.3 /><circle class=r1 r=2.8 cx=77.4 cy=232.2 /><circle class=r2 r=2.5 cx=98.6 cy=226.3 /><circle class=r2 r=2.5 cx=107.2 cy=232.5 /><circle class=r4 r=1.85 cx=131.7 cy=192.8 /><circle class=r4 r=1.85 cx=75.1 cy=189.1 /><circle class=r1 r=2.8 cx=69.9 cy=231.7 /><circle class=r3 r=2.2 cx=88.6 cy=244.4 /><circle class=r4 r=1.85 cx=104.4 cy=211.1 /><circle class=r4 r=1.85 cx=76.4 cy=195.5 /><circle class=r2 r=2.5 cx=94.4 cy=232.7 /><circle class=r1 r=2.8 cx=70.7 cy=218.9 /><circle class=r3 r=2.2 cx=119.9 cy=236.9 /><circle class=r4 r=1.85 cx=63.2 cy=196.4 /><circle class=r1 r=2.8 cx=41.4 cy=213.9 /><circle class=r3 r=2.2 cx=68.6 cy=205.1 /><circle class=r3 r=2.2 cx=104.9 cy=262 /><circle class=r4 r=1.85 cx=118.6 cy=180.3 /><circle class=r1 r=2.8 cx=88.3 cy=224.3 /><circle class=r1 r=2.8 cx=85.2 cy=215.7 /><circle class=r3 r=2.2 cx=82.8 cy=196.7 /><circle class=r4 r=1.85 cx=54.6 cy=180 /><circle class=r2 r=2.5 cx=56.2 cy=207.9 /><circle class=r3 r=2.2 cx=135 cy=261.4 /><circle class=r5 r=1.4 cx=107.4 cy=165.8 /><circle class=r2 r=2.5 cx=35 cy=229.3 /><circle class=r3 r=2.2 cx=144.5 cy=234.7 /><circle class=r3 r=2.2 cx=72.5 cy=195.7 /><circle class=r1 r=2.8 cx=66 cy=216 /><circle class=r4 r=1.85 cx=111.3 cy=201 /><circle class=r1 r=2.8 cx=83.1 cy=218.5 /><circle class=r4 r=1.85 cx=104.6 cy=207.5 /><circle class=r3 r=2.2 cx=110.7 cy=223.8 /><circle class=r2 r=2.5 cx=92.6 cy=221.9 /><circle class=r2 r=2.5 cx=75.5 cy=212.1 /><circle class=r3 r=2.2 cx=88.4 cy=195.3 /><circle class=r2 r=2.5 cx=59.2 cy=212.8 /><circle class=r3 r=2.2 cx=108 cy=260.8 /><circle class=r3 r=2.2 cx=108.9 cy=205.8 /><circle class=r1 r=2.8 cx=67.9 cy=208.6 /><circle class=r2 r=2.5 cx=93.7 cy=228 /><circle class=r4 r=1.85 cx=130.9 cy=253.3 /><circle class=r5 r=1.4 cx=54.2 cy=177 /><circle class=r2 r=2.5 cx=95.2 cy=217.7 /><circle class=r3 r=2.2 cx=72.1 cy=201.7 /><circle class=r5 r=1.4 cx=82.8 cy=134.9 /><circle class=r4 r=1.85 cx=71.7 cy=195.4 /><circle class=r2 r=2.5 cx=65.4 cy=204.9 /><circle class=r2 r=2.5 cx=83.6 cy=212.4 /><circle class=r4 r=1.85 cx=77.4 cy=194.5 /><circle class=r4 r=1.85 cx=117.2 cy=196.6 /><circle class=r5 r=1.4 cx=90.1 cy=169.1 /><circle class=r2 r=2.5 cx=82.4 cy=210.9 /><circle class=r3 r=2.2 cx=91.7 cy=248.4 /><circle class=r1 r=2.8 cx=81.4 cy=233.2 /><circle class=r1 r=2.8 cx=51 cy=220.2 /><circle class=r4 r=1.85 cx=98.7 cy=176.8 /><circle class=r5 r=1.4 cx=169.1 cy=141.3 /><circle class=r1 r=2.8 cx=84.3 cy=216.8 /><circle class=r4 r=1.85 cx=91.2 cy=183.3 /><circle class=r4 r=1.85 cx=95.3 cy=199.3 /><circle class=r2 r=2.5 cx=43.6 cy=209.4 /><circle class=r5 r=1.4 cx=164.2 cy=140.3 /><circle class=r5 r=1.4 cx=167.4 cy=171.2 /><circle class=r3 r=2.2 cx=82 cy=203.7 /><circle class=r1 r=2.8 cx=83.5 cy=229.9 /><circle class=r3 r=2.2 cx=122 cy=269 /><circle class=r2 r=2.5 cx=88.1 cy=235.2 /><circle class=r5 r=1.4 cx=164.2 cy=163.7 /><circle class=r5 r=1.4 cx=132.9 cy=175.1 /><circle class=r3 r=2.2 cx=117.6 cy=208.8 /><circle class=r4 r=1.85 cx=73.6 cy=176.2 /><circle class=r3 r=2.2 cx=69 cy=201.8 /><circle class=r2 r=2.5 cx=96.8 cy=228.3 /><circle class=r2 r=2.5 cx=83.4 cy=227.8 /><circle class=r2 r=2.5 cx=89.3 cy=204.1 /><circle class=r3 r=2.2 cx=75 cy=205 /><circle class=r3 r=2.2 cx=123.3 cy=233.1 /><circle class=r2 r=2.5 cx=114 cy=227.9 /><circle class=r3 r=2.2 cx=70.6 cy=201.1 /><circle class=r4 r=1.85 cx=122.6 cy=211.6 /><circle class=r5 r=1.4 cx=150 cy=188.1 /><circle class=r3 r=2.2 cx=108.8 cy=211.5 /><circle class=r4 r=1.85 cx=116 cy=203.4 /><circle class=r4 r=1.85 cx=180.2 cy=170.4 /><circle class=r1 r=2.8 cx=72.1 cy=215.1 /><circle class=r2 r=2.5 cx=84.3 cy=208.1 /><circle class=r3 r=2.2 cx=100.2 cy=202.8 /><circle class=r3 r=2.2 cx=126.7 cy=218.5 /><circle class=r2 r=2.5 cx=97 cy=227.8 /><circle class=r2 r=2.5 cx=70.6 cy=213.2 /><circle class=r1 r=2.8 cx=82.8 cy=232.4 /><circle class=r3 r=2.2 cx=73.8 cy=196.8 /><circle class=r1 r=2.8 cx=58.1 cy=217.4 /><circle class=r3 r=2.2 cx=96 cy=202.3 /><circle class=r1 r=2.8 cx=61.9 cy=209 /><circle class=r1 r=2.8 cx=56.4 cy=218.8 /><circle class=r3 r=2.2 cx=113.6 cy=237 /><circle class=r1 r=2.8 cx=67.1 cy=220.3 /><circle class=r1 r=2.8 cx=66.1 cy=213.8 /><circle class=r3 r=2.2 cx=98.5 cy=203.9 /><circle class=r1 r=2.8 cx=72.5 cy=224.1 /><circle class=r4 r=1.85 cx=99.7 cy=181.8 /><circle class=r4 r=1.85 cx=119.5 cy=185.3 /><circle class=r4 r=1.85 cx=96.5 cy=184.2 /><circle class=r1 r=2.8 cx=82.1 cy=213.5 /><circle class=r4 r=1.85 cx=95.6 cy=195.4 /><circle class=r4 r=1.85 cx=79.4 cy=193.2 /><circle class=r2 r=2.5 cx=85.3 cy=208.1 /><circle class=r1 r=2.8 cx=75 cy=229.2 /><circle class=r4 r=1.85 cx=94 cy=198.1 /><circle class=r5 r=1.4 cx=41.5 cy=164.5 /><circle class=r4 r=1.85 cx=102.7 cy=198.9 /><circle class=r3 r=2.2 cx=151.8 cy=249.8 /><circle class=r3 r=2.2 cx=69.6 cy=196.7 /><circle class=r4 r=1.85 cx=76.5 cy=184.8 /><circle class=r2 r=2.5 cx=90.9 cy=217.3 /><circle class=r2 r=2.5 cx=75.2 cy=208.6 /><circle class=r5 r=1.4 cx=24.6 cy=146.4 /><circle class=r3 r=2.2 cx=26.3 cy=245.2 /><circle class=r2 r=2.5 cx=22.9 cy=212.4 /><circle class=r2 r=2.5 cx=61.4 cy=236.9 /><circle class=r5 r=1.4 cx=136.9 cy=198 /><circle class=r2 r=2.5 cx=227 cy=289.3 /><circle class=r2 r=2.5 cx=122 cy=264.6 /><circle class=r4 r=1.85 cx=99.1 cy=195.3 /><circle class=r4 r=1.85 cx=80.4 cy=186.4 /><circle class=r1 r=2.8 cx=50.5 cy=224.3 /><circle class=r3 r=2.2 cx=114.8 cy=218.8 /><circle class=r3 r=2.2 cx=105.6 cy=206.9 /><circle class=r2 r=2.5 cx=74.7 cy=214.8 /><circle class=r3 r=2.2 cx=57 cy=197.5 /><circle class=r5 r=1.4 cx=112.6 cy=192.4 /><circle class=r2 r=2.5 cx=69.6 cy=201.7 /><circle class=r3 r=2.2 cx=112.6 cy=182.9 /><circle class=r3 r=2.2 cx=107.2 cy=268.9 /><circle class=r3 r=2.2 cx=109.3 cy=204 /><circle class=r1 r=2.8 cx=84.9 cy=215.4 /><circle class=r2 r=2.5 cx=79.1 cy=208.2 /><circle class=r4 r=1.85 cx=103.5 cy=180.4 /><circle class=r2 r=2.5 cx=46.2 cy=208 /><circle class=r3 r=2.2 cx=99.5 cy=228.1 /><circle class=r3 r=2.2 cx=127.7 cy=227 /><circle class=r3 r=2.2 cx=30 cy=229.8 /><circle class=r1 r=2.8 cx=66.1 cy=225.1 /><circle class=r1 r=2.8 cx=84.8 cy=216.8 /><circle class=r5 r=1.4 cx=67.9 cy=149.8 /><circle class=r4 r=1.85 cx=91.6 cy=194.4 /><circle class=r1 r=2.8 cx=75.2 cy=229.1 /><circle class=r1 r=2.8 cx=81.3 cy=219.7 /><circle class=r4 r=1.85 cx=80.6 cy=193.4 /><circle class=r2 r=2.5 cx=77.4 cy=209.4 /><circle class=r3 r=2.2 cx=97.8 cy=217.5 /><circle class=r2 r=2.5 cx=69.8 cy=248.4 /><circle class=r5 r=1.4 cx=157.1 cy=171.2 /><circle class=r2 r=2.5 cx=69.4 cy=235.6 /><circle class=r3 r=2.2 cx=132.5 cy=211.3 /><circle class=r1 r=2.8 cx=67 cy=219.9 /><circle class=r5 r=1.4 cx=147.2 cy=189 /><circle class=r3 r=2.2 cx=196 cy=185.3 /><circle class=r1 r=2.8 cx=84.5 cy=215.7 /><circle class=r2 r=2.5 cx=123.6 cy=263.1 /><circle class=r2 r=2.5 cx=55.2 cy=212.1 /><circle class=r2 r=2.5 cx=55.5 cy=211.8 /><circle class=r4 r=1.85 cx=135.2 cy=204.8 /><circle class=r4 r=1.85 cx=111 cy=193.7 /><circle class=r2 r=2.5 cx=84.3 cy=218.2 /><circle class=r3 r=2.2 cx=110.7 cy=200.1 /><circle class=r4 r=1.85 cx=13.2 cy=248.5 /><circle class=r4 r=1.85 cx=115.9 cy=213.6 /><circle class=r2 r=2.5 cx=89.4 cy=210.8 /><circle class=r2 r=2.5 cx=66.6 cy=206.6 /><circle class=r1 r=2.8 cx=81.2 cy=230.3 /><circle class=r2 r=2.5 cx=63.6 cy=226.1 /><circle class=r3 r=2.2 cx=125.9 cy=222.9 /><circle class=r4 r=1.85 cx=126 cy=203.6 /><circle class=r4 r=1.85 cx=137.5 cy=226.9 /><circle class=r2 r=2.5 cx=58.1 cy=212.5 /><circle class=r1 r=2.8 cx=73.9 cy=223.7 /><circle class=r2 r=2.5 cx=61.1 cy=237 /><circle class=r4 r=1.85 cx=117.5 cy=211.9 /><circle class=r3 r=2.2 cx=71.4 cy=251.9 /><circle class=r1 r=2.8 cx=78.2 cy=225.3 /><circle class=r4 r=1.85 cx=107.1 cy=181.8 /><circle class=r4 r=1.85 cx=76.2 cy=176 /><circle class=r3 r=2.2 cx=109.3 cy=254.6 /><circle class=r3 r=2.2 cx=112.4 cy=257 /><circle class=r1 r=2.8 cx=85.8 cy=223.1 /><circle class=r2 r=2.5 cx=84.6 cy=201.8 /><circle class=r3 r=2.2 cx=96.3 cy=209.2 /><circle class=r3 r=2.2 cx=113 cy=235.3 /><circle class=r2 r=2.5 cx=45.4 cy=225.9 /><circle class=r3 r=2.2 cx=94.7 cy=232.5 /><circle class=r4 r=1.85 cx=113.1 cy=227.7 /><circle class=r5 r=1.4 cx=110.9 cy=174.9 /><circle class=r4 r=1.85 cx=134.4 cy=213.5 /><circle class=r3 r=2.2 cx=155.3 cy=214 /><circle class=r4 r=1.85 cx=113 cy=184.2 /><circle class=r5 r=1.4 cx=144.8 cy=130.9 /><circle class=r1 r=2.8 cx=89.8 cy=221.6 /><circle class=r4 r=1.85 cx=91.5 cy=192 /><circle class=r3 r=2.2 cx=109.5 cy=258 /><circle class=r1 r=2.8 cx=90.7 cy=227.8 /><circle class=r5 r=1.4 cx=143.8 cy=135.8 /><circle class=r3 r=2.2 cx=111.9 cy=266.8 /><circle class=r2 r=2.5 cx=37.4 cy=228.9 /><circle class=r2 r=2.5 cx=89.5 cy=213.7 /><circle class=r4 r=1.85 cx=108.6 cy=190.9 /><circle class=r5 r=1.4 cx=184.7 cy=166.4 /><circle class=r5 r=1.4 cx=91.7 cy=170.9 /><circle class=r3 r=2.2 cx=99 cy=203.8 /><circle class=r4 r=1.85 cx=187 cy=190 /><circle class=r5 r=1.4 cx=176.4 cy=171.3 /><circle class=r5 r=1.4 cx=131.7 cy=183.2 /><circle class=r1 r=2.8 cx=85 cy=219.6 /><circle class=r3 r=2.2 cx=130.5 cy=259.3 /><circle class=r2 r=2.5 cx=59.8 cy=228.8 /><circle class=r1 r=2.8 cx=81.5 cy=218.8 /><circle class=r3 r=2.2 cx=84.1 cy=189.6 /><circle class=r1 r=2.8 cx=65.3 cy=212.1 /><circle class=r2 r=2.5 cx=93 cy=233.2 /><circle class=r2 r=2.5 cx=88 cy=231.2 /><circle class=r2 r=2.5 cx=91.6 cy=217.6 /><circle class=r1 r=2.8 cx=66.1 cy=207.9 /><circle class=r4 r=1.85 cx=115.8 cy=195.7 /><circle class=r3 r=2.2 cx=100.4 cy=248.2 /><circle class=r1 r=2.8 cx=78.2 cy=234.2 /><circle class=r2 r=2.5 cx=96.6 cy=235.7 /><circle class=r3 r=2.2 cx=99.4 cy=265 /><circle class=r5 r=1.4 cx=121 cy=145.4 /><circle class=r2 r=2.5 cx=80.1 cy=208.6 /><circle class=r3 r=2.2 cx=110.8 cy=268 /><circle class=r1 r=2.8 cx=61 cy=220.8 /><circle class=r3 r=2.2 cx=128.9 cy=226.1 /><circle class=r5 r=1.4 cx=149.8 cy=135.9 /><circle class=r2 r=2.5 cx=102.3 cy=235 /><circle class=r2 r=2.5 cx=100.7 cy=247.5 /><circle class=r3 r=2.2 cx=113 cy=227.7 /><circle class=r1 r=2.8 cx=68.3 cy=220.7 /><circle class=r1 r=2.8 cx=69.9 cy=229.4 /><circle class=r3 r=2.2 cx=58.1 cy=186 /><circle class=r5 r=1.4 cx=110 cy=174.9 /><circle class=r3 r=2.2 cx=129.7 cy=224.2 /><circle class=r4 r=1.85 cx=75.7 cy=185.2 /><circle class=r2 r=2.5 cx=99.9 cy=232 /><circle class=r3 r=2.2 cx=102.4 cy=204.1 /><circle class=r5 r=1.4 cx=101.8 cy=140.8 /><circle class=r4 r=1.85 cx=81.3 cy=180.8 /><circle class=r4 r=1.85 cx=95.1 cy=195 /><circle class=r3 r=2.2 cx=128.3 cy=223.3 /><circle class=r3 r=2.2 cx=54.1 cy=199.6 /><circle class=r4 r=1.85 cx=116.3 cy=200.9 /><circle class=r2 r=2.5 cx=96.2 cy=228.3 /><circle class=r2 r=2.5 cx=69.9 cy=215.2 /><circle class=r2 r=2.5 cx=88.5 cy=207.7 /><circle class=r2 r=2.5 cx=65.9 cy=207.6 /><circle class=r3 r=2.2 cx=106.1 cy=221.6 /><circle class=r2 r=2.5 cx=88.6 cy=231 /><circle class=r3 r=2.2 cx=96.6 cy=204.7 /><circle class=r5 r=1.4 cx=100.8 cy=139.5 /><circle class=r3 r=2.2 cx=106.5 cy=222.9 /><circle class=r4 r=1.85 cx=106.2 cy=194.5 /><circle class=r2 r=2.5 cx=68.9 cy=216.8 /><circle class=r3 r=2.2 cx=125 cy=257.4 /><circle class=r4 r=1.85 cx=96.8 cy=170.3 /><circle class=r4 r=1.85 cx=171 cy=173.5 /><circle class=r4 r=1.85 cx=147.9 cy=188.8 /><circle class=r4 r=1.85 cx=89.3 cy=197.4 /><circle class=r3 r=2.2 cx=105.1 cy=224.9 /><circle class=r3 r=2.2 cx=116.3 cy=235.2 /><circle class=r5 r=1.4 cx=146.7 cy=147 /><circle class=r1 r=2.8 cx=69.1 cy=226.3 /><circle class=r4 r=1.85 cx=104 cy=207.4 /><circle class=r3 r=2.2 cx=118.5 cy=231.1 /><circle class=r2 r=2.5 cx=51.7 cy=201.2 /><circle class=r5 r=1.4 cx=73.6 cy=131.6 /><circle class=r4 r=1.85 cx=111.2 cy=200.8 /><circle class=r2 r=2.5 cx=66.2 cy=209.2 /><circle class=r2 r=2.5 cx=70.2 cy=229.9 /><circle class=r4 r=1.85 cx=119.3 cy=206.2 /><circle class=r2 r=2.5 cx=98.9 cy=226.1 /><circle class=r5 r=1.4 cx=76.2 cy=178.5 /><circle class=r3 r=2.2 cx=94.7 cy=211.5 /><circle class=r4 r=1.85 cx=68.7 cy=194.2 /><circle class=r4 r=1.85 cx=67 cy=189.3 /><circle class=r5 r=1.4 cx=150.8 cy=171.7 /><circle class=r4 r=1.85 cx=92.5 cy=176 /><circle class=r4 r=1.85 cx=113.8 cy=205.1 /><circle class=r1 r=2.8 cx=73.7 cy=223.9 /><circle class=r4 r=1.85 cx=90.4 cy=175 /><circle class=r2 r=2.5 cx=72.1 cy=202.7 /><circle class=r3 r=2.2 cx=112.8 cy=204.1 /><circle class=r4 r=1.85 cx=116.9 cy=190.8 /><circle class=r3 r=2.2 cx=83.5 cy=197.5 /><circle class=r1 r=2.8 cx=66 cy=214.8 /><circle class=r1 r=2.8 cx=71.5 cy=224.5 /><circle class=r1 r=2.8 cx=55.7 cy=211.4 /><circle class=r2 r=2.5 cx=58.7 cy=208.5 /><circle class=r5 r=1.4 cx=120.6 cy=176.4 /><circle class=r5 r=1.4 cx=183.1 cy=137.8 /><circle class=r3 r=2.2 cx=95.9 cy=206.3 /><circle class=r1 r=2.8 cx=78.2 cy=233.8 /><circle class=r1 r=2.8 cx=92 cy=215.3 /><circle class=r4 r=1.85 cx=112.2 cy=205.2 /><circle class=r3 r=2.2 cx=159.5 cy=281.7 /><circle class=r1 r=2.8 cx=77.3 cy=234.5 /><circle class=r3 r=2.2 cx=106.7 cy=261.8 /><circle class=r4 r=1.85 cx=97.6 cy=177.3 /><circle class=r2 r=2.5 cx=85.8 cy=208.2 /><circle class=r4 r=1.85 cx=77.8 cy=192.5 /><circle class=r3 r=2.2 cx=89.6 cy=198.9 /><circle class=r5 r=1.4 cx=147.6 cy=119.3 /><circle class=r2 r=2.5 cx=120.3 cy=236.5 /><circle class=r1 r=2.8 cx=56.3 cy=220.4 /><circle class=r5 r=1.4 cx=119.9 cy=161.1 /><circle class=r1 r=2.8 cx=80.9 cy=218.2 /><circle class=r4 r=1.85 cx=100.1 cy=194 /><circle class=r3 r=2.2 cx=79.6 cy=196.5 /><circle class=r3 r=2.2 cx=166.7 cy=240.5 /><circle class=r1 r=2.8 cx=51.5 cy=217.9 /><circle class=r4 r=1.85 cx=99.3 cy=194.5 /><circle class=r2 r=2.5 cx=58.8 cy=210.7 /><circle class=r3 r=2.2 cx=106.1 cy=223.6 /><circle class=r5 r=1.4 cx=44.1 cy=154.7 /><circle class=r3 r=2.2 cx=104 cy=199.4 /><circle class=r5 r=1.4 cx=103.5 cy=136 /><circle class=r4 r=1.85 cx=160 cy=192 /><circle class=r1 r=2.8 cx=81.1 cy=223.2 /><circle class=r2 r=2.5 cx=87.1 cy=236.6 /><circle class=r3 r=2.2 cx=117.9 cy=211.1 /><circle class=r3 r=2.2 cx=121.9 cy=218.1 /><circle class=r2 r=2.5 cx=162.2 cy=282.7 /><circle class=r2 r=2.5 cx=91.4 cy=239.4 /><circle class=r4 r=1.85 cx=100.7 cy=193.6 /><circle class=r4 r=1.85 cx=83.2 cy=189.2 /><circle class=r1 r=2.8 cx=84.7 cy=219.1 /><circle class=r2 r=2.5 cx=95.2 cy=224.4 /><circle class=r2 r=2.5 cx=96.8 cy=223.8 /><circle class=r5 r=1.4 cx=130.6 cy=137.7 /><circle class=r5 r=1.4 cx=50.4 cy=149.6 /><circle class=r3 r=2.2 cx=97.7 cy=214.2 /><circle class=r4 r=1.85 cx=73.7 cy=178.8 /><circle class=r3 r=2.2 cx=113.2 cy=199.4 /><circle class=r2 r=2.5 cx=65.9 cy=212.3 /><circle class=r1 r=2.8 cx=45.2 cy=223.7 /><circle class=r4 r=1.85 cx=107.4 cy=185.9 /><circle class=r1 r=2.8 cx=79.4 cy=218.7 /><circle class=r3 r=2.2 cx=135.4 cy=262.6 /><circle class=r4 r=1.85 cx=138.7 cy=188.8 /><circle class=r5 r=1.4 cx=109.9 cy=129.4 /><circle class=r2 r=2.5 cx=74.8 cy=241.6 /><circle class=r3 r=2.2 cx=104.6 cy=216.4 /><circle class=r1 r=2.8 cx=87.3 cy=221.2 /><circle class=r3 r=2.2 cx=107.2 cy=223.2 /><circle class=r4 r=1.85 cx=133.5 cy=141.7 /><circle class=r1 r=2.8 cx=62.1 cy=224.5 /><circle class=r3 r=2.2 cx=101.3 cy=232.6 /><circle class=r4 r=1.85 cx=71.8 cy=198.5 /><circle class=r2 r=2.5 cx=101.1 cy=225.1 /><circle class=r2 r=2.5 cx=95.4 cy=226.1 /><circle class=r5 r=1.4 cx=41 cy=163.8 /><circle class=r2 r=2.5 cx=43.5 cy=224 /><circle class=r1 r=2.8 cx=36.8 cy=216.6 /><circle class=r4 r=1.85 cx=84.5 cy=184.1 /><circle class=r3 r=2.2 cx=100.8 cy=206.3 /><circle class=r2 r=2.5 cx=80.5 cy=214.4 /><circle class=r3 r=2.2 cx=106.4 cy=236.7 /><circle class=r3 r=2.2 cx=90.5 cy=197.6 /><circle class=r3 r=2.2 cx=87.7 cy=198.5 /><circle class=r3 r=2.2 cx=70.6 cy=201.4 /><circle class=r2 r=2.5 cx=81.3 cy=221.7 /><circle class=r1 r=2.8 cx=75 cy=223.8 /><circle class=r4 r=1.85 cx=131.3 cy=224.2 /><circle class=r2 r=2.5 cx=82.4 cy=210.2 /><circle class=r3 r=2.2 cx=168.9 cy=218.8 /><circle class=r2 r=2.5 cx=92.7 cy=217.3 /><circle class=r4 r=1.85 cx=123.7 cy=203.8 /><circle class=r4 r=1.85 cx=120.4 cy=250.2 /><circle class=r1 r=2.8 cx=55.1 cy=212.2 /><circle class=r1 r=2.8 cx=72.4 cy=216.2 /><circle class=r2 r=2.5 cx=92.7 cy=226.4 /><circle class=r3 r=2.2 cx=68.5 cy=202.3 /><circle class=r2 r=2.5 cx=92.6 cy=209.3 /><circle class=r4 r=1.85 cx=121.8 cy=218 /><circle class=r1 r=2.8 cx=78.5 cy=236 /><circle class=r3 r=2.2 cx=132 cy=264.4 /><circle class=r5 r=1.4 cx=201.2 cy=157.6 /><circle class=r1 r=2.8 cx=67.2 cy=212.5 /><circle class=r4 r=1.85 cx=65.7 cy=179.6 /><circle class=r5 r=1.4 cx=77.6 cy=134.2 /><circle class=r4 r=1.85 cx=129.8 cy=212.2 /><circle class=r4 r=1.85 cx=110.2 cy=194 /><circle class=r4 r=1.85 cx=125 cy=210.4 /><circle class=r4 r=1.85 cx=69.8 cy=192.7 /><circle class=r3 r=2.2 cx=103.3 cy=232.2 /><circle class=r3 r=2.2 cx=115.9 cy=222.6 /><circle class=r2 r=2.5 cx=85.4 cy=211.6 /><circle class=r1 r=2.8 cx=81.7 cy=217.7 /><circle class=r1 r=2.8 cx=73.2 cy=216.5 /><circle class=r4 r=1.85 cx=124.7 cy=182.1 /><circle class=r2 r=2.5 cx=72.8 cy=214.6 /><circle class=r3 r=2.2 cx=95.1 cy=241.5 /><circle class=r1 r=2.8 cx=82.9 cy=211.1 /><circle class=r3 r=2.2 cx=89.7 cy=202.8 /><circle class=r4 r=1.85 cx=152.8 cy=178.8 /><circle class=r1 r=2.8 cx=73.5 cy=223.1 /><circle class=r1 r=2.8 cx=64.6 cy=218.4 /><circle class=r4 r=1.85 cx=106.3 cy=181.3 /><circle class=r3 r=2.2 cx=97.3 cy=199.1 /><circle class=r1 r=2.8 cx=89.4 cy=217.6 /><circle class=r2 r=2.5 cx=72.8 cy=206.3 /><circle class=r5 r=1.4 cx=81.5 cy=168.7 /><circle class=r4 r=1.85 cx=72.3 cy=198.2 /><circle class=r2 r=2.5 cx=84.2 cy=208.9 /><circle class=r3 r=2.2 cx=77.8 cy=201.2 /><circle class=r3 r=2.2 cx=103.6 cy=227.8 /><circle class=r3 r=2.2 cx=165.9 cy=236 /><circle class=r2 r=2.5 cx=102.9 cy=221.1 /><circle class=r4 r=1.85 cx=168.3 cy=175.4 /><circle class=r4 r=1.85 cx=129.2 cy=212.6 /><circle class=r1 r=2.8 cx=89.2 cy=221.7 /><circle class=r4 r=1.85 cx=130.2 cy=211.4 /><circle class=r5 r=1.4 cx=172.1 cy=122.8 /><circle class=r5 r=1.4 cx=88.8 cy=138.8 /><circle class=r2 r=2.5 cx=105.4 cy=223.3 /><circle class=r3 r=2.2 cx=116 cy=247.8 /><circle class=r4 r=1.85 cx=188.7 cy=165.9 /><circle class=r4 r=1.85 cx=129.6 cy=214.2 /><circle class=r5 r=1.4 cx=96 cy=166.3 /><circle class=r2 r=2.5 cx=65.8 cy=209 /><circle class=r3 r=2.2 cx=61.2 cy=198.4 /><circle class=r4 r=1.85 cx=125.6 cy=204.2 /><circle class=r3 r=2.2 cx=160 cy=283.4 /><circle class=r4 r=1.85 cx=30 cy=161 /><circle class=r4 r=1.85 cx=165.5 cy=175.8 /><circle class=r4 r=1.85 cx=95.7 cy=195.5 /><circle class=r3 r=2.2 cx=106.5 cy=207.6 /><circle class=r2 r=2.5 cx=100.9 cy=225.7 /><circle class=r4 r=1.85 cx=119.9 cy=185.9 /><circle class=r4 r=1.85 cx=119 cy=209.5 /><circle class=r2 r=2.5 cx=119.3 cy=235.2 /><circle class=r3 r=2.2 cx=117.9 cy=222.2 /><circle class=r2 r=2.5 cx=93.5 cy=216.2 /><circle class=r2 r=2.5 cx=61.9 cy=210.9 /><circle class=r5 r=1.4 cx=67 cy=189.4 /><circle class=r1 r=2.8 cx=81.2 cy=221.5 /><circle class=r3 r=2.2 cx=99 cy=214.1 /><circle class=r3 r=2.2 cx=100.3 cy=214.5 /><circle class=r2 r=2.5 cx=79.5 cy=208.9 /><circle class=r5 r=1.4 cx=92.9 cy=169.8 /><circle class=r2 r=2.5 cx=31 cy=220 /><circle class=r1 r=2.8 cx=92.5 cy=219.6 /><circle class=r3 r=2.2 cx=98.3 cy=211.5 /><circle class=r4 r=1.85 cx=106 cy=208.6 /><circle class=r3 r=2.2 cx=111.3 cy=201.3 /><circle class=r3 r=2.2 cx=64 cy=192.9 /><circle class=r2 r=2.5 cx=20 cy=222 /><circle class=r3 r=2.2 cx=78.9 cy=204.7 /><circle class=r3 r=2.2 cx=93.2 cy=209.3 /><circle class=r2 r=2.5 cx=97.9 cy=216.3 /><circle class=r5 r=1.4 cx=110.6 cy=175 /><circle class=r2 r=2.5 cx=89.6 cy=213.4 /><circle class=r1 r=2.8 cx=91.1 cy=223.3 /><circle class=r2 r=2.5 cx=94.1 cy=227.9 /><circle class=r4 r=1.85 cx=116.2 cy=213.1 /><circle class=r4 r=1.85 cx=85.6 cy=186.6 /><circle class=r2 r=2.5 cx=53.8 cy=209.9 /><circle class=r1 r=2.8 cx=73.5 cy=233.9 /><circle class=r1 r=2.8 cx=90.2 cy=232.1 /><circle class=r2 r=2.5 cx=68.6 cy=205.3 /><circle class=r4 r=1.85 cx=120.3 cy=236.1 /><circle class=r1 r=2.8 cx=92.2 cy=225.5 /><circle class=r1 r=2.8 cx=59.3 cy=218 /><circle class=r2 r=2.5 cx=99.4 cy=224.4 /><circle class=r5 r=1.4 cx=163.3 cy=171.9 /><circle class=r5 r=1.4 cx=164.4 cy=164.1 /><circle class=r4 r=1.85 cx=124.8 cy=203.7 /><circle class=r2 r=2.5 cx=96.9 cy=217.4 /><circle class=r4 r=1.85 cx=57.8 cy=175.1 /><circle class=r2 r=2.5 cx=85.7 cy=218 /><circle class=r1 r=2.8 cx=90.9 cy=222.6 /><circle class=r5 r=1.4 cx=176.7 cy=171.2 /><circle class=r4 r=1.85 cx=132.9 cy=178.8 /><circle class=r5 r=1.4 cx=89.7 cy=142 /><circle class=r4 r=1.85 cx=152.8 cy=191.1 /><circle class=r5 r=1.4 cx=86.7 cy=148.4 /><circle class=r5 r=1.4 cx=151.9 cy=121 /><circle class=r4 r=1.85 cx=100.4 cy=187.9 /><circle class=r2 r=2.5 cx=68.2 cy=206.9 /><circle class=r4 r=1.85 cx=79.1 cy=187.6 /><circle class=r4 r=1.85 cx=71.9 cy=194.9 /><circle class=r4 r=1.85 cx=116.1 cy=195.7 /><circle class=r1 r=2.8 cx=84.6 cy=218.7 /><circle class=r2 r=2.5 cx=223.9 cy=186.6 /><circle class=r4 r=1.85 cx=129.5 cy=211.4 /><circle class=r5 r=1.4 cx=156.3 cy=119.8 /><circle class=r1 r=2.8 cx=72.3 cy=221.8 /><circle class=r4 r=1.85 cx=65.3 cy=189.3 /><circle class=r1 r=2.8 cx=34.8 cy=222.1 /><circle class=r5 r=1.4 cx=116.2 cy=194.9 /><circle class=r2 r=2.5 cx=95.2 cy=232.5 /><circle class=r5 r=1.4 cx=175.9 cy=128.9 /><circle class=r4 r=1.85 cx=98.3 cy=175.8 /><circle class=r5 r=1.4 cx=61.8 cy=150.1 /><circle class=r4 r=1.85 cx=107.4 cy=188.4 /><circle class=r4 r=1.85 cx=131.5 cy=176.4 /><circle class=r2 r=2.5 cx=67 cy=211.5 /><circle class=r4 r=1.85 cx=109.1 cy=198.4 /><circle class=r2 r=2.5 cx=72.4 cy=237.7 /><circle class=r1 r=2.8 cx=75 cy=227.2 /><circle class=r2 r=2.5 cx=90.3 cy=227.9 /><circle class=r1 r=2.8 cx=85.6 cy=219.1 /><circle class=r1 r=2.8 cx=67.2 cy=220.3 /><circle class=r1 r=2.8 cx=56.8 cy=221.6 /><circle class=r1 r=2.8 cx=83 cy=221 /><circle class=r4 r=1.85 cx=121.5 cy=227.8 /><circle class=r4 r=1.85 cx=129.3 cy=207 /><circle class=r2 r=2.5 cx=74.1 cy=206.4 /><circle class=r4 r=1.85 cx=115.8 cy=194.2 /><circle class=r2 r=2.5 cx=75.7 cy=210.5 /><circle class=r4 r=1.85 cx=104.2 cy=199.4 /><circle class=r4 r=1.85 cx=109.9 cy=191.4 /><circle class=r5 r=1.4 cx=36.6 cy=161 /><circle class=r4 r=1.85 cx=127.5 cy=198.5 /><circle class=r1 r=2.8 cx=76.8 cy=228 /><circle class=r5 r=1.4 cx=123 cy=167.8 /><circle class=r4 r=1.85 cx=69.6 cy=183.5 /><circle class=r1 r=2.8 cx=51.8 cy=219.2 /><circle class=r4 r=1.85 cx=104.1 cy=199 /><circle class=r2 r=2.5 cx=45.5 cy=209 /><circle class=r1 r=2.8 cx=72.3 cy=216.5 /><circle class=r5 r=1.4 cx=61.7 cy=149.6 /><circle class=r4 r=1.85 cx=112.3 cy=213.2 /><circle class=r1 r=2.8 cx=57.3 cy=215.7 /><circle class=r4 r=1.85 cx=121.7 cy=173.2 /><circle class=r5 r=1.4 cx=136.7 cy=142.6 /><circle class=r4 r=1.85 cx=136.9 cy=197.6 /><circle class=r2 r=2.5 cx=195.3 cy=222.6 /><circle class=r1 r=2.8 cx=82.9 cy=223.3 /><circle class=r2 r=2.5 cx=87.6 cy=207.4 /><circle class=r2 r=2.5 cx=91 cy=215.7 /><circle class=r1 r=2.8 cx=81 cy=216.1 /><circle class=r2 r=2.5 cx=88.8 cy=231 /><circle class=r2 r=2.5 cx=89.8 cy=212.6 /><circle class=r2 r=2.5 cx=111.7 cy=266.8 /><circle class=r4 r=1.85 cx=116.6 cy=248.7 /><circle class=r4 r=1.85 cx=124.1 cy=234.1 /><circle class=r4 r=1.85 cx=254.6 cy=141.5 /><circle class=r2 r=2.5 cx=70.6 cy=217.1 /><circle class=r1 r=2.8 cx=67.4 cy=209.8 /><circle class=r1 r=2.8 cx=240.4 cy=209.6 /><circle class=r4 r=1.85 cx=63.2 cy=190.7 /><circle class=r5 r=1.4 cx=95.4 cy=141 /><circle class=r4 r=1.85 cx=99.2 cy=195.2 /><circle class=r5 r=1.4 cx=32.2 cy=153.7 /><circle class=r4 r=1.85 cx=93.2 cy=192.4 /><circle class=r1 r=2.8 cx=58.4 cy=226.2 /><circle class=r4 r=1.85 cx=126.8 cy=210.8 /><circle class=r4 r=1.85 cx=131 cy=194.1 /><circle class=r4 r=1.85 cx=127.1 cy=199.1 /><circle class=r2 r=2.5 cx=81.6 cy=207.5 /><circle class=r2 r=2.5 cx=36.4 cy=221.5 /><circle class=r5 r=1.4 cx=50.8 cy=156.2 /><circle class=r1 r=2.8 cx=56.4 cy=221.8 /><circle class=r4 r=1.85 cx=118.2 cy=207.6 /><circle class=r4 r=1.85 cx=104.4 cy=199.3 /><circle class=r2 r=2.5 cx=65.2 cy=207.6 /><circle class=r2 r=2.5 cx=83.3 cy=200.5 /><circle class=r2 r=2.5 cx=74.1 cy=216 /><circle class=r4 r=1.85 cx=139.3 cy=188.5 /><circle class=r1 r=2.8 cx=62.4 cy=209.1 /><circle class=r4 r=1.85 cx=183.1 cy=181 /><circle class=r1 r=2.8 cx=86.1 cy=220 /><circle class=r2 r=2.5 cx=116.4 cy=234.5 /><circle class=r2 r=2.5 cx=110 cy=223.6 /><circle class=r2 r=2.5 cx=98.3 cy=219.8 /><circle class=r1 r=2.8 cx=74.7 cy=223.9 /><circle class=r1 r=2.8 cx=43.3 cy=222 /><circle class=r5 r=1.4 cx=187.6 cy=144.2 /><circle class=r1 r=2.8 cx=61.5 cy=227.4 /><circle class=r1 r=2.8 cx=80.3 cy=214.8 /><circle class=r4 r=1.85 cx=120 cy=186.8 /><circle class=r4 r=1.85 cx=88.9 cy=195 /><circle class=r1 r=2.8 cx=90 cy=221.7 /><circle class=r2 r=2.5 cx=105.8 cy=238 /><circle class=r2 r=2.5 cx=105.6 cy=236.7 /><circle class=r2 r=2.5 cx=80 cy=203.6 /><circle class=r5 r=1.4 cx=112.5 cy=155.7 /><circle class=r2 r=2.5 cx=88.5 cy=252.2 /><circle class=r2 r=2.5 cx=87.6 cy=249.9 /><circle class=r1 r=2.8 cx=66.5 cy=209.5 /><circle class=r4 r=1.85 cx=56 cy=197.3 /><circle class=r5 r=1.4 cx=41.3 cy=185.1 /><circle class=r4 r=1.85 cx=104 cy=182 /><circle class=r2 r=2.5 cx=64 cy=207.5 /><circle class=r2 r=2.5 cx=88.9 cy=215.8 /><circle class=r1 r=2.8 cx=88.1 cy=229.1 /><circle class=r2 r=2.5 cx=43.3 cy=226.3 /><circle class=r5 r=1.4 cx=144.6 cy=132.6 /><circle class=r1 r=2.8 cx=64.7 cy=208.5 /><circle class=r1 r=2.8 cx=88.6 cy=216.2 /><circle class=r4 r=1.85 cx=120.2 cy=204.6 /><circle class=r5 r=1.4 cx=179.1 cy=156 /><circle class=r5 r=1.4 cx=149.5 cy=176 /><circle class=r4 r=1.85 cx=64.7 cy=181.7 /><circle class=r4 r=1.85 cx=167.7 cy=198.1 /><circle class=r1 r=2.8 cx=90.6 cy=224.1 /><circle class=r2 r=2.5 cx=71.8 cy=238.9 /><circle class=r2 r=2.5 cx=97.8 cy=214.3 /><circle class=r2 r=2.5 cx=92 cy=209.7 /><circle class=r2 r=2.5 cx=38.6 cy=231.2 /><circle class=r4 r=1.85 cx=116.7 cy=191.1 /><circle class=r4 r=1.85 cx=108.1 cy=190.5 /><circle class=r4 r=1.85 cx=112.4 cy=189.9 /><circle class=r2 r=2.5 cx=88.2 cy=218.6 /><circle class=r2 r=2.5 cx=86.4 cy=213 /><circle class=r1 r=2.8 cx=78.7 cy=213.6 /><circle class=r2 r=2.5 cx=87.2 cy=217.9 /><circle class=r1 r=2.8 cx=70.2 cy=216.7 /><circle class=r4 r=1.85 cx=129.2 cy=213.4 /><circle class=r1 r=2.8 cx=40.6 cy=225 /><circle class=r2 r=2.5 cx=58.2 cy=212.7 /><circle class=r4 r=1.85 cx=124.4 cy=188.8 /><circle class=r2 r=2.5 cx=99.2 cy=225.4 /><circle class=r4 r=1.85 cx=112.5 cy=198 /><circle class=r4 r=1.85 cx=121.4 cy=184.3 /><circle class=r1 r=2.8 cx=79.4 cy=232 /><circle class=r5 r=1.4 cx=170 cy=152.2 /><circle class=r5 r=1.4 cx=201 cy=157.7 /><circle class=r1 r=2.8 cx=89 cy=218.2 /><circle class=r2 r=2.5 cx=82.7 cy=213.4 /><circle class=r2 r=2.5 cx=100.9 cy=225.8 /><circle class=r2 r=2.5 cx=88.6 cy=231.1 /><circle class=r1 r=2.8 cx=67.4 cy=220.2 /><circle class=r2 r=2.5 cx=90.1 cy=219.3 /><circle class=r2 r=2.5 cx=85.5 cy=215.6 /><circle class=r2 r=2.5 cx=72.5 cy=205.8 /><circle class=r1 r=2.8 cx=77.5 cy=234.2 /><circle class=r4 r=1.85 cx=53.5 cy=177.2 /><circle class=r4 r=1.85 cx=87 cy=197.8 /><circle class=r2 r=2.5 cx=95.5 cy=224.6 /><circle class=r4 r=1.85 cx=65.6 cy=194.8 /><circle class=r4 r=1.85 cx=72 cy=176.3 /><circle class=r2 r=2.5 cx=71.6 cy=228.5 /><circle class=r2 r=2.5 cx=69.2 cy=205.5 /><circle class=r5 r=1.4 cx=121.5 cy=146.1 /><circle class=r5 r=1.4 cx=143.3 cy=134.6 /><circle class=r4 r=1.85 cx=138.3 cy=202.6 /><circle class=r1 r=2.8 cx=61.3 cy=226.4 /><circle class=r1 r=2.8 cx=89.2 cy=221.5 /><circle class=r4 r=1.85 cx=103.7 cy=207.7 /><circle class=r5 r=1.4 cx=121.7 cy=144.3 /><circle class=r2 r=2.5 cx=67 cy=207.2 /><circle class=r4 r=1.85 cx=74.3 cy=186.7 /><circle class=r2 r=2.5 cx=51.1 cy=204.1 /><circle class=r1 r=2.8 cx=77.4 cy=227 /><circle class=r4 r=1.85 cx=99.4 cy=200.9 /><circle class=r1 r=2.8 cx=67 cy=220.4 /><circle class=r5 r=1.4 cx=164.5 cy=164.4 /><circle class=r1 r=2.8 cx=60.6 cy=225.7 /><circle class=r1 r=2.8 cx=88.8 cy=224.1 /><circle class=r4 r=1.85 cx=58.1 cy=186 /><circle class=r4 r=1.85 cx=102.6 cy=172.4 /><circle class=r4 r=1.85 cx=115.3 cy=207.7 /><circle class=r1 r=2.8 cx=65.4 cy=211.2 /><circle class=r1 r=2.8 cx=44.3 cy=226.3 /><circle class=r5 r=1.4 cx=88.4 cy=139 /><circle class=r5 r=1.4 cx=131 cy=166.2 /><circle class=r1 r=2.8 cx=62.8 cy=225.8 /><circle class=r1 r=2.8 cx=59.5 cy=212.5 /><circle class=r1 r=2.8 cx=61.4 cy=226.3 /><circle class=r5 r=1.4 cx=187 cy=144.2 /><circle class=r5 r=1.4 cx=29 cy=150.5 /><circle class=r1 r=2.8 cx=65.9 cy=221.2 /><circle class=r1 r=2.8 cx=89.2 cy=218 /><circle class=r1 r=2.8 cx=89.5 cy=220.2 /><circle class=r1 r=2.8 cx=70.5 cy=223.6 /><circle class=r1 r=2.8 cx=62.6 cy=226.5 /><circle class=r1 r=2.8 cx=89.8 cy=224.6 /><circle class=r1 r=2.8 cx=68.3 cy=243.3 /><circle class=r1 r=2.8 cx=73.8 cy=224.5 /><circle class=r1 r=2.8 cx=82.9 cy=222.9 /><circle class=r5 r=1.4 cx=118.4 cy=160.7 /><circle class=r1 r=2.8 cx=90.9 cy=229.7 /><circle class=r5 r=1.4 cx=115 cy=194.7 /><circle class=r1 r=2.8 cx=266.6 cy=197.6 /><circle class=r1 r=2.8 cx=90.6 cy=223.1 /><circle class=r1 r=2.8 cx=86.3 cy=225.3 /><circle class=r1 r=2.8 cx=89.5 cy=224.3 /><circle class=r1 r=2.8 cx=67.2 cy=208.3 /><circle class=r5 r=1.4 cx=121.3 cy=157.9 /><circle class=r5 r=1.4 cx=142.6 cy=127.9 /><circle class=r1 r=2.8 cx=79.1 cy=218 /><circle class=r5 r=1.4 cx=159 cy=170 /><circle class=r1 r=2.8 cx=41.1 cy=213.4 /><circle class=r1 r=2.8 cx=71.5 cy=215.3 /><circle class=r1 r=2.8 cx=79.3 cy=226.6 /><circle class=r1 r=2.8 cx=89.9 cy=223.7 /><circle class=r1 r=2.8 cx=95.2 cy=222.3 /><circle class=r1 r=2.8 cx=90.9 cy=224.1 /><circle class=r1 r=2.8 cx=69.4 cy=226.2 /><circle class=r1 r=2.8 cx=57.4 cy=215.1 /><circle class=r1 r=2.8 cx=76.7 cy=228.2 /><circle class=r1 r=2.8 cx=72.2 cy=217.1 /><circle class=r1 r=2.8 cx=59.7 cy=212.5 /><circle class=r5 r=1.4 cx=115.6 cy=174.5 /><circle class=r1 r=2.8 cx=69.7 cy=228.3 /><circle class=r1 r=2.8 cx=71.9 cy=234.8 /><circle class=r5 r=1.4 cx=182.9 cy=137.4 /><circle class=r1 r=2.8 cx=64.4 cy=218.8 /><circle class=r5 r=1.4 cx=153.7 cy=159.2 /><circle class=r1 r=2.8 cx=102.5 cy=234.4 /><circle class=r5 r=1.4 cx=86.4 cy=148.2 /><circle class=r1 r=2.8 cx=67.1 cy=219.8 /><circle class=r1 r=2.8 cx=90 cy=220.9 /><circle class=r1 r=2.8 cx=94.6 cy=222.5 /><circle class=r1 r=2.8 cx=86.4 cy=216.5 /><circle class=r1 r=2.8 cx=89.3 cy=224.6 /><circle class=r1 r=2.8 cx=84.7 cy=219.6 /><circle class=r1 r=2.8 cx=77.4 cy=234.8 /><circle class=r1 r=2.8 cx=67.1 cy=217.2 /><circle class=r5 r=1.4 cx=159.8 cy=185.8 /><circle class=r1 r=2.8 cx=61.5 cy=208.2 /><circle class=r1 r=2.8 cx=73.6 cy=224.1 /><circle class=r1 r=2.8 cx=76.8 cy=232.2 /><circle class=r5 r=1.4 cx=133 cy=155 /><circle class=r1 r=2.8 cx=91.4 cy=223.4 /><circle class=r5 r=1.4 cx=162.3 cy=171.3 /><circle class=r1 r=2.8 cx=61.2 cy=228.5 /><circle class=r5 r=1.4 cx=115.5 cy=174.2 /><circle class=r1 r=2.8 cx=58.5 cy=213 /><circle class=r1 r=2.8 cx=56.3 cy=222.5 /><circle class=r1 r=2.8 cx=63.3 cy=229.6 /><circle class=r1 r=2.8 cx=70.3 cy=227.9 /><circle class=r1 r=2.8 cx=73.5 cy=223.7 /><circle class=r5 r=1.4 cx=82.3 cy=181.2 /><circle class=r1 r=2.8 cx=55.9 cy=220 /><circle class=r1 r=2.8 cx=85.2 cy=218.3 /><circle class=r1 r=2.8 cx=64.2 cy=230.6 /><circle class=r5 r=1.4 cx=81.2 cy=157.8 /><circle class=r5 r=1.4 cx=98.2 cy=128 /><circle class=r5 r=1.4 cx=82.7 cy=134.5 /><circle class=r5 r=1.4 cx=161.4 cy=169.2 /><circle class=r5 r=1.4 cx=151.8 cy=172.4 /><circle class=r1 r=2.8 cx=55.3 cy=213.1 /><circle class=r5 r=1.4 cx=67.3 cy=173 /><circle class=r1 r=2.8 cx=78.8 cy=214.8 /><circle class=r5 r=1.4 cx=120.2 cy=158.3 /><circle class=r5 r=1.4 cx=150.7 cy=152.2 /><circle class=r1 r=2.8 cx=62.2 cy=226.5 /><circle class=r1 r=2.8 cx=90.1 cy=214.8 /><circle class=r5 r=1.4 cx=99.4 cy=147.7 /><circle class=r1 r=2.8 cx=62.1 cy=227.2 /><circle class=r1 r=2.8 cx=85 cy=228.2 /><circle class=r5 r=1.4 cx=132.9 cy=155.2 /><circle class=r1 r=2.8 cx=67.7 cy=209.2 /><circle class=r1 r=2.8 cx=83.9 cy=224.6 /><circle class=r1 r=2.8 cx=83.1 cy=225 /><circle class=r1 r=2.8 cx=89.8 cy=221.4 /><circle class=r1 r=2.8 cx=83.6 cy=227 /><circle class=r1 r=2.8 cx=56.5 cy=222.1 /><circle class=r1 r=2.8 cx=83.9 cy=228.4 /><circle class=r5 r=1.4 cx=116.7 cy=159.4 /><circle class=r1 r=2.8 cx=79.4 cy=213.9 /><circle class=r1 r=2.8 cx=87.4 cy=215.4 /><circle class=r5 r=1.4 cx=103.2 cy=135.5 /><circle class=r5 r=1.4 cx=110.1 cy=174.4 /><circle class=r5 r=1.4 cx=82.8 cy=143.9 /><circle class=r1 r=2.8 cx=54 cy=223.5 /><circle class=r1 r=2.8 cx=85.3 cy=219.1 /><circle class=r5 r=1.4 cx=88.5 cy=175.5 /><circle class=r5 r=1.4 cx=70.8 cy=192 /><circle class=r1 r=2.8 cx=67.2 cy=213.9 /><circle class=r1 r=2.8 cx=78.1 cy=218.6 /><circle class=r1 r=2.8 cx=87.8 cy=216.5 /><circle class=r1 r=2.8 cx=73.3 cy=218.4 /><circle class=r5 r=1.4 cx=155 cy=174.5 /><circle class=r1 r=2.8 cx=81.7 cy=218.7 /><circle class=r1 r=2.8 cx=75 cy=221.4 /><circle class=r1 r=2.8 cx=80.3 cy=231.4 /><circle class=r1 r=2.8 cx=61 cy=229.5 /><circle class=r1 r=2.8 cx=63.3 cy=218.6 /><circle class=r1 r=2.8 cx=91 cy=223 /><circle class=r1 r=2.8 cx=74 cy=235.6 /><circle class=r1 r=2.8 cx=72.9 cy=217 /><circle class=r1 r=2.8 cx=78.3 cy=216.5 /><circle class=r1 r=2.8 cx=71.6 cy=215.7 /><circle class=r1 r=2.8 cx=64.1 cy=210.1 /><circle class=r1 r=2.8 cx=72.9 cy=229.8 /><circle class=r1 r=2.8 cx=90.7 cy=227.6 /><circle class=r1 r=2.8 cx=83.7 cy=220.4 /><circle class=r1 r=2.8 cx=70.4 cy=227 /><circle class=r1 r=2.8 cx=72.8 cy=215.6 /><circle class=r1 r=2.8 cx=71.9 cy=224.9 /><circle class=r1 r=2.8 cx=87.8 cy=217.3 /><circle class=r1 r=2.8 cx=78.8 cy=217.3 /><circle class=r1 r=2.8 cx=53.8 cy=223.5 /><circle class=r1 r=2.8 cx=71 cy=223.6 /><circle class=r1 r=2.8 cx=55.4 cy=219.5 /><circle class=r1 r=2.8 cx=85.7 cy=221.5 /><circle class=r1 r=2.8 cx=57.5 cy=216.1 /><circle class=r1 r=2.8 cx=66.3 cy=219 /><circle class=r1 r=2.8 cx=72.1 cy=219.3 /><circle class=r1 r=2.8 cx=66.7 cy=217.7 /><circle class=r1 r=2.8 cx=89.8 cy=214.7 /><circle class=r1 r=2.8 cx=59.2 cy=212.3 /><circle class=r1 r=2.8 cx=63.5 cy=218.5 /><circle class=r1 r=2.8 cx=63.2 cy=217.6 /></g>
<use href="#scale"/>
</g>
<text x="1.3" y="966.3" class="lt" font-size="16.3">Legend</text><circle class="r1" r="2.8" cx="8.8" cy="983.4"/><text x="20.6" y="988.5" font-size="15.5" xml:space="preserve">-0.3027 - -0.2899</text><circle class="r2" r="2.5" cx="8.8" cy="1004"/><text x="20.6" y="1009.1" font-size="15.5" xml:space="preserve">-0.2898 - -0.2782</text><circle class="r3" r="2.2" cx="8.8" cy="1024.6"/><text x="20.6" y="1029.7" font-size="15.5" xml:space="preserve">-0.2781 - -0.2683</text><circle class="r4" r="1.85" cx="8.8" cy="1045.1"/><text x="20.6" y="1050.2" font-size="15.5" xml:space="preserve">-0.2682 - -0.2506</text><circle class="r5" r="1.4" cx="8.8" cy="1065.5"/><text x="20.6" y="1070.6" font-size="15.5" xml:space="preserve">-0.2505 - -0.2200</text>
<text x="161" y="1140.5" class="cap">(c) Estimated coefficients of</text><text x="161" y="1173" class="cap">car ownership</text><text x="161" y="1205.5" class="cap">for e-bike ownership</text>
<g transform="translate(369 618)">
<use href="#north"/>
<use href="#base"/>
<g class="pt"><circle class=b3 r=2.2 cx=104.4 cy=186.6 /><circle class=b3 r=2.2 cx=72.2 cy=198.3 /><circle class=b3 r=2.2 cx=64.1 cy=195.3 /><circle class=b3 r=2.2 cx=136.6 cy=209.2 /><circle class=b3 r=2.2 cx=84.1 cy=247 /><circle class=b3 r=2.2 cx=101.6 cy=196 /><circle class=b3 r=2.2 cx=129.8 cy=241.1 /><circle class=b3 r=2.2 cx=88.6 cy=244.4 /><circle class=b3 r=2.2 cx=142.5 cy=195.8 /><circle class=b3 r=2.2 cx=133.4 cy=207 /><circle class=b3 r=2.2 cx=120.9 cy=184.5 /><circle class=b3 r=2.2 cx=97.5 cy=176.1 /><circle class=b3 r=2.2 cx=104 cy=182 /><circle class=b3 r=2.2 cx=127.7 cy=226.7 /><circle class=b3 r=2.2 cx=57 cy=197.5 /><circle class=b3 r=2.2 cx=122.1 cy=217.9 /><circle class=b3 r=2.2 cx=109.6 cy=197.3 /><circle class=b3 r=2.2 cx=117.4 cy=211.8 /><circle class=b3 r=2.2 cx=107 cy=239.7 /><circle class=b3 r=2.2 cx=79.7 cy=186.4 /><circle class=b3 r=2.2 cx=130.5 cy=259.3 /><circle class=b3 r=2.2 cx=117.6 cy=207.5 /><circle class=b3 r=2.2 cx=116.6 cy=248.7 /><circle class=b3 r=2.2 cx=117.2 cy=196.6 /><circle class=b3 r=2.2 cx=93.6 cy=250.5 /><circle class=b3 r=2.2 cx=124.1 cy=182.1 /><circle class=b3 r=2.2 cx=92 cy=183.1 /><circle class=b3 r=2.2 cx=55.8 cy=206.6 /><circle class=b3 r=2.2 cx=126.1 cy=211.3 /><circle class=b3 r=2.2 cx=57.4 cy=215.1 /><circle class=b3 r=2.2 cx=100.5 cy=248.3 /><circle class=b3 r=2.2 cx=128.3 cy=223.3 /><circle class=b3 r=2.2 cx=24.5 cy=225.6 /><circle class=b3 r=2.2 cx=120 cy=186.8 /><circle class=b3 r=2.2 cx=108.1 cy=190.5 /><circle class=b3 r=2.2 cx=102.3 cy=188 /><circle class=b3 r=2.2 cx=70.8 cy=192 /><circle class=b3 r=2.2 cx=131 cy=213.5 /><circle class=b3 r=2.2 cx=144.5 cy=213.1 /><circle class=b3 r=2.2 cx=80.6 cy=193.4 /><circle class=b3 r=2.2 cx=132.5 cy=211.3 /><circle class=b3 r=2.2 cx=100.1 cy=233.2 /><circle class=b3 r=2.2 cx=104 cy=199.4 /><circle class=b3 r=2.2 cx=125.9 cy=263.7 /><circle class=b3 r=2.2 cx=46.2 cy=208 /><circle class=b3 r=2.2 cx=138.8 cy=224.3 /><circle class=b3 r=2.2 cx=87.6 cy=249.9 /><circle class=b3 r=2.2 cx=111.3 cy=201 /><circle class=b3 r=2.2 cx=125.3 cy=264.9 /><circle class=b3 r=2.2 cx=129.1 cy=258.2 /><circle class=b3 r=2.2 cx=120.2 cy=186.7 /><circle class=b3 r=2.2 cx=107.1 cy=181.8 /><circle class=b3 r=2.2 cx=166.7 cy=240.5 /><circle class=b3 r=2.2 cx=61.8 cy=196 /><circle class=b3 r=2.2 cx=115.8 cy=213.5 /><circle class=b3 r=2.2 cx=33.2 cy=237 /><circle class=b3 r=2.2 cx=139 cy=227.6 /><circle class=b3 r=2.2 cx=109.2 cy=187.6 /><circle class=b3 r=2.2 cx=125.6 cy=204.2 /><circle class=b3 r=2.2 cx=112.6 cy=182.9 /><circle class=b3 r=2.2 cx=130.2 cy=211.4 /><circle class=b3 r=2.2 cx=126.9 cy=227.2 /><circle class=b3 r=2.2 cx=36.8 cy=233 /><circle class=b3 r=2.2 cx=34.8 cy=222.1 /><circle class=b3 r=2.2 cx=85.3 cy=185.2 /><circle class=b3 r=2.2 cx=129.7 cy=224.2 /><circle class=b3 r=2.2 cx=135.5 cy=193.9 /><circle class=b3 r=2.2 cx=137.8 cy=208.9 /><circle class=b3 r=2.2 cx=36.8 cy=216.6 /><circle class=b3 r=2.2 cx=100.8 cy=188.6 /><circle class=b3 r=2.2 cx=132.4 cy=219.9 /><circle class=b3 r=2.2 cx=93.2 cy=192.4 /><circle class=b3 r=2.2 cx=134.4 cy=214.3 /><circle class=b3 r=2.2 cx=43.5 cy=224 /><circle class=b3 r=2.2 cx=79.5 cy=193.8 /><circle class=b3 r=2.2 cx=101.3 cy=177.7 /><circle class=b3 r=2.2 cx=58.1 cy=186 /><circle class=b3 r=2.2 cx=55.1 cy=207.6 /><circle class=b3 r=2.2 cx=70.2 cy=244.2 /><circle class=b3 r=2.2 cx=129.2 cy=213.4 /><circle class=b3 r=2.2 cx=136.4 cy=203.8 /><circle class=b3 r=2.2 cx=84.4 cy=188.9 /><circle class=b3 r=2.2 cx=42 cy=209.4 /><circle class=b3 r=2.2 cx=91.8 cy=207.3 /><circle class=b2 r=2.5 cx=129.3 cy=212.7 /><circle class=b2 r=2.5 cx=72.3 cy=243.5 /><circle class=b3 r=2.2 cx=123 cy=210.8 /><circle class=b2 r=2.5 cx=88.7 cy=236.4 /><circle class=b3 r=2.2 cx=113.4 cy=227.8 /><circle class=b4 r=1.85 cx=96.8 cy=170.3 /><circle class=b2 r=2.5 cx=62.1 cy=227.2 /><circle class=b2 r=2.5 cx=68.5 cy=202.3 /><circle class=b2 r=2.5 cx=102.4 cy=202.9 /><circle class=b3 r=2.2 cx=133.6 cy=225.8 /><circle class=b2 r=2.5 cx=98.5 cy=203.9 /><circle class=b2 r=2.5 cx=103.6 cy=229.1 /><circle class=b3 r=2.2 cx=127.5 cy=256.7 /><circle class=b2 r=2.5 cx=89 cy=218.2 /><circle class=b2 r=2.5 cx=102.3 cy=235 /><circle class=b3 r=2.2 cx=41.5 cy=237.6 /><circle class=b2 r=2.5 cx=69.5 cy=205.9 /><circle class=b3 r=2.2 cx=130.4 cy=221.6 /><circle class=b3 r=2.2 cx=100.6 cy=247.3 /><circle class=b4 r=1.85 cx=123.3 cy=159.2 /><circle class=b2 r=2.5 cx=73 cy=246.2 /><circle class=b3 r=2.2 cx=111.3 cy=266.4 /><circle class=b2 r=2.5 cx=107.4 cy=215 /><circle class=b3 r=2.2 cx=127.1 cy=199.1 /><circle class=b2 r=2.5 cx=106.5 cy=223.5 /><circle class=b2 r=2.5 cx=56.3 cy=220.4 /><circle class=b3 r=2.2 cx=111.1 cy=184.3 /><circle class=b2 r=2.5 cx=63.2 cy=214 /><circle class=b2 r=2.5 cx=68.3 cy=225.8 /><circle class=b4 r=1.85 cx=121.5 cy=175.7 /><circle class=b3 r=2.2 cx=115.9 cy=213.6 /><circle class=b3 r=2.2 cx=81.4 cy=233.2 /><circle class=b2 r=2.5 cx=92.7 cy=233 /><circle class=b3 r=2.2 cx=120.7 cy=207.1 /><circle class=b4 r=1.85 cx=72 cy=176.3 /><circle class=b3 r=2.2 cx=121.4 cy=184.3 /><circle class=b4 r=1.85 cx=164.2 cy=284.9 /><circle class=b2 r=2.5 cx=83.5 cy=229.9 /><circle class=b3 r=2.2 cx=101.1 cy=182.1 /><circle class=b4 r=1.85 cx=170.4 cy=270.6 /><circle class=b3 r=2.2 cx=128.8 cy=194.9 /><circle class=b3 r=2.2 cx=145.8 cy=214.8 /><circle class=b2 r=2.5 cx=116 cy=218.4 /><circle class=b2 r=2.5 cx=61.3 cy=226.4 /><circle class=b2 r=2.5 cx=90 cy=215 /><circle class=b4 r=1.85 cx=151.8 cy=172.4 /><circle class=b2 r=2.5 cx=63.6 cy=226.1 /><circle class=b2 r=2.5 cx=63.7 cy=231 /><circle class=b2 r=2.5 cx=69.2 cy=226.4 /><circle class=b4 r=1.85 cx=88.8 cy=174.8 /><circle class=b2 r=2.5 cx=115.9 cy=206.4 /><circle class=b2 r=2.5 cx=115.8 cy=194.2 /><circle class=b2 r=2.5 cx=70.6 cy=201.4 /><circle class=b2 r=2.5 cx=56.5 cy=222.1 /><circle class=b3 r=2.2 cx=128.9 cy=210.7 /><circle class=b2 r=2.5 cx=61 cy=229.5 /><circle class=b2 r=2.5 cx=65.4 cy=230.2 /><circle class=b2 r=2.5 cx=88.4 cy=195.3 /><circle class=b3 r=2.2 cx=105.8 cy=236.5 /><circle class=b2 r=2.5 cx=96.5 cy=201.4 /><circle class=b2 r=2.5 cx=112.1 cy=210.3 /><circle class=b2 r=2.5 cx=95.5 cy=202.2 /><circle class=b3 r=2.2 cx=95.1 cy=241.5 /><circle class=b2 r=2.5 cx=62.1 cy=218.1 /><circle class=b3 r=2.2 cx=58.8 cy=175.6 /><circle class=b2 r=2.5 cx=97.5 cy=207.7 /><circle class=b3 r=2.2 cx=122.8 cy=232.4 /><circle class=b2 r=2.5 cx=84.7 cy=207.5 /><circle class=b3 r=2.2 cx=125.9 cy=222.9 /><circle class=b2 r=2.5 cx=84 cy=246.6 /><circle class=b3 r=2.2 cx=83.7 cy=252.4 /><circle class=b2 r=2.5 cx=71.2 cy=198.8 /><circle class=b3 r=2.2 cx=103.5 cy=193.2 /><circle class=b3 r=2.2 cx=116.9 cy=190.8 /><circle class=b4 r=1.85 cx=121.7 cy=173.2 /><circle class=b2 r=2.5 cx=108.9 cy=205.8 /><circle class=b2 r=2.5 cx=70.8 cy=212.1 /><circle class=b3 r=2.2 cx=88.5 cy=252.2 /><circle class=b2 r=2.5 cx=105.4 cy=206.7 /><circle class=b2 r=2.5 cx=108.2 cy=232.9 /><circle class=b3 r=2.2 cx=126.7 cy=218.5 /><circle class=b3 r=2.2 cx=138.4 cy=206.2 /><circle class=b4 r=1.85 cx=174 cy=246.8 /><circle class=b2 r=2.5 cx=98 cy=203.2 /><circle class=b2 r=2.5 cx=69.1 cy=226.3 /><circle class=b3 r=2.2 cx=131.1 cy=192.5 /><circle class=b2 r=2.5 cx=102.1 cy=228 /><circle class=b3 r=2.2 cx=155.3 cy=214.3 /><circle class=b3 r=2.2 cx=115.9 cy=222.6 /><circle class=b3 r=2.2 cx=76.5 cy=184.8 /><circle class=b2 r=2.5 cx=61.9 cy=210.9 /><circle class=b2 r=2.5 cx=89.6 cy=198.9 /><circle class=b2 r=2.5 cx=89 cy=196 /><circle class=b4 r=1.85 cx=149.5 cy=176 /><circle class=b2 r=2.5 cx=101.1 cy=225.1 /><circle class=b3 r=2.2 cx=139.1 cy=202.3 /><circle class=b2 r=2.5 cx=61.5 cy=208.2 /><circle class=b2 r=2.5 cx=103.4 cy=202.9 /><circle class=b3 r=2.2 cx=106.4 cy=194.4 /><circle class=b3 r=2.2 cx=56.2 cy=207.9 /><circle class=b4 r=1.85 cx=130.6 cy=261.3 /><circle class=b4 r=1.85 cx=57.6 cy=191.3 /><circle class=b2 r=2.5 cx=87.4 cy=198.9 /><circle class=b3 r=2.2 cx=56.4 cy=218.8 /><circle class=b2 r=2.5 cx=55.7 cy=203.5 /><circle class=b2 r=2.5 cx=69.4 cy=226.2 /><circle class=b4 r=1.85 cx=79.4 cy=170 /><circle class=b3 r=2.2 cx=123.6 cy=263.1 /><circle class=b3 r=2.2 cx=100.4 cy=248.2 /><circle class=b3 r=2.2 cx=128.9 cy=226.1 /><circle class=b2 r=2.5 cx=103.7 cy=228.7 /><circle class=b3 r=2.2 cx=125.3 cy=204.3 /><circle class=b2 r=2.5 cx=84.1 cy=218 /><circle class=b3 r=2.2 cx=94.4 cy=244.8 /><circle class=b3 r=2.2 cx=108 cy=260.8 /><circle class=b3 r=2.2 cx=129.6 cy=214.2 /><circle class=b3 r=2.2 cx=111.3 cy=266.5 /><circle class=b2 r=2.5 cx=82.3 cy=249.4 /><circle class=b2 r=2.5 cx=103.5 cy=228.6 /><circle class=b4 r=1.85 cx=92.5 cy=176 /><circle class=b2 r=2.5 cx=58.1 cy=217.4 /><circle class=b2 r=2.5 cx=119.2 cy=205.2 /><circle class=b3 r=2.2 cx=101.8 cy=196 /><circle class=b4 r=1.85 cx=126 cy=223 /><circle class=b3 r=2.2 cx=108.5 cy=237 /><circle class=b3 r=2.2 cx=119.5 cy=187.4 /><circle class=b3 r=2.2 cx=41.4 cy=213.9 /><circle class=b3 r=2.2 cx=112.3 cy=253.3 /><circle class=b2 r=2.5 cx=66.1 cy=225.1 /><circle class=b2 r=2.5 cx=78.5 cy=236 /><circle class=b3 r=2.2 cx=111.7 cy=256.5 /><circle class=b4 r=1.85 cx=158.1 cy=271.5 /><circle class=b2 r=2.5 cx=68.3 cy=203.9 /><circle class=b3 r=2.2 cx=40.6 cy=225 /><circle class=b3 r=2.2 cx=119.8 cy=236.7 /><circle class=b3 r=2.2 cx=122.2 cy=265 /><circle class=b3 r=2.2 cx=74.3 cy=186.7 /><circle class=b2 r=2.5 cx=58.1 cy=212.5 /><circle class=b3 r=2.2 cx=63.7 cy=195.9 /><circle class=b2 r=2.5 cx=102.9 cy=229.1 /><circle class=b3 r=2.2 cx=118.4 cy=209.1 /><circle class=b3 r=2.2 cx=91.7 cy=248.4 /><circle class=b2 r=2.5 cx=112.3 cy=236 /><circle class=b4 r=1.85 cx=142.3 cy=218.4 /><circle class=b3 r=2.2 cx=112.4 cy=189.9 /><circle class=b2 r=2.5 cx=101.3 cy=232.6 /><circle class=b3 r=2.2 cx=56.8 cy=215.8 /><circle class=b3 r=2.2 cx=101.6 cy=253.8 /><circle class=b4 r=1.85 cx=89.7 cy=142 /><circle class=b3 r=2.2 cx=119.7 cy=212.7 /><circle class=b2 r=2.5 cx=73.5 cy=233.9 /><circle class=b3 r=2.2 cx=69.6 cy=183.5 /><circle class=b4 r=1.85 cx=120.6 cy=176.4 /><circle class=b4 r=1.85 cx=124.7 cy=182.1 /><circle class=b3 r=2.2 cx=120.9 cy=196.2 /><circle class=b2 r=2.5 cx=93.6 cy=230.2 /><circle class=b4 r=1.85 cx=168.9 cy=218.8 /><circle class=b2 r=2.5 cx=83 cy=231.8 /><circle class=b4 r=1.85 cx=170.2 cy=270.7 /><circle class=b2 r=2.5 cx=98.9 cy=196.7 /><circle class=b2 r=2.5 cx=56.2 cy=215.4 /><circle class=b4 r=1.85 cx=107.8 cy=171.6 /><circle class=b2 r=2.5 cx=93.7 cy=228 /><circle class=b4 r=1.85 cx=173.8 cy=198.1 /><circle class=b3 r=2.2 cx=101.6 cy=181.9 /><circle class=b2 r=2.5 cx=88.6 cy=198.1 /><circle class=b3 r=2.2 cx=121.2 cy=263.5 /><circle class=b2 r=2.5 cx=70.3 cy=227.9 /><circle class=b3 r=2.2 cx=137.5 cy=226.9 /><circle class=b3 r=2.2 cx=121.2 cy=269.3 /><circle class=b2 r=2.5 cx=77.5 cy=234.2 /><circle class=b2 r=2.5 cx=82.4 cy=210.2 /><circle class=b3 r=2.2 cx=108.7 cy=256.3 /><circle class=b2 r=2.5 cx=89.7 cy=202.8 /><circle class=b3 r=2.2 cx=101.4 cy=183.3 /><circle class=b2 r=2.5 cx=129.7 cy=208.9 /><circle class=b4 r=1.85 cx=122 cy=269 /><circle class=b3 r=2.2 cx=119.6 cy=203.3 /><circle class=b3 r=2.2 cx=116 cy=236.9 /><circle class=b2 r=2.5 cx=98.8 cy=197.8 /><circle class=b4 r=1.85 cx=64.2 cy=192.7 /><circle class=b4 r=1.85 cx=148.4 cy=187.7 /><circle class=b2 r=2.5 cx=77.2 cy=213.4 /><circle class=b3 r=2.2 cx=122.9 cy=233.1 /><circle class=b2 r=2.5 cx=72.1 cy=199.5 /><circle class=b2 r=2.5 cx=104.2 cy=205.6 /><circle class=b3 r=2.2 cx=124 cy=225.3 /><circle class=b3 r=2.2 cx=99.3 cy=267.4 /><circle class=b3 r=2.2 cx=70.6 cy=247.9 /><circle class=b4 r=1.85 cx=160.7 cy=269.6 /><circle class=b2 r=2.5 cx=55.3 cy=213.1 /><circle class=b3 r=2.2 cx=124.4 cy=263.9 /><circle class=b3 r=2.2 cx=22.9 cy=212.4 /><circle class=b3 r=2.2 cx=64.2 cy=193.1 /><circle class=b2 r=2.5 cx=59.5 cy=212.5 /><circle class=b2 r=2.5 cx=94 cy=198.1 /><circle class=b2 r=2.5 cx=75.8 cy=211.8 /><circle class=b3 r=2.2 cx=114.6 cy=203.8 /><circle class=b2 r=2.5 cx=82.3 cy=208.8 /><circle class=b2 r=2.5 cx=94.9 cy=233.2 /><circle class=b3 r=2.2 cx=84.3 cy=190.1 /><circle class=b2 r=2.5 cx=117.9 cy=211.1 /><circle class=b2 r=2.5 cx=62.5 cy=212.1 /><circle class=b3 r=2.2 cx=111.2 cy=200.8 /><circle class=b4 r=1.85 cx=151.3 cy=238.7 /><circle class=b2 r=2.5 cx=120.2 cy=196.3 /><circle class=b2 r=2.5 cx=95.1 cy=195 /><circle class=b3 r=2.2 cx=119.9 cy=249.6 /><circle class=b2 r=2.5 cx=90.1 cy=195.8 /><circle class=b2 r=2.5 cx=93.3 cy=198.4 /><circle class=b2 r=2.5 cx=96.1 cy=201.2 /><circle class=b3 r=2.2 cx=38.4 cy=224.1 /><circle class=b2 r=2.5 cx=59.8 cy=228.8 /><circle class=b2 r=2.5 cx=96.8 cy=223.8 /><circle class=b3 r=2.2 cx=144.5 cy=234.7 /><circle class=b3 r=2.2 cx=96.7 cy=189.3 /><circle class=b2 r=2.5 cx=83.9 cy=241.7 /><circle class=b3 r=2.2 cx=109.2 cy=194.7 /><circle class=b3 r=2.2 cx=96.8 cy=188.8 /><circle class=b2 r=2.5 cx=64 cy=207.5 /><circle class=b3 r=2.2 cx=118.4 cy=188.7 /><circle class=b2 r=2.5 cx=109.2 cy=225.1 /><circle class=b3 r=2.2 cx=66.1 cy=191.2 /><circle class=b2 r=2.5 cx=80 cy=193.8 /><circle class=b2 r=2.5 cx=56.3 cy=222.5 /><circle class=b3 r=2.2 cx=130.9 cy=253.3 /><circle class=b2 r=2.5 cx=84.2 cy=190.4 /><circle class=b2 r=2.5 cx=88.8 cy=231 /><circle class=b3 r=2.2 cx=101.1 cy=182.3 /><circle class=b3 r=2.2 cx=124.9 cy=225.3 /><circle class=b3 r=2.2 cx=72.1 cy=195.8 /><circle class=b3 r=2.2 cx=123.3 cy=233.1 /><circle class=b3 r=2.2 cx=111.9 cy=266.8 /><circle class=b2 r=2.5 cx=87.2 cy=230.1 /><circle class=b3 r=2.2 cx=82.6 cy=185.6 /><circle class=b2 r=2.5 cx=103.6 cy=227.8 /><circle class=b2 r=2.5 cx=68.2 cy=202.9 /><circle class=b2 r=2.5 cx=117.9 cy=202.1 /><circle class=b3 r=2.2 cx=125.1 cy=247.6 /><circle class=b2 r=2.5 cx=106.7 cy=261.8 /><circle class=b2 r=2.5 cx=79.4 cy=193.2 /><circle class=b2 r=2.5 cx=97 cy=227.8 /><circle class=b2 r=2.5 cx=61.7 cy=209.5 /><circle class=b3 r=2.2 cx=129.2 cy=213 /><circle class=b3 r=2.2 cx=91.2 cy=183.3 /><circle class=b3 r=2.2 cx=106.2 cy=194.5 /><circle class=b3 r=2.2 cx=110.1 cy=256.8 /><circle class=b3 r=2.2 cx=122 cy=264.6 /><circle class=b2 r=2.5 cx=109.3 cy=204 /><circle class=b2 r=2.5 cx=133.9 cy=226.5 /><circle class=b2 r=2.5 cx=120 cy=208.3 /><circle class=b2 r=2.5 cx=54 cy=217.8 /><circle class=b3 r=2.2 cx=64.6 cy=198.6 /><circle class=b3 r=2.2 cx=15.7 cy=233.5 /><circle class=b3 r=2.2 cx=115.8 cy=234 /><circle class=b3 r=2.2 cx=85.8 cy=244.6 /><circle class=b3 r=2.2 cx=135.2 cy=204.8 /><circle class=b3 r=2.2 cx=64.8 cy=191.6 /><circle class=b3 r=2.2 cx=125 cy=189.1 /><circle class=b2 r=2.5 cx=63.2 cy=217.6 /><circle class=b4 r=1.85 cx=124.4 cy=175.1 /><circle class=b2 r=2.5 cx=88.1 cy=235.2 /><circle class=b3 r=2.2 cx=28 cy=243 /><circle class=b3 r=2.2 cx=139.9 cy=225.2 /><circle class=b3 r=2.2 cx=114 cy=227.9 /><circle class=b3 r=2.2 cx=59.2 cy=212.8 /><circle class=b2 r=2.5 cx=116 cy=207.3 /><circle class=b2 r=2.5 cx=132 cy=246.6 /><circle class=b2 r=2.5 cx=99.4 cy=200.9 /><circle class=b3 r=2.2 cx=142.4 cy=215.9 /><circle class=b2 r=2.5 cx=70.4 cy=198.8 /><circle class=b2 r=2.5 cx=105.6 cy=236.8 /><circle class=b3 r=2.2 cx=65.2 cy=184.2 /><circle class=b3 r=2.2 cx=113.5 cy=182.7 /><circle class=b3 r=2.2 cx=132.9 cy=178.8 /><circle class=b3 r=2.2 cx=104.9 cy=262 /><circle class=b2 r=2.5 cx=88.9 cy=195 /><circle class=b2 r=2.5 cx=89.3 cy=199.1 /><circle class=b2 r=2.5 cx=65.6 cy=194.8 /><circle class=b3 r=2.2 cx=118.5 cy=231.1 /><circle class=b2 r=2.5 cx=68.3 cy=220.7 /><circle class=b3 r=2.2 cx=115.3 cy=195.6 /><circle class=b2 r=2.5 cx=80 cy=214.8 /><circle class=b3 r=2.2 cx=116.4 cy=234.5 /><circle class=b2 r=2.5 cx=93.3 cy=210.7 /><circle class=b2 r=2.5 cx=99.3 cy=225.5 /><circle class=b3 r=2.2 cx=110.7 cy=223.8 /><circle class=b2 r=2.5 cx=67 cy=220.4 /><circle class=b2 r=2.5 cx=66.2 cy=209.2 /><circle class=b4 r=1.85 cx=57.8 cy=175.1 /><circle class=b2 r=2.5 cx=88.1 cy=229.1 /><circle class=b2 r=2.5 cx=83.8 cy=193.3 /><circle class=b2 r=2.5 cx=91.8 cy=217.1 /><circle class=b3 r=2.2 cx=64.8 cy=201.7 /><circle class=b3 r=2.2 cx=105.8 cy=238 /><circle class=b2 r=2.5 cx=68.2 cy=206.9 /><circle class=b2 r=2.5 cx=108.8 cy=208.6 /><circle class=b3 r=2.2 cx=72.7 cy=243.5 /><circle class=b2 r=2.5 cx=115.3 cy=207.7 /><circle class=b2 r=2.5 cx=83.2 cy=189.2 /><circle class=b2 r=2.5 cx=110.3 cy=227.2 /><circle class=b3 r=2.2 cx=111.8 cy=200.9 /><circle class=b4 r=1.85 cx=53.5 cy=177.2 /><circle class=b2 r=2.5 cx=89.8 cy=214.7 /><circle class=b3 r=2.2 cx=129.8 cy=239.6 /><circle class=b3 r=2.2 cx=54.2 cy=177 /><circle class=b4 r=1.85 cx=13.5 cy=232.8 /><circle class=b2 r=2.5 cx=66.5 cy=209.4 /><circle class=b3 r=2.2 cx=100.8 cy=177.6 /><circle class=b2 r=2.5 cx=83.9 cy=246.8 /><circle class=b3 r=2.2 cx=133.9 cy=196.4 /><circle class=b3 r=2.2 cx=83.1 cy=179.5 /><circle class=b3 r=2.2 cx=117.7 cy=198.7 /><circle class=b2 r=2.5 cx=112.3 cy=213.2 /><circle class=b2 r=2.5 cx=76.4 cy=195.5 /><circle class=b3 r=2.2 cx=111.9 cy=194.3 /><circle class=b2 r=2.5 cx=79.3 cy=196.2 /><circle class=b3 r=2.2 cx=115.8 cy=195.7 /><circle class=b2 r=2.5 cx=58.5 cy=213 /><circle class=b3 r=2.2 cx=71.5 cy=193.3 /><circle class=b2 r=2.5 cx=71.6 cy=199.6 /><circle class=b3 r=2.2 cx=125.2 cy=266.5 /><circle class=b3 r=2.2 cx=44 cy=224.1 /><circle class=b2 r=2.5 cx=121.9 cy=217.3 /><circle class=b2 r=2.5 cx=63.3 cy=229.6 /><circle class=b3 r=2.2 cx=55.7 cy=211.4 /><circle class=b2 r=2.5 cx=82.1 cy=198 /><circle class=b2 r=2.5 cx=122.9 cy=211.5 /><circle class=b2 r=2.5 cx=77.3 cy=234.5 /><circle class=b3 r=2.2 cx=124.4 cy=188.8 /><circle class=b2 r=2.5 cx=95.7 cy=195.5 /><circle class=b3 r=2.2 cx=57.6 cy=186.6 /><circle class=b3 r=2.2 cx=84.5 cy=184.1 /><circle class=b3 r=2.2 cx=22.8 cy=215.1 /><circle class=b3 r=2.2 cx=77 cy=187.5 /><circle class=b3 r=2.2 cx=56.4 cy=233.4 /><circle class=b5 r=1.4 cx=169.6 cy=138.2 /><circle class=b3 r=2.2 cx=100.6 cy=188.4 /><circle class=b2 r=2.5 cx=105.2 cy=207 /><circle class=b4 r=1.85 cx=96.5 cy=184.2 /><circle class=b2 r=2.5 cx=98.6 cy=233 /><circle class=b3 r=2.2 cx=114.8 cy=218.8 /><circle class=b5 r=1.4 cx=162.3 cy=171.3 /><circle class=b2 r=2.5 cx=111 cy=193.7 /><circle class=b2 r=2.5 cx=56.4 cy=221.8 /><circle class=b3 r=2.2 cx=131.3 cy=224.2 /><circle class=b3 r=2.2 cx=127.4 cy=257.4 /><circle class=b3 r=2.2 cx=64.9 cy=189.4 /><circle class=b2 r=2.5 cx=130.3 cy=258.3 /><circle class=b2 r=2.5 cx=83.8 cy=223.5 /><circle class=b3 r=2.2 cx=58.9 cy=232 /><circle class=b5 r=1.4 cx=133.5 cy=141.7 /><circle class=b5 r=1.4 cx=187 cy=144.2 /><circle class=b2 r=2.5 cx=104 cy=228.2 /><circle class=b3 r=2.2 cx=112.6 cy=192.4 /><circle class=b2 r=2.5 cx=76 cy=211.7 /><circle class=b3 r=2.2 cx=53.8 cy=199.4 /><circle class=b5 r=1.4 cx=179.1 cy=156 /><circle class=b4 r=1.85 cx=58.7 cy=190.9 /><circle class=b2 r=2.5 cx=64.6 cy=201.3 /><circle class=b5 r=1.4 cx=147.6 cy=119.3 /><circle class=b3 r=2.2 cx=152 cy=200 /><circle class=b3 r=2.2 cx=120.1 cy=249.1 /><circle class=b2 r=2.5 cx=91.9 cy=209.1 /><circle class=b3 r=2.2 cx=121.5 cy=227.8 /><circle class=b2 r=2.5 cx=89.7 cy=199.9 /><circle class=b3 r=2.2 cx=130.1 cy=207.5 /><circle class=b4 r=1.85 cx=147.8 cy=174 /><circle class=b3 r=2.2 cx=132.9 cy=251.6 /><circle class=b3 r=2.2 cx=124.6 cy=250.2 /><circle class=b3 r=2.2 cx=115.6 cy=257.8 /><circle class=b2 r=2.5 cx=66.4 cy=216.3 /><circle class=b3 r=2.2 cx=146.1 cy=213.2 /><circle class=b5 r=1.4 cx=103.5 cy=136 /><circle class=b4 r=1.85 cx=110 cy=174.9 /><circle class=b2 r=2.5 cx=97.7 cy=231.2 /><circle class=b3 r=2.2 cx=119.3 cy=235.2 /><circle class=b2 r=2.5 cx=79.4 cy=208.5 /><circle class=b3 r=2.2 cx=129.3 cy=207 /><circle class=b3 r=2.2 cx=116.2 cy=195.5 /><circle class=b3 r=2.2 cx=113.9 cy=227.2 /><circle class=b3 r=2.2 cx=21.6 cy=213.1 /><circle class=b2 r=2.5 cx=90.5 cy=197.6 /><circle class=b3 r=2.2 cx=69.8 cy=192.7 /><circle class=b2 r=2.5 cx=62.9 cy=208.8 /><circle class=b3 r=2.2 cx=112.4 cy=257 /><circle class=b2 r=2.5 cx=93.1 cy=232.9 /><circle class=b2 r=2.5 cx=78.9 cy=234.2 /><circle class=b4 r=1.85 cx=165.1 cy=283.8 /><circle class=b3 r=2.2 cx=54.5 cy=189.4 /><circle class=b5 r=1.4 cx=164.5 cy=164.4 /><circle class=b5 r=1.4 cx=155 cy=174.5 /><circle class=b2 r=2.5 cx=55.9 cy=216.1 /><circle class=b3 r=2.2 cx=100.4 cy=187.9 /><circle class=b2 r=2.5 cx=100.9 cy=206.6 /><circle class=b5 r=1.4 cx=165.9 cy=171.3 /><circle class=b3 r=2.2 cx=75.8 cy=189.8 /><circle class=b4 r=1.85 cx=116 cy=247.8 /><circle class=b2 r=2.5 cx=110 cy=217 /><circle class=b2 r=2.5 cx=105.4 cy=210.2 /><circle class=b4 r=1.85 cx=65.7 cy=179.6 /><circle class=b2 r=2.5 cx=84.1 cy=218.9 /><circle class=b2 r=2.5 cx=68.8 cy=202.6 /><circle class=b3 r=2.2 cx=72.7 cy=240.7 /><circle class=b5 r=1.4 cx=176.4 cy=171.3 /><circle class=b2 r=2.5 cx=58.7 cy=208.5 /><circle class=b2 r=2.5 cx=89.5 cy=235.5 /><circle class=b2 r=2.5 cx=58.7 cy=212.6 /><circle class=b3 r=2.2 cx=120 cy=181 /><circle class=b2 r=2.5 cx=64.6 cy=218.4 /><circle class=b3 r=2.2 cx=109.2 cy=187.4 /><circle class=b5 r=1.4 cx=196 cy=185.3 /><circle class=b2 r=2.5 cx=143.3 cy=229.7 /><circle class=b3 r=2.2 cx=80.3 cy=185.6 /><circle class=b2 r=2.5 cx=124.9 cy=265.8 /><circle class=b3 r=2.2 cx=83.3 cy=182.9 /><circle class=b2 r=2.5 cx=86.5 cy=203.9 /><circle class=b4 r=1.85 cx=54.6 cy=180 /><circle class=b3 r=2.2 cx=66.6 cy=243 /><circle class=b5 r=1.4 cx=132.9 cy=175.1 /><circle class=b4 r=1.85 cx=26.3 cy=245.2 /><circle class=b5 r=1.4 cx=143.8 cy=135.8 /><circle class=b4 r=1.85 cx=200.9 cy=230.7 /><circle class=b5 r=1.4 cx=151.4 cy=156.9 /><circle class=b3 r=2.2 cx=75.1 cy=189.1 /><circle class=b3 r=2.2 cx=100.4 cy=182.3 /><circle class=b2 r=2.5 cx=62.8 cy=225.8 /><circle class=b2 r=2.5 cx=60.8 cy=226.5 /><circle class=b2 r=2.5 cx=109.5 cy=191.5 /><circle class=b3 r=2.2 cx=116 cy=203.4 /><circle class=b3 r=2.2 cx=30 cy=229.8 /><circle class=b4 r=1.85 cx=155.4 cy=213.1 /><circle class=b3 r=2.2 cx=45.4 cy=225.9 /><circle class=b4 r=1.85 cx=85.4 cy=178.4 /><circle class=b2 r=2.5 cx=66.5 cy=230.6 /><circle class=b3 r=2.2 cx=100.8 cy=187.7 /><circle class=b3 r=2.2 cx=88.5 cy=251.9 /><circle class=b3 r=2.2 cx=150.3 cy=224.4 /><circle class=b3 r=2.2 cx=107.4 cy=188.4 /><circle class=b2 r=2.5 cx=73.4 cy=196.6 /><circle class=b3 r=2.2 cx=68.3 cy=243.3 /><circle class=b3 r=2.2 cx=45.1 cy=208.1 /><circle class=b3 r=2.2 cx=122.4 cy=256.5 /><circle class=b5 r=1.4 cx=103.5 cy=134.7 /><circle class=b2 r=2.5 cx=96.6 cy=204.7 /><circle class=b3 r=2.2 cx=64.1 cy=193.6 /><circle class=b3 r=2.2 cx=120.4 cy=250.2 /><circle class=b3 r=2.2 cx=128.8 cy=257.5 /><circle class=b5 r=1.4 cx=98.2 cy=128 /><circle class=b2 r=2.5 cx=80.3 cy=231.4 /><circle class=b2 r=2.5 cx=65.2 cy=207.6 /><circle class=b3 r=2.2 cx=115.6 cy=195.3 /><circle class=b2 r=2.5 cx=65.6 cy=226.4 /><circle class=b2 r=2.5 cx=105 cy=226.3 /><circle class=b5 r=1.4 cx=188.7 cy=165.9 /><circle class=b2 r=2.5 cx=106.8 cy=224.5 /><circle class=b2 r=2.5 cx=83.7 cy=227.5 /><circle class=b2 r=2.5 cx=90.6 cy=246.4 /><circle class=b3 r=2.2 cx=91.2 cy=189 /><circle class=b4 r=1.85 cx=135.5 cy=188.1 /><circle class=b5 r=1.4 cx=103.5 cy=135.9 /><circle class=b2 r=2.5 cx=109 cy=209 /><circle class=b4 r=1.85 cx=64.7 cy=181.7 /><circle class=b5 r=1.4 cx=169.6 cy=236.1 /><circle class=b2 r=2.5 cx=88 cy=198.3 /><circle class=b4 r=1.85 cx=178.7 cy=214.4 /><circle class=b2 r=2.5 cx=103.6 cy=199.7 /><circle class=b3 r=2.2 cx=83.9 cy=246 /><circle class=b3 r=2.2 cx=134.4 cy=213.5 /><circle class=b5 r=1.4 cx=143.5 cy=131.6 /><circle class=b2 r=2.5 cx=101.3 cy=213.4 /><circle class=b4 r=1.85 cx=160.8 cy=264.6 /><circle class=b2 r=2.5 cx=118.2 cy=207.6 /><circle class=b3 r=2.2 cx=118.6 cy=180.3 /><circle class=b2 r=2.5 cx=115.6 cy=209.3 /><circle class=b3 r=2.2 cx=79.9 cy=193.5 /><circle class=b2 r=2.5 cx=100.9 cy=225.7 /><circle class=b5 r=1.4 cx=121.5 cy=146.1 /><circle class=b3 r=2.2 cx=129.5 cy=247.3 /><circle class=b3 r=2.2 cx=117.2 cy=250.5 /><circle class=b2 r=2.5 cx=81.9 cy=210.3 /><circle class=b2 r=2.5 cx=64.4 cy=218.8 /><circle class=b2 r=2.5 cx=98.8 cy=203.8 /><circle class=b3 r=2.2 cx=116.2 cy=213.1 /><circle class=b4 r=1.85 cx=110.7 cy=174.5 /><circle class=b2 r=2.5 cx=95 cy=208.3 /><circle class=b2 r=2.5 cx=120.7 cy=209.5 /><circle class=b2 r=2.5 cx=69.9 cy=215.2 /><circle class=b2 r=2.5 cx=88.6 cy=231 /><circle class=b4 r=1.85 cx=94.6 cy=245.1 /><circle class=b4 r=1.85 cx=88.5 cy=175.5 /><circle class=b5 r=1.4 cx=149.8 cy=135.9 /><circle class=b2 r=2.5 cx=77.4 cy=234.8 /><circle class=b3 r=2.2 cx=45.2 cy=223.7 /><circle class=b4 r=1.85 cx=26.3 cy=161.1 /><circle class=b2 r=2.5 cx=116.5 cy=192.1 /><circle class=b2 r=2.5 cx=109.4 cy=217.6 /><circle class=b3 r=2.2 cx=107.9 cy=260.8 /><circle class=b2 r=2.5 cx=97.6 cy=210.2 /><circle class=b4 r=1.85 cx=121.7 cy=175.7 /><circle class=b2 r=2.5 cx=56.8 cy=215.9 /><circle class=b1 r=2.8 cx=79.1 cy=218 /><circle class=b2 r=2.5 cx=113 cy=227.7 /><circle class=b3 r=2.2 cx=112.3 cy=255.8 /><circle class=b3 r=2.2 cx=123.9 cy=256.9 /><circle class=b2 r=2.5 cx=77.9 cy=234.4 /><circle class=b3 r=2.2 cx=55.3 cy=211.5 /><circle class=b3 r=2.2 cx=45.5 cy=209 /><circle class=b2 r=2.5 cx=79.4 cy=232 /><circle class=b1 r=2.8 cx=83.1 cy=218.5 /><circle class=b4 r=1.85 cx=107.6 cy=170.1 /><circle class=b3 r=2.2 cx=121.9 cy=184.8 /><circle class=b2 r=2.5 cx=94.6 cy=244.6 /><circle class=b3 r=2.2 cx=113 cy=184.2 /><circle class=b3 r=2.2 cx=135.2 cy=261.8 /><circle class=b1 r=2.8 cx=84.3 cy=208.1 /><circle class=b2 r=2.5 cx=95.2 cy=198.7 /><circle class=b3 r=2.2 cx=117.5 cy=211.9 /><circle class=b5 r=1.4 cx=227 cy=289.3 /><circle class=b2 r=2.5 cx=105 cy=219.5 /><circle class=b3 r=2.2 cx=121 cy=227.5 /><circle class=b3 r=2.2 cx=78.5 cy=237.2 /><circle class=b2 r=2.5 cx=78.2 cy=234.2 /><circle class=b3 r=2.2 cx=100.9 cy=247.2 /><circle class=b2 r=2.5 cx=84.1 cy=189.6 /><circle class=b1 r=2.8 cx=90.9 cy=224.1 /><circle class=b4 r=1.85 cx=169.8 cy=238.7 /><circle class=b2 r=2.5 cx=90.3 cy=199.6 /><circle class=b2 r=2.5 cx=106.5 cy=260.8 /><circle class=b2 r=2.5 cx=83.9 cy=224.6 /><circle class=b5 r=1.4 cx=97.7 cy=128.7 /><circle class=b3 r=2.2 cx=113.5 cy=190.3 /><circle class=b1 r=2.8 cx=88.2 cy=218.6 /><circle class=b3 r=2.2 cx=58.2 cy=212.7 /><circle class=b1 r=2.8 cx=92.8 cy=194 /><circle class=b1 r=2.8 cx=70.1 cy=213.7 /><circle class=b1 r=2.8 cx=72.2 cy=217.1 /><circle class=b2 r=2.5 cx=93.4 cy=192.7 /><circle class=b2 r=2.5 cx=65.9 cy=212.3 /><circle class=b3 r=2.2 cx=83.4 cy=181.5 /><circle class=b4 r=1.85 cx=119.2 cy=180.6 /><circle class=b2 r=2.5 cx=112.2 cy=205.2 /><circle class=b4 r=1.85 cx=147.9 cy=188.8 /><circle class=b2 r=2.5 cx=98 cy=200.2 /><circle class=b1 r=2.8 cx=90.1 cy=219.3 /><circle class=b1 r=2.8 cx=74.4 cy=204.9 /><circle class=b2 r=2.5 cx=118.2 cy=211.4 /><circle class=b2 r=2.5 cx=102.8 cy=218.6 /><circle class=b1 r=2.8 cx=65.8 cy=209 /><circle class=b3 r=2.2 cx=63.2 cy=196.4 /><circle class=b5 r=1.4 cx=163.3 cy=171.9 /><circle class=b4 r=1.85 cx=139.3 cy=188.5 /><circle class=b3 r=2.2 cx=100.9 cy=247.9 /><circle class=b3 r=2.2 cx=143.1 cy=229.5 /><circle class=b3 r=2.2 cx=64 cy=179.8 /><circle class=b2 r=2.5 cx=95.4 cy=226.1 /><circle class=b3 r=2.2 cx=125.8 cy=226.2 /><circle class=b2 r=2.5 cx=93.6 cy=210.8 /><circle class=b1 r=2.8 cx=90 cy=220.9 /><circle class=b1 r=2.8 cx=67.1 cy=219.8 /><circle class=b3 r=2.2 cx=32.5 cy=229 /><circle class=b2 r=2.5 cx=87 cy=197.8 /><circle class=b2 r=2.5 cx=62.4 cy=209.1 /><circle class=b2 r=2.5 cx=55.9 cy=220 /><circle class=b2 r=2.5 cx=93.7 cy=202.7 /><circle class=b3 r=2.2 cx=97 cy=188.8 /><circle class=b1 r=2.8 cx=84.5 cy=215.7 /><circle class=b2 r=2.5 cx=97.8 cy=217.5 /><circle class=b1 r=2.8 cx=82.1 cy=213.5 /><circle class=b2 r=2.5 cx=83.2 cy=223.2 /><circle class=b3 r=2.2 cx=37.4 cy=241.1 /><circle class=b3 r=2.2 cx=72.5 cy=192.8 /><circle class=b1 r=2.8 cx=73.5 cy=202.6 /><circle class=b3 r=2.2 cx=121.4 cy=231.5 /><circle class=b2 r=2.5 cx=72.4 cy=237.7 /><circle class=b3 r=2.2 cx=109.9 cy=192.1 /><circle class=b1 r=2.8 cx=89.5 cy=213.7 /><circle class=b4 r=1.85 cx=162 cy=284.9 /><circle class=b4 r=1.85 cx=108.6 cy=191.9 /><circle class=b3 r=2.2 cx=127.5 cy=214.9 /><circle class=b3 r=2.2 cx=123.6 cy=239.6 /><circle class=b2 r=2.5 cx=118.8 cy=198 /><circle class=b4 r=1.85 cx=158.7 cy=195.7 /><circle class=b2 r=2.5 cx=58.1 cy=213.1 /><circle class=b1 r=2.8 cx=91.4 cy=223.4 /><circle class=b2 r=2.5 cx=74 cy=235.6 /><circle class=b2 r=2.5 cx=89.8 cy=212.6 /><circle class=b2 r=2.5 cx=106.2 cy=200.9 /><circle class=b1 r=2.8 cx=73.8 cy=224.5 /><circle class=b4 r=1.85 cx=189.2 cy=237.5 /><circle class=b3 r=2.2 cx=113.6 cy=237 /><circle class=b2 r=2.5 cx=109.4 cy=194.5 /><circle class=b1 r=2.8 cx=71 cy=223.6 /><circle class=b3 r=2.2 cx=130.4 cy=257.1 /><circle class=b3 r=2.2 cx=62.7 cy=201.9 /><circle class=b1 r=2.8 cx=89.5 cy=224.3 /><circle class=b2 r=2.5 cx=119.3 cy=206.2 /><circle class=b3 r=2.2 cx=108.4 cy=259.8 /><circle class=b2 r=2.5 cx=119 cy=209.5 /><circle class=b3 r=2.2 cx=128.4 cy=224.8 /><circle class=b2 r=2.5 cx=88.7 cy=210 /><circle class=b5 r=1.4 cx=32.2 cy=153.7 /><circle class=b2 r=2.5 cx=94.9 cy=241.4 /><circle class=b3 r=2.2 cx=118.2 cy=214 /><circle class=b5 r=1.4 cx=121.3 cy=157.9 /><circle class=b3 r=2.2 cx=110.9 cy=234.1 /><circle class=b1 r=2.8 cx=88 cy=207.1 /><circle class=b5 r=1.4 cx=61.7 cy=149.6 /><circle class=b2 r=2.5 cx=74.8 cy=241.6 /><circle class=b1 r=2.8 cx=110 cy=216.8 /><circle class=b2 r=2.5 cx=71.9 cy=234.8 /><circle class=b3 r=2.2 cx=65.3 cy=196.5 /><circle class=b1 r=2.8 cx=82.9 cy=223.3 /><circle class=b2 r=2.5 cx=72.9 cy=232.7 /><circle class=b1 r=2.8 cx=82.9 cy=222.9 /><circle class=b3 r=2.2 cx=123.1 cy=256.6 /><circle class=b4 r=1.85 cx=167.7 cy=198.1 /><circle class=b5 r=1.4 cx=153.7 cy=159.2 /><circle class=b2 r=2.5 cx=103.7 cy=213.4 /><circle class=b1 r=2.8 cx=71.5 cy=224.5 /><circle class=b3 r=2.2 cx=128.7 cy=249.6 /><circle class=b1 r=2.8 cx=82.1 cy=199.7 /><circle class=b2 r=2.5 cx=95.3 cy=199.3 /><circle class=b5 r=1.4 cx=40.4 cy=156.2 /><circle class=b3 r=2.2 cx=119.5 cy=184.4 /><circle class=b1 r=2.8 cx=67.7 cy=209.2 /><circle class=b2 r=2.5 cx=111.4 cy=234.3 /><circle class=b5 r=1.4 cx=144.8 cy=130.9 /><circle class=b1 r=2.8 cx=88 cy=224.5 /><circle class=b2 r=2.5 cx=88.7 cy=198.5 /><circle class=b3 r=2.2 cx=123.3 cy=203.1 /><circle class=b1 r=2.8 cx=81.1 cy=213.4 /><circle class=b3 r=2.2 cx=61.2 cy=198.4 /><circle class=b2 r=2.5 cx=83.3 cy=198.2 /><circle class=b5 r=1.4 cx=167.4 cy=171.2 /><circle class=b4 r=1.85 cx=166.5 cy=185.8 /><circle class=b2 r=2.5 cx=96 cy=202.3 /><circle class=b1 r=2.8 cx=86.4 cy=213 /><circle class=b3 r=2.2 cx=126 cy=221.9 /><circle class=b3 r=2.2 cx=129.2 cy=212.6 /><circle class=b1 r=2.8 cx=71.5 cy=215.3 /><circle class=b3 r=2.2 cx=125 cy=257.4 /><circle class=b3 r=2.2 cx=59 cy=175 /><circle class=b5 r=1.4 cx=150.7 cy=152.2 /><circle class=b3 r=2.2 cx=71.6 cy=197.7 /><circle class=b3 r=2.2 cx=128.9 cy=264.9 /><circle class=b1 r=2.8 cx=82.8 cy=232.4 /><circle class=b3 r=2.2 cx=107.3 cy=236.1 /><circle class=b5 r=1.4 cx=61.8 cy=150.1 /><circle class=b1 r=2.8 cx=93.3 cy=211.7 /><circle class=b1 r=2.8 cx=88.8 cy=215.9 /><circle class=b3 r=2.2 cx=105.7 cy=270.6 /><circle class=b2 r=2.5 cx=104.1 cy=199 /><circle class=b2 r=2.5 cx=136.3 cy=228.2 /><circle class=b5 r=1.4 cx=161.4 cy=169.2 /><circle class=b5 r=1.4 cx=164.2 cy=140.3 /><circle class=b3 r=2.2 cx=51.1 cy=204.1 /><circle class=b1 r=2.8 cx=87 cy=223.5 /><circle class=b4 r=1.85 cx=168.3 cy=175.4 /><circle class=b4 r=1.85 cx=115.5 cy=174.2 /><circle class=b2 r=2.5 cx=54 cy=223.5 /><circle class=b4 r=1.85 cx=98.7 cy=176.8 /><circle class=b3 r=2.2 cx=126.7 cy=256.3 /><circle class=b2 r=2.5 cx=117.6 cy=208.8 /><circle class=b2 r=2.5 cx=83 cy=229.2 /><circle class=b2 r=2.5 cx=104 cy=228.9 /><circle class=b3 r=2.2 cx=53.8 cy=218.8 /><circle class=b1 r=2.8 cx=67.1 cy=220.3 /><circle class=b1 r=2.8 cx=81.3 cy=221.7 /><circle class=b2 r=2.5 cx=66 cy=214.8 /><circle class=b1 r=2.8 cx=75 cy=205 /><circle class=b3 r=2.2 cx=113.3 cy=236.8 /><circle class=b1 r=2.8 cx=94.4 cy=200.7 /><circle class=b3 r=2.2 cx=155.3 cy=214 /><circle class=b2 r=2.5 cx=89.7 cy=217 /><circle class=b2 r=2.5 cx=73.7 cy=223.9 /><circle class=b2 r=2.5 cx=64.7 cy=211.3 /><circle class=b2 r=2.5 cx=68.7 cy=242.3 /><circle class=b1 r=2.8 cx=81.7 cy=209.7 /><circle class=b2 r=2.5 cx=113.9 cy=224.9 /><circle class=b1 r=2.8 cx=73.7 cy=228.2 /><circle class=b2 r=2.5 cx=109.1 cy=198.4 /><circle class=b2 r=2.5 cx=108.7 cy=209 /><circle class=b2 r=2.5 cx=118.6 cy=231.9 /><circle class=b3 r=2.2 cx=134.7 cy=231.6 /><circle class=b1 r=2.8 cx=86.8 cy=213.3 /><circle class=b2 r=2.5 cx=105.6 cy=216.7 /><circle class=b4 r=1.85 cx=159.5 cy=281.7 /><circle class=b5 r=1.4 cx=201 cy=157.7 /><circle class=b3 r=2.2 cx=123.7 cy=203.8 /><circle class=b3 r=2.2 cx=115.7 cy=214.2 /><circle class=b3 r=2.2 cx=99.9 cy=196.9 /><circle class=b2 r=2.5 cx=72.1 cy=201.7 /><circle class=b1 r=2.8 cx=80 cy=203.6 /><circle class=b1 r=2.8 cx=93.6 cy=206.8 /><circle class=b1 r=2.8 cx=72.1 cy=215.1 /><circle class=b2 r=2.5 cx=100.7 cy=193.6 /><circle class=b3 r=2.2 cx=130.4 cy=240.5 /><circle class=b2 r=2.5 cx=106.4 cy=214.1 /><circle class=b4 r=1.85 cx=29.7 cy=241 /><circle class=b3 r=2.2 cx=116.7 cy=191.1 /><circle class=b3 r=2.2 cx=61.6 cy=237.2 /><circle class=b3 r=2.2 cx=135.2 cy=208 /><circle class=b2 r=2.5 cx=84.4 cy=222.1 /><circle class=b3 r=2.2 cx=56 cy=197.3 /><circle class=b3 r=2.2 cx=121.9 cy=211.9 /><circle class=b2 r=2.5 cx=126.8 cy=210.8 /><circle class=b3 r=2.2 cx=119.9 cy=236.9 /><circle class=b3 r=2.2 cx=44.3 cy=226.3 /><circle class=b5 r=1.4 cx=103.3 cy=134.9 /><circle class=b4 r=1.85 cx=159.8 cy=185.8 /><circle class=b3 r=2.2 cx=106.3 cy=181.3 /><circle class=b2 r=2.5 cx=74.2 cy=200.6 /><circle class=b1 r=2.8 cx=94.7 cy=211.5 /><circle class=b1 r=2.8 cx=84.7 cy=219.6 /><circle class=b1 r=2.8 cx=78.1 cy=218.6 /><circle class=b2 r=2.5 cx=66.7 cy=217.7 /><circle class=b1 r=2.8 cx=78.8 cy=217.3 /><circle class=b4 r=1.85 cx=119.8 cy=182.9 /><circle class=b5 r=1.4 cx=81.2 cy=157.8 /><circle class=b5 r=1.4 cx=133.6 cy=155.7 /><circle class=b1 r=2.8 cx=88.8 cy=218.4 /><circle class=b2 r=2.5 cx=122.5 cy=233.4 /><circle class=b2 r=2.5 cx=87.4 cy=207.1 /><circle class=b2 r=2.5 cx=85.7 cy=198 /><circle class=b2 r=2.5 cx=124.6 cy=217.4 /><circle class=b3 r=2.2 cx=54.1 cy=199.6 /><circle class=b3 r=2.2 cx=124.5 cy=240.3 /><circle class=b3 r=2.2 cx=131 cy=194.1 /><circle class=b2 r=2.5 cx=65.4 cy=211.2 /><circle class=b1 r=2.8 cx=96.4 cy=209 /><circle class=b3 r=2.2 cx=145.6 cy=211.8 /><circle class=b1 r=2.8 cx=68.2 cy=204.6 /><circle class=b3 r=2.2 cx=67.7 cy=196.3 /><circle class=b3 r=2.2 cx=107.4 cy=185.9 /><circle class=b3 r=2.2 cx=43.6 cy=209.4 /><circle class=b1 r=2.8 cx=80.9 cy=218.2 /><circle class=b2 r=2.5 cx=87.6 cy=202.5 /><circle class=b1 r=2.8 cx=85.8 cy=208.6 /><circle class=b3 r=2.2 cx=69.2 cy=193.2 /><circle class=b3 r=2.2 cx=99.4 cy=265 /><circle class=b3 r=2.2 cx=110.5 cy=267.7 /><circle class=b2 r=2.5 cx=96.2 cy=228.3 /><circle class=b5 r=1.4 cx=171 cy=173.5 /><circle class=b4 r=1.85 cx=160 cy=283.4 /><circle class=b2 r=2.5 cx=81.2 cy=219.8 /><circle class=b2 r=2.5 cx=138.5 cy=221.6 /><circle class=b2 r=2.5 cx=83.7 cy=218.6 /><circle class=b1 r=2.8 cx=99 cy=210.9 /><circle class=b2 r=2.5 cx=60.8 cy=226.8 /><circle class=b2 r=2.5 cx=65.6 cy=208 /><circle class=b2 r=2.5 cx=108.4 cy=192.4 /><circle class=b1 r=2.8 cx=81 cy=216.1 /><circle class=b4 r=1.85 cx=131.3 cy=153.5 /><circle class=b2 r=2.5 cx=71.8 cy=238.9 /><circle class=b1 r=2.8 cx=72.6 cy=214.6 /><circle class=b3 r=2.2 cx=102.1 cy=183.4 /><circle class=b3 r=2.2 cx=61.4 cy=236.9 /><circle class=b3 r=2.2 cx=130.9 cy=182 /><circle class=b2 r=2.5 cx=64.6 cy=201.6 /><circle class=b4 r=1.85 cx=121 cy=145.4 /><circle class=b1 r=2.8 cx=90.9 cy=217.3 /><circle class=b5 r=1.4 cx=48.3 cy=166.1 /><circle class=b3 r=2.2 cx=112.1 cy=252.7 /><circle class=b2 r=2.5 cx=91.5 cy=192 /><circle class=b2 r=2.5 cx=92 cy=215.3 /><circle class=b3 r=2.2 cx=35 cy=229.3 /><circle class=b1 r=2.8 cx=90.9 cy=197.1 /><circle class=b3 r=2.2 cx=130 cy=200.5 /><circle class=b1 r=2.8 cx=65.7 cy=220.7 /><circle class=b2 r=2.5 cx=74.9 cy=222.9 /><circle class=b2 r=2.5 cx=96.6 cy=235.7 /><circle class=b1 r=2.8 cx=92.6 cy=209.3 /><circle class=b3 r=2.2 cx=124.4 cy=196.9 /><circle class=b4 r=1.85 cx=35 cy=235 /><circle class=b2 r=2.5 cx=51.5 cy=217.9 /><circle class=b2 r=2.5 cx=99.4 cy=224.4 /><circle class=b2 r=2.5 cx=71.8 cy=198.5 /><circle class=b2 r=2.5 cx=97 cy=223 /><circle class=b2 r=2.5 cx=91.6 cy=193 /><circle class=b2 r=2.5 cx=73.3 cy=198.1 /><circle class=b3 r=2.2 cx=131.7 cy=183.2 /><circle class=b2 r=2.5 cx=85 cy=228.2 /><circle class=b1 r=2.8 cx=70.7 cy=218.9 /><circle class=b5 r=1.4 cx=254.6 cy=141.5 /><circle class=b2 r=2.5 cx=81 cy=203 /><circle class=b4 r=1.85 cx=199.7 cy=278.5 /><circle class=b2 r=2.5 cx=92 cy=209.7 /><circle class=b2 r=2.5 cx=108.8 cy=211.5 /><circle class=b3 r=2.2 cx=109.3 cy=254.6 /><circle class=b2 r=2.5 cx=66.8 cy=201.6 /><circle class=b3 r=2.2 cx=119.4 cy=208.6 /><circle class=b2 r=2.5 cx=88.9 cy=239.2 /><circle class=b3 r=2.2 cx=130.4 cy=245.1 /><circle class=b4 r=1.85 cx=67.3 cy=173 /><circle class=b3 r=2.2 cx=142 cy=197.3 /><circle class=b3 r=2.2 cx=110.9 cy=191.4 /><circle class=b4 r=1.85 cx=96 cy=166.3 /><circle class=b2 r=2.5 cx=82.6 cy=213.5 /><circle class=b5 r=1.4 cx=102.5 cy=131.1 /><circle class=b3 r=2.2 cx=99.7 cy=181.8 /><circle class=b3 r=2.2 cx=134.2 cy=212.7 /><circle class=b2 r=2.5 cx=85.6 cy=219.1 /><circle class=b3 r=2.2 cx=131.6 cy=212.8 /><circle class=b2 r=2.5 cx=115.4 cy=207.8 /><circle class=b1 r=2.8 cx=84.6 cy=206.7 /><circle class=b2 r=2.5 cx=89.6 cy=204 /><circle class=b3 r=2.2 cx=96.9 cy=194.6 /><circle class=b4 r=1.85 cx=95.6 cy=180.5 /><circle class=b5 r=1.4 cx=88.4 cy=139 /><circle class=b4 r=1.85 cx=96.7 cy=180.9 /><circle class=b2 r=2.5 cx=103.2 cy=229.2 /><circle class=b2 r=2.5 cx=115 cy=194.7 /><circle class=b4 r=1.85 cx=102.6 cy=172.4 /><circle class=b3 r=2.2 cx=122.3 cy=175.1 /><circle class=b2 r=2.5 cx=100.8 cy=182.3 /><circle class=b2 r=2.5 cx=90 cy=205.7 /><circle class=b1 r=2.8 cx=109.8 cy=222.3 /><circle class=b2 r=2.5 cx=67 cy=189.4 /><circle class=b3 r=2.2 cx=76 cy=184.4 /><circle class=b1 r=2.8 cx=79 cy=204.2 /><circle class=b3 r=2.2 cx=61 cy=191.2 /><circle class=b1 r=2.8 cx=75.9 cy=211.8 /><circle class=b1 r=2.8 cx=79.1 cy=208.2 /><circle class=b3 r=2.2 cx=103.5 cy=180.4 /><circle class=b4 r=1.85 cx=172.1 cy=206.6 /><circle class=b3 r=2.2 cx=91.6 cy=183.4 /><circle class=b5 r=1.4 cx=24.6 cy=146.4 /><circle class=b3 r=2.2 cx=135.4 cy=262.6 /><circle class=b4 r=1.85 cx=109 cy=174.2 /><circle class=b3 r=2.2 cx=66.1 cy=196.5 /><circle class=b2 r=2.5 cx=87.7 cy=198.5 /><circle class=b1 r=2.8 cx=82.2 cy=212 /><circle class=b3 r=2.2 cx=114.1 cy=231.5 /><circle class=b2 r=2.5 cx=88.9 cy=195 /><circle class=b2 r=2.5 cx=114.1 cy=228.7 /><circle class=b3 r=2.2 cx=128.3 cy=194.6 /><circle class=b3 r=2.2 cx=110.8 cy=268 /><circle class=b1 r=2.8 cx=66.3 cy=219 /><circle class=b3 r=2.2 cx=31.5 cy=239 /><circle class=b5 r=1.4 cx=170 cy=152.2 /><circle class=b3 r=2.2 cx=11.5 cy=230.5 /><circle class=b1 r=2.8 cx=68.4 cy=211.8 /><circle class=b1 r=2.8 cx=95.1 cy=216 /><circle class=b2 r=2.5 cx=55.2 cy=204.6 /><circle class=b1 r=2.8 cx=93.2 cy=233.6 /><circle class=b3 r=2.2 cx=124.1 cy=234.1 /><circle class=b2 r=2.5 cx=64.3 cy=225.5 /><circle class=b3 r=2.2 cx=128.9 cy=266 /><circle class=b2 r=2.5 cx=103.1 cy=221.5 /><circle class=b1 r=2.8 cx=95.2 cy=217.7 /><circle class=b4 r=1.85 cx=151 cy=220.4 /><circle class=b1 r=2.8 cx=82.7 cy=213.4 /><circle class=b4 r=1.85 cx=195 cy=230.8 /><circle class=b2 r=2.5 cx=70.3 cy=197.1 /><circle class=b3 r=2.2 cx=115.3 cy=223.6 /><circle class=b3 r=2.2 cx=83.6 cy=176.2 /><circle class=b2 r=2.5 cx=82.2 cy=196.6 /><circle class=b2 r=2.5 cx=123.7 cy=208.1 /><circle class=b5 r=1.4 cx=131 cy=166.2 /><circle class=b4 r=1.85 cx=136.9 cy=197.6 /><circle class=b2 r=2.5 cx=64.5 cy=206.7 /><circle class=b2 r=2.5 cx=105.8 cy=216.1 /><circle class=b1 r=2.8 cx=68.5 cy=226.1 /><circle class=b3 r=2.2 cx=136.1 cy=197.3 /><circle class=b2 r=2.5 cx=94.7 cy=219 /><circle class=b5 r=1.4 cx=140.8 cy=132.1 /><circle class=b1 r=2.8 cx=96 cy=208.2 /><circle class=b5 r=1.4 cx=182.9 cy=137.4 /><circle class=b2 r=2.5 cx=74.3 cy=230.2 /><circle class=b2 r=2.5 cx=83.1 cy=189.9 /><circle class=b3 r=2.2 cx=129.5 cy=198.7 /><circle class=b2 r=2.5 cx=85.1 cy=186.9 /><circle class=b1 r=2.8 cx=89.6 cy=213.4 /><circle class=b1 r=2.8 cx=87.1 cy=214.2 /><circle class=b2 r=2.5 cx=57.5 cy=216.1 /><circle class=b4 r=1.85 cx=132.5 cy=183.7 /><circle class=b5 r=1.4 cx=223.9 cy=186.6 /><circle class=b4 r=1.85 cx=51.3 cy=176.2 /><circle class=b3 r=2.2 cx=51.4 cy=202 /><circle class=b3 r=2.2 cx=118.4 cy=254.5 /><circle class=b2 r=2.5 cx=65.4 cy=196.5 /><circle class=b2 r=2.5 cx=88.3 cy=207.2 /><circle class=b3 r=2.2 cx=70.3 cy=247.1 /><circle class=b4 r=1.85 cx=64 cy=192.9 /><circle class=b2 r=2.5 cx=68.7 cy=203.7 /><circle class=b2 r=2.5 cx=93.5 cy=216.2 /><circle class=b3 r=2.2 cx=98.5 cy=264.6 /><circle class=b2 r=2.5 cx=99 cy=205.7 /><circle class=b5 r=1.4 cx=159.8 cy=126.6 /><circle class=b2 r=2.5 cx=100 cy=199.4 /><circle class=b2 r=2.5 cx=107.1 cy=214.8 /><circle class=b1 r=2.8 cx=85.9 cy=219.5 /><circle class=b3 r=2.2 cx=72.4 cy=238.8 /><circle class=b1 r=2.8 cx=81 cy=215 /><circle class=b3 r=2.2 cx=118.9 cy=209.2 /><circle class=b2 r=2.5 cx=64.9 cy=206.1 /><circle class=b2 r=2.5 cx=104.6 cy=207.5 /><circle class=b2 r=2.5 cx=73.4 cy=201.9 /><circle class=b2 r=2.5 cx=66.3 cy=204.5 /><circle class=b1 r=2.8 cx=99.2 cy=225.4 /><circle class=b3 r=2.2 cx=117.5 cy=208.1 /><circle class=b2 r=2.5 cx=83.6 cy=227 /><circle class=b5 r=1.4 cx=116.7 cy=159.4 /><circle class=b3 r=2.2 cx=144.3 cy=229.7 /><circle class=b5 r=1.4 cx=188.3 cy=165.5 /><circle class=b3 r=2.2 cx=83.7 cy=254.8 /><circle class=b3 r=2.2 cx=36.4 cy=221.5 /><circle class=b3 r=2.2 cx=115.9 cy=196.4 /><circle class=b2 r=2.5 cx=96.3 cy=225.3 /><circle class=b3 r=2.2 cx=109 cy=232.5 /><circle class=b1 r=2.8 cx=78.9 cy=204.7 /><circle class=b1 r=2.8 cx=85.9 cy=219.3 /><circle class=b4 r=1.85 cx=189.4 cy=236.9 /><circle class=b2 r=2.5 cx=83.8 cy=197.9 /><circle class=b4 r=1.85 cx=90.1 cy=169.1 /><circle class=b5 r=1.4 cx=123 cy=167.8 /><circle class=b3 r=2.2 cx=99.2 cy=195.2 /><circle class=b1 r=2.8 cx=65.5 cy=207 /><circle class=b2 r=2.5 cx=93.3 cy=232.1 /><circle class=b3 r=2.2 cx=111 cy=236.4 /><circle class=b3 r=2.2 cx=126.9 cy=267.5 /><circle class=b1 r=2.8 cx=87.8 cy=216.5 /><circle class=b3 r=2.2 cx=131.8 cy=208.2 /><circle class=b5 r=1.4 cx=185.3 cy=166.3 /><circle class=b5 r=1.4 cx=177.3 cy=181.5 /><circle class=b2 r=2.5 cx=82.9 cy=198.8 /><circle class=b1 r=2.8 cx=83.7 cy=213.5 /><circle class=b1 r=2.8 cx=82.2 cy=210.6 /><circle class=b2 r=2.5 cx=80.5 cy=257.1 /><circle class=b1 r=2.8 cx=76.8 cy=232.2 /><circle class=b4 r=1.85 cx=76.2 cy=176 /><circle class=b4 r=1.85 cx=51.2 cy=189.2 /><circle class=b2 r=2.5 cx=69.7 cy=228.9 /><circle class=b2 r=2.5 cx=101.9 cy=196.2 /><circle class=b3 r=2.2 cx=107.9 cy=236.9 /><circle class=b2 r=2.5 cx=84.9 cy=233.3 /><circle class=b2 r=2.5 cx=90.6 cy=196 /><circle class=b1 r=2.8 cx=96.1 cy=200.6 /><circle class=b1 r=2.8 cx=69 cy=206.9 /><circle class=b3 r=2.2 cx=151.8 cy=249.8 /><circle class=b1 r=2.8 cx=93.3 cy=206.9 /><circle class=b2 r=2.5 cx=84.6 cy=202.1 /><circle class=b2 r=2.5 cx=83.5 cy=197.5 /><circle class=b2 r=2.5 cx=100.2 cy=202.8 /><circle class=b1 r=2.8 cx=94 cy=216.4 /><circle class=b1 r=2.8 cx=96.9 cy=217.4 /><circle class=b3 r=2.2 cx=120 cy=250.5 /><circle class=b5 r=1.4 cx=183.1 cy=137.8 /><circle class=b3 r=2.2 cx=129.5 cy=211.4 /><circle class=b2 r=2.5 cx=67.4 cy=211.3 /><circle class=b4 r=1.85 cx=136.9 cy=205 /><circle class=b3 r=2.2 cx=101 cy=225.6 /><circle class=b1 r=2.8 cx=89.8 cy=224.6 /><circle class=b5 r=1.4 cx=180.2 cy=170.4 /><circle class=b3 r=2.2 cx=45.9 cy=208.8 /><circle class=b2 r=2.5 cx=63.6 cy=223.1 /><circle class=b3 r=2.2 cx=67.2 cy=213.9 /><circle class=b3 r=2.2 cx=108.6 cy=190.9 /><circle class=b3 r=2.2 cx=129.8 cy=212.2 /><circle class=b1 r=2.8 cx=66.1 cy=213.8 /><circle class=b2 r=2.5 cx=121.9 cy=218.1 /><circle class=b2 r=2.5 cx=78.7 cy=196.3 /><circle class=b1 r=2.8 cx=88.6 cy=216.2 /><circle class=b1 r=2.8 cx=79.2 cy=218.6 /><circle class=b5 r=1.4 cx=184.7 cy=166.4 /><circle class=b5 r=1.4 cx=169.1 cy=141.3 /><circle class=b3 r=2.2 cx=52 cy=219.4 /><circle class=b3 r=2.2 cx=128.1 cy=253.2 /><circle class=b2 r=2.5 cx=61.8 cy=227.3 /><circle class=b2 r=2.5 cx=85.3 cy=219.1 /><circle class=b5 r=1.4 cx=185 cy=139.8 /><circle class=b3 r=2.2 cx=109.5 cy=258 /><circle class=b2 r=2.5 cx=110 cy=223.6 /><circle class=b2 r=2.5 cx=95.4 cy=201.5 /><circle class=b3 r=2.2 cx=116.2 cy=202.8 /><circle class=b3 r=2.2 cx=92.5 cy=190.8 /><circle class=b2 r=2.5 cx=92.2 cy=225.5 /><circle class=b2 r=2.5 cx=96.2 cy=200.7 /><circle class=b2 r=2.5 cx=77.8 cy=201.2 /><circle class=b3 r=2.2 cx=135.5 cy=262.4 /><circle class=b2 r=2.5 cx=61.7 cy=225 /><circle class=b2 r=2.5 cx=87.3 cy=197.4 /><circle class=b1 r=2.8 cx=75 cy=223.8 /><circle class=b5 r=1.4 cx=170 cy=144.7 /><circle class=b1 r=2.8 cx=69.1 cy=206.3 /><circle class=b2 r=2.5 cx=118 cy=208.9 /><circle class=b4 r=1.85 cx=119.5 cy=185.3 /><circle class=b1 r=2.8 cx=92.3 cy=209.5 /><circle class=b2 r=2.5 cx=63.7 cy=202.5 /><circle class=b2 r=2.5 cx=127.7 cy=227 /><circle class=b4 r=1.85 cx=136.5 cy=177.2 /><circle class=b1 r=2.8 cx=72.3 cy=216.5 /><circle class=b1 r=2.8 cx=65.9 cy=221.2 /><circle class=b2 r=2.5 cx=125 cy=210.4 /><circle class=b1 r=2.8 cx=89.2 cy=221.5 /><circle class=b3 r=2.2 cx=83.4 cy=189.6 /><circle class=b1 r=2.8 cx=68.9 cy=216.8 /><circle class=b2 r=2.5 cx=84.8 cy=196.9 /><circle class=b3 r=2.2 cx=143 cy=232.5 /><circle class=b3 r=2.2 cx=124.6 cy=185 /><circle class=b3 r=2.2 cx=135.2 cy=262.1 /><circle class=b2 r=2.5 cx=102.1 cy=233.2 /><circle class=b3 r=2.2 cx=31 cy=220 /><circle class=b1 r=2.8 cx=87.6 cy=207.4 /><circle class=b2 r=2.5 cx=55.4 cy=219.5 /><circle class=b3 r=2.2 cx=104.4 cy=199.3 /><circle class=b1 r=2.8 cx=89.4 cy=209.2 /><circle class=b1 r=2.8 cx=86.4 cy=220.1 /><circle class=b3 r=2.2 cx=125.1 cy=203.4 /><circle class=b4 r=1.85 cx=195.3 cy=222.6 /><circle class=b2 r=2.5 cx=107.1 cy=239.8 /><circle class=b3 r=2.2 cx=119.1 cy=208.8 /><circle class=b3 r=2.2 cx=79.1 cy=192.4 /><circle class=b1 r=2.8 cx=85.6 cy=219.3 /><circle class=b1 r=2.8 cx=76.8 cy=233.5 /><circle class=b2 r=2.5 cx=88 cy=231.2 /><circle class=b1 r=2.8 cx=102.5 cy=212 /><circle class=b1 r=2.8 cx=73.8 cy=223.1 /><circle class=b3 r=2.2 cx=90.7 cy=251.9 /><circle class=b3 r=2.2 cx=115.9 cy=193.7 /><circle class=b3 r=2.2 cx=125.7 cy=188.7 /><circle class=b2 r=2.5 cx=61 cy=220.8 /><circle class=b5 r=1.4 cx=193.8 cy=176.1 /><circle class=b3 r=2.2 cx=98.3 cy=175.8 /><circle class=b3 r=2.2 cx=129.3 cy=212.8 /><circle class=b3 r=2.2 cx=61.1 cy=237 /><circle class=b2 r=2.5 cx=126.9 cy=214.1 /><circle class=b2 r=2.5 cx=77.7 cy=234.7 /><circle class=b4 r=1.85 cx=165.3 cy=286.1 /><circle class=b1 r=2.8 cx=83.6 cy=212.4 /><circle class=b3 r=2.2 cx=129.3 cy=228.1 /><circle class=b2 r=2.5 cx=98.4 cy=202.1 /><circle class=b4 r=1.85 cx=75.7 cy=185.2 /><circle class=b4 r=1.85 cx=97.5 cy=176.9 /><circle class=b3 r=2.2 cx=121.3 cy=230.3 /><circle class=b1 r=2.8 cx=83.4 cy=207.3 /><circle class=b2 r=2.5 cx=93.6 cy=228.1 /><circle class=b2 r=2.5 cx=102.9 cy=221.1 /><circle class=b2 r=2.5 cx=103.2 cy=198.8 /><circle class=b1 r=2.8 cx=89.9 cy=215.1 /><circle class=b3 r=2.2 cx=57.4 cy=203.1 /><circle class=b3 r=2.2 cx=100.7 cy=247.5 /><circle class=b2 r=2.5 cx=69.5 cy=245.4 /><circle class=b3 r=2.2 cx=116.3 cy=235.2 /><circle class=b1 r=2.8 cx=91.1 cy=223.3 /><circle class=b2 r=2.5 cx=106.4 cy=236.7 /><circle class=b2 r=2.5 cx=72.7 cy=250.1 /><circle class=b2 r=2.5 cx=119.1 cy=210.9 /><circle class=b2 r=2.5 cx=53.8 cy=223.5 /><circle class=b4 r=1.85 cx=157 cy=194.8 /><circle class=b1 r=2.8 cx=74.1 cy=216 /><circle class=b1 r=2.8 cx=100 cy=206.3 /><circle class=b2 r=2.5 cx=106 cy=207.5 /><circle class=b5 r=1.4 cx=197.5 cy=185.8 /><circle class=b3 r=2.2 cx=65.3 cy=189.3 /><circle class=b4 r=1.85 cx=94 cy=178.1 /><circle class=b5 r=1.4 cx=26.6 cy=162.3 /><circle class=b3 r=2.2 cx=123.1 cy=218.4 /><circle class=b1 r=2.8 cx=106.1 cy=221.6 /><circle class=b1 r=2.8 cx=67.5 cy=220.7 /><circle class=b2 r=2.5 cx=51 cy=220.2 /><circle class=b2 r=2.5 cx=112.9 cy=228.5 /><circle class=b2 r=2.5 cx=96.3 cy=209.2 /><circle class=b3 r=2.2 cx=127.3 cy=226.7 /><circle class=b3 r=2.2 cx=74.1 cy=245.7 /><circle class=b1 r=2.8 cx=98.8 cy=227 /><circle class=b1 r=2.8 cx=89.9 cy=223.7 /><circle class=b1 r=2.8 cx=75.5 cy=212.1 /><circle class=b1 r=2.8 cx=59.2 cy=212.7 /><circle class=b1 r=2.8 cx=61.4 cy=226.3 /><circle class=b3 r=2.2 cx=23.5 cy=214.3 /><circle class=b2 r=2.5 cx=69.6 cy=196.7 /><circle class=b3 r=2.2 cx=132.1 cy=208.7 /><circle class=b1 r=2.8 cx=69.2 cy=205.5 /><circle class=b2 r=2.5 cx=94 cy=229.4 /><circle class=b1 r=2.8 cx=90.7 cy=214.1 /><circle class=b3 r=2.2 cx=42.8 cy=209 /><circle class=b2 r=2.5 cx=90.2 cy=232.1 /><circle class=b1 r=2.8 cx=90.6 cy=223.1 /><circle class=b1 r=2.8 cx=84.9 cy=215.3 /><circle class=b3 r=2.2 cx=120.3 cy=236.1 /><circle class=b3 r=2.2 cx=107.2 cy=232.5 /><circle class=b3 r=2.2 cx=110.5 cy=191.6 /><circle class=b1 r=2.8 cx=91 cy=223.3 /><circle class=b3 r=2.2 cx=109.6 cy=228 /><circle class=b3 r=2.2 cx=110.2 cy=194 /><circle class=b4 r=1.85 cx=170.4 cy=217 /><circle class=b1 r=2.8 cx=72.1 cy=219.3 /><circle class=b4 r=1.85 cx=196.4 cy=222.6 /><circle class=b5 r=1.4 cx=149 cy=154.7 /><circle class=b2 r=2.5 cx=84.3 cy=207.8 /><circle class=b5 r=1.4 cx=165.6 cy=281.6 /><circle class=b2 r=2.5 cx=55.1 cy=212.2 /><circle class=b3 r=2.2 cx=51.7 cy=201.2 /><circle class=b4 r=1.85 cx=147.9 cy=185.2 /><circle class=b2 r=2.5 cx=120.2 cy=204.6 /><circle class=b1 r=2.8 cx=85.8 cy=207.7 /><circle class=b3 r=2.2 cx=145.5 cy=212.6 /><circle class=b2 r=2.5 cx=117.6 cy=211.7 /><circle class=b5 r=1.4 cx=29.1 cy=147.4 /><circle class=b1 r=2.8 cx=84.6 cy=220.8 /><circle class=b2 r=2.5 cx=98.8 cy=223.9 /><circle class=b5 r=1.4 cx=41 cy=163.8 /><circle class=b1 r=2.8 cx=78.3 cy=213.8 /><circle class=b2 r=2.5 cx=111.6 cy=212.3 /><circle class=b5 r=1.4 cx=41.5 cy=164.5 /><circle class=b3 r=2.2 cx=102.5 cy=181.3 /><circle class=b2 r=2.5 cx=107.2 cy=234.9 /><circle class=b4 r=1.85 cx=97.6 cy=177.3 /><circle class=b1 r=2.8 cx=73.5 cy=214.3 /><circle class=b2 r=2.5 cx=89.3 cy=204.1 /><circle class=b3 r=2.2 cx=116.3 cy=200.9 /><circle class=b1 r=2.8 cx=90.6 cy=224.1 /><circle class=b3 r=2.2 cx=80.4 cy=186.4 /><circle class=b1 r=2.8 cx=89.4 cy=217.6 /><circle class=b2 r=2.5 cx=112.9 cy=228.9 /><circle class=b2 r=2.5 cx=84.6 cy=201.8 /><circle class=b2 r=2.5 cx=125.1 cy=226.9 /><circle class=b5 r=1.4 cx=99.4 cy=147.7 /><circle class=b2 r=2.5 cx=88.3 cy=199.7 /><circle class=b1 r=2.8 cx=88.5 cy=207.7 /><circle class=b3 r=2.2 cx=131.5 cy=228.6 /><circle class=b3 r=2.2 cx=110.2 cy=267.7 /><circle class=b3 r=2.2 cx=104.5 cy=198.7 /><circle class=b2 r=2.5 cx=73.2 cy=216.5 /><circle class=b3 r=2.2 cx=114.8 cy=261 /><circle class=b2 r=2.5 cx=59.7 cy=212.5 /><circle class=b3 r=2.2 cx=135.6 cy=261.5 /><circle class=b1 r=2.8 cx=87.2 cy=217.9 /><circle class=b2 r=2.5 cx=106.8 cy=209.6 /><circle class=b2 r=2.5 cx=57.3 cy=215.7 /><circle class=b3 r=2.2 cx=112.8 cy=204.1 /><circle class=b2 r=2.5 cx=92.7 cy=217.3 /><circle class=b2 r=2.5 cx=77.4 cy=228.2 /><circle class=b1 r=2.8 cx=68.6 cy=205.3 /><circle class=b2 r=2.5 cx=99.1 cy=195.3 /><circle class=b2 r=2.5 cx=68.7 cy=194.2 /><circle class=b1 r=2.8 cx=81.6 cy=207.5 /><circle class=b2 r=2.5 cx=102.1 cy=215.5 /><circle class=b2 r=2.5 cx=60.1 cy=209.8 /><circle class=b1 r=2.8 cx=99.2 cy=224.4 /><circle class=b4 r=1.85 cx=139.3 cy=188.9 /><circle class=b3 r=2.2 cx=58.2 cy=207.9 /><circle class=b3 r=2.2 cx=127.5 cy=198.5 /><circle class=b2 r=2.5 cx=83.4 cy=247.6 /><circle class=b1 r=2.8 cx=82.1 cy=210.1 /><circle class=b2 r=2.5 cx=71.9 cy=201.4 /><circle class=b3 r=2.2 cx=126 cy=203.6 /><circle class=b2 r=2.5 cx=88.5 cy=198.2 /><circle class=b4 r=1.85 cx=132 cy=264.4 /><circle class=b2 r=2.5 cx=78.2 cy=233.8 /><circle class=b4 r=1.85 cx=159 cy=170 /><circle class=b1 r=2.8 cx=95.9 cy=215 /><circle class=b2 r=2.5 cx=60.9 cy=210 /><circle class=b2 r=2.5 cx=69.2 cy=200.7 /><circle class=b5 r=1.4 cx=133 cy=155 /><circle class=b2 r=2.5 cx=65.7 cy=204.7 /><circle class=b1 r=2.8 cx=76.7 cy=228.2 /><circle class=b2 r=2.5 cx=83.3 cy=200.5 /><circle class=b1 r=2.8 cx=87.4 cy=215.4 /><circle class=b3 r=2.2 cx=59.3 cy=218 /><circle class=b3 r=2.2 cx=63.2 cy=190.7 /><circle class=b5 r=1.4 cx=30 cy=161 /><circle class=b1 r=2.8 cx=71.9 cy=216.9 /><circle class=b3 r=2.2 cx=76.2 cy=178.5 /><circle class=b2 r=2.5 cx=69.6 cy=230.7 /><circle class=b2 r=2.5 cx=89.6 cy=204.1 /><circle class=b5 r=1.4 cx=89 cy=140 /><circle class=b3 r=2.2 cx=41.1 cy=213.4 /><circle class=b2 r=2.5 cx=108.5 cy=223.3 /><circle class=b4 r=1.85 cx=65.7 cy=186.3 /><circle class=b4 r=1.85 cx=138.7 cy=188.8 /><circle class=b2 r=2.5 cx=106.4 cy=213.9 /><circle class=b3 r=2.2 cx=71.7 cy=195.4 /><circle class=b2 r=2.5 cx=64.7 cy=208.5 /><circle class=b1 r=2.8 cx=84.8 cy=218.7 /><circle class=b1 r=2.8 cx=70.6 cy=201.1 /><circle class=b2 r=2.5 cx=76.6 cy=214 /><circle class=b2 r=2.5 cx=80 cy=236.3 /><circle class=b3 r=2.2 cx=115.9 cy=213.6 /><circle class=b5 r=1.4 cx=88.8 cy=138.8 /><circle class=b4 r=1.85 cx=160 cy=176.7 /><circle class=b1 r=2.8 cx=91 cy=223 /><circle class=b1 r=2.8 cx=102.4 cy=204.1 /><circle class=b2 r=2.5 cx=112.5 cy=198 /><circle class=b3 r=2.2 cx=44.7 cy=222.8 /><circle class=b2 r=2.5 cx=97.9 cy=200.9 /><circle class=b2 r=2.5 cx=122.6 cy=211.6 /><circle class=b3 r=2.2 cx=109.9 cy=191.4 /><circle class=b5 r=1.4 cx=119.1 cy=163.4 /><circle class=b2 r=2.5 cx=124.3 cy=202.7 /><circle class=b3 r=2.2 cx=113.3 cy=189.1 /><circle class=b3 r=2.2 cx=82.5 cy=250.3 /><circle class=b2 r=2.5 cx=55.2 cy=212.1 /><circle class=b2 r=2.5 cx=63.3 cy=218.6 /><circle class=b1 r=2.8 cx=98.3 cy=202.4 /><circle class=b2 r=2.5 cx=100.9 cy=225.8 /><circle class=b1 r=2.8 cx=92.5 cy=218.2 /><circle class=b1 r=2.8 cx=84 cy=201.8 /><circle class=b1 r=2.8 cx=75.5 cy=211.7 /><circle class=b2 r=2.5 cx=107.1 cy=210.6 /><circle class=b2 r=2.5 cx=99.9 cy=232 /><circle class=b2 r=2.5 cx=84.9 cy=198 /><circle class=b3 r=2.2 cx=113 cy=235.3 /><circle class=b1 r=2.8 cx=99 cy=211.1 /><circle class=b3 r=2.2 cx=106.6 cy=259.9 /><circle class=b2 r=2.5 cx=56.8 cy=222.4 /><circle class=b3 r=2.2 cx=112.7 cy=207 /><circle class=b4 r=1.85 cx=98.8 cy=148.3 /><circle class=b1 r=2.8 cx=66.1 cy=207.9 /><circle class=b2 r=2.5 cx=89.7 cy=204.5 /><circle class=b1 r=2.8 cx=98.4 cy=220.8 /><circle class=b3 r=2.2 cx=120.2 cy=250.9 /><circle class=b1 r=2.8 cx=70.5 cy=223.6 /><circle class=b1 r=2.8 cx=72.1 cy=216.2 /><circle class=b3 r=2.2 cx=110.7 cy=200.1 /><circle class=b1 r=2.8 cx=75.6 cy=211.4 /><circle class=b2 r=2.5 cx=74.5 cy=230.9 /><circle class=b3 r=2.2 cx=57 cy=205.9 /><circle class=b3 r=2.2 cx=44.3 cy=221.6 /><circle class=b1 r=2.8 cx=94.1 cy=227.9 /><circle class=b1 r=2.8 cx=70.6 cy=217.1 /><circle class=b1 r=2.8 cx=90.9 cy=216.6 /><circle class=b3 r=2.2 cx=111.7 cy=266.8 /><circle class=b2 r=2.5 cx=105.1 cy=224.9 /><circle class=b3 r=2.2 cx=136.9 cy=198 /><circle class=b2 r=2.5 cx=111.2 cy=212.6 /><circle class=b4 r=1.85 cx=158.1 cy=258 /><circle class=b1 r=2.8 cx=89.8 cy=221.6 /><circle class=b2 r=2.5 cx=146.7 cy=237.7 /><circle class=b3 r=2.2 cx=113.8 cy=205.1 /><circle class=b4 r=1.85 cx=183.8 cy=205.8 /><circle class=b3 r=2.2 cx=57.3 cy=215.9 /><circle class=b3 r=2.2 cx=131 cy=215.1 /><circle class=b4 r=1.85 cx=101.5 cy=175.7 /><circle class=b1 r=2.8 cx=84.9 cy=218 /><circle class=b1 r=2.8 cx=73.5 cy=223.1 /><circle class=b5 r=1.4 cx=164.4 cy=164.1 /><circle class=b2 r=2.5 cx=85.6 cy=186.6 /><circle class=b1 r=2.8 cx=101.8 cy=216.5 /><circle class=b3 r=2.2 cx=147.2 cy=232.3 /><circle class=b1 r=2.8 cx=97.9 cy=216.3 /><circle class=b2 r=2.5 cx=79.5 cy=208.9 /><circle class=b4 r=1.85 cx=96.1 cy=173.4 /><circle class=b5 r=1.4 cx=150.8 cy=171.7 /><circle class=b1 r=2.8 cx=61.2 cy=228.5 /><circle class=b3 r=2.2 cx=14.3 cy=232.3 /><circle class=b2 r=2.5 cx=120.3 cy=250.2 /><circle class=b3 r=2.2 cx=116.1 cy=195.7 /><circle class=b2 r=2.5 cx=75 cy=229.2 /><circle class=b2 r=2.5 cx=104.2 cy=206.8 /><circle class=b5 r=1.4 cx=142.6 cy=127.9 /><circle class=b1 r=2.8 cx=86.3 cy=225.3 /><circle class=b1 r=2.8 cx=95.9 cy=216 /><circle class=b4 r=1.85 cx=110.6 cy=175 /><circle class=b2 r=2.5 cx=69.7 cy=235.3 /><circle class=b3 r=2.2 cx=109 cy=228.7 /><circle class=b2 r=2.5 cx=103.6 cy=203.2 /><circle class=b3 r=2.2 cx=105.5 cy=236.8 /><circle class=b3 r=2.2 cx=51.8 cy=219.2 /><circle class=b3 r=2.2 cx=138.6 cy=222.5 /><circle class=b4 r=1.85 cx=73.6 cy=176.2 /><circle class=b4 r=1.85 cx=147.2 cy=189 /><circle class=b5 r=1.4 cx=50.8 cy=156.2 /><circle class=b3 r=2.2 cx=133.1 cy=258.6 /><circle class=b1 r=2.8 cx=95.9 cy=209.7 /><circle class=b2 r=2.5 cx=70.2 cy=216.7 /><circle class=b1 r=2.8 cx=63.1 cy=218.6 /><circle class=b3 r=2.2 cx=52.6 cy=206.3 /><circle class=b3 r=2.2 cx=69.8 cy=248.4 /><circle class=b1 r=2.8 cx=91.6 cy=217.6 /><circle class=b2 r=2.5 cx=91.4 cy=239.4 /><circle class=b1 r=2.8 cx=83 cy=221 /><circle class=b3 r=2.2 cx=128.7 cy=213 /><circle class=b3 r=2.2 cx=28 cy=236 /><circle class=b3 r=2.2 cx=58 cy=193.5 /><circle class=b3 r=2.2 cx=58.1 cy=186 /><circle class=b3 r=2.2 cx=109.8 cy=191.6 /><circle class=b3 r=2.2 cx=76.3 cy=189.5 /><circle class=b1 r=2.8 cx=83.9 cy=228.4 /><circle class=b2 r=2.5 cx=88.9 cy=200.1 /><circle class=b2 r=2.5 cx=109.5 cy=209.2 /><circle class=b1 r=2.8 cx=98.2 cy=200 /><circle class=b5 r=1.4 cx=200.1 cy=168.3 /><circle class=b3 r=2.2 cx=85.2 cy=251.7 /><circle class=b2 r=2.5 cx=104.5 cy=213.2 /><circle class=b3 r=2.2 cx=72.5 cy=195.7 /><circle class=b2 r=2.5 cx=85.6 cy=203.7 /><circle class=b2 r=2.5 cx=107.2 cy=216.9 /><circle class=b2 r=2.5 cx=61.5 cy=227.4 /><circle class=b2 r=2.5 cx=113.2 cy=199.4 /><circle class=b3 r=2.2 cx=37.4 cy=228.9 /><circle class=b5 r=1.4 cx=166.3 cy=173.1 /><circle class=b3 r=2.2 cx=82.3 cy=181.2 /><circle class=b2 r=2.5 cx=102.9 cy=219.5 /><circle class=b2 r=2.5 cx=102.7 cy=198.9 /><circle class=b3 r=2.2 cx=127.3 cy=226.5 /><circle class=b2 r=2.5 cx=122.2 cy=212.6 /><circle class=b2 r=2.5 cx=88.4 cy=197.2 /><circle class=b4 r=1.85 cx=201.3 cy=232.6 /><circle class=b3 r=2.2 cx=107.6 cy=259.6 /><circle class=b1 r=2.8 cx=70.9 cy=226.5 /><circle class=b3 r=2.2 cx=131.5 cy=176.4 /><circle class=b3 r=2.2 cx=58.8 cy=187.4 /><circle class=b4 r=1.85 cx=165.9 cy=236 /><circle class=b1 r=2.8 cx=72.8 cy=214.6 /><circle class=b2 r=2.5 cx=131.7 cy=192.8 /><circle class=b1 r=2.8 cx=95.2 cy=222.3 /><circle class=b3 r=2.2 cx=147.7 cy=236.1 /><circle class=b1 r=2.8 cx=72.8 cy=215.6 /><circle class=b3 r=2.2 cx=132.2 cy=209 /><circle class=b3 r=2.2 cx=107.2 cy=268.9 /><circle class=b3 r=2.2 cx=73.7 cy=178.8 /><circle class=b2 r=2.5 cx=100.8 cy=206.3 /><circle class=b2 r=2.5 cx=94.2 cy=203.8 /><circle class=b5 r=1.4 cx=121.4 cy=144.7 /><circle class=b2 r=2.5 cx=95.6 cy=195.4 /><circle class=b2 r=2.5 cx=94.7 cy=232.5 /><circle class=b5 r=1.4 cx=176.7 cy=171.2 /><circle class=b2 r=2.5 cx=93.2 cy=232.7 /><circle class=b3 r=2.2 cx=81.3 cy=180.8 /><circle class=b2 r=2.5 cx=51.2 cy=202.8 /><circle class=b3 r=2.2 cx=129.7 cy=248.7 /><circle class=b1 r=2.8 cx=90.7 cy=227.8 /><circle class=b2 r=2.5 cx=82.4 cy=195.9 /><circle class=b1 r=2.8 cx=92.4 cy=209.1 /><circle class=b2 r=2.5 cx=43.3 cy=226.3 /><circle class=b2 r=2.5 cx=114.9 cy=206.8 /><circle class=b4 r=1.85 cx=160 cy=192 /><circle class=b2 r=2.5 cx=97.6 cy=233.6 /><circle class=b3 r=2.2 cx=111.9 cy=191.9 /><circle class=b2 r=2.5 cx=87.8 cy=197.7 /><circle class=b2 r=2.5 cx=55.2 cy=212.5 /><circle class=b3 r=2.2 cx=123.7 cy=218.5 /><circle class=b5 r=1.4 cx=144.6 cy=132.6 /><circle class=b3 r=2.2 cx=94.2 cy=197 /><circle class=b5 r=1.4 cx=164.2 cy=163.7 /><circle class=b5 r=1.4 cx=109.9 cy=129.4 /><circle class=b2 r=2.5 cx=69.7 cy=228.3 /><circle class=b3 r=2.2 cx=131.4 cy=222.4 /><circle class=b2 r=2.5 cx=105.9 cy=210.4 /><circle class=b3 r=2.2 cx=128.8 cy=212.7 /><circle class=b2 r=2.5 cx=77.4 cy=194.5 /><circle class=b5 r=1.4 cx=240.4 cy=209.6 /><circle class=b3 r=2.2 cx=103.7 cy=196 /><circle class=b2 r=2.5 cx=96.8 cy=228.3 /><circle class=b2 r=2.5 cx=68.5 cy=230.3 /><circle class=b4 r=1.85 cx=119.9 cy=185.9 /><circle class=b2 r=2.5 cx=103.5 cy=231.4 /><circle class=b5 r=1.4 cx=115.1 cy=139.4 /><circle class=b2 r=2.5 cx=71.4 cy=225.7 /><circle class=b2 r=2.5 cx=76.2 cy=211 /><circle class=b3 r=2.2 cx=107.6 cy=261.1 /><circle class=b5 r=1.4 cx=50.4 cy=149.6 /><circle class=b2 r=2.5 cx=67.4 cy=209.8 /><circle class=b1 r=2.8 cx=85.7 cy=218 /><circle class=b3 r=2.2 cx=111.4 cy=256.8 /><circle class=b3 r=2.2 cx=144.5 cy=233 /><circle class=b2 r=2.5 cx=105.6 cy=206.9 /><circle class=b1 r=2.8 cx=74.1 cy=206.4 /><circle class=b4 r=1.85 cx=99.7 cy=174.7 /><circle class=b5 r=1.4 cx=202.2 cy=182.7 /><circle class=b3 r=2.2 cx=118.8 cy=181.2 /><circle class=b4 r=1.85 cx=170.4 cy=242.6 /><circle class=b3 r=2.2 cx=95.5 cy=244.7 /><circle class=b1 r=2.8 cx=95.5 cy=224.6 /><circle class=b1 r=2.8 cx=85.4 cy=216.2 /><circle class=b5 r=1.4 cx=92.9 cy=169.8 /><circle class=b2 r=2.5 cx=76.9 cy=211.6 /><circle class=b2 r=2.5 cx=71.4 cy=251.9 /><circle class=b3 r=2.2 cx=122.1 cy=230.3 /><circle class=b5 r=1.4 cx=187 cy=190 /><circle class=b2 r=2.5 cx=99.3 cy=194.5 /><circle class=b2 r=2.5 cx=87.2 cy=252.7 /><circle class=b1 r=2.8 cx=86.4 cy=216.5 /><circle class=b3 r=2.2 cx=94.4 cy=247.1 /><circle class=b2 r=2.5 cx=58.4 cy=226.2 /><circle class=b1 r=2.8 cx=85.4 cy=215.5 /><circle class=b2 r=2.5 cx=94.9 cy=228.3 /><circle class=b1 r=2.8 cx=98.3 cy=219.8 /><circle class=b1 r=2.8 cx=73.6 cy=232.7 /><circle class=b2 r=2.5 cx=89.3 cy=197.4 /><circle class=b3 r=2.2 cx=121 cy=230 /><circle class=b2 r=2.5 cx=95.6 cy=208.1 /><circle class=b3 r=2.2 cx=69.2 cy=195.8 /><circle class=b5 r=1.4 cx=133.6 cy=155.7 /><circle class=b4 r=1.85 cx=164.7 cy=284.3 /><circle class=b5 r=1.4 cx=192.2 cy=171.8 /><circle class=b1 r=2.8 cx=68.9 cy=207.1 /><circle class=b3 r=2.2 cx=121 cy=268.5 /><circle class=b1 r=2.8 cx=66.6 cy=206.6 /><circle class=b4 r=1.85 cx=20 cy=222 /><circle class=b1 r=2.8 cx=95.9 cy=206.3 /><circle class=b2 r=2.5 cx=112.3 cy=211.8 /><circle class=b2 r=2.5 cx=124.8 cy=203.7 /><circle class=b3 r=2.2 cx=125.1 cy=223.6 /><circle class=b2 r=2.5 cx=63.7 cy=208.3 /><circle class=b3 r=2.2 cx=79.1 cy=187.6 /><circle class=b1 r=2.8 cx=99.8 cy=220 /><circle class=b5 r=1.4 cx=172.1 cy=122.8 /><circle class=b4 r=1.85 cx=110.1 cy=174.4 /><circle class=b2 r=2.5 cx=93 cy=233.2 /><circle class=b3 r=2.2 cx=84.6 cy=182.6 /><circle class=b3 r=2.2 cx=124.7 cy=228.7 /><circle class=b3 r=2.2 cx=128.2 cy=259.4 /><circle class=b2 r=2.5 cx=108.7 cy=222.4 /><circle class=b3 r=2.2 cx=69.1 cy=184.4 /><circle class=b1 r=2.8 cx=100.3 cy=214.5 /><circle class=b5 r=1.4 cx=132.9 cy=155.2 /><circle class=b3 r=2.2 cx=58.8 cy=210.7 /><circle class=b1 r=2.8 cx=90.1 cy=214.8 /><circle class=b1 r=2.8 cx=105.3 cy=216.6 /><circle class=b1 r=2.8 cx=82.7 cy=211.7 /><circle class=b2 r=2.5 cx=85.7 cy=221.5 /><circle class=b3 r=2.2 cx=109.1 cy=191.5 /><circle class=b2 r=2.5 cx=71.9 cy=194.9 /><circle class=b5 r=1.4 cx=112.5 cy=155.3 /><circle class=b4 r=1.85 cx=161.1 cy=176.1 /><circle class=b5 r=1.4 cx=187.6 cy=144.2 /><circle class=b3 r=2.2 cx=38.6 cy=231.2 /><circle class=b1 r=2.8 cx=85.2 cy=218.3 /><circle class=b2 r=2.5 cx=97.3 cy=199.1 /><circle class=b3 r=2.2 cx=135.6 cy=204.7 /><circle class=b2 r=2.5 cx=120.3 cy=236.5 /><circle class=b3 r=2.2 cx=120.7 cy=208.6 /><circle class=b3 r=2.2 cx=57.1 cy=199.4 /><circle class=b2 r=2.5 cx=99.6 cy=206 /><circle class=b3 r=2.2 cx=110.3 cy=254.7 /><circle class=b3 r=2.2 cx=74.4 cy=237.8 /><circle class=b3 r=2.2 cx=57.7 cy=186.8 /><circle class=b1 r=2.8 cx=83.7 cy=220.4 /><circle class=b1 r=2.8 cx=87.8 cy=217.3 /><circle class=b2 r=2.5 cx=77.8 cy=192.5 /><circle class=b3 r=2.2 cx=57.4 cy=191.9 /><circle class=b2 r=2.5 cx=108.7 cy=208.1 /><circle class=b3 r=2.2 cx=130.1 cy=263.7 /><circle class=b1 r=2.8 cx=83.7 cy=226.7 /><circle class=b4 r=1.85 cx=108.4 cy=184.1 /><circle class=b2 r=2.5 cx=91.6 cy=194.4 /><circle class=b1 r=2.8 cx=95.3 cy=218.3 /><circle class=b2 r=2.5 cx=117.8 cy=224.5 /><circle class=b3 r=2.2 cx=69.7 cy=183.1 /><circle class=b3 r=2.2 cx=83.1 cy=186.4 /><circle class=b2 r=2.5 cx=65.1 cy=208.8 /><circle class=b2 r=2.5 cx=94.4 cy=232.7 /><circle class=b2 r=2.5 cx=80.1 cy=185.8 /><circle class=b3 r=2.2 cx=140.1 cy=218.1 /><circle class=b3 r=2.2 cx=99.9 cy=188 /><circle class=b4 r=1.85 cx=152.8 cy=178.8 /><circle class=b4 r=1.85 cx=162 cy=214.9 /><circle class=b2 r=2.5 cx=117.7 cy=211.6 /><circle class=b2 r=2.5 cx=61.3 cy=226.4 /><circle class=b2 r=2.5 cx=43.3 cy=222 /><circle class=b3 r=2.2 cx=73.8 cy=196.8 /><circle class=b1 r=2.8 cx=104.6 cy=216.4 /><circle class=b5 r=1.4 cx=102.9 cy=136.3 /><circle class=b2 r=2.5 cx=77.4 cy=232.2 /><circle class=b1 r=2.8 cx=90.9 cy=222.6 /><circle class=b3 r=2.2 cx=135 cy=261.4 /><circle class=b2 r=2.5 cx=96.9 cy=225.5 /><circle class=b3 r=2.2 cx=134.2 cy=255.7 /><circle class=b3 r=2.2 cx=125 cy=184.2 /><circle class=b1 r=2.8 cx=83.5 cy=203.8 /><circle class=b4 r=1.85 cx=143.5 cy=195.5 /><circle class=b2 r=2.5 cx=61.7 cy=225.1 /><circle class=b3 r=2.2 cx=138.3 cy=202.6 /><circle class=b1 r=2.8 cx=69.9 cy=205.5 /><circle class=b2 r=2.5 cx=65.4 cy=204.9 /><circle class=b3 r=2.2 cx=119 cy=212.5 /><circle class=b2 r=2.5 cx=109.5 cy=194 /><circle class=b5 r=1.4 cx=191.3 cy=165.1 /><circle class=b1 r=2.8 cx=80.3 cy=214.8 /><circle class=b2 r=2.5 cx=88 cy=199.2 /><circle class=b4 r=1.85 cx=136.9 cy=208.7 /><circle class=b4 r=1.85 cx=90.4 cy=175 /><circle class=b1 r=2.8 cx=96.6 cy=209.2 /><circle class=b5 r=1.4 cx=86.8 cy=148.2 /><circle class=b5 r=1.4 cx=183.1 cy=181 /><circle class=b2 r=2.5 cx=80.2 cy=193.9 /><circle class=b1 r=2.8 cx=83.1 cy=225 /><circle class=b3 r=2.2 cx=55.5 cy=211.8 /><circle class=b2 r=2.5 cx=106.5 cy=207.6 /><circle class=b2 r=2.5 cx=105.7 cy=207.5 /><circle class=b2 r=2.5 cx=111.6 cy=213 /><circle class=b2 r=2.5 cx=121.8 cy=218 /><circle class=b2 r=2.5 cx=110.1 cy=195.1 /><circle class=b2 r=2.5 cx=103.2 cy=211.1 /><circle class=b1 r=2.8 cx=71.6 cy=215.7 /><circle class=b5 r=1.4 cx=192.6 cy=175.7 /><circle class=b2 r=2.5 cx=62.1 cy=224.5 /><circle class=b4 r=1.85 cx=41.3 cy=185.1 /><circle class=b5 r=1.4 cx=118.3 cy=159 /><circle class=b5 r=1.4 cx=29 cy=150.5 /><circle class=b1 r=2.8 cx=89.6 cy=204 /><circle class=b5 r=1.4 cx=175.9 cy=128.9 /><circle class=b1 r=2.8 cx=75.7 cy=210.5 /><circle class=b1 r=2.8 cx=70.2 cy=229.9 /><circle class=b1 r=2.8 cx=99.4 cy=216 /><circle class=b2 r=2.5 cx=103.7 cy=207.7 /><circle class=b2 r=2.5 cx=103.3 cy=232.2 /><circle class=b2 r=2.5 cx=109 cy=209.2 /><circle class=b2 r=2.5 cx=72.4 cy=238.5 /><circle class=b1 r=2.8 cx=74.7 cy=223.9 /><circle class=b2 r=2.5 cx=122.3 cy=216.5 /><circle class=b2 r=2.5 cx=90.3 cy=216.9 /><circle class=b2 r=2.5 cx=92.2 cy=207.7 /><circle class=b2 r=2.5 cx=82.8 cy=196.7 /><circle class=b1 r=2.8 cx=110.1 cy=222.9 /><circle class=b1 r=2.8 cx=81 cy=203.8 /><circle class=b2 r=2.5 cx=79.8 cy=209.7 /><circle class=b1 r=2.8 cx=88.8 cy=224.1 /><circle class=b1 r=2.8 cx=79.4 cy=218.7 /><circle class=b5 r=1.4 cx=94 cy=163.5 /><circle class=b1 r=2.8 cx=79.6 cy=215.8 /><circle class=b5 r=1.4 cx=35.6 cy=171.4 /><circle class=b5 r=1.4 cx=82.7 cy=134.5 /><circle class=b1 r=2.8 cx=93.3 cy=215 /><circle class=b2 r=2.5 cx=86 cy=205.6 /><circle class=b1 r=2.8 cx=72.5 cy=206.3 /><circle class=b4 r=1.85 cx=56.9 cy=191.7 /><circle class=b1 r=2.8 cx=101.1 cy=226.3 /><circle class=b2 r=2.5 cx=56 cy=218 /><circle class=b4 r=1.85 cx=119.9 cy=250 /><circle class=b2 r=2.5 cx=69.4 cy=235.6 /><circle class=b2 r=2.5 cx=73.6 cy=246.5 /><circle class=b4 r=1.85 cx=165.5 cy=175.8 /><circle class=b2 r=2.5 cx=64.1 cy=210.1 /><circle class=b1 r=2.8 cx=101.8 cy=212.8 /><circle class=b1 r=2.8 cx=79.3 cy=208 /><circle class=b2 r=2.5 cx=91 cy=215.7 /><circle class=b2 r=2.5 cx=69.4 cy=235.2 /><circle class=b2 r=2.5 cx=84.9 cy=197.8 /><circle class=b2 r=2.5 cx=83.8 cy=239.1 /><circle class=b2 r=2.5 cx=103.9 cy=228.9 /><circle class=b2 r=2.5 cx=62.6 cy=226.5 /><circle class=b2 r=2.5 cx=72.3 cy=198.2 /><circle class=b2 r=2.5 cx=69.6 cy=201.7 /><circle class=b2 r=2.5 cx=61.9 cy=209 /><circle class=b2 r=2.5 cx=63.5 cy=218.5 /><circle class=b2 r=2.5 cx=106.5 cy=222.9 /><circle class=b1 r=2.8 cx=97.1 cy=208.1 /><circle class=b2 r=2.5 cx=106 cy=208.6 /><circle class=b1 r=2.8 cx=80.4 cy=214 /><circle class=b2 r=2.5 cx=111.3 cy=201.3 /><circle class=b1 r=2.8 cx=77.4 cy=227 /><circle class=b4 r=1.85 cx=115.6 cy=174.5 /><circle class=b2 r=2.5 cx=64 cy=227 /><circle class=b2 r=2.5 cx=69 cy=201.8 /><circle class=b1 r=2.8 cx=93.7 cy=225.9 /><circle class=b1 r=2.8 cx=94.6 cy=222.5 /><circle class=b5 r=1.4 cx=132.4 cy=155 /><circle class=b2 r=2.5 cx=81.1 cy=204.1 /><circle class=b2 r=2.5 cx=64.2 cy=230.6 /><circle class=b2 r=2.5 cx=27.5 cy=229.5 /><circle class=b5 r=1.4 cx=121.3 cy=145.2 /><circle class=b2 r=2.5 cx=113.1 cy=227.7 /><circle class=b2 r=2.5 cx=89.4 cy=233.3 /><circle class=b2 r=2.5 cx=113 cy=236.6 /><circle class=b1 r=2.8 cx=85.8 cy=208.2 /><circle class=b4 r=1.85 cx=101.5 cy=182.6 /><circle class=b1 r=2.8 cx=82.4 cy=209.2 /><circle class=b5 r=1.4 cx=157.1 cy=171.2 /><circle class=b2 r=2.5 cx=69.9 cy=231.7 /><circle class=b2 r=2.5 cx=107.8 cy=214.3 /><circle class=b2 r=2.5 cx=96.2 cy=200.5 /><circle class=b2 r=2.5 cx=68.6 cy=205.1 /><circle class=b2 r=2.5 cx=59.2 cy=212.3 /><circle class=b1 r=2.8 cx=71.4 cy=223.4 /><circle class=b5 r=1.4 cx=184.6 cy=167.3 /><circle class=b2 r=2.5 cx=104.5 cy=199.7 /><circle class=b2 r=2.5 cx=105.6 cy=236.7 /><circle class=b5 r=1.4 cx=114.8 cy=139.2 /><circle class=b1 r=2.8 cx=81.3 cy=219.7 /><circle class=b2 r=2.5 cx=126.8 cy=214.7 /><circle class=b2 r=2.5 cx=72.9 cy=229.8 /><circle class=b1 r=2.8 cx=60.6 cy=225.7 /><circle class=b2 r=2.5 cx=98.6 cy=226.3 /><circle class=b4 r=1.85 cx=159.6 cy=185.6 /><circle class=b5 r=1.4 cx=95.1 cy=165.8 /><circle class=b2 r=2.5 cx=70.1 cy=251 /><circle class=b1 r=2.8 cx=82.4 cy=210.9 /><circle class=b2 r=2.5 cx=114.7 cy=220 /><circle class=b2 r=2.5 cx=85.8 cy=223.1 /><circle class=b1 r=2.8 cx=65.3 cy=212.1 /><circle class=b1 r=2.8 cx=79.3 cy=226.6 /><circle class=b2 r=2.5 cx=89.6 cy=187.4 /><circle class=b1 r=2.8 cx=106.8 cy=214.5 /><circle class=b2 r=2.5 cx=89.7 cy=207.5 /><circle class=b2 r=2.5 cx=50.5 cy=224.3 /><circle class=b2 r=2.5 cx=143.9 cy=230.1 /><circle class=b2 r=2.5 cx=101 cy=187.1 /><circle class=b5 r=1.4 cx=194.4 cy=185.5 /><circle class=b4 r=1.85 cx=81.5 cy=168.7 /><circle class=b1 r=2.8 cx=89.3 cy=203.5 /><circle class=b2 r=2.5 cx=98.8 cy=227.3 /><circle class=b2 r=2.5 cx=105.4 cy=223.3 /><circle class=b2 r=2.5 cx=106.1 cy=223.6 /><circle class=b2 r=2.5 cx=59.6 cy=210.1 /><circle class=b5 r=1.4 cx=109 cy=129.3 /><circle class=b2 r=2.5 cx=103.4 cy=233 /><circle class=b2 r=2.5 cx=83.2 cy=198.4 /><circle class=b2 r=2.5 cx=62.2 cy=226.5 /><circle class=b2 r=2.5 cx=67.4 cy=220.2 /><circle class=b2 r=2.5 cx=115.4 cy=213.4 /><circle class=b1 r=2.8 cx=89 cy=207.4 /><circle class=b1 r=2.8 cx=79.4 cy=213.9 /><circle class=b2 r=2.5 cx=85.8 cy=245.6 /><circle class=b4 r=1.85 cx=119.8 cy=186 /><circle class=b2 r=2.5 cx=99.5 cy=228.1 /><circle class=b4 r=1.85 cx=162.2 cy=282.7 /><circle class=b1 r=2.8 cx=89.5 cy=220.2 /><circle class=b2 r=2.5 cx=102.5 cy=234.4 /><circle class=b4 r=1.85 cx=152.8 cy=191.1 /><circle class=b2 r=2.5 cx=87.1 cy=236.6 /><circle class=b2 r=2.5 cx=79.6 cy=196.5 /><circle class=b1 r=2.8 cx=69.8 cy=217.9 /><circle class=b1 r=2.8 cx=92.7 cy=226.4 /><circle class=b5 r=1.4 cx=104 cy=143 /><circle class=b2 r=2.5 cx=62.1 cy=226.5 /><circle class=b1 r=2.8 cx=78.1 cy=215.8 /><circle class=b4 r=1.85 cx=91.7 cy=170.9 /><circle class=b2 r=2.5 cx=64 cy=217.1 /><circle class=b2 r=2.5 cx=66.5 cy=209.5 /><circle class=b2 r=2.5 cx=71.9 cy=224.9 /><circle class=b2 r=2.5 cx=110 cy=236 /><circle class=b4 r=1.85 cx=111.6 cy=181 /><circle class=b4 r=1.85 cx=157.8 cy=272.4 /><circle class=b4 r=1.85 cx=157.9 cy=257.8 /><circle class=b2 r=2.5 cx=114.4 cy=217.8 /><circle class=b4 r=1.85 cx=99.2 cy=178.3 /><circle class=b1 r=2.8 cx=75 cy=221.4 /><circle class=b2 r=2.5 cx=116.2 cy=194.9 /><circle class=b5 r=1.4 cx=120.2 cy=158.3 /><circle class=b1 r=2.8 cx=88.6 cy=231.1 /><circle class=b1 r=2.8 cx=69.2 cy=219.5 /><circle class=b2 r=2.5 cx=67 cy=207.2 /><circle class=b1 r=2.8 cx=72.9 cy=217 /><circle class=b2 r=2.5 cx=93.9 cy=200.7 /><circle class=b1 r=2.8 cx=73.6 cy=224.1 /><circle class=b1 r=2.8 cx=85.4 cy=211.6 /><circle class=b2 r=2.5 cx=98.9 cy=226.1 /><circle class=b1 r=2.8 cx=82.9 cy=211.1 /><circle class=b2 r=2.5 cx=84.5 cy=203.9 /><circle class=b2 r=2.5 cx=122.3 cy=216.9 /><circle class=b4 r=1.85 cx=82.9 cy=176.6 /><circle class=b2 r=2.5 cx=53.8 cy=209.9 /><circle class=b2 r=2.5 cx=101.4 cy=182.8 /><circle class=b1 r=2.8 cx=84.7 cy=219.1 /><circle class=b4 r=1.85 cx=150 cy=188.1 /><circle class=b1 r=2.8 cx=67.5 cy=204.4 /><circle class=b1 r=2.8 cx=89.2 cy=218 /><circle class=b2 r=2.5 cx=67.2 cy=209.8 /><circle class=b5 r=1.4 cx=124.5 cy=144.9 /><circle class=b1 r=2.8 cx=75.2 cy=229.1 /><circle class=b1 r=2.8 cx=88.9 cy=215.8 /><circle class=b2 r=2.5 cx=113.4 cy=228.2 /><circle class=b2 r=2.5 cx=88.6 cy=215.5 /><circle class=b1 r=2.8 cx=81.1 cy=223.2 /><circle class=b1 r=2.8 cx=104.4 cy=211.1 /><circle class=b2 r=2.5 cx=86.5 cy=208 /><circle class=b2 r=2.5 cx=111 cy=267.7 /><circle class=b2 r=2.5 cx=88.6 cy=231.4 /><circle class=b1 r=2.8 cx=81.2 cy=221.5 /><circle class=b2 r=2.5 cx=65.9 cy=207.6 /><circle class=b1 r=2.8 cx=69 cy=207.4 /><circle class=b2 r=2.5 cx=84.8 cy=251.5 /><circle class=b4 r=1.85 cx=110.9 cy=174.9 /><circle class=b2 r=2.5 cx=109.5 cy=203.2 /><circle class=b4 r=1.85 cx=13.2 cy=248.5 /><circle class=b1 r=2.8 cx=90 cy=221.7 /><circle class=b2 r=2.5 cx=74.8 cy=243.3 /><circle class=b2 r=2.5 cx=107 cy=206.8 /><circle class=b1 r=2.8 cx=67.1 cy=217.2 /><circle class=b2 r=2.5 cx=110.5 cy=199 /><circle class=b4 r=1.85 cx=171.1 cy=171.2 /><circle class=b2 r=2.5 cx=117.9 cy=222.2 /><circle class=b2 r=2.5 cx=67.7 cy=208.2 /><circle class=b2 r=2.5 cx=67 cy=189.3 /><circle class=b2 r=2.5 cx=64.9 cy=208.2 /><circle class=b2 r=2.5 cx=70.5 cy=243.7 /><circle class=b2 r=2.5 cx=104 cy=207.4 /><circle class=b5 r=1.4 cx=145.9 cy=130.4 /><circle class=b2 r=2.5 cx=104.2 cy=199.4 /><circle class=b2 r=2.5 cx=72 cy=198.9 /><circle class=b4 r=1.85 cx=165.4 cy=268.8 /><circle class=b4 r=1.85 cx=138.8 cy=189.1 /><circle class=b2 r=2.5 cx=100.1 cy=194 /><circle class=b1 r=2.8 cx=85 cy=219.6 /><circle class=b2 r=2.5 cx=117.5 cy=219.6 /><circle class=b5 r=1.4 cx=44.1 cy=154.7 /><circle class=b2 r=2.5 cx=81 cy=185.5 /><circle class=b4 r=1.85 cx=123.3 cy=174.6 /><circle class=b5 r=1.4 cx=112.5 cy=155.7 /><circle class=b1 r=2.8 cx=73.9 cy=223.7 /><circle class=b2 r=2.5 cx=67 cy=219.9 /><circle class=b1 r=2.8 cx=97.7 cy=214.2 /><circle class=b2 r=2.5 cx=77.1 cy=230.5 /><circle class=b4 r=1.85 cx=101.8 cy=140.8 /><circle class=b2 r=2.5 cx=67.9 cy=208.6 /><circle class=b5 r=1.4 cx=86.7 cy=148.4 /><circle class=b1 r=2.8 cx=86.4 cy=208.4 /><circle class=b5 r=1.4 cx=180.1 cy=169.1 /><circle class=b1 r=2.8 cx=89.2 cy=216.1 /><circle class=b1 r=2.8 cx=91.6 cy=223 /><circle class=b1 r=2.8 cx=84.3 cy=218.2 /><circle class=b5 r=1.4 cx=173.8 cy=156.9 /><circle class=b5 r=1.4 cx=36.6 cy=161 /><circle class=b5 r=1.4 cx=107.4 cy=165.8 /><circle class=b1 r=2.8 cx=76.9 cy=211.1 /><circle class=b5 r=1.4 cx=32.7 cy=153.5 /><circle class=b5 r=1.4 cx=121.7 cy=144.3 /><circle class=b1 r=2.8 cx=65.5 cy=209.3 /><circle class=b1 r=2.8 cx=89.3 cy=224.6 /><circle class=b5 r=1.4 cx=146.7 cy=147 /><circle class=b1 r=2.8 cx=89.2 cy=205.2 /><circle class=b1 r=2.8 cx=83.4 cy=217.7 /><circle class=b1 r=2.8 cx=92.5 cy=219.6 /><circle class=b5 r=1.4 cx=188.8 cy=165.8 /><circle class=b5 r=1.4 cx=182.7 cy=137.6 /><circle class=b5 r=1.4 cx=73.6 cy=131.6 /><circle class=b5 r=1.4 cx=143.2 cy=147.3 /><circle class=b1 r=2.8 cx=92.6 cy=221.9 /><circle class=b5 r=1.4 cx=67.9 cy=149.8 /><circle class=b5 r=1.4 cx=77.6 cy=134.2 /><circle class=b1 r=2.8 cx=97.8 cy=213.2 /><circle class=b1 r=2.8 cx=88.3 cy=224.3 /><circle class=b5 r=1.4 cx=201.2 cy=157.6 /><circle class=b1 r=2.8 cx=72 cy=206.7 /><circle class=b5 r=1.4 cx=130.6 cy=137.7 /><circle class=b1 r=2.8 cx=70.6 cy=213.2 /><circle class=b1 r=2.8 cx=80.5 cy=214.4 /><circle class=b5 r=1.4 cx=182.6 cy=197.2 /><circle class=b1 r=2.8 cx=86.2 cy=219.6 /><circle class=b1 r=2.8 cx=73.3 cy=218.4 /><circle class=b1 r=2.8 cx=72.3 cy=221.8 /><circle class=b1 r=2.8 cx=86.1 cy=220 /><circle class=b5 r=1.4 cx=190.8 cy=164.8 /><circle class=b1 r=2.8 cx=81.7 cy=218.7 /><circle class=b1 r=2.8 cx=67.5 cy=220.5 /><circle class=b1 r=2.8 cx=75 cy=227.2 /><circle class=b5 r=1.4 cx=103.2 cy=135.5 /><circle class=b5 r=1.4 cx=266.6 cy=197.6 /><circle class=b1 r=2.8 cx=67.9 cy=208.8 /><circle class=b1 r=2.8 cx=97.7 cy=214 /><circle class=b5 r=1.4 cx=154.2 cy=131.2 /><circle class=b5 r=1.4 cx=136.7 cy=142.6 /><circle class=b1 r=2.8 cx=99.5 cy=211.6 /><circle class=b1 r=2.8 cx=100.4 cy=219.5 /><circle class=b1 r=2.8 cx=82 cy=203.7 /><circle class=b1 r=2.8 cx=90.9 cy=217.7 /><circle class=b1 r=2.8 cx=99 cy=214.1 /><circle class=b1 r=2.8 cx=97.8 cy=214.3 /><circle class=b5 r=1.4 cx=78.2 cy=134.9 /><circle class=b1 r=2.8 cx=80.3 cy=203.5 /><circle class=b1 r=2.8 cx=92.4 cy=203.3 /><circle class=b1 r=2.8 cx=90.9 cy=229.7 /><circle class=b1 r=2.8 cx=95.2 cy=224.4 /><circle class=b5 r=1.4 cx=118.4 cy=160.7 /><circle class=b1 r=2.8 cx=73.5 cy=223.7 /><circle class=b1 r=2.8 cx=68.5 cy=205 /><circle class=b1 r=2.8 cx=94.5 cy=228 /><circle class=b5 r=1.4 cx=82.8 cy=143.9 /><circle class=b1 r=2.8 cx=89.5 cy=216.6 /><circle class=b1 r=2.8 cx=86.5 cy=207.9 /><circle class=b1 r=2.8 cx=77.7 cy=213.5 /><circle class=b1 r=2.8 cx=84.6 cy=218.7 /><circle class=b5 r=1.4 cx=195.7 cy=172.7 /><circle class=b1 r=2.8 cx=78.3 cy=216.5 /><circle class=b1 r=2.8 cx=85.3 cy=208.1 /><circle class=b5 r=1.4 cx=123.9 cy=164 /><circle class=b1 r=2.8 cx=75.2 cy=214.3 /><circle class=b1 r=2.8 cx=107.2 cy=223.2 /><circle class=b1 r=2.8 cx=90.7 cy=227.6 /><circle class=b1 r=2.8 cx=84.8 cy=207.1 /><circle class=b1 r=2.8 cx=110.5 cy=229.7 /><circle class=b5 r=1.4 cx=151.9 cy=121 /><circle class=b5 r=1.4 cx=82.8 cy=134.9 /><circle class=b1 r=2.8 cx=98.3 cy=211.5 /><circle class=b5 r=1.4 cx=119.9 cy=161.1 /><circle class=b5 r=1.4 cx=95.4 cy=141 /><circle class=b5 r=1.4 cx=86.4 cy=148.2 /><circle class=b1 r=2.8 cx=71.6 cy=228.5 /><circle class=b5 r=1.4 cx=100.8 cy=139.5 /><circle class=b1 r=2.8 cx=72.5 cy=224.1 /><circle class=b1 r=2.8 cx=75 cy=216.7 /><circle class=b1 r=2.8 cx=96.6 cy=225.4 /><circle class=b1 r=2.8 cx=67.2 cy=208.3 /><circle class=b1 r=2.8 cx=89.2 cy=221.7 /><circle class=b1 r=2.8 cx=66 cy=216 /><circle class=b5 r=1.4 cx=171 cy=172.6 /><circle class=b5 r=1.4 cx=118.3 cy=157.1 /><circle class=b1 r=2.8 cx=81.5 cy=218.8 /><circle class=b1 r=2.8 cx=63 cy=208.6 /><circle class=b1 r=2.8 cx=56.8 cy=221.6 /><circle class=b5 r=1.4 cx=143.3 cy=134.6 /><circle class=b1 r=2.8 cx=98.7 cy=215.1 /><circle class=b5 r=1.4 cx=171.8 cy=173 /><circle class=b1 r=2.8 cx=72.8 cy=206.3 /><circle class=b1 r=2.8 cx=95.7 cy=230.9 /><circle class=b1 r=2.8 cx=85.9 cy=219.8 /><circle class=b1 r=2.8 cx=72.1 cy=202.7 /><circle class=b1 r=2.8 cx=71.6 cy=219.7 /><circle class=b1 r=2.8 cx=72.6 cy=213.9 /><circle class=b1 r=2.8 cx=68.8 cy=227.7 /><circle class=b1 r=2.8 cx=99 cy=203.8 /><circle class=b1 r=2.8 cx=85.5 cy=215.6 /><circle class=b1 r=2.8 cx=77.9 cy=209.6 /><circle class=b1 r=2.8 cx=74.7 cy=223.4 /><circle class=b5 r=1.4 cx=228.2 cy=289 /><circle class=b1 r=2.8 cx=87.3 cy=221.2 /><circle class=b1 r=2.8 cx=77.4 cy=209.4 /><circle class=b1 r=2.8 cx=81.2 cy=230.3 /><circle class=b1 r=2.8 cx=72.4 cy=216.2 /><circle class=b1 r=2.8 cx=83.7 cy=205.8 /><circle class=b1 r=2.8 cx=96 cy=232.1 /><circle class=b1 r=2.8 cx=85.2 cy=215.7 /><circle class=b1 r=2.8 cx=97.5 cy=229.7 /><circle class=b5 r=1.4 cx=173.8 cy=181.5 /><circle class=b5 r=1.4 cx=104.1 cy=130.8 /><circle class=b1 r=2.8 cx=73.3 cy=202.1 /><circle class=b5 r=1.4 cx=84.9 cy=145.2 /><circle class=b5 r=1.4 cx=156.3 cy=119.8 /><circle class=b5 r=1.4 cx=185.4 cy=139 /><circle class=b1 r=2.8 cx=95.2 cy=232.5 /><circle class=b1 r=2.8 cx=84.2 cy=208.9 /><circle class=b1 r=2.8 cx=72.2 cy=216 /><circle class=b1 r=2.8 cx=93 cy=201.5 /><circle class=b1 r=2.8 cx=67.2 cy=220.3 /><circle class=b5 r=1.4 cx=119.2 cy=165.4 /><circle class=b1 r=2.8 cx=92.6 cy=209.2 /><circle class=b1 r=2.8 cx=109.9 cy=223.1 /><circle class=b1 r=2.8 cx=92.7 cy=212.7 /><circle class=b1 r=2.8 cx=86.7 cy=209.8 /><circle class=b1 r=2.8 cx=67.2 cy=212.5 /><circle class=b1 r=2.8 cx=90.3 cy=227.9 /><circle class=b1 r=2.8 cx=78.7 cy=213.6 /><circle class=b1 r=2.8 cx=73.2 cy=206.2 /><circle class=b1 r=2.8 cx=97.9 cy=222 /><circle class=b1 r=2.8 cx=86 cy=222.7 /><circle class=b1 r=2.8 cx=74.7 cy=214.8 /><circle class=b1 r=2.8 cx=90 cy=199.5 /><circle class=b1 r=2.8 cx=78.2 cy=225.3 /><circle class=b1 r=2.8 cx=69.9 cy=229.4 /><circle class=b1 r=2.8 cx=76.8 cy=228 /><circle class=b1 r=2.8 cx=88.5 cy=219.1 /><circle class=b1 r=2.8 cx=79.1 cy=208.3 /><circle class=b1 r=2.8 cx=79 cy=200 /><circle class=b1 r=2.8 cx=84.9 cy=215.4 /><circle class=b1 r=2.8 cx=89.4 cy=210.8 /><circle class=b1 r=2.8 cx=84.8 cy=216.8 /><circle class=b1 r=2.8 cx=80.6 cy=206 /><circle class=b1 r=2.8 cx=94.5 cy=228.5 /><circle class=b1 r=2.8 cx=93.2 cy=209.3 /><circle class=b1 r=2.8 cx=84.3 cy=216.8 /><circle class=b1 r=2.8 cx=67.4 cy=208.3 /><circle class=b1 r=2.8 cx=85.2 cy=229.9 /><circle class=b1 r=2.8 cx=81.7 cy=217.7 /><circle class=b1 r=2.8 cx=75.2 cy=208.6 /><circle class=b1 r=2.8 cx=77.5 cy=211.5 /><circle class=b1 r=2.8 cx=78.8 cy=214.8 /><circle class=b1 r=2.8 cx=83.4 cy=227.8 /><circle class=b1 r=2.8 cx=80.1 cy=208.6 /><circle class=b1 r=2.8 cx=84.2 cy=215 /><circle class=b1 r=2.8 cx=89.8 cy=221.4 /><circle class=b1 r=2.8 cx=72.6 cy=214.8 /><circle class=b1 r=2.8 cx=75.7 cy=221.7 /><circle class=b1 r=2.8 cx=72.5 cy=205.8 /><circle class=b1 r=2.8 cx=67 cy=211.5 /><circle class=b1 r=2.8 cx=82.7 cy=214.2 /><circle class=b1 r=2.8 cx=70.4 cy=227 /></g>
<use href="#scale"/>
</g>
<text x="370" y="969.5" class="lt" font-size="16.3">Legend</text><circle class="b1" r="2.8" cx="377.7" cy="986.6"/><text x="389.6" y="991.7" font-size="15" xml:space="preserve">8.8270 - 9.3830</text><circle class="b2" r="2.5" cx="377.7" cy="1006.4"/><text x="389.6" y="1011.5" font-size="15" xml:space="preserve">8.2242 - 8.8269</text><circle class="b3" r="2.2" cx="377.7" cy="1026.1"/><text x="389.6" y="1031.2" font-size="15" xml:space="preserve">7.3677 - 8.2241</text><circle class="b4" r="1.85" cx="377.7" cy="1045.8"/><text x="389.6" y="1050.9" font-size="15" xml:space="preserve">6.2675 - 7.3676</text><circle class="b5" r="1.4" cx="377.7" cy="1065.5"/><text x="389.6" y="1070.6" font-size="15" xml:space="preserve">5.0442 - 6.2674</text>
<text x="535.5" y="1140.5" class="cap">(d) Significance of</text><text x="535.5" y="1173" class="cap">car ownership</text><text x="535.5" y="1205.5" class="cap">for e-bike ownership</text>
</svg>
</body></html>
